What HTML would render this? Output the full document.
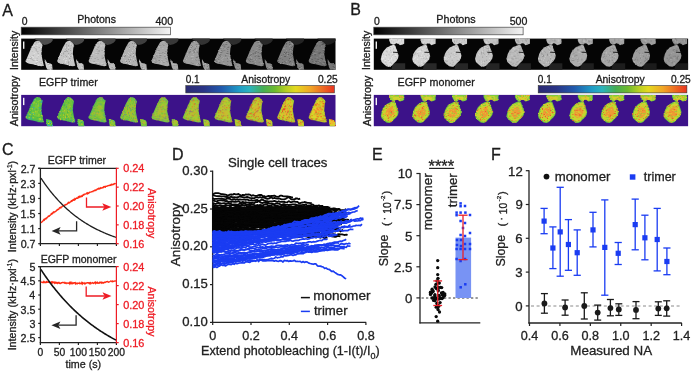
<!DOCTYPE html>
<html><head><meta charset="utf-8"><style>
html,body{margin:0;padding:0;background:#fff;}
body{width:695px;height:375px;overflow:hidden;}
svg{display:block;font-family:"Liberation Sans", sans-serif;will-change:transform;}
</style></head><body>
<svg width="695" height="375" viewBox="0 0 695 375">
<defs>
<linearGradient id="gray" x1="0" x2="1" y1="0" y2="0"><stop offset="0" stop-color="#000"/><stop offset="1" stop-color="#f4f4f4"/></linearGradient>
<linearGradient id="cbar" x1="0" x2="1" y1="0" y2="0">
<stop offset="0" stop-color="#2b2a72"/><stop offset="0.12" stop-color="#2a3486"/><stop offset="0.24" stop-color="#2159ac"/>
<stop offset="0.36" stop-color="#1f9bc6"/><stop offset="0.43" stop-color="#2cb3bc"/><stop offset="0.52" stop-color="#45ad55"/>
<stop offset="0.6" stop-color="#6cb92e"/><stop offset="0.68" stop-color="#b9cf22"/><stop offset="0.74" stop-color="#e3d91f"/>
<stop offset="0.84" stop-color="#f1a526"/><stop offset="1" stop-color="#e8321f"/></linearGradient>

</defs>
<text x="2.37" y="15.50" font-size="16.00" fill="#1b1b1b" stroke="#1b1b1b" stroke-width="0.3">A</text>
<text x="350.19" y="15.20" font-size="16.00" fill="#1b1b1b" stroke="#1b1b1b" stroke-width="0.3">B</text>
<text x="2.09" y="154.60" font-size="16.00" fill="#1b1b1b" stroke="#1b1b1b" stroke-width="0.3">C</text>
<text x="171.99" y="160.00" font-size="16.00" fill="#1b1b1b" stroke="#1b1b1b" stroke-width="0.3">D</text>
<text x="371.99" y="160.00" font-size="16.00" fill="#1b1b1b" stroke="#1b1b1b" stroke-width="0.3">E</text>
<text x="490.99" y="160.00" font-size="16.00" fill="#1b1b1b" stroke="#1b1b1b" stroke-width="0.3">F</text>
<rect x="21.20" y="27.20" width="149.30" height="7.60" fill="url(#gray)" stroke="#444" stroke-width="0.7"/>
<text x="21.79" y="25.20" font-size="10.40" fill="#1b1b1b" stroke="#1b1b1b" stroke-width="0.3">0</text>
<text x="77.34" y="23.10" font-size="10.53" fill="#1b1b1b" stroke="#1b1b1b" stroke-width="0.3">Photons</text>
<text x="155.46" y="25.20" font-size="10.60" fill="#1b1b1b" stroke="#1b1b1b" stroke-width="0.3">400</text>
<rect x="21.20" y="38.60" width="314.30" height="31.20" fill="#050505"/>
<polygon points="34.40,38.60 52.63,38.60 52.63,40.80 50.70,42.80 47.70,44.20 44.40,44.90 42.20,44.00 39.40,41.50 36.00,39.90" fill="#4e4e4e"/>
<polygon points="34.40,42.20 36.40,41.00 38.80,41.00 41.00,42.80 42.60,45.00 41.80,48.60 41.40,54.10 42.40,59.60 43.80,65.60 41.70,66.20 39.60,66.00 35.70,65.00 32.70,64.20 29.20,63.80 26.70,62.80 25.70,61.00 28.40,54.60 31.40,47.60" fill="#d0d0d0"/>
<path fill="#adadad" d="M35.7 41.0h1.0v1.0h-1.0zM38.7 41.0h1.0v1.0h-1.0zM35.7 42.0h1.0v1.0h-1.0zM37.7 42.0h1.0v1.0h-1.0zM33.7 47.0h1.0v1.0h-1.0zM38.7 47.0h1.0v1.0h-1.0zM34.7 48.0h1.0v1.0h-1.0zM35.7 49.0h1.0v1.0h-1.0zM35.7 50.0h1.0v1.0h-1.0zM36.7 51.0h1.0v1.0h-1.0zM37.7 53.0h1.0v1.0h-1.0zM32.7 55.0h1.0v1.0h-1.0zM30.7 57.0h1.0v1.0h-1.0zM27.7 58.0h1.0v1.0h-1.0zM29.7 58.0h1.0v1.0h-1.0zM30.7 58.0h1.0v1.0h-1.0zM31.7 59.0h1.0v1.0h-1.0zM25.7 60.0h1.0v1.0h-1.0zM32.7 60.0h1.0v1.0h-1.0zM36.7 60.0h1.0v1.0h-1.0zM40.7 61.0h1.0v1.0h-1.0zM35.7 63.0h1.0v1.0h-1.0zM40.7 63.0h1.0v1.0h-1.0z"/>
<path fill="#e4e4e4" d="M38.7 43.0h1.0v1.0h-1.0zM33.7 45.0h1.0v1.0h-1.0zM36.7 45.0h1.0v1.0h-1.0zM31.7 46.0h1.0v1.0h-1.0zM40.7 47.0h1.0v1.0h-1.0zM35.7 52.0h1.0v1.0h-1.0zM33.7 53.0h1.0v1.0h-1.0zM37.7 55.0h1.0v1.0h-1.0zM28.7 56.0h1.0v1.0h-1.0zM31.7 56.0h1.0v1.0h-1.0zM36.7 56.0h1.0v1.0h-1.0zM29.7 57.0h1.0v1.0h-1.0zM32.7 57.0h1.0v1.0h-1.0zM26.7 59.0h1.0v1.0h-1.0zM28.7 59.0h1.0v1.0h-1.0zM34.7 59.0h1.0v1.0h-1.0zM25.7 61.0h1.0v1.0h-1.0zM35.7 61.0h1.0v1.0h-1.0zM36.7 61.0h1.0v1.0h-1.0zM34.7 64.0h1.0v1.0h-1.0zM37.7 65.0h1.0v1.0h-1.0z"/>
<path fill="#bebebe" d="M37.7 41.0h1.0v1.0h-1.0zM35.7 43.0h1.0v1.0h-1.0zM34.7 44.0h1.0v1.0h-1.0zM35.7 46.0h1.0v1.0h-1.0zM32.7 47.0h1.0v1.0h-1.0zM30.7 48.0h1.0v1.0h-1.0zM35.7 48.0h1.0v1.0h-1.0zM39.7 50.0h1.0v1.0h-1.0zM31.7 51.0h1.0v1.0h-1.0zM37.7 51.0h1.0v1.0h-1.0zM40.7 51.0h1.0v1.0h-1.0zM36.7 52.0h1.0v1.0h-1.0zM40.7 55.0h1.0v1.0h-1.0zM29.7 56.0h1.0v1.0h-1.0zM37.7 56.0h1.0v1.0h-1.0zM36.7 58.0h1.0v1.0h-1.0zM33.7 60.0h1.0v1.0h-1.0zM38.7 61.0h1.0v1.0h-1.0zM41.7 61.0h1.0v1.0h-1.0zM36.7 62.0h1.0v1.0h-1.0zM38.7 62.0h1.0v1.0h-1.0zM41.7 64.0h1.0v1.0h-1.0zM42.7 65.0h1.0v1.0h-1.0z"/>
<polygon points="44.80,59.00 46.00,61.00 47.40,63.00 50.40,63.50 52.10,64.50 52.60,69.80 47.60,69.80 46.20,67.60 45.40,64.20 44.80,61.60" fill="#d0d0d0"/>
<path fill="#adadad" d="M44.8 61.0h1.0v1.0h-1.0zM47.8 64.0h1.0v1.0h-1.0zM50.8 66.0h1.0v1.0h-1.0zM50.8 68.0h1.0v1.0h-1.0z"/>
<path fill="#e4e4e4" d="M47.8 63.0h1.0v1.0h-1.0zM48.8 65.0h1.0v1.0h-1.0zM49.8 69.0h1.0v1.0h-1.0z"/>
<path fill="#bebebe" d="M48.8 64.0h1.0v1.0h-1.0z"/>
<polygon points="65.83,38.60 84.06,38.60 84.06,40.80 82.13,42.80 79.13,44.20 75.83,44.90 73.63,44.00 70.83,41.50 67.43,39.90" fill="#484848"/>
<polygon points="65.83,42.20 67.83,41.00 70.23,41.00 72.43,42.80 74.03,45.00 73.23,48.60 72.83,54.10 73.83,59.60 75.23,65.60 73.13,66.20 71.03,66.00 67.13,65.00 64.13,64.20 60.63,63.80 58.13,62.80 57.13,61.00 59.83,54.60 62.83,47.60" fill="#c6c6c6"/>
<path fill="#a3a3a3" d="M66.1 44.0h1.0v1.0h-1.0zM68.1 45.0h1.0v1.0h-1.0zM73.1 45.0h1.0v1.0h-1.0zM73.1 46.0h1.0v1.0h-1.0zM68.1 49.0h1.0v1.0h-1.0zM66.1 50.0h1.0v1.0h-1.0zM70.1 50.0h1.0v1.0h-1.0zM64.1 51.0h1.0v1.0h-1.0zM65.1 51.0h1.0v1.0h-1.0zM67.1 51.0h1.0v1.0h-1.0zM63.1 53.0h1.0v1.0h-1.0zM68.1 53.0h1.0v1.0h-1.0zM71.1 53.0h1.0v1.0h-1.0zM61.1 55.0h1.0v1.0h-1.0zM66.1 56.0h1.0v1.0h-1.0zM70.1 56.0h1.0v1.0h-1.0zM69.1 58.0h1.0v1.0h-1.0zM59.1 59.0h1.0v1.0h-1.0zM68.1 62.0h1.0v1.0h-1.0zM60.1 63.0h1.0v1.0h-1.0zM63.1 63.0h1.0v1.0h-1.0z"/>
<path fill="#dadada" d="M69.1 41.0h1.0v1.0h-1.0zM70.1 43.0h1.0v1.0h-1.0zM70.1 44.0h1.0v1.0h-1.0zM72.1 45.0h1.0v1.0h-1.0zM65.1 47.0h1.0v1.0h-1.0zM68.1 47.0h1.0v1.0h-1.0zM61.1 52.0h1.0v1.0h-1.0zM60.1 53.0h1.0v1.0h-1.0zM68.1 55.0h1.0v1.0h-1.0zM72.1 55.0h1.0v1.0h-1.0zM59.1 56.0h1.0v1.0h-1.0zM69.1 56.0h1.0v1.0h-1.0zM72.1 56.0h1.0v1.0h-1.0zM64.1 58.0h1.0v1.0h-1.0zM66.1 58.0h1.0v1.0h-1.0zM63.1 59.0h1.0v1.0h-1.0zM65.1 60.0h1.0v1.0h-1.0zM66.1 60.0h1.0v1.0h-1.0zM69.1 60.0h1.0v1.0h-1.0zM71.1 60.0h1.0v1.0h-1.0zM65.1 61.0h1.0v1.0h-1.0zM65.1 62.0h1.0v1.0h-1.0zM67.1 64.0h1.0v1.0h-1.0zM69.1 65.0h1.0v1.0h-1.0z"/>
<path fill="#b4b4b4" d="M66.1 45.0h1.0v1.0h-1.0zM71.1 45.0h1.0v1.0h-1.0zM66.1 46.0h1.0v1.0h-1.0zM68.1 46.0h1.0v1.0h-1.0zM66.1 47.0h1.0v1.0h-1.0zM66.1 48.0h1.0v1.0h-1.0zM70.1 48.0h1.0v1.0h-1.0zM65.1 49.0h1.0v1.0h-1.0zM66.1 51.0h1.0v1.0h-1.0zM63.1 52.0h1.0v1.0h-1.0zM61.1 53.0h1.0v1.0h-1.0zM63.1 54.0h1.0v1.0h-1.0zM70.1 54.0h1.0v1.0h-1.0zM65.1 55.0h1.0v1.0h-1.0zM63.1 56.0h1.0v1.0h-1.0zM71.1 56.0h1.0v1.0h-1.0zM58.1 57.0h1.0v1.0h-1.0zM70.1 58.0h1.0v1.0h-1.0zM70.1 60.0h1.0v1.0h-1.0zM68.1 61.0h1.0v1.0h-1.0zM68.1 63.0h1.0v1.0h-1.0zM68.1 64.0h1.0v1.0h-1.0zM74.1 64.0h1.0v1.0h-1.0zM74.1 65.0h1.0v1.0h-1.0z"/>
<polygon points="76.23,59.00 77.43,61.00 78.83,63.00 81.83,63.50 83.53,64.50 84.03,69.80 79.03,69.80 77.63,67.60 76.83,64.20 76.23,61.60" fill="#c6c6c6"/>
<path fill="#a3a3a3" d="M76.2 61.0h1.0v1.0h-1.0zM79.2 63.0h1.0v1.0h-1.0zM80.2 63.0h1.0v1.0h-1.0zM82.2 66.0h1.0v1.0h-1.0z"/>
<path fill="#dadada" d="M79.2 64.0h1.0v1.0h-1.0zM81.2 67.0h1.0v1.0h-1.0z"/>
<path fill="#b4b4b4" d="M77.2 61.0h1.0v1.0h-1.0zM77.2 63.0h1.0v1.0h-1.0zM81.2 63.0h1.0v1.0h-1.0zM78.2 64.0h1.0v1.0h-1.0zM77.2 66.0h1.0v1.0h-1.0zM79.2 69.0h1.0v1.0h-1.0z"/>
<polygon points="97.26,38.60 115.49,38.60 115.49,40.80 113.56,42.80 110.56,44.20 107.26,44.90 105.06,44.00 102.26,41.50 98.86,39.90" fill="#434343"/>
<polygon points="97.26,42.20 99.26,41.00 101.66,41.00 103.86,42.80 105.46,45.00 104.66,48.60 104.26,54.10 105.26,59.60 106.66,65.60 104.56,66.20 102.46,66.00 98.56,65.00 95.56,64.20 92.06,63.80 89.56,62.80 88.56,61.00 91.26,54.60 94.26,47.60" fill="#bcbcbc"/>
<path fill="#999999" d="M99.6 43.0h1.0v1.0h-1.0zM97.6 47.0h1.0v1.0h-1.0zM96.6 49.0h1.0v1.0h-1.0zM98.6 50.0h1.0v1.0h-1.0zM101.6 50.0h1.0v1.0h-1.0zM98.6 51.0h1.0v1.0h-1.0zM97.6 53.0h1.0v1.0h-1.0zM91.6 56.0h1.0v1.0h-1.0zM102.6 57.0h1.0v1.0h-1.0zM103.6 57.0h1.0v1.0h-1.0zM90.6 58.0h1.0v1.0h-1.0zM94.6 58.0h1.0v1.0h-1.0zM101.6 58.0h1.0v1.0h-1.0zM102.6 58.0h1.0v1.0h-1.0zM97.6 59.0h1.0v1.0h-1.0zM93.6 61.0h1.0v1.0h-1.0zM95.6 63.0h1.0v1.0h-1.0zM105.6 63.0h1.0v1.0h-1.0zM98.6 64.0h1.0v1.0h-1.0zM102.6 64.0h1.0v1.0h-1.0zM101.6 65.0h1.0v1.0h-1.0z"/>
<path fill="#d0d0d0" d="M98.6 42.0h1.0v1.0h-1.0zM98.6 43.0h1.0v1.0h-1.0zM95.6 44.0h1.0v1.0h-1.0zM96.6 45.0h1.0v1.0h-1.0zM100.6 45.0h1.0v1.0h-1.0zM102.6 45.0h1.0v1.0h-1.0zM100.6 46.0h1.0v1.0h-1.0zM95.6 47.0h1.0v1.0h-1.0zM103.6 50.0h1.0v1.0h-1.0zM95.6 52.0h1.0v1.0h-1.0zM92.6 53.0h1.0v1.0h-1.0zM103.6 53.0h1.0v1.0h-1.0zM95.6 54.0h1.0v1.0h-1.0zM90.6 55.0h1.0v1.0h-1.0zM91.6 62.0h1.0v1.0h-1.0zM93.6 62.0h1.0v1.0h-1.0zM95.6 62.0h1.0v1.0h-1.0zM97.6 62.0h1.0v1.0h-1.0zM101.6 63.0h1.0v1.0h-1.0zM104.6 65.0h1.0v1.0h-1.0z"/>
<path fill="#aaaaaa" d="M100.6 41.0h1.0v1.0h-1.0zM97.6 43.0h1.0v1.0h-1.0zM103.6 43.0h1.0v1.0h-1.0zM94.6 46.0h1.0v1.0h-1.0zM98.6 46.0h1.0v1.0h-1.0zM97.6 51.0h1.0v1.0h-1.0zM103.6 52.0h1.0v1.0h-1.0zM95.6 53.0h1.0v1.0h-1.0zM103.6 54.0h1.0v1.0h-1.0zM101.6 55.0h1.0v1.0h-1.0zM101.6 56.0h1.0v1.0h-1.0zM89.6 57.0h1.0v1.0h-1.0zM96.6 57.0h1.0v1.0h-1.0zM101.6 57.0h1.0v1.0h-1.0zM89.6 60.0h1.0v1.0h-1.0zM103.6 61.0h1.0v1.0h-1.0z"/>
<polygon points="107.66,59.00 108.86,61.00 110.26,63.00 113.26,63.50 114.96,64.50 115.46,69.80 110.46,69.80 109.06,67.60 108.26,64.20 107.66,61.60" fill="#bcbcbc"/>
<path fill="#999999" d="M108.7 62.0h1.0v1.0h-1.0zM113.7 64.0h1.0v1.0h-1.0zM111.7 67.0h1.0v1.0h-1.0z"/>
<path fill="#d0d0d0" d="M107.7 62.0h1.0v1.0h-1.0zM112.7 63.0h1.0v1.0h-1.0zM109.7 67.0h1.0v1.0h-1.0z"/>
<path fill="#aaaaaa" d="M109.7 63.0h1.0v1.0h-1.0zM108.7 64.0h1.0v1.0h-1.0zM109.7 64.0h1.0v1.0h-1.0zM113.7 65.0h1.0v1.0h-1.0zM110.7 67.0h1.0v1.0h-1.0zM114.7 67.0h1.0v1.0h-1.0zM112.7 68.0h1.0v1.0h-1.0z"/>
<polygon points="128.69,38.60 146.92,38.60 146.92,40.80 144.99,42.80 141.99,44.20 138.69,44.90 136.49,44.00 133.69,41.50 130.29,39.90" fill="#3e3e3e"/>
<polygon points="128.69,42.20 130.69,41.00 133.09,41.00 135.29,42.80 136.89,45.00 136.09,48.60 135.69,54.10 136.69,59.60 138.09,65.60 135.99,66.20 133.89,66.00 129.99,65.00 126.99,64.20 123.49,63.80 120.99,62.80 119.99,61.00 122.69,54.60 125.69,47.60" fill="#b2b2b2"/>
<path fill="#8f8f8f" d="M132.0 43.0h1.0v1.0h-1.0zM134.0 43.0h1.0v1.0h-1.0zM133.0 46.0h1.0v1.0h-1.0zM129.0 47.0h1.0v1.0h-1.0zM135.0 48.0h1.0v1.0h-1.0zM133.0 53.0h1.0v1.0h-1.0zM135.0 54.0h1.0v1.0h-1.0zM125.0 55.0h1.0v1.0h-1.0zM130.0 55.0h1.0v1.0h-1.0zM124.0 56.0h1.0v1.0h-1.0zM133.0 56.0h1.0v1.0h-1.0zM128.0 59.0h1.0v1.0h-1.0zM130.0 59.0h1.0v1.0h-1.0zM135.0 60.0h1.0v1.0h-1.0zM126.0 61.0h1.0v1.0h-1.0zM129.0 61.0h1.0v1.0h-1.0zM123.0 63.0h1.0v1.0h-1.0zM137.0 65.0h1.0v1.0h-1.0z"/>
<path fill="#c6c6c6" d="M135.0 45.0h1.0v1.0h-1.0zM129.0 48.0h1.0v1.0h-1.0zM134.0 48.0h1.0v1.0h-1.0zM132.0 50.0h1.0v1.0h-1.0zM128.0 52.0h1.0v1.0h-1.0zM131.0 52.0h1.0v1.0h-1.0zM129.0 53.0h1.0v1.0h-1.0zM123.0 54.0h1.0v1.0h-1.0zM125.0 54.0h1.0v1.0h-1.0zM127.0 54.0h1.0v1.0h-1.0zM133.0 54.0h1.0v1.0h-1.0zM128.0 55.0h1.0v1.0h-1.0zM132.0 55.0h1.0v1.0h-1.0zM135.0 56.0h1.0v1.0h-1.0zM123.0 57.0h1.0v1.0h-1.0zM129.0 58.0h1.0v1.0h-1.0zM131.0 58.0h1.0v1.0h-1.0zM133.0 59.0h1.0v1.0h-1.0zM125.0 60.0h1.0v1.0h-1.0zM130.0 61.0h1.0v1.0h-1.0zM126.0 62.0h1.0v1.0h-1.0zM128.0 63.0h1.0v1.0h-1.0zM129.0 64.0h1.0v1.0h-1.0zM130.0 64.0h1.0v1.0h-1.0z"/>
<path fill="#a0a0a0" d="M132.0 41.0h1.0v1.0h-1.0zM129.0 44.0h1.0v1.0h-1.0zM127.0 45.0h1.0v1.0h-1.0zM128.0 45.0h1.0v1.0h-1.0zM136.0 45.0h1.0v1.0h-1.0zM127.0 46.0h1.0v1.0h-1.0zM124.0 50.0h1.0v1.0h-1.0zM122.0 56.0h1.0v1.0h-1.0zM125.0 56.0h1.0v1.0h-1.0zM121.0 57.0h1.0v1.0h-1.0zM129.0 57.0h1.0v1.0h-1.0zM122.0 61.0h1.0v1.0h-1.0zM133.0 61.0h1.0v1.0h-1.0zM136.0 61.0h1.0v1.0h-1.0zM127.0 63.0h1.0v1.0h-1.0zM132.0 64.0h1.0v1.0h-1.0zM134.0 65.0h1.0v1.0h-1.0z"/>
<polygon points="139.09,59.00 140.29,61.00 141.69,63.00 144.69,63.50 146.39,64.50 146.89,69.80 141.89,69.80 140.49,67.60 139.69,64.20 139.09,61.60" fill="#b2b2b2"/>
<path fill="#8f8f8f" d="M142.1 67.0h1.0v1.0h-1.0zM146.1 68.0h1.0v1.0h-1.0zM142.1 69.0h1.0v1.0h-1.0z"/>
<path fill="#c6c6c6" d="M139.1 61.0h1.0v1.0h-1.0zM143.1 68.0h1.0v1.0h-1.0zM145.1 69.0h1.0v1.0h-1.0z"/>
<path fill="#a0a0a0" d="M145.1 64.0h1.0v1.0h-1.0zM142.1 65.0h1.0v1.0h-1.0zM146.1 69.0h1.0v1.0h-1.0z"/>
<polygon points="160.12,38.60 178.35,38.60 178.35,40.80 176.42,42.80 173.42,44.20 170.12,44.90 167.92,44.00 165.12,41.50 161.72,39.90" fill="#383838"/>
<polygon points="160.12,42.20 162.12,41.00 164.52,41.00 166.72,42.80 168.32,45.00 167.52,48.60 167.12,54.10 168.12,59.60 169.52,65.60 167.42,66.20 165.32,66.00 161.42,65.00 158.42,64.20 154.92,63.80 152.42,62.80 151.42,61.00 154.12,54.60 157.12,47.60" fill="#a8a8a8"/>
<path fill="#858585" d="M159.4 45.0h1.0v1.0h-1.0zM163.4 45.0h1.0v1.0h-1.0zM156.4 48.0h1.0v1.0h-1.0zM158.4 50.0h1.0v1.0h-1.0zM165.4 51.0h1.0v1.0h-1.0zM162.4 52.0h1.0v1.0h-1.0zM159.4 53.0h1.0v1.0h-1.0zM164.4 53.0h1.0v1.0h-1.0zM159.4 55.0h1.0v1.0h-1.0zM160.4 55.0h1.0v1.0h-1.0zM164.4 56.0h1.0v1.0h-1.0zM159.4 57.0h1.0v1.0h-1.0zM153.4 58.0h1.0v1.0h-1.0zM165.4 58.0h1.0v1.0h-1.0zM151.4 60.0h1.0v1.0h-1.0zM155.4 60.0h1.0v1.0h-1.0zM158.4 60.0h1.0v1.0h-1.0zM159.4 60.0h1.0v1.0h-1.0zM162.4 61.0h1.0v1.0h-1.0zM166.4 61.0h1.0v1.0h-1.0zM155.4 62.0h1.0v1.0h-1.0zM163.4 62.0h1.0v1.0h-1.0z"/>
<path fill="#bcbcbc" d="M163.4 41.0h1.0v1.0h-1.0zM166.4 43.0h1.0v1.0h-1.0zM158.4 46.0h1.0v1.0h-1.0zM159.4 47.0h1.0v1.0h-1.0zM162.4 48.0h1.0v1.0h-1.0zM166.4 48.0h1.0v1.0h-1.0zM157.4 51.0h1.0v1.0h-1.0zM156.4 54.0h1.0v1.0h-1.0zM158.4 54.0h1.0v1.0h-1.0zM160.4 54.0h1.0v1.0h-1.0zM164.4 54.0h1.0v1.0h-1.0zM153.4 55.0h1.0v1.0h-1.0zM166.4 56.0h1.0v1.0h-1.0zM161.4 59.0h1.0v1.0h-1.0zM154.4 60.0h1.0v1.0h-1.0zM160.4 60.0h1.0v1.0h-1.0zM161.4 61.0h1.0v1.0h-1.0zM163.4 61.0h1.0v1.0h-1.0zM152.4 62.0h1.0v1.0h-1.0zM160.4 62.0h1.0v1.0h-1.0zM160.4 63.0h1.0v1.0h-1.0z"/>
<path fill="#969696" d="M164.4 41.0h1.0v1.0h-1.0zM165.4 43.0h1.0v1.0h-1.0zM162.4 44.0h1.0v1.0h-1.0zM166.4 44.0h1.0v1.0h-1.0zM160.4 45.0h1.0v1.0h-1.0zM160.4 47.0h1.0v1.0h-1.0zM157.4 48.0h1.0v1.0h-1.0zM155.4 50.0h1.0v1.0h-1.0zM156.4 50.0h1.0v1.0h-1.0zM166.4 51.0h1.0v1.0h-1.0zM161.4 53.0h1.0v1.0h-1.0zM154.4 54.0h1.0v1.0h-1.0zM166.4 54.0h1.0v1.0h-1.0zM156.4 55.0h1.0v1.0h-1.0zM156.4 56.0h1.0v1.0h-1.0zM154.4 57.0h1.0v1.0h-1.0zM157.4 57.0h1.0v1.0h-1.0zM154.4 58.0h1.0v1.0h-1.0zM155.4 58.0h1.0v1.0h-1.0zM155.4 59.0h1.0v1.0h-1.0zM166.4 59.0h1.0v1.0h-1.0zM161.4 60.0h1.0v1.0h-1.0zM154.4 61.0h1.0v1.0h-1.0zM156.4 61.0h1.0v1.0h-1.0zM159.4 62.0h1.0v1.0h-1.0zM167.4 62.0h1.0v1.0h-1.0z"/>
<polygon points="170.52,59.00 171.72,61.00 173.12,63.00 176.12,63.50 177.82,64.50 178.32,69.80 173.32,69.80 171.92,67.60 171.12,64.20 170.52,61.60" fill="#a8a8a8"/>
<path fill="#858585" d="M175.5 63.0h1.0v1.0h-1.0zM176.5 65.0h1.0v1.0h-1.0zM173.5 69.0h1.0v1.0h-1.0zM176.5 69.0h1.0v1.0h-1.0z"/>
<path fill="#bcbcbc" d="M172.5 64.0h1.0v1.0h-1.0zM174.5 64.0h1.0v1.0h-1.0zM175.5 69.0h1.0v1.0h-1.0z"/>
<path fill="#969696" d="M170.5 61.0h1.0v1.0h-1.0zM171.5 61.0h1.0v1.0h-1.0zM173.5 65.0h1.0v1.0h-1.0zM174.5 65.0h1.0v1.0h-1.0zM176.5 68.0h1.0v1.0h-1.0z"/>
<polygon points="191.55,38.60 209.78,38.60 209.78,40.80 207.85,42.80 204.85,44.20 201.55,44.90 199.35,44.00 196.55,41.50 193.15,39.90" fill="#333333"/>
<polygon points="191.55,42.20 193.55,41.00 195.95,41.00 198.15,42.80 199.75,45.00 198.95,48.60 198.55,54.10 199.55,59.60 200.95,65.60 198.85,66.20 196.75,66.00 192.85,65.00 189.85,64.20 186.35,63.80 183.85,62.80 182.85,61.00 185.55,54.60 188.55,47.60" fill="#9e9e9e"/>
<path fill="#7b7b7b" d="M194.8 41.0h1.0v1.0h-1.0zM191.8 42.0h1.0v1.0h-1.0zM195.8 44.0h1.0v1.0h-1.0zM197.8 44.0h1.0v1.0h-1.0zM190.8 45.0h1.0v1.0h-1.0zM191.8 46.0h1.0v1.0h-1.0zM195.8 46.0h1.0v1.0h-1.0zM190.8 47.0h1.0v1.0h-1.0zM194.8 48.0h1.0v1.0h-1.0zM189.8 49.0h1.0v1.0h-1.0zM193.8 49.0h1.0v1.0h-1.0zM194.8 49.0h1.0v1.0h-1.0zM192.8 50.0h1.0v1.0h-1.0zM189.8 51.0h1.0v1.0h-1.0zM193.8 51.0h1.0v1.0h-1.0zM188.8 52.0h1.0v1.0h-1.0zM193.8 52.0h1.0v1.0h-1.0zM196.8 52.0h1.0v1.0h-1.0zM197.8 56.0h1.0v1.0h-1.0zM195.8 57.0h1.0v1.0h-1.0zM196.8 57.0h1.0v1.0h-1.0zM197.8 63.0h1.0v1.0h-1.0zM190.8 64.0h1.0v1.0h-1.0zM198.8 64.0h1.0v1.0h-1.0z"/>
<path fill="#b2b2b2" d="M193.8 41.0h1.0v1.0h-1.0zM197.8 45.0h1.0v1.0h-1.0zM190.8 46.0h1.0v1.0h-1.0zM194.8 46.0h1.0v1.0h-1.0zM189.8 48.0h1.0v1.0h-1.0zM195.8 49.0h1.0v1.0h-1.0zM194.8 51.0h1.0v1.0h-1.0zM191.8 52.0h1.0v1.0h-1.0zM186.8 53.0h1.0v1.0h-1.0zM192.8 54.0h1.0v1.0h-1.0zM187.8 56.0h1.0v1.0h-1.0zM190.8 56.0h1.0v1.0h-1.0zM191.8 56.0h1.0v1.0h-1.0zM192.8 56.0h1.0v1.0h-1.0zM185.8 59.0h1.0v1.0h-1.0zM191.8 59.0h1.0v1.0h-1.0zM193.8 59.0h1.0v1.0h-1.0zM196.8 63.0h1.0v1.0h-1.0zM195.8 64.0h1.0v1.0h-1.0z"/>
<path fill="#8c8c8c" d="M195.8 41.0h1.0v1.0h-1.0zM192.8 42.0h1.0v1.0h-1.0zM196.8 44.0h1.0v1.0h-1.0zM197.8 48.0h1.0v1.0h-1.0zM188.8 51.0h1.0v1.0h-1.0zM196.8 51.0h1.0v1.0h-1.0zM189.8 52.0h1.0v1.0h-1.0zM185.8 53.0h1.0v1.0h-1.0zM188.8 53.0h1.0v1.0h-1.0zM186.8 56.0h1.0v1.0h-1.0zM196.8 56.0h1.0v1.0h-1.0zM190.8 58.0h1.0v1.0h-1.0zM184.8 59.0h1.0v1.0h-1.0zM194.8 59.0h1.0v1.0h-1.0zM198.8 59.0h1.0v1.0h-1.0zM195.8 60.0h1.0v1.0h-1.0zM197.8 60.0h1.0v1.0h-1.0zM183.8 61.0h1.0v1.0h-1.0zM184.8 62.0h1.0v1.0h-1.0zM190.8 62.0h1.0v1.0h-1.0zM191.8 63.0h1.0v1.0h-1.0zM192.8 63.0h1.0v1.0h-1.0zM199.8 65.0h1.0v1.0h-1.0z"/>
<polygon points="201.95,59.00 203.15,61.00 204.55,63.00 207.55,63.50 209.25,64.50 209.75,69.80 204.75,69.80 203.35,67.60 202.55,64.20 201.95,61.60" fill="#9e9e9e"/>
<path fill="#7b7b7b" d="M203.9 65.0h1.0v1.0h-1.0zM206.9 66.0h1.0v1.0h-1.0zM207.9 68.0h1.0v1.0h-1.0zM208.9 69.0h1.0v1.0h-1.0z"/>
<path fill="#b2b2b2" d="M204.9 63.0h1.0v1.0h-1.0zM202.9 64.0h1.0v1.0h-1.0zM207.9 64.0h1.0v1.0h-1.0zM204.9 69.0h1.0v1.0h-1.0z"/>
<path fill="#8c8c8c" d="M206.9 64.0h1.0v1.0h-1.0zM202.9 65.0h1.0v1.0h-1.0zM207.9 65.0h1.0v1.0h-1.0zM203.9 66.0h1.0v1.0h-1.0zM205.9 68.0h1.0v1.0h-1.0z"/>
<polygon points="222.98,38.60 241.21,38.60 241.21,40.80 239.28,42.80 236.28,44.20 232.98,44.90 230.78,44.00 227.98,41.50 224.58,39.90" fill="#2e2e2e"/>
<polygon points="222.98,42.20 224.98,41.00 227.38,41.00 229.58,42.80 231.18,45.00 230.38,48.60 229.98,54.10 230.98,59.60 232.38,65.60 230.28,66.20 228.18,66.00 224.28,65.00 221.28,64.20 217.78,63.80 215.28,62.80 214.28,61.00 216.98,54.60 219.98,47.60" fill="#949494"/>
<path fill="#717171" d="M227.3 41.0h1.0v1.0h-1.0zM226.3 42.0h1.0v1.0h-1.0zM223.3 44.0h1.0v1.0h-1.0zM225.3 44.0h1.0v1.0h-1.0zM226.3 44.0h1.0v1.0h-1.0zM222.3 45.0h1.0v1.0h-1.0zM230.3 45.0h1.0v1.0h-1.0zM224.3 46.0h1.0v1.0h-1.0zM227.3 47.0h1.0v1.0h-1.0zM228.3 47.0h1.0v1.0h-1.0zM220.3 48.0h1.0v1.0h-1.0zM227.3 49.0h1.0v1.0h-1.0zM221.3 50.0h1.0v1.0h-1.0zM227.3 51.0h1.0v1.0h-1.0zM220.3 52.0h1.0v1.0h-1.0zM221.3 52.0h1.0v1.0h-1.0zM226.3 53.0h1.0v1.0h-1.0zM227.3 53.0h1.0v1.0h-1.0zM220.3 54.0h1.0v1.0h-1.0zM219.3 55.0h1.0v1.0h-1.0zM225.3 55.0h1.0v1.0h-1.0zM220.3 56.0h1.0v1.0h-1.0zM218.3 57.0h1.0v1.0h-1.0zM227.3 58.0h1.0v1.0h-1.0zM215.3 59.0h1.0v1.0h-1.0zM218.3 59.0h1.0v1.0h-1.0zM215.3 60.0h1.0v1.0h-1.0zM216.3 61.0h1.0v1.0h-1.0zM227.3 61.0h1.0v1.0h-1.0zM230.3 61.0h1.0v1.0h-1.0zM219.3 62.0h1.0v1.0h-1.0zM228.3 65.0h1.0v1.0h-1.0z"/>
<path fill="#a8a8a8" d="M226.3 41.0h1.0v1.0h-1.0zM221.3 47.0h1.0v1.0h-1.0zM224.3 48.0h1.0v1.0h-1.0zM218.3 50.0h1.0v1.0h-1.0zM220.3 51.0h1.0v1.0h-1.0zM219.3 53.0h1.0v1.0h-1.0zM226.3 54.0h1.0v1.0h-1.0zM229.3 55.0h1.0v1.0h-1.0zM221.3 56.0h1.0v1.0h-1.0zM217.3 57.0h1.0v1.0h-1.0zM223.3 57.0h1.0v1.0h-1.0zM225.3 57.0h1.0v1.0h-1.0zM228.3 57.0h1.0v1.0h-1.0zM215.3 58.0h1.0v1.0h-1.0zM222.3 58.0h1.0v1.0h-1.0zM228.3 58.0h1.0v1.0h-1.0zM221.3 59.0h1.0v1.0h-1.0zM229.3 59.0h1.0v1.0h-1.0zM230.3 59.0h1.0v1.0h-1.0zM218.3 60.0h1.0v1.0h-1.0zM222.3 60.0h1.0v1.0h-1.0zM214.3 61.0h1.0v1.0h-1.0zM218.3 61.0h1.0v1.0h-1.0zM223.3 63.0h1.0v1.0h-1.0zM228.3 64.0h1.0v1.0h-1.0zM231.3 65.0h1.0v1.0h-1.0z"/>
<path fill="#828282" d="M224.3 45.0h1.0v1.0h-1.0zM223.3 46.0h1.0v1.0h-1.0zM228.3 46.0h1.0v1.0h-1.0zM224.3 47.0h1.0v1.0h-1.0zM223.3 48.0h1.0v1.0h-1.0zM226.3 48.0h1.0v1.0h-1.0zM223.3 50.0h1.0v1.0h-1.0zM224.3 50.0h1.0v1.0h-1.0zM222.3 51.0h1.0v1.0h-1.0zM228.3 53.0h1.0v1.0h-1.0zM218.3 54.0h1.0v1.0h-1.0zM225.3 56.0h1.0v1.0h-1.0zM217.3 58.0h1.0v1.0h-1.0zM223.3 61.0h1.0v1.0h-1.0zM219.3 63.0h1.0v1.0h-1.0zM227.3 64.0h1.0v1.0h-1.0z"/>
<polygon points="233.38,59.00 234.58,61.00 235.98,63.00 238.98,63.50 240.68,64.50 241.18,69.80 236.18,69.80 234.78,67.60 233.98,64.20 233.38,61.60" fill="#949494"/>
<path fill="#717171" d="M233.4 63.0h1.0v1.0h-1.0zM237.4 66.0h1.0v1.0h-1.0zM239.4 68.0h1.0v1.0h-1.0z"/>
<path fill="#a8a8a8" d="M233.4 61.0h1.0v1.0h-1.0zM239.4 69.0h1.0v1.0h-1.0z"/>
<path fill="#828282" d="M234.4 61.0h1.0v1.0h-1.0zM234.4 63.0h1.0v1.0h-1.0zM234.4 64.0h1.0v1.0h-1.0zM235.4 64.0h1.0v1.0h-1.0zM235.4 65.0h1.0v1.0h-1.0zM236.4 68.0h1.0v1.0h-1.0zM238.4 69.0h1.0v1.0h-1.0z"/>
<polygon points="254.41,38.60 272.64,38.60 272.64,40.80 270.71,42.80 267.71,44.20 264.41,44.90 262.21,44.00 259.41,41.50 256.01,39.90" fill="#282828"/>
<polygon points="254.41,42.20 256.41,41.00 258.81,41.00 261.01,42.80 262.61,45.00 261.81,48.60 261.41,54.10 262.41,59.60 263.81,65.60 261.71,66.20 259.61,66.00 255.71,65.00 252.71,64.20 249.21,63.80 246.71,62.80 245.71,61.00 248.41,54.60 251.41,47.60" fill="#8a8a8a"/>
<path fill="#676767" d="M257.7 42.0h1.0v1.0h-1.0zM261.7 44.0h1.0v1.0h-1.0zM258.7 45.0h1.0v1.0h-1.0zM259.7 46.0h1.0v1.0h-1.0zM258.7 47.0h1.0v1.0h-1.0zM260.7 47.0h1.0v1.0h-1.0zM258.7 49.0h1.0v1.0h-1.0zM255.7 51.0h1.0v1.0h-1.0zM254.7 52.0h1.0v1.0h-1.0zM257.7 52.0h1.0v1.0h-1.0zM252.7 53.0h1.0v1.0h-1.0zM254.7 53.0h1.0v1.0h-1.0zM259.7 53.0h1.0v1.0h-1.0zM250.7 54.0h1.0v1.0h-1.0zM249.7 55.0h1.0v1.0h-1.0zM254.7 56.0h1.0v1.0h-1.0zM257.7 56.0h1.0v1.0h-1.0zM258.7 56.0h1.0v1.0h-1.0zM246.7 58.0h1.0v1.0h-1.0zM249.7 58.0h1.0v1.0h-1.0zM258.7 58.0h1.0v1.0h-1.0zM247.7 59.0h1.0v1.0h-1.0zM249.7 59.0h1.0v1.0h-1.0zM250.7 59.0h1.0v1.0h-1.0zM254.7 59.0h1.0v1.0h-1.0zM248.7 60.0h1.0v1.0h-1.0zM249.7 61.0h1.0v1.0h-1.0zM253.7 63.0h1.0v1.0h-1.0zM262.7 64.0h1.0v1.0h-1.0zM257.7 65.0h1.0v1.0h-1.0z"/>
<path fill="#9e9e9e" d="M257.7 41.0h1.0v1.0h-1.0zM258.7 41.0h1.0v1.0h-1.0zM258.7 43.0h1.0v1.0h-1.0zM256.7 47.0h1.0v1.0h-1.0zM255.7 50.0h1.0v1.0h-1.0zM260.7 51.0h1.0v1.0h-1.0zM250.7 53.0h1.0v1.0h-1.0zM255.7 54.0h1.0v1.0h-1.0zM249.7 56.0h1.0v1.0h-1.0zM250.7 57.0h1.0v1.0h-1.0zM250.7 58.0h1.0v1.0h-1.0zM253.7 59.0h1.0v1.0h-1.0zM255.7 59.0h1.0v1.0h-1.0zM259.7 60.0h1.0v1.0h-1.0zM254.7 61.0h1.0v1.0h-1.0zM254.7 63.0h1.0v1.0h-1.0zM260.7 63.0h1.0v1.0h-1.0zM262.7 63.0h1.0v1.0h-1.0z"/>
<path fill="#787878" d="M256.7 42.0h1.0v1.0h-1.0zM259.7 45.0h1.0v1.0h-1.0zM256.7 46.0h1.0v1.0h-1.0zM260.7 48.0h1.0v1.0h-1.0zM260.7 49.0h1.0v1.0h-1.0zM252.7 50.0h1.0v1.0h-1.0zM249.7 51.0h1.0v1.0h-1.0zM252.7 54.0h1.0v1.0h-1.0zM255.7 55.0h1.0v1.0h-1.0zM257.7 55.0h1.0v1.0h-1.0zM248.7 56.0h1.0v1.0h-1.0zM247.7 58.0h1.0v1.0h-1.0zM260.7 58.0h1.0v1.0h-1.0zM251.7 59.0h1.0v1.0h-1.0zM251.7 61.0h1.0v1.0h-1.0zM252.7 61.0h1.0v1.0h-1.0zM258.7 62.0h1.0v1.0h-1.0zM258.7 65.0h1.0v1.0h-1.0z"/>
<polygon points="264.81,59.00 266.01,61.00 267.41,63.00 270.41,63.50 272.11,64.50 272.61,69.80 267.61,69.80 266.21,67.60 265.41,64.20 264.81,61.60" fill="#8a8a8a"/>
<path fill="#676767" d="M265.8 61.0h1.0v1.0h-1.0zM267.8 63.0h1.0v1.0h-1.0zM270.8 65.0h1.0v1.0h-1.0zM266.8 67.0h1.0v1.0h-1.0zM268.8 68.0h1.0v1.0h-1.0zM271.8 68.0h1.0v1.0h-1.0z"/>
<path fill="#9e9e9e" d="M269.8 66.0h1.0v1.0h-1.0zM268.8 67.0h1.0v1.0h-1.0zM271.8 67.0h1.0v1.0h-1.0z"/>
<path fill="#787878" d="M270.8 64.0h1.0v1.0h-1.0zM267.8 68.0h1.0v1.0h-1.0zM271.8 69.0h1.0v1.0h-1.0z"/>
<polygon points="285.84,38.60 304.07,38.60 304.07,40.80 302.14,42.80 299.14,44.20 295.84,44.90 293.64,44.00 290.84,41.50 287.44,39.90" fill="#232323"/>
<polygon points="285.84,42.20 287.84,41.00 290.24,41.00 292.44,42.80 294.04,45.00 293.24,48.60 292.84,54.10 293.84,59.60 295.24,65.60 293.14,66.20 291.04,66.00 287.14,65.00 284.14,64.20 280.64,63.80 278.14,62.80 277.14,61.00 279.84,54.60 282.84,47.60" fill="#808080"/>
<path fill="#5d5d5d" d="M289.1 42.0h1.0v1.0h-1.0zM286.1 43.0h1.0v1.0h-1.0zM289.1 44.0h1.0v1.0h-1.0zM293.1 45.0h1.0v1.0h-1.0zM292.1 46.0h1.0v1.0h-1.0zM291.1 47.0h1.0v1.0h-1.0zM292.1 50.0h1.0v1.0h-1.0zM284.1 52.0h1.0v1.0h-1.0zM286.1 52.0h1.0v1.0h-1.0zM285.1 53.0h1.0v1.0h-1.0zM291.1 53.0h1.0v1.0h-1.0zM288.1 54.0h1.0v1.0h-1.0zM292.1 54.0h1.0v1.0h-1.0zM284.1 56.0h1.0v1.0h-1.0zM285.1 56.0h1.0v1.0h-1.0zM289.1 58.0h1.0v1.0h-1.0zM278.1 59.0h1.0v1.0h-1.0zM293.1 60.0h1.0v1.0h-1.0zM278.1 61.0h1.0v1.0h-1.0zM290.1 61.0h1.0v1.0h-1.0zM282.1 62.0h1.0v1.0h-1.0zM293.1 65.0h1.0v1.0h-1.0z"/>
<path fill="#949494" d="M291.1 43.0h1.0v1.0h-1.0zM292.1 43.0h1.0v1.0h-1.0zM292.1 44.0h1.0v1.0h-1.0zM290.1 45.0h1.0v1.0h-1.0zM289.1 46.0h1.0v1.0h-1.0zM283.1 48.0h1.0v1.0h-1.0zM284.1 48.0h1.0v1.0h-1.0zM286.1 50.0h1.0v1.0h-1.0zM290.1 50.0h1.0v1.0h-1.0zM284.1 53.0h1.0v1.0h-1.0zM287.1 53.0h1.0v1.0h-1.0zM287.1 55.0h1.0v1.0h-1.0zM281.1 56.0h1.0v1.0h-1.0zM290.1 59.0h1.0v1.0h-1.0zM286.1 61.0h1.0v1.0h-1.0zM280.1 63.0h1.0v1.0h-1.0zM283.1 63.0h1.0v1.0h-1.0zM292.1 63.0h1.0v1.0h-1.0zM287.1 64.0h1.0v1.0h-1.0zM289.1 64.0h1.0v1.0h-1.0zM292.1 64.0h1.0v1.0h-1.0z"/>
<path fill="#6e6e6e" d="M289.1 41.0h1.0v1.0h-1.0zM286.1 44.0h1.0v1.0h-1.0zM290.1 44.0h1.0v1.0h-1.0zM293.1 44.0h1.0v1.0h-1.0zM286.1 46.0h1.0v1.0h-1.0zM289.1 49.0h1.0v1.0h-1.0zM291.1 49.0h1.0v1.0h-1.0zM288.1 52.0h1.0v1.0h-1.0zM283.1 54.0h1.0v1.0h-1.0zM281.1 55.0h1.0v1.0h-1.0zM290.1 55.0h1.0v1.0h-1.0zM292.1 56.0h1.0v1.0h-1.0zM291.1 57.0h1.0v1.0h-1.0zM279.1 58.0h1.0v1.0h-1.0zM280.1 58.0h1.0v1.0h-1.0zM282.1 59.0h1.0v1.0h-1.0zM288.1 60.0h1.0v1.0h-1.0zM284.1 61.0h1.0v1.0h-1.0zM289.1 61.0h1.0v1.0h-1.0zM285.1 62.0h1.0v1.0h-1.0zM289.1 62.0h1.0v1.0h-1.0z"/>
<polygon points="296.24,59.00 297.44,61.00 298.84,63.00 301.84,63.50 303.54,64.50 304.04,69.80 299.04,69.80 297.64,67.60 296.84,64.20 296.24,61.60" fill="#808080"/>
<path fill="#5d5d5d" d="M300.2 63.0h1.0v1.0h-1.0zM301.2 63.0h1.0v1.0h-1.0zM299.2 67.0h1.0v1.0h-1.0z"/>
<path fill="#949494" d="M296.2 63.0h1.0v1.0h-1.0zM301.2 67.0h1.0v1.0h-1.0zM299.2 68.0h1.0v1.0h-1.0zM300.2 68.0h1.0v1.0h-1.0zM299.2 69.0h1.0v1.0h-1.0z"/>
<path fill="#6e6e6e" d="M297.2 66.0h1.0v1.0h-1.0zM301.2 66.0h1.0v1.0h-1.0zM297.2 67.0h1.0v1.0h-1.0zM303.2 69.0h1.0v1.0h-1.0z"/>
<polygon points="317.27,38.60 335.50,38.60 335.50,40.80 333.57,42.80 330.57,44.20 327.27,44.90 325.07,44.00 322.27,41.50 318.87,39.90" fill="#1e1e1e"/>
<polygon points="317.27,42.20 319.27,41.00 321.67,41.00 323.87,42.80 325.47,45.00 324.67,48.60 324.27,54.10 325.27,59.60 326.67,65.60 324.57,66.20 322.47,66.00 318.57,65.00 315.57,64.20 312.07,63.80 309.57,62.80 308.57,61.00 311.27,54.60 314.27,47.60" fill="#767676"/>
<path fill="#535353" d="M321.6 42.0h1.0v1.0h-1.0zM322.6 43.0h1.0v1.0h-1.0zM323.6 43.0h1.0v1.0h-1.0zM321.6 44.0h1.0v1.0h-1.0zM322.6 44.0h1.0v1.0h-1.0zM313.6 49.0h1.0v1.0h-1.0zM312.6 50.0h1.0v1.0h-1.0zM313.6 51.0h1.0v1.0h-1.0zM319.6 52.0h1.0v1.0h-1.0zM323.6 52.0h1.0v1.0h-1.0zM311.6 53.0h1.0v1.0h-1.0zM318.6 53.0h1.0v1.0h-1.0zM314.6 54.0h1.0v1.0h-1.0zM320.6 58.0h1.0v1.0h-1.0zM321.6 58.0h1.0v1.0h-1.0zM311.6 59.0h1.0v1.0h-1.0zM317.6 59.0h1.0v1.0h-1.0zM321.6 59.0h1.0v1.0h-1.0zM312.6 61.0h1.0v1.0h-1.0zM315.6 61.0h1.0v1.0h-1.0zM323.6 62.0h1.0v1.0h-1.0zM314.6 63.0h1.0v1.0h-1.0zM325.6 64.0h1.0v1.0h-1.0zM322.6 65.0h1.0v1.0h-1.0z"/>
<path fill="#8a8a8a" d="M318.6 41.0h1.0v1.0h-1.0zM316.6 43.0h1.0v1.0h-1.0zM320.6 46.0h1.0v1.0h-1.0zM322.6 49.0h1.0v1.0h-1.0zM323.6 49.0h1.0v1.0h-1.0zM316.6 50.0h1.0v1.0h-1.0zM313.6 53.0h1.0v1.0h-1.0zM314.6 53.0h1.0v1.0h-1.0zM315.6 53.0h1.0v1.0h-1.0zM312.6 54.0h1.0v1.0h-1.0zM320.6 54.0h1.0v1.0h-1.0zM322.6 54.0h1.0v1.0h-1.0zM319.6 55.0h1.0v1.0h-1.0zM319.6 56.0h1.0v1.0h-1.0zM310.6 57.0h1.0v1.0h-1.0zM316.6 57.0h1.0v1.0h-1.0zM309.6 59.0h1.0v1.0h-1.0zM320.6 59.0h1.0v1.0h-1.0zM318.6 60.0h1.0v1.0h-1.0zM323.6 60.0h1.0v1.0h-1.0zM313.6 61.0h1.0v1.0h-1.0zM319.6 61.0h1.0v1.0h-1.0zM324.6 61.0h1.0v1.0h-1.0zM314.6 62.0h1.0v1.0h-1.0zM317.6 62.0h1.0v1.0h-1.0zM313.6 63.0h1.0v1.0h-1.0zM322.6 63.0h1.0v1.0h-1.0z"/>
<path fill="#646464" d="M320.6 42.0h1.0v1.0h-1.0zM324.6 44.0h1.0v1.0h-1.0zM316.6 45.0h1.0v1.0h-1.0zM319.6 45.0h1.0v1.0h-1.0zM315.6 46.0h1.0v1.0h-1.0zM319.6 46.0h1.0v1.0h-1.0zM324.6 46.0h1.0v1.0h-1.0zM314.6 49.0h1.0v1.0h-1.0zM322.6 50.0h1.0v1.0h-1.0zM323.6 50.0h1.0v1.0h-1.0zM318.6 52.0h1.0v1.0h-1.0zM310.6 55.0h1.0v1.0h-1.0zM311.6 55.0h1.0v1.0h-1.0zM314.6 55.0h1.0v1.0h-1.0zM323.6 56.0h1.0v1.0h-1.0zM314.6 58.0h1.0v1.0h-1.0zM317.6 61.0h1.0v1.0h-1.0zM319.6 62.0h1.0v1.0h-1.0zM320.6 63.0h1.0v1.0h-1.0zM321.6 64.0h1.0v1.0h-1.0zM324.6 65.0h1.0v1.0h-1.0z"/>
<polygon points="327.67,59.00 328.87,61.00 330.27,63.00 333.27,63.50 334.97,64.50 335.47,69.80 330.47,69.80 329.07,67.60 328.27,64.20 327.67,61.60" fill="#767676"/>
<path fill="#535353" d="M332.7 66.0h1.0v1.0h-1.0zM333.7 67.0h1.0v1.0h-1.0zM331.7 69.0h1.0v1.0h-1.0z"/>
<path fill="#8a8a8a" d="M332.7 63.0h1.0v1.0h-1.0zM328.7 64.0h1.0v1.0h-1.0zM333.7 68.0h1.0v1.0h-1.0zM334.7 69.0h1.0v1.0h-1.0z"/>
<path fill="#646464" d="M332.7 64.0h1.0v1.0h-1.0z"/>
<rect x="23.00" y="41.50" width="1.40" height="7.30" fill="#f0f0f0"/>
<text x="38.93" y="85.70" font-size="10.61" fill="#1b1b1b" stroke="#1b1b1b" stroke-width="0.3">EGFP trimer</text>
<rect x="185.80" y="85.60" width="148.50" height="7.30" fill="url(#cbar)" stroke="#333" stroke-width="0.6"/>
<text x="185.71" y="83.20" font-size="10.00" fill="#1b1b1b" stroke="#1b1b1b" stroke-width="0.3">0.1</text>
<text x="241.28" y="83.00" font-size="10.38" fill="#1b1b1b" stroke="#1b1b1b" stroke-width="0.3">Anisotropy</text>
<text x="317.90" y="83.20" font-size="10.20" fill="#1b1b1b" stroke="#1b1b1b" stroke-width="0.3">0.25</text>
<rect x="21.20" y="94.90" width="314.30" height="31.30" fill="#3c1289"/>
<polygon points="34.40,98.50 36.40,97.30 38.80,97.30 41.00,99.10 42.60,101.30 41.80,104.90 41.40,110.40 42.40,115.90 43.80,121.90 41.70,122.50 39.60,122.30 35.70,121.30 32.70,120.50 29.20,120.10 26.70,119.10 25.70,117.30 28.40,110.90 31.40,103.90" fill="#46b95a"/>
<polygon points="34.74,100.81 36.38,99.83 38.35,99.83 40.16,101.31 41.47,103.11 40.81,106.06 40.48,110.57 41.30,115.08 42.45,120.00 40.73,120.50 39.01,120.33 35.81,119.51 33.35,118.86 30.48,118.53 28.43,117.71 27.61,116.23 29.82,110.98 32.28,105.24" fill="#64c33c"/>
<polygon points="35.36,104.93 36.36,104.33 37.56,104.33 38.66,105.23 39.46,106.33 39.06,108.13 38.86,110.88 39.36,113.63 40.06,116.63 39.01,116.93 37.96,116.83 36.01,116.33 34.51,115.93 32.76,115.73 31.51,115.23 31.01,114.33 32.36,111.13 33.86,107.63" fill="#78c837"/>
<path fill="#32aab4" d="M33.7 99.3h1.0v1.0h-1.0zM41.7 100.3h1.0v1.0h-1.0zM40.7 101.3h1.0v1.0h-1.0zM40.7 102.3h1.0v1.0h-1.0zM31.7 103.3h1.0v1.0h-1.0zM36.7 104.3h1.0v1.0h-1.0zM30.7 105.3h1.0v1.0h-1.0zM32.7 107.3h1.0v1.0h-1.0zM33.7 107.3h1.0v1.0h-1.0zM38.7 107.3h1.0v1.0h-1.0zM39.7 107.3h1.0v1.0h-1.0zM32.7 109.3h1.0v1.0h-1.0zM39.7 109.3h1.0v1.0h-1.0zM29.7 112.3h1.0v1.0h-1.0zM40.7 112.3h1.0v1.0h-1.0zM31.7 113.3h1.0v1.0h-1.0zM33.7 113.3h1.0v1.0h-1.0zM27.7 114.3h1.0v1.0h-1.0zM27.7 115.3h1.0v1.0h-1.0zM30.7 115.3h1.0v1.0h-1.0zM30.7 117.3h1.0v1.0h-1.0zM28.7 118.3h1.0v1.0h-1.0zM30.7 118.3h1.0v1.0h-1.0z"/>
<path fill="#c8d728" d="M34.7 99.3h1.0v1.0h-1.0zM39.7 100.3h1.0v1.0h-1.0zM37.7 101.3h1.0v1.0h-1.0zM33.7 102.3h1.0v1.0h-1.0zM35.7 103.3h1.0v1.0h-1.0zM37.7 105.3h1.0v1.0h-1.0zM31.7 108.3h1.0v1.0h-1.0zM29.7 110.3h1.0v1.0h-1.0zM39.7 110.3h1.0v1.0h-1.0zM34.7 111.3h1.0v1.0h-1.0zM36.7 111.3h1.0v1.0h-1.0zM32.7 112.3h1.0v1.0h-1.0zM29.7 114.3h1.0v1.0h-1.0zM32.7 114.3h1.0v1.0h-1.0zM38.7 114.3h1.0v1.0h-1.0zM40.7 115.3h1.0v1.0h-1.0zM41.7 115.3h1.0v1.0h-1.0zM25.7 116.3h1.0v1.0h-1.0zM28.7 117.3h1.0v1.0h-1.0zM32.7 117.3h1.0v1.0h-1.0zM38.7 118.3h1.0v1.0h-1.0zM39.7 118.3h1.0v1.0h-1.0zM39.7 119.3h1.0v1.0h-1.0z"/>
<path fill="#3caf50" d="M35.7 98.3h1.0v1.0h-1.0zM36.7 98.3h1.0v1.0h-1.0zM38.7 98.3h1.0v1.0h-1.0zM29.7 106.3h1.0v1.0h-1.0zM35.7 109.3h1.0v1.0h-1.0zM30.7 110.3h1.0v1.0h-1.0zM29.7 111.3h1.0v1.0h-1.0zM37.7 111.3h1.0v1.0h-1.0zM28.7 112.3h1.0v1.0h-1.0zM31.7 114.3h1.0v1.0h-1.0zM39.7 114.3h1.0v1.0h-1.0zM28.7 115.3h1.0v1.0h-1.0zM32.7 115.3h1.0v1.0h-1.0zM30.7 116.3h1.0v1.0h-1.0zM40.7 116.3h1.0v1.0h-1.0zM36.7 117.3h1.0v1.0h-1.0zM38.7 117.3h1.0v1.0h-1.0z"/>
<path fill="#96cd32" d="M36.7 97.3h1.0v1.0h-1.0zM39.7 98.3h1.0v1.0h-1.0zM38.7 100.3h1.0v1.0h-1.0zM33.7 101.3h1.0v1.0h-1.0zM32.7 102.3h1.0v1.0h-1.0zM32.7 103.3h1.0v1.0h-1.0zM37.7 103.3h1.0v1.0h-1.0zM40.7 103.3h1.0v1.0h-1.0zM30.7 104.3h1.0v1.0h-1.0zM37.7 104.3h1.0v1.0h-1.0zM29.7 108.3h1.0v1.0h-1.0zM31.7 109.3h1.0v1.0h-1.0zM37.7 110.3h1.0v1.0h-1.0zM27.7 112.3h1.0v1.0h-1.0zM28.7 113.3h1.0v1.0h-1.0zM28.7 114.3h1.0v1.0h-1.0zM37.7 115.3h1.0v1.0h-1.0zM41.7 116.3h1.0v1.0h-1.0zM25.7 117.3h1.0v1.0h-1.0zM41.7 119.3h1.0v1.0h-1.0zM38.7 120.3h1.0v1.0h-1.0zM42.7 121.3h1.0v1.0h-1.0z"/>
<path fill="#5abe46" d="M38.7 97.3h1.0v1.0h-1.0zM37.7 98.3h1.0v1.0h-1.0zM36.7 99.3h1.0v1.0h-1.0zM37.7 99.3h1.0v1.0h-1.0zM38.7 101.3h1.0v1.0h-1.0zM36.7 103.3h1.0v1.0h-1.0zM31.7 104.3h1.0v1.0h-1.0zM40.7 104.3h1.0v1.0h-1.0zM38.7 105.3h1.0v1.0h-1.0zM35.7 108.3h1.0v1.0h-1.0zM30.7 109.3h1.0v1.0h-1.0zM36.7 109.3h1.0v1.0h-1.0zM38.7 109.3h1.0v1.0h-1.0zM40.7 109.3h1.0v1.0h-1.0zM32.7 110.3h1.0v1.0h-1.0zM33.7 110.3h1.0v1.0h-1.0zM38.7 110.3h1.0v1.0h-1.0zM33.7 111.3h1.0v1.0h-1.0zM38.7 112.3h1.0v1.0h-1.0zM26.7 114.3h1.0v1.0h-1.0zM36.7 114.3h1.0v1.0h-1.0zM34.7 116.3h1.0v1.0h-1.0zM37.7 117.3h1.0v1.0h-1.0zM34.7 118.3h1.0v1.0h-1.0zM35.7 118.3h1.0v1.0h-1.0zM36.7 118.3h1.0v1.0h-1.0zM33.7 119.3h1.0v1.0h-1.0zM37.7 121.3h1.0v1.0h-1.0z"/>
<polygon points="46.00,119.10 48.70,119.40 51.20,120.20 52.40,121.90 52.60,126.20 47.00,126.20 46.40,123.40" fill="#46b95a"/>
<polygon points="46.57,119.68 48.79,119.93 50.84,120.59 51.82,121.98 51.99,125.51 47.39,125.51 46.90,123.21" fill="#64c33c"/>
<polygon points="47.59,120.72 48.94,120.87 50.19,121.27 50.79,122.12 50.89,124.27 48.09,124.27 47.79,122.87" fill="#78c837"/>
<path fill="#32aab4" d="M48.0 121.1h1.0v1.0h-1.0zM50.0 122.1h1.0v1.0h-1.0zM47.0 124.1h1.0v1.0h-1.0zM48.0 125.1h1.0v1.0h-1.0zM49.0 125.1h1.0v1.0h-1.0zM52.0 125.1h1.0v1.0h-1.0z"/>
<path fill="#c8d728" d="M48.0 123.1h1.0v1.0h-1.0z"/>
<path fill="#3caf50" d="M48.0 122.1h1.0v1.0h-1.0zM50.0 123.1h1.0v1.0h-1.0zM51.0 125.1h1.0v1.0h-1.0z"/>
<path fill="#96cd32" d="M51.0 123.1h1.0v1.0h-1.0z"/>
<path fill="#5abe46" d="M47.0 120.1h1.0v1.0h-1.0zM46.0 121.1h1.0v1.0h-1.0zM46.0 123.1h1.0v1.0h-1.0zM48.0 124.1h1.0v1.0h-1.0zM49.0 124.1h1.0v1.0h-1.0zM51.0 124.1h1.0v1.0h-1.0z"/>
<polygon points="65.83,98.50 67.83,97.30 70.23,97.30 72.43,99.10 74.03,101.30 73.23,104.90 72.83,110.40 73.83,115.90 75.23,121.90 73.13,122.50 71.03,122.30 67.13,121.30 64.13,120.50 60.63,120.10 58.13,119.10 57.13,117.30 59.83,110.90 62.83,103.90" fill="#52bb55"/>
<polygon points="66.17,100.81 67.81,99.83 69.78,99.83 71.59,101.31 72.90,103.11 72.24,106.06 71.91,110.57 72.73,115.08 73.88,120.00 72.16,120.50 70.44,120.33 67.24,119.51 64.78,118.86 61.91,118.53 59.86,117.71 59.04,116.23 61.25,110.98 63.71,105.24" fill="#71c439"/>
<polygon points="66.79,104.93 67.79,104.33 68.99,104.33 70.09,105.23 70.89,106.33 70.49,108.13 70.29,110.88 70.79,113.63 71.49,116.63 70.44,116.93 69.39,116.83 67.44,116.33 65.94,115.93 64.19,115.73 62.94,115.23 62.44,114.33 63.79,111.13 65.29,107.63" fill="#84c635"/>
<path fill="#46a1a4" d="M67.1 98.3h1.0v1.0h-1.0zM65.1 99.3h1.0v1.0h-1.0zM66.1 104.3h1.0v1.0h-1.0zM66.1 107.3h1.0v1.0h-1.0zM72.1 108.3h1.0v1.0h-1.0zM69.1 109.3h1.0v1.0h-1.0zM70.1 110.3h1.0v1.0h-1.0zM60.1 112.3h1.0v1.0h-1.0zM63.1 112.3h1.0v1.0h-1.0zM70.1 117.3h1.0v1.0h-1.0zM66.1 118.3h1.0v1.0h-1.0zM71.1 119.3h1.0v1.0h-1.0zM74.1 119.3h1.0v1.0h-1.0zM72.1 120.3h1.0v1.0h-1.0zM71.1 121.3h1.0v1.0h-1.0zM74.1 121.3h1.0v1.0h-1.0z"/>
<path fill="#cbc527" d="M67.1 99.3h1.0v1.0h-1.0zM64.1 100.3h1.0v1.0h-1.0zM62.1 108.3h1.0v1.0h-1.0zM64.1 110.3h1.0v1.0h-1.0zM60.1 111.3h1.0v1.0h-1.0zM68.1 111.3h1.0v1.0h-1.0zM67.1 114.3h1.0v1.0h-1.0zM63.1 115.3h1.0v1.0h-1.0zM57.1 116.3h1.0v1.0h-1.0zM65.1 116.3h1.0v1.0h-1.0zM68.1 116.3h1.0v1.0h-1.0zM63.1 117.3h1.0v1.0h-1.0zM65.1 117.3h1.0v1.0h-1.0zM60.1 118.3h1.0v1.0h-1.0zM60.1 119.3h1.0v1.0h-1.0zM73.1 120.3h1.0v1.0h-1.0zM72.1 121.3h1.0v1.0h-1.0z"/>
<path fill="#4db34b" d="M72.1 101.3h1.0v1.0h-1.0zM68.1 102.3h1.0v1.0h-1.0zM64.1 104.3h1.0v1.0h-1.0zM64.1 105.3h1.0v1.0h-1.0zM66.1 106.3h1.0v1.0h-1.0zM61.1 107.3h1.0v1.0h-1.0zM72.1 107.3h1.0v1.0h-1.0zM61.1 108.3h1.0v1.0h-1.0zM67.1 109.3h1.0v1.0h-1.0zM67.1 111.3h1.0v1.0h-1.0zM67.1 112.3h1.0v1.0h-1.0zM62.1 113.3h1.0v1.0h-1.0zM72.1 113.3h1.0v1.0h-1.0zM64.1 114.3h1.0v1.0h-1.0zM71.1 114.3h1.0v1.0h-1.0zM58.1 115.3h1.0v1.0h-1.0zM66.1 115.3h1.0v1.0h-1.0zM60.1 116.3h1.0v1.0h-1.0zM66.1 116.3h1.0v1.0h-1.0zM71.1 117.3h1.0v1.0h-1.0zM58.1 118.3h1.0v1.0h-1.0zM68.1 118.3h1.0v1.0h-1.0zM66.1 119.3h1.0v1.0h-1.0zM70.1 120.3h1.0v1.0h-1.0zM73.1 121.3h1.0v1.0h-1.0z"/>
<path fill="#a0c530" d="M68.1 97.3h1.0v1.0h-1.0zM70.1 98.3h1.0v1.0h-1.0zM68.1 99.3h1.0v1.0h-1.0zM70.1 99.3h1.0v1.0h-1.0zM71.1 99.3h1.0v1.0h-1.0zM72.1 100.3h1.0v1.0h-1.0zM64.1 101.3h1.0v1.0h-1.0zM66.1 103.3h1.0v1.0h-1.0zM69.1 104.3h1.0v1.0h-1.0zM62.1 106.3h1.0v1.0h-1.0zM69.1 106.3h1.0v1.0h-1.0zM70.1 106.3h1.0v1.0h-1.0zM59.1 111.3h1.0v1.0h-1.0zM62.1 111.3h1.0v1.0h-1.0zM63.1 111.3h1.0v1.0h-1.0zM70.1 113.3h1.0v1.0h-1.0zM63.1 114.3h1.0v1.0h-1.0zM65.1 114.3h1.0v1.0h-1.0zM60.1 115.3h1.0v1.0h-1.0zM58.1 117.3h1.0v1.0h-1.0zM67.1 117.3h1.0v1.0h-1.0zM69.1 117.3h1.0v1.0h-1.0zM73.1 118.3h1.0v1.0h-1.0zM63.1 119.3h1.0v1.0h-1.0zM64.1 119.3h1.0v1.0h-1.0z"/>
<path fill="#61bf43" d="M67.1 97.3h1.0v1.0h-1.0zM67.1 100.3h1.0v1.0h-1.0zM66.1 102.3h1.0v1.0h-1.0zM63.1 103.3h1.0v1.0h-1.0zM72.1 103.3h1.0v1.0h-1.0zM71.1 105.3h1.0v1.0h-1.0zM65.1 107.3h1.0v1.0h-1.0zM70.1 107.3h1.0v1.0h-1.0zM70.1 108.3h1.0v1.0h-1.0zM71.1 109.3h1.0v1.0h-1.0zM61.1 110.3h1.0v1.0h-1.0zM71.1 110.3h1.0v1.0h-1.0zM61.1 111.3h1.0v1.0h-1.0zM72.1 111.3h1.0v1.0h-1.0zM62.1 112.3h1.0v1.0h-1.0zM68.1 112.3h1.0v1.0h-1.0zM58.1 113.3h1.0v1.0h-1.0zM64.1 113.3h1.0v1.0h-1.0zM63.1 116.3h1.0v1.0h-1.0zM67.1 116.3h1.0v1.0h-1.0zM67.1 118.3h1.0v1.0h-1.0zM67.1 120.3h1.0v1.0h-1.0zM74.1 120.3h1.0v1.0h-1.0z"/>
<polygon points="77.43,119.10 80.13,119.40 82.63,120.20 83.83,121.90 84.03,126.20 78.43,126.20 77.83,123.40" fill="#52bb55"/>
<polygon points="78.00,119.68 80.22,119.93 82.27,120.59 83.25,121.98 83.42,125.51 78.82,125.51 78.33,123.21" fill="#71c439"/>
<polygon points="79.02,120.72 80.37,120.87 81.62,121.27 82.22,122.12 82.32,124.27 79.52,124.27 79.22,122.87" fill="#84c635"/>
<path fill="#46a1a4" d="M81.4 121.1h1.0v1.0h-1.0zM77.4 123.1h1.0v1.0h-1.0z"/>
<path fill="#cbc527" d="M81.4 120.1h1.0v1.0h-1.0zM81.4 124.1h1.0v1.0h-1.0z"/>
<path fill="#4db34b" d="M80.4 122.1h1.0v1.0h-1.0zM81.4 122.1h1.0v1.0h-1.0zM80.4 123.1h1.0v1.0h-1.0zM82.4 123.1h1.0v1.0h-1.0zM83.4 125.1h1.0v1.0h-1.0z"/>
<path fill="#a0c530" d="M78.4 119.1h1.0v1.0h-1.0zM81.4 123.1h1.0v1.0h-1.0z"/>
<path fill="#61bf43" d="M78.4 120.1h1.0v1.0h-1.0zM77.4 121.1h1.0v1.0h-1.0zM82.4 121.1h1.0v1.0h-1.0z"/>
<polygon points="97.26,98.50 99.26,97.30 101.66,97.30 103.86,99.10 105.46,101.30 104.66,104.90 104.26,110.40 105.26,115.90 106.66,121.90 104.56,122.50 102.46,122.30 98.56,121.30 95.56,120.50 92.06,120.10 89.56,119.10 88.56,117.30 91.26,110.90 94.26,103.90" fill="#5fbd50"/>
<polygon points="97.61,100.81 99.25,99.83 101.21,99.83 103.02,101.31 104.33,103.11 103.67,106.06 103.34,110.57 104.17,115.08 105.31,120.00 103.59,120.50 101.87,120.33 98.67,119.51 96.21,118.86 93.34,118.53 91.29,117.71 90.47,116.23 92.69,110.98 95.15,105.24" fill="#7fc537"/>
<polygon points="98.22,104.93 99.22,104.33 100.42,104.33 101.52,105.23 102.32,106.33 101.92,108.13 101.72,110.88 102.22,113.63 102.92,116.63 101.87,116.93 100.82,116.83 98.87,116.33 97.37,115.93 95.62,115.73 94.37,115.23 93.87,114.33 95.22,111.13 96.72,107.63" fill="#91c434"/>
<path fill="#5b9994" d="M99.6 98.3h1.0v1.0h-1.0zM100.6 100.3h1.0v1.0h-1.0zM99.6 103.3h1.0v1.0h-1.0zM100.6 104.3h1.0v1.0h-1.0zM93.6 106.3h1.0v1.0h-1.0zM101.6 109.3h1.0v1.0h-1.0zM93.6 110.3h1.0v1.0h-1.0zM103.6 111.3h1.0v1.0h-1.0zM95.6 112.3h1.0v1.0h-1.0zM97.6 112.3h1.0v1.0h-1.0zM94.6 114.3h1.0v1.0h-1.0zM103.6 114.3h1.0v1.0h-1.0zM90.6 115.3h1.0v1.0h-1.0zM93.6 115.3h1.0v1.0h-1.0zM103.6 115.3h1.0v1.0h-1.0zM93.6 118.3h1.0v1.0h-1.0zM95.6 118.3h1.0v1.0h-1.0zM103.6 119.3h1.0v1.0h-1.0zM97.6 120.3h1.0v1.0h-1.0zM101.6 120.3h1.0v1.0h-1.0z"/>
<path fill="#cfb426" d="M101.6 97.3h1.0v1.0h-1.0zM100.6 99.3h1.0v1.0h-1.0zM99.6 106.3h1.0v1.0h-1.0zM93.6 107.3h1.0v1.0h-1.0zM94.6 109.3h1.0v1.0h-1.0zM98.6 110.3h1.0v1.0h-1.0zM93.6 112.3h1.0v1.0h-1.0zM96.6 112.3h1.0v1.0h-1.0zM91.6 113.3h1.0v1.0h-1.0zM96.6 113.3h1.0v1.0h-1.0zM98.6 113.3h1.0v1.0h-1.0zM89.6 116.3h1.0v1.0h-1.0zM94.6 117.3h1.0v1.0h-1.0zM92.6 118.3h1.0v1.0h-1.0zM93.6 119.3h1.0v1.0h-1.0zM94.6 119.3h1.0v1.0h-1.0zM99.6 120.3h1.0v1.0h-1.0z"/>
<path fill="#5eb747" d="M95.6 100.3h1.0v1.0h-1.0zM97.6 100.3h1.0v1.0h-1.0zM99.6 100.3h1.0v1.0h-1.0zM93.6 105.3h1.0v1.0h-1.0zM96.6 105.3h1.0v1.0h-1.0zM93.6 108.3h1.0v1.0h-1.0zM94.6 108.3h1.0v1.0h-1.0zM101.6 110.3h1.0v1.0h-1.0zM97.6 111.3h1.0v1.0h-1.0zM94.6 116.3h1.0v1.0h-1.0zM96.6 117.3h1.0v1.0h-1.0zM90.6 118.3h1.0v1.0h-1.0zM94.6 118.3h1.0v1.0h-1.0zM97.6 118.3h1.0v1.0h-1.0zM99.6 118.3h1.0v1.0h-1.0zM102.6 120.3h1.0v1.0h-1.0zM100.6 121.3h1.0v1.0h-1.0zM103.6 121.3h1.0v1.0h-1.0z"/>
<path fill="#aabe2f" d="M99.6 97.3h1.0v1.0h-1.0zM98.6 102.3h1.0v1.0h-1.0zM103.6 102.3h1.0v1.0h-1.0zM102.6 103.3h1.0v1.0h-1.0zM97.6 106.3h1.0v1.0h-1.0zM100.6 107.3h1.0v1.0h-1.0zM98.6 108.3h1.0v1.0h-1.0zM101.6 108.3h1.0v1.0h-1.0zM102.6 112.3h1.0v1.0h-1.0zM93.6 114.3h1.0v1.0h-1.0zM98.6 114.3h1.0v1.0h-1.0zM99.6 114.3h1.0v1.0h-1.0zM101.6 116.3h1.0v1.0h-1.0zM99.6 117.3h1.0v1.0h-1.0zM100.6 117.3h1.0v1.0h-1.0zM103.6 117.3h1.0v1.0h-1.0zM100.6 118.3h1.0v1.0h-1.0zM95.6 119.3h1.0v1.0h-1.0zM96.6 119.3h1.0v1.0h-1.0zM103.6 120.3h1.0v1.0h-1.0zM104.6 120.3h1.0v1.0h-1.0z"/>
<path fill="#69c141" d="M97.6 98.3h1.0v1.0h-1.0zM96.6 99.3h1.0v1.0h-1.0zM104.6 100.3h1.0v1.0h-1.0zM98.6 101.3h1.0v1.0h-1.0zM102.6 101.3h1.0v1.0h-1.0zM95.6 103.3h1.0v1.0h-1.0zM98.6 103.3h1.0v1.0h-1.0zM101.6 103.3h1.0v1.0h-1.0zM92.6 106.3h1.0v1.0h-1.0zM96.6 108.3h1.0v1.0h-1.0zM100.6 110.3h1.0v1.0h-1.0zM95.6 111.3h1.0v1.0h-1.0zM101.6 111.3h1.0v1.0h-1.0zM103.6 113.3h1.0v1.0h-1.0zM96.6 114.3h1.0v1.0h-1.0zM104.6 115.3h1.0v1.0h-1.0zM88.6 116.3h1.0v1.0h-1.0zM88.6 117.3h1.0v1.0h-1.0zM91.6 118.3h1.0v1.0h-1.0zM103.6 118.3h1.0v1.0h-1.0zM104.6 118.3h1.0v1.0h-1.0zM100.6 119.3h1.0v1.0h-1.0zM101.6 119.3h1.0v1.0h-1.0z"/>
<polygon points="108.86,119.10 111.56,119.40 114.06,120.20 115.26,121.90 115.46,126.20 109.86,126.20 109.26,123.40" fill="#5fbd50"/>
<polygon points="109.43,119.68 111.65,119.93 113.70,120.59 114.68,121.98 114.85,125.51 110.25,125.51 109.76,123.21" fill="#7fc537"/>
<polygon points="110.45,120.72 111.80,120.87 113.05,121.27 113.65,122.12 113.75,124.27 110.95,124.27 110.65,122.87" fill="#91c434"/>
<path fill="#5b9994" d="M109.9 120.1h1.0v1.0h-1.0zM112.9 121.1h1.0v1.0h-1.0z"/>
<path fill="#cfb426" d="M108.9 119.1h1.0v1.0h-1.0zM109.9 124.1h1.0v1.0h-1.0zM113.9 125.1h1.0v1.0h-1.0z"/>
<path fill="#5eb747" d="M108.9 122.1h1.0v1.0h-1.0zM112.9 125.1h1.0v1.0h-1.0z"/>
<path fill="#aabe2f" d="M109.9 119.1h1.0v1.0h-1.0zM110.9 121.1h1.0v1.0h-1.0zM109.9 125.1h1.0v1.0h-1.0zM110.9 125.1h1.0v1.0h-1.0zM111.9 125.1h1.0v1.0h-1.0z"/>
<path fill="#69c141" d="M109.9 122.1h1.0v1.0h-1.0zM114.9 125.1h1.0v1.0h-1.0z"/>
<polygon points="128.69,98.50 130.69,97.30 133.09,97.30 135.29,99.10 136.89,101.30 136.09,104.90 135.69,110.40 136.69,115.90 138.09,121.90 135.99,122.50 133.89,122.30 129.99,121.30 126.99,120.50 123.49,120.10 120.99,119.10 119.99,117.30 122.69,110.90 125.69,103.90" fill="#6cbf4b"/>
<polygon points="129.03,100.81 130.68,99.83 132.64,99.83 134.45,101.31 135.76,103.11 135.10,106.06 134.78,110.57 135.59,115.08 136.74,120.00 135.02,120.50 133.30,120.33 130.10,119.51 127.64,118.86 124.77,118.53 122.72,117.71 121.90,116.23 124.11,110.98 126.58,105.24" fill="#8cc735"/>
<polygon points="129.65,104.93 130.65,104.33 131.85,104.33 132.95,105.23 133.75,106.33 133.35,108.13 133.15,110.88 133.65,113.63 134.35,116.63 133.30,116.93 132.25,116.83 130.30,116.33 128.80,115.93 127.05,115.73 125.80,115.23 125.30,114.33 126.65,111.13 128.15,107.63" fill="#9ec333"/>
<path fill="#6f9185" d="M135.0 100.3h1.0v1.0h-1.0zM127.0 101.3h1.0v1.0h-1.0zM135.0 101.3h1.0v1.0h-1.0zM135.0 103.3h1.0v1.0h-1.0zM127.0 105.3h1.0v1.0h-1.0zM125.0 106.3h1.0v1.0h-1.0zM129.0 107.3h1.0v1.0h-1.0zM132.0 107.3h1.0v1.0h-1.0zM130.0 108.3h1.0v1.0h-1.0zM132.0 109.3h1.0v1.0h-1.0zM130.0 110.3h1.0v1.0h-1.0zM124.0 111.3h1.0v1.0h-1.0zM128.0 112.3h1.0v1.0h-1.0zM132.0 113.3h1.0v1.0h-1.0zM124.0 114.3h1.0v1.0h-1.0zM125.0 114.3h1.0v1.0h-1.0zM135.0 114.3h1.0v1.0h-1.0zM129.0 115.3h1.0v1.0h-1.0zM123.0 116.3h1.0v1.0h-1.0zM133.0 118.3h1.0v1.0h-1.0zM133.0 121.3h1.0v1.0h-1.0z"/>
<path fill="#d2a325" d="M130.0 98.3h1.0v1.0h-1.0zM130.0 100.3h1.0v1.0h-1.0zM135.0 104.3h1.0v1.0h-1.0zM134.0 106.3h1.0v1.0h-1.0zM135.0 106.3h1.0v1.0h-1.0zM124.0 107.3h1.0v1.0h-1.0zM126.0 107.3h1.0v1.0h-1.0zM123.0 110.3h1.0v1.0h-1.0zM127.0 110.3h1.0v1.0h-1.0zM123.0 112.3h1.0v1.0h-1.0zM127.0 112.3h1.0v1.0h-1.0zM129.0 112.3h1.0v1.0h-1.0zM123.0 114.3h1.0v1.0h-1.0zM122.0 115.3h1.0v1.0h-1.0zM121.0 117.3h1.0v1.0h-1.0zM124.0 118.3h1.0v1.0h-1.0zM123.0 119.3h1.0v1.0h-1.0zM134.0 119.3h1.0v1.0h-1.0zM136.0 119.3h1.0v1.0h-1.0z"/>
<path fill="#6fbb42" d="M130.0 97.3h1.0v1.0h-1.0zM131.0 98.3h1.0v1.0h-1.0zM131.0 100.3h1.0v1.0h-1.0zM136.0 101.3h1.0v1.0h-1.0zM133.0 102.3h1.0v1.0h-1.0zM130.0 104.3h1.0v1.0h-1.0zM128.0 105.3h1.0v1.0h-1.0zM134.0 105.3h1.0v1.0h-1.0zM127.0 106.3h1.0v1.0h-1.0zM127.0 109.3h1.0v1.0h-1.0zM134.0 111.3h1.0v1.0h-1.0zM125.0 112.3h1.0v1.0h-1.0zM126.0 114.3h1.0v1.0h-1.0zM133.0 114.3h1.0v1.0h-1.0zM123.0 115.3h1.0v1.0h-1.0zM122.0 116.3h1.0v1.0h-1.0zM129.0 117.3h1.0v1.0h-1.0zM133.0 117.3h1.0v1.0h-1.0zM136.0 117.3h1.0v1.0h-1.0zM121.0 118.3h1.0v1.0h-1.0zM131.0 118.3h1.0v1.0h-1.0zM135.0 118.3h1.0v1.0h-1.0zM124.0 119.3h1.0v1.0h-1.0z"/>
<path fill="#b4b72e" d="M134.0 101.3h1.0v1.0h-1.0zM127.0 102.3h1.0v1.0h-1.0zM125.0 108.3h1.0v1.0h-1.0zM126.0 109.3h1.0v1.0h-1.0zM129.0 109.3h1.0v1.0h-1.0zM132.0 110.3h1.0v1.0h-1.0zM134.0 110.3h1.0v1.0h-1.0zM122.0 111.3h1.0v1.0h-1.0zM133.0 111.3h1.0v1.0h-1.0zM131.0 112.3h1.0v1.0h-1.0zM127.0 113.3h1.0v1.0h-1.0zM131.0 113.3h1.0v1.0h-1.0zM133.0 116.3h1.0v1.0h-1.0zM134.0 116.3h1.0v1.0h-1.0zM132.0 117.3h1.0v1.0h-1.0zM129.0 119.3h1.0v1.0h-1.0zM131.0 119.3h1.0v1.0h-1.0zM135.0 119.3h1.0v1.0h-1.0zM130.0 120.3h1.0v1.0h-1.0zM135.0 121.3h1.0v1.0h-1.0zM137.0 121.3h1.0v1.0h-1.0z"/>
<path fill="#71c33f" d="M134.0 98.3h1.0v1.0h-1.0zM131.0 99.3h1.0v1.0h-1.0zM132.0 100.3h1.0v1.0h-1.0zM133.0 101.3h1.0v1.0h-1.0zM129.0 103.3h1.0v1.0h-1.0zM132.0 103.3h1.0v1.0h-1.0zM127.0 107.3h1.0v1.0h-1.0zM133.0 107.3h1.0v1.0h-1.0zM127.0 108.3h1.0v1.0h-1.0zM134.0 108.3h1.0v1.0h-1.0zM124.0 109.3h1.0v1.0h-1.0zM130.0 109.3h1.0v1.0h-1.0zM131.0 109.3h1.0v1.0h-1.0zM135.0 109.3h1.0v1.0h-1.0zM131.0 110.3h1.0v1.0h-1.0zM122.0 113.3h1.0v1.0h-1.0zM128.0 113.3h1.0v1.0h-1.0zM121.0 114.3h1.0v1.0h-1.0zM122.0 114.3h1.0v1.0h-1.0zM126.0 116.3h1.0v1.0h-1.0zM127.0 116.3h1.0v1.0h-1.0zM128.0 117.3h1.0v1.0h-1.0zM131.0 117.3h1.0v1.0h-1.0zM127.0 118.3h1.0v1.0h-1.0zM125.0 119.3h1.0v1.0h-1.0zM132.0 119.3h1.0v1.0h-1.0zM131.0 120.3h1.0v1.0h-1.0zM136.0 121.3h1.0v1.0h-1.0z"/>
<polygon points="140.29,119.10 142.99,119.40 145.49,120.20 146.69,121.90 146.89,126.20 141.29,126.20 140.69,123.40" fill="#6cbf4b"/>
<polygon points="140.86,119.68 143.08,119.93 145.13,120.59 146.11,121.98 146.28,125.51 141.68,125.51 141.19,123.21" fill="#8cc735"/>
<polygon points="141.88,120.72 143.23,120.87 144.48,121.27 145.08,122.12 145.18,124.27 142.38,124.27 142.08,122.87" fill="#9ec333"/>
<path fill="#6f9185" d="M142.3 123.1h1.0v1.0h-1.0z"/>
<path fill="#d2a325" d="M140.3 119.1h1.0v1.0h-1.0zM141.3 121.1h1.0v1.0h-1.0zM143.3 122.1h1.0v1.0h-1.0z"/>
<path fill="#6fbb42" d="M142.3 119.1h1.0v1.0h-1.0zM145.3 124.1h1.0v1.0h-1.0zM141.3 125.1h1.0v1.0h-1.0z"/>
<path fill="#b4b72e" d="M143.3 123.1h1.0v1.0h-1.0z"/>
<path fill="#71c33f" d="M140.3 120.1h1.0v1.0h-1.0zM140.3 121.1h1.0v1.0h-1.0zM142.3 121.1h1.0v1.0h-1.0zM143.3 124.1h1.0v1.0h-1.0z"/>
<polygon points="160.12,98.50 162.12,97.30 164.52,97.30 166.72,99.10 168.32,101.30 167.52,104.90 167.12,110.40 168.12,115.90 169.52,121.90 167.42,122.50 165.32,122.30 161.42,121.30 158.42,120.50 154.92,120.10 152.42,119.10 151.42,117.30 154.12,110.90 157.12,103.90" fill="#79c146"/>
<polygon points="160.46,100.81 162.10,99.83 164.07,99.83 165.88,101.31 167.19,103.11 166.53,106.06 166.20,110.57 167.02,115.08 168.17,120.00 166.45,120.50 164.73,120.33 161.53,119.51 159.07,118.86 156.20,118.53 154.15,117.71 153.33,116.23 155.54,110.98 158.00,105.24" fill="#9ac833"/>
<polygon points="161.08,104.93 162.08,104.33 163.28,104.33 164.38,105.23 165.18,106.33 164.78,108.13 164.58,110.88 165.08,113.63 165.78,116.63 164.73,116.93 163.68,116.83 161.73,116.33 160.23,115.93 158.48,115.73 157.23,115.23 156.73,114.33 158.08,111.13 159.58,107.63" fill="#abc132"/>
<path fill="#848875" d="M160.4 100.3h1.0v1.0h-1.0zM163.4 100.3h1.0v1.0h-1.0zM166.4 100.3h1.0v1.0h-1.0zM165.4 101.3h1.0v1.0h-1.0zM159.4 102.3h1.0v1.0h-1.0zM160.4 102.3h1.0v1.0h-1.0zM166.4 105.3h1.0v1.0h-1.0zM162.4 106.3h1.0v1.0h-1.0zM157.4 107.3h1.0v1.0h-1.0zM160.4 107.3h1.0v1.0h-1.0zM157.4 109.3h1.0v1.0h-1.0zM161.4 109.3h1.0v1.0h-1.0zM164.4 109.3h1.0v1.0h-1.0zM156.4 111.3h1.0v1.0h-1.0zM164.4 113.3h1.0v1.0h-1.0zM153.4 114.3h1.0v1.0h-1.0zM152.4 115.3h1.0v1.0h-1.0zM159.4 115.3h1.0v1.0h-1.0zM154.4 116.3h1.0v1.0h-1.0zM159.4 116.3h1.0v1.0h-1.0zM165.4 116.3h1.0v1.0h-1.0zM163.4 117.3h1.0v1.0h-1.0zM165.4 117.3h1.0v1.0h-1.0zM156.4 118.3h1.0v1.0h-1.0zM158.4 118.3h1.0v1.0h-1.0zM164.4 118.3h1.0v1.0h-1.0zM165.4 118.3h1.0v1.0h-1.0zM162.4 119.3h1.0v1.0h-1.0zM167.4 120.3h1.0v1.0h-1.0z"/>
<path fill="#d69224" d="M161.4 97.3h1.0v1.0h-1.0zM164.4 97.3h1.0v1.0h-1.0zM161.4 98.3h1.0v1.0h-1.0zM159.4 99.3h1.0v1.0h-1.0zM162.4 100.3h1.0v1.0h-1.0zM157.4 103.3h1.0v1.0h-1.0zM160.4 106.3h1.0v1.0h-1.0zM166.4 106.3h1.0v1.0h-1.0zM166.4 109.3h1.0v1.0h-1.0zM161.4 111.3h1.0v1.0h-1.0zM152.4 114.3h1.0v1.0h-1.0zM164.4 114.3h1.0v1.0h-1.0zM156.4 116.3h1.0v1.0h-1.0zM162.4 116.3h1.0v1.0h-1.0zM167.4 116.3h1.0v1.0h-1.0zM156.4 119.3h1.0v1.0h-1.0zM159.4 119.3h1.0v1.0h-1.0z"/>
<path fill="#80bf3e" d="M161.4 102.3h1.0v1.0h-1.0zM162.4 102.3h1.0v1.0h-1.0zM164.4 102.3h1.0v1.0h-1.0zM159.4 106.3h1.0v1.0h-1.0zM162.4 107.3h1.0v1.0h-1.0zM165.4 109.3h1.0v1.0h-1.0zM152.4 113.3h1.0v1.0h-1.0zM159.4 114.3h1.0v1.0h-1.0zM166.4 114.3h1.0v1.0h-1.0zM167.4 115.3h1.0v1.0h-1.0zM157.4 116.3h1.0v1.0h-1.0zM161.4 116.3h1.0v1.0h-1.0zM161.4 119.3h1.0v1.0h-1.0zM160.4 120.3h1.0v1.0h-1.0zM165.4 120.3h1.0v1.0h-1.0z"/>
<path fill="#beb02d" d="M160.4 101.3h1.0v1.0h-1.0zM164.4 101.3h1.0v1.0h-1.0zM163.4 104.3h1.0v1.0h-1.0zM158.4 106.3h1.0v1.0h-1.0zM166.4 107.3h1.0v1.0h-1.0zM160.4 108.3h1.0v1.0h-1.0zM164.4 110.3h1.0v1.0h-1.0zM159.4 111.3h1.0v1.0h-1.0zM157.4 113.3h1.0v1.0h-1.0zM153.4 115.3h1.0v1.0h-1.0zM162.4 115.3h1.0v1.0h-1.0zM161.4 117.3h1.0v1.0h-1.0zM166.4 117.3h1.0v1.0h-1.0zM152.4 118.3h1.0v1.0h-1.0zM167.4 118.3h1.0v1.0h-1.0zM160.4 119.3h1.0v1.0h-1.0zM168.4 120.3h1.0v1.0h-1.0z"/>
<path fill="#79c43d" d="M160.4 98.3h1.0v1.0h-1.0zM165.4 100.3h1.0v1.0h-1.0zM158.4 102.3h1.0v1.0h-1.0zM166.4 102.3h1.0v1.0h-1.0zM160.4 104.3h1.0v1.0h-1.0zM159.4 105.3h1.0v1.0h-1.0zM162.4 108.3h1.0v1.0h-1.0zM163.4 108.3h1.0v1.0h-1.0zM161.4 112.3h1.0v1.0h-1.0zM156.4 113.3h1.0v1.0h-1.0zM161.4 113.3h1.0v1.0h-1.0zM162.4 113.3h1.0v1.0h-1.0zM166.4 113.3h1.0v1.0h-1.0zM157.4 115.3h1.0v1.0h-1.0zM155.4 116.3h1.0v1.0h-1.0zM155.4 118.3h1.0v1.0h-1.0zM166.4 118.3h1.0v1.0h-1.0z"/>
<polygon points="171.72,119.10 174.42,119.40 176.92,120.20 178.12,121.90 178.32,126.20 172.72,126.20 172.12,123.40" fill="#79c146"/>
<polygon points="172.29,119.68 174.51,119.93 176.56,120.59 177.54,121.98 177.71,125.51 173.11,125.51 172.62,123.21" fill="#9ac833"/>
<polygon points="173.31,120.72 174.66,120.87 175.91,121.27 176.51,122.12 176.61,124.27 173.81,124.27 173.51,122.87" fill="#abc132"/>
<path fill="#848875" d="M172.7 120.1h1.0v1.0h-1.0z"/>
<path fill="#d69224" d="M175.7 120.1h1.0v1.0h-1.0zM171.7 122.1h1.0v1.0h-1.0zM177.7 124.1h1.0v1.0h-1.0z"/>
<path fill="#80bf3e" d="M173.7 119.1h1.0v1.0h-1.0zM171.7 121.1h1.0v1.0h-1.0zM172.7 125.1h1.0v1.0h-1.0zM175.7 125.1h1.0v1.0h-1.0zM176.7 125.1h1.0v1.0h-1.0z"/>
<path fill="#beb02d" d="M172.7 121.1h1.0v1.0h-1.0zM176.7 121.1h1.0v1.0h-1.0z"/>
<path fill="#79c43d" d="M172.7 122.1h1.0v1.0h-1.0zM175.7 124.1h1.0v1.0h-1.0z"/>
<polygon points="191.55,98.50 193.55,97.30 195.95,97.30 198.15,99.10 199.75,101.30 198.95,104.90 198.55,110.40 199.55,115.90 200.95,121.90 198.85,122.50 196.75,122.30 192.85,121.30 189.85,120.50 186.35,120.10 183.85,119.10 182.85,117.30 185.55,110.90 188.55,103.90" fill="#85c441"/>
<polygon points="191.89,100.81 193.53,99.83 195.50,99.83 197.31,101.31 198.62,103.11 197.96,106.06 197.63,110.57 198.45,115.08 199.60,120.00 197.88,120.50 196.16,120.33 192.96,119.51 190.50,118.86 187.63,118.53 185.58,117.71 184.76,116.23 186.97,110.98 189.43,105.24" fill="#a7ca30"/>
<polygon points="192.51,104.93 193.51,104.33 194.71,104.33 195.81,105.23 196.61,106.33 196.21,108.13 196.01,110.88 196.51,113.63 197.21,116.63 196.16,116.93 195.11,116.83 193.16,116.33 191.66,115.93 189.91,115.73 188.66,115.23 188.16,114.33 189.51,111.13 191.01,107.63" fill="#b8bf31"/>
<path fill="#988066" d="M192.8 99.3h1.0v1.0h-1.0zM191.8 100.3h1.0v1.0h-1.0zM198.8 100.3h1.0v1.0h-1.0zM194.8 103.3h1.0v1.0h-1.0zM197.8 104.3h1.0v1.0h-1.0zM187.8 106.3h1.0v1.0h-1.0zM197.8 107.3h1.0v1.0h-1.0zM196.8 108.3h1.0v1.0h-1.0zM194.8 109.3h1.0v1.0h-1.0zM189.8 110.3h1.0v1.0h-1.0zM185.8 111.3h1.0v1.0h-1.0zM188.8 111.3h1.0v1.0h-1.0zM189.8 111.3h1.0v1.0h-1.0zM190.8 111.3h1.0v1.0h-1.0zM191.8 111.3h1.0v1.0h-1.0zM188.8 113.3h1.0v1.0h-1.0zM191.8 115.3h1.0v1.0h-1.0zM190.8 117.3h1.0v1.0h-1.0zM189.8 119.3h1.0v1.0h-1.0z"/>
<path fill="#d98023" d="M192.8 97.3h1.0v1.0h-1.0zM195.8 97.3h1.0v1.0h-1.0zM192.8 100.3h1.0v1.0h-1.0zM193.8 100.3h1.0v1.0h-1.0zM196.8 100.3h1.0v1.0h-1.0zM193.8 103.3h1.0v1.0h-1.0zM193.8 104.3h1.0v1.0h-1.0zM191.8 106.3h1.0v1.0h-1.0zM185.8 110.3h1.0v1.0h-1.0zM184.8 111.3h1.0v1.0h-1.0zM186.8 114.3h1.0v1.0h-1.0zM192.8 115.3h1.0v1.0h-1.0zM198.8 115.3h1.0v1.0h-1.0zM185.8 117.3h1.0v1.0h-1.0zM187.8 118.3h1.0v1.0h-1.0zM197.8 118.3h1.0v1.0h-1.0zM191.8 120.3h1.0v1.0h-1.0zM192.8 120.3h1.0v1.0h-1.0zM196.8 120.3h1.0v1.0h-1.0z"/>
<path fill="#92c339" d="M194.8 99.3h1.0v1.0h-1.0zM197.8 101.3h1.0v1.0h-1.0zM188.8 104.3h1.0v1.0h-1.0zM189.8 104.3h1.0v1.0h-1.0zM190.8 108.3h1.0v1.0h-1.0zM193.8 108.3h1.0v1.0h-1.0zM187.8 110.3h1.0v1.0h-1.0zM192.8 111.3h1.0v1.0h-1.0zM189.8 112.3h1.0v1.0h-1.0zM197.8 112.3h1.0v1.0h-1.0zM186.8 113.3h1.0v1.0h-1.0zM194.8 113.3h1.0v1.0h-1.0zM196.8 114.3h1.0v1.0h-1.0zM185.8 115.3h1.0v1.0h-1.0zM182.8 117.3h1.0v1.0h-1.0zM187.8 117.3h1.0v1.0h-1.0zM191.8 117.3h1.0v1.0h-1.0zM198.8 117.3h1.0v1.0h-1.0zM193.8 118.3h1.0v1.0h-1.0zM199.8 121.3h1.0v1.0h-1.0z"/>
<path fill="#c9a82c" d="M189.8 100.3h1.0v1.0h-1.0zM189.8 101.3h1.0v1.0h-1.0zM190.8 101.3h1.0v1.0h-1.0zM196.8 101.3h1.0v1.0h-1.0zM191.8 102.3h1.0v1.0h-1.0zM197.8 102.3h1.0v1.0h-1.0zM192.8 103.3h1.0v1.0h-1.0zM195.8 104.3h1.0v1.0h-1.0zM187.8 105.3h1.0v1.0h-1.0zM191.8 107.3h1.0v1.0h-1.0zM195.8 107.3h1.0v1.0h-1.0zM185.8 109.3h1.0v1.0h-1.0zM197.8 109.3h1.0v1.0h-1.0zM192.8 112.3h1.0v1.0h-1.0zM193.8 112.3h1.0v1.0h-1.0zM195.8 112.3h1.0v1.0h-1.0zM196.8 113.3h1.0v1.0h-1.0zM191.8 114.3h1.0v1.0h-1.0zM186.8 119.3h1.0v1.0h-1.0zM187.8 119.3h1.0v1.0h-1.0zM192.8 119.3h1.0v1.0h-1.0zM195.8 119.3h1.0v1.0h-1.0zM198.8 119.3h1.0v1.0h-1.0zM197.8 120.3h1.0v1.0h-1.0z"/>
<path fill="#80c63a" d="M196.8 99.3h1.0v1.0h-1.0zM194.8 100.3h1.0v1.0h-1.0zM193.8 106.3h1.0v1.0h-1.0zM189.8 108.3h1.0v1.0h-1.0zM186.8 110.3h1.0v1.0h-1.0zM192.8 110.3h1.0v1.0h-1.0zM193.8 114.3h1.0v1.0h-1.0zM197.8 116.3h1.0v1.0h-1.0zM183.8 117.3h1.0v1.0h-1.0zM189.8 117.3h1.0v1.0h-1.0zM197.8 117.3h1.0v1.0h-1.0z"/>
<polygon points="203.15,119.10 205.85,119.40 208.35,120.20 209.55,121.90 209.75,126.20 204.15,126.20 203.55,123.40" fill="#85c441"/>
<polygon points="203.72,119.68 205.94,119.93 207.99,120.59 208.97,121.98 209.14,125.51 204.54,125.51 204.05,123.21" fill="#a7ca30"/>
<polygon points="204.74,120.72 206.09,120.87 207.34,121.27 207.94,122.12 208.04,124.27 205.24,124.27 204.94,122.87" fill="#b8bf31"/>
<path fill="#988066" d="M205.2 121.1h1.0v1.0h-1.0z"/>
<path fill="#92c339" d="M205.2 122.1h1.0v1.0h-1.0zM207.2 125.1h1.0v1.0h-1.0z"/>
<path fill="#c9a82c" d="M207.2 123.1h1.0v1.0h-1.0zM208.2 123.1h1.0v1.0h-1.0zM206.2 124.1h1.0v1.0h-1.0z"/>
<path fill="#80c63a" d="M206.2 120.1h1.0v1.0h-1.0zM204.2 121.1h1.0v1.0h-1.0zM208.2 122.1h1.0v1.0h-1.0zM208.2 125.1h1.0v1.0h-1.0z"/>
<polygon points="222.98,98.50 224.98,97.30 227.38,97.30 229.58,99.10 231.18,101.30 230.38,104.90 229.98,110.40 230.98,115.90 232.38,121.90 230.28,122.50 228.18,122.30 224.28,121.30 221.28,120.50 217.78,120.10 215.28,119.10 214.28,117.30 216.98,110.90 219.98,103.90" fill="#92c63c"/>
<polygon points="223.32,100.81 224.96,99.83 226.93,99.83 228.74,101.31 230.05,103.11 229.39,106.06 229.06,110.57 229.88,115.08 231.03,120.00 229.31,120.50 227.59,120.33 224.39,119.51 221.93,118.86 219.06,118.53 217.01,117.71 216.19,116.23 218.40,110.98 220.86,105.24" fill="#b5cb2e"/>
<polygon points="223.94,104.93 224.94,104.33 226.14,104.33 227.24,105.23 228.04,106.33 227.64,108.13 227.44,110.88 227.94,113.63 228.64,116.63 227.59,116.93 226.54,116.83 224.59,116.33 223.09,115.93 221.34,115.73 220.09,115.23 219.59,114.33 220.94,111.13 222.44,107.63" fill="#c5be30"/>
<path fill="#ad7856" d="M228.3 98.3h1.0v1.0h-1.0zM228.3 100.3h1.0v1.0h-1.0zM229.3 100.3h1.0v1.0h-1.0zM223.3 101.3h1.0v1.0h-1.0zM220.3 102.3h1.0v1.0h-1.0zM220.3 103.3h1.0v1.0h-1.0zM222.3 103.3h1.0v1.0h-1.0zM220.3 104.3h1.0v1.0h-1.0zM224.3 105.3h1.0v1.0h-1.0zM222.3 106.3h1.0v1.0h-1.0zM222.3 109.3h1.0v1.0h-1.0zM225.3 109.3h1.0v1.0h-1.0zM219.3 110.3h1.0v1.0h-1.0zM220.3 110.3h1.0v1.0h-1.0zM222.3 112.3h1.0v1.0h-1.0zM218.3 115.3h1.0v1.0h-1.0zM221.3 115.3h1.0v1.0h-1.0zM223.3 115.3h1.0v1.0h-1.0zM227.3 115.3h1.0v1.0h-1.0zM217.3 117.3h1.0v1.0h-1.0zM215.3 118.3h1.0v1.0h-1.0zM224.3 119.3h1.0v1.0h-1.0zM230.3 119.3h1.0v1.0h-1.0zM223.3 120.3h1.0v1.0h-1.0zM224.3 120.3h1.0v1.0h-1.0zM227.3 120.3h1.0v1.0h-1.0z"/>
<path fill="#dd6f22" d="M230.3 100.3h1.0v1.0h-1.0zM228.3 105.3h1.0v1.0h-1.0zM226.3 107.3h1.0v1.0h-1.0zM229.3 107.3h1.0v1.0h-1.0zM218.3 110.3h1.0v1.0h-1.0zM220.3 111.3h1.0v1.0h-1.0zM229.3 111.3h1.0v1.0h-1.0zM218.3 112.3h1.0v1.0h-1.0zM222.3 116.3h1.0v1.0h-1.0zM216.3 117.3h1.0v1.0h-1.0zM227.3 117.3h1.0v1.0h-1.0zM219.3 118.3h1.0v1.0h-1.0zM221.3 118.3h1.0v1.0h-1.0zM231.3 121.3h1.0v1.0h-1.0z"/>
<path fill="#a3c735" d="M228.3 99.3h1.0v1.0h-1.0zM225.3 102.3h1.0v1.0h-1.0zM221.3 103.3h1.0v1.0h-1.0zM225.3 105.3h1.0v1.0h-1.0zM226.3 105.3h1.0v1.0h-1.0zM229.3 105.3h1.0v1.0h-1.0zM228.3 106.3h1.0v1.0h-1.0zM223.3 107.3h1.0v1.0h-1.0zM228.3 108.3h1.0v1.0h-1.0zM219.3 109.3h1.0v1.0h-1.0zM229.3 109.3h1.0v1.0h-1.0zM224.3 110.3h1.0v1.0h-1.0zM221.3 111.3h1.0v1.0h-1.0zM221.3 114.3h1.0v1.0h-1.0zM228.3 114.3h1.0v1.0h-1.0zM226.3 120.3h1.0v1.0h-1.0zM228.3 120.3h1.0v1.0h-1.0z"/>
<path fill="#d3a12b" d="M227.3 98.3h1.0v1.0h-1.0zM221.3 101.3h1.0v1.0h-1.0zM222.3 101.3h1.0v1.0h-1.0zM225.3 101.3h1.0v1.0h-1.0zM219.3 104.3h1.0v1.0h-1.0zM229.3 104.3h1.0v1.0h-1.0zM220.3 107.3h1.0v1.0h-1.0zM224.3 107.3h1.0v1.0h-1.0zM227.3 107.3h1.0v1.0h-1.0zM229.3 108.3h1.0v1.0h-1.0zM220.3 112.3h1.0v1.0h-1.0zM223.3 112.3h1.0v1.0h-1.0zM215.3 113.3h1.0v1.0h-1.0zM223.3 113.3h1.0v1.0h-1.0zM225.3 115.3h1.0v1.0h-1.0zM221.3 116.3h1.0v1.0h-1.0zM220.3 117.3h1.0v1.0h-1.0zM230.3 117.3h1.0v1.0h-1.0z"/>
<path fill="#88c838" d="M221.3 100.3h1.0v1.0h-1.0zM226.3 102.3h1.0v1.0h-1.0zM228.3 102.3h1.0v1.0h-1.0zM221.3 104.3h1.0v1.0h-1.0zM227.3 104.3h1.0v1.0h-1.0zM219.3 108.3h1.0v1.0h-1.0zM224.3 108.3h1.0v1.0h-1.0zM226.3 109.3h1.0v1.0h-1.0zM229.3 117.3h1.0v1.0h-1.0zM218.3 119.3h1.0v1.0h-1.0zM225.3 120.3h1.0v1.0h-1.0zM228.3 121.3h1.0v1.0h-1.0z"/>
<polygon points="234.58,119.10 237.28,119.40 239.78,120.20 240.98,121.90 241.18,126.20 235.58,126.20 234.98,123.40" fill="#92c63c"/>
<polygon points="235.15,119.68 237.37,119.93 239.42,120.59 240.40,121.98 240.57,125.51 235.97,125.51 235.48,123.21" fill="#b5cb2e"/>
<polygon points="236.17,120.72 237.52,120.87 238.77,121.27 239.37,122.12 239.47,124.27 236.67,124.27 236.37,122.87" fill="#c5be30"/>
<path fill="#ad7856" d="M238.6 120.1h1.0v1.0h-1.0zM239.6 121.1h1.0v1.0h-1.0zM238.6 125.1h1.0v1.0h-1.0z"/>
<path fill="#dd6f22" d="M238.6 121.1h1.0v1.0h-1.0zM237.6 122.1h1.0v1.0h-1.0zM239.6 123.1h1.0v1.0h-1.0z"/>
<path fill="#a3c735" d="M235.6 122.1h1.0v1.0h-1.0z"/>
<path fill="#d3a12b" d="M237.6 125.1h1.0v1.0h-1.0zM240.6 125.1h1.0v1.0h-1.0z"/>
<path fill="#88c838" d="M234.6 119.1h1.0v1.0h-1.0zM237.6 120.1h1.0v1.0h-1.0zM236.6 122.1h1.0v1.0h-1.0zM239.6 122.1h1.0v1.0h-1.0zM237.6 123.1h1.0v1.0h-1.0zM239.6 124.1h1.0v1.0h-1.0z"/>
<polygon points="254.41,98.50 256.41,97.30 258.81,97.30 261.01,99.10 262.61,101.30 261.81,104.90 261.41,110.40 262.41,115.90 263.81,121.90 261.71,122.50 259.61,122.30 255.71,121.30 252.71,120.50 249.21,120.10 246.71,119.10 245.71,117.30 248.41,110.90 251.41,103.90" fill="#9fc837"/>
<polygon points="254.75,100.81 256.39,99.83 258.36,99.83 260.17,101.31 261.48,103.11 260.82,106.06 260.49,110.57 261.31,115.08 262.46,120.00 260.74,120.50 259.02,120.33 255.82,119.51 253.36,118.86 250.49,118.53 248.44,117.71 247.62,116.23 249.83,110.98 252.29,105.24" fill="#c2cd2c"/>
<polygon points="255.37,104.93 256.37,104.33 257.57,104.33 258.67,105.23 259.47,106.33 259.07,108.13 258.87,110.88 259.37,113.63 260.07,116.63 259.02,116.93 257.97,116.83 256.02,116.33 254.52,115.93 252.77,115.73 251.52,115.23 251.02,114.33 252.37,111.13 253.87,107.63" fill="#d2bc2f"/>
<path fill="#c16f47" d="M253.7 100.3h1.0v1.0h-1.0zM254.7 100.3h1.0v1.0h-1.0zM259.7 100.3h1.0v1.0h-1.0zM254.7 102.3h1.0v1.0h-1.0zM260.7 102.3h1.0v1.0h-1.0zM257.7 103.3h1.0v1.0h-1.0zM250.7 106.3h1.0v1.0h-1.0zM258.7 106.3h1.0v1.0h-1.0zM250.7 107.3h1.0v1.0h-1.0zM256.7 110.3h1.0v1.0h-1.0zM257.7 110.3h1.0v1.0h-1.0zM255.7 111.3h1.0v1.0h-1.0zM256.7 111.3h1.0v1.0h-1.0zM250.7 112.3h1.0v1.0h-1.0zM248.7 113.3h1.0v1.0h-1.0zM252.7 114.3h1.0v1.0h-1.0zM253.7 114.3h1.0v1.0h-1.0zM261.7 115.3h1.0v1.0h-1.0zM252.7 116.3h1.0v1.0h-1.0zM255.7 116.3h1.0v1.0h-1.0zM249.7 119.3h1.0v1.0h-1.0zM250.7 119.3h1.0v1.0h-1.0zM260.7 119.3h1.0v1.0h-1.0z"/>
<path fill="#e05e21" d="M258.7 97.3h1.0v1.0h-1.0zM255.7 100.3h1.0v1.0h-1.0zM250.7 104.3h1.0v1.0h-1.0zM251.7 104.3h1.0v1.0h-1.0zM257.7 104.3h1.0v1.0h-1.0zM250.7 105.3h1.0v1.0h-1.0zM249.7 106.3h1.0v1.0h-1.0zM258.7 107.3h1.0v1.0h-1.0zM251.7 108.3h1.0v1.0h-1.0zM257.7 108.3h1.0v1.0h-1.0zM254.7 109.3h1.0v1.0h-1.0zM254.7 112.3h1.0v1.0h-1.0zM259.7 112.3h1.0v1.0h-1.0zM249.7 113.3h1.0v1.0h-1.0zM250.7 113.3h1.0v1.0h-1.0zM253.7 113.3h1.0v1.0h-1.0zM253.7 115.3h1.0v1.0h-1.0zM245.7 116.3h1.0v1.0h-1.0zM247.7 116.3h1.0v1.0h-1.0zM248.7 116.3h1.0v1.0h-1.0zM250.7 116.3h1.0v1.0h-1.0zM257.7 116.3h1.0v1.0h-1.0zM254.7 117.3h1.0v1.0h-1.0zM258.7 118.3h1.0v1.0h-1.0zM251.7 119.3h1.0v1.0h-1.0zM257.7 119.3h1.0v1.0h-1.0zM254.7 120.3h1.0v1.0h-1.0z"/>
<path fill="#b4cb30" d="M254.7 99.3h1.0v1.0h-1.0zM255.7 103.3h1.0v1.0h-1.0zM255.7 104.3h1.0v1.0h-1.0zM254.7 105.3h1.0v1.0h-1.0zM251.7 109.3h1.0v1.0h-1.0zM253.7 109.3h1.0v1.0h-1.0zM247.7 111.3h1.0v1.0h-1.0zM257.7 111.3h1.0v1.0h-1.0zM246.7 113.3h1.0v1.0h-1.0zM250.7 115.3h1.0v1.0h-1.0zM255.7 118.3h1.0v1.0h-1.0zM257.7 118.3h1.0v1.0h-1.0zM257.7 121.3h1.0v1.0h-1.0z"/>
<path fill="#dd9a2a" d="M257.7 99.3h1.0v1.0h-1.0zM259.7 99.3h1.0v1.0h-1.0zM260.7 99.3h1.0v1.0h-1.0zM252.7 100.3h1.0v1.0h-1.0zM252.7 101.3h1.0v1.0h-1.0zM257.7 101.3h1.0v1.0h-1.0zM258.7 101.3h1.0v1.0h-1.0zM261.7 101.3h1.0v1.0h-1.0zM259.7 102.3h1.0v1.0h-1.0zM253.7 103.3h1.0v1.0h-1.0zM259.7 104.3h1.0v1.0h-1.0zM249.7 107.3h1.0v1.0h-1.0zM252.7 107.3h1.0v1.0h-1.0zM257.7 107.3h1.0v1.0h-1.0zM255.7 108.3h1.0v1.0h-1.0zM258.7 108.3h1.0v1.0h-1.0zM254.7 110.3h1.0v1.0h-1.0zM251.7 113.3h1.0v1.0h-1.0zM260.7 113.3h1.0v1.0h-1.0zM247.7 114.3h1.0v1.0h-1.0zM246.7 115.3h1.0v1.0h-1.0zM252.7 115.3h1.0v1.0h-1.0zM246.7 117.3h1.0v1.0h-1.0zM259.7 117.3h1.0v1.0h-1.0zM254.7 118.3h1.0v1.0h-1.0zM256.7 120.3h1.0v1.0h-1.0zM258.7 121.3h1.0v1.0h-1.0zM261.7 121.3h1.0v1.0h-1.0z"/>
<path fill="#90c936" d="M255.7 98.3h1.0v1.0h-1.0zM259.7 106.3h1.0v1.0h-1.0zM250.7 108.3h1.0v1.0h-1.0zM250.7 109.3h1.0v1.0h-1.0zM259.7 109.3h1.0v1.0h-1.0zM250.7 110.3h1.0v1.0h-1.0zM252.7 111.3h1.0v1.0h-1.0zM251.7 112.3h1.0v1.0h-1.0zM252.7 112.3h1.0v1.0h-1.0zM250.7 114.3h1.0v1.0h-1.0zM251.7 115.3h1.0v1.0h-1.0zM249.7 117.3h1.0v1.0h-1.0zM256.7 118.3h1.0v1.0h-1.0zM253.7 120.3h1.0v1.0h-1.0zM262.7 120.3h1.0v1.0h-1.0z"/>
<polygon points="266.01,119.10 268.71,119.40 271.21,120.20 272.41,121.90 272.61,126.20 267.01,126.20 266.41,123.40" fill="#9fc837"/>
<polygon points="266.58,119.68 268.80,119.93 270.85,120.59 271.83,121.98 272.00,125.51 267.40,125.51 266.91,123.21" fill="#c2cd2c"/>
<polygon points="267.60,120.72 268.95,120.87 270.20,121.27 270.80,122.12 270.90,124.27 268.10,124.27 267.80,122.87" fill="#d2bc2f"/>
<path fill="#c16f47" d="M266.0 121.1h1.0v1.0h-1.0zM268.0 122.1h1.0v1.0h-1.0zM270.0 123.1h1.0v1.0h-1.0z"/>
<path fill="#e05e21" d="M269.0 123.1h1.0v1.0h-1.0zM267.0 125.1h1.0v1.0h-1.0z"/>
<path fill="#b4cb30" d="M266.0 119.1h1.0v1.0h-1.0zM270.0 122.1h1.0v1.0h-1.0zM271.0 124.1h1.0v1.0h-1.0z"/>
<path fill="#dd9a2a" d="M267.0 119.1h1.0v1.0h-1.0zM266.0 120.1h1.0v1.0h-1.0zM270.0 121.1h1.0v1.0h-1.0zM267.0 123.1h1.0v1.0h-1.0zM268.0 123.1h1.0v1.0h-1.0zM271.0 125.1h1.0v1.0h-1.0z"/>
<path fill="#90c936" d="M267.0 122.1h1.0v1.0h-1.0zM270.0 124.1h1.0v1.0h-1.0z"/>
<polygon points="285.84,98.50 287.84,97.30 290.24,97.30 292.44,99.10 294.04,101.30 293.24,104.90 292.84,110.40 293.84,115.90 295.24,121.90 293.14,122.50 291.04,122.30 287.14,121.30 284.14,120.50 280.64,120.10 278.14,119.10 277.14,117.30 279.84,110.90 282.84,103.90" fill="#acca32"/>
<polygon points="286.19,100.81 287.82,99.83 289.79,99.83 291.60,101.31 292.91,103.11 292.25,106.06 291.92,110.57 292.75,115.08 293.89,120.00 292.17,120.50 290.45,120.33 287.25,119.51 284.79,118.86 281.92,118.53 279.87,117.71 279.05,116.23 281.26,110.98 283.72,105.24" fill="#d0ce2a"/>
<polygon points="286.80,104.93 287.80,104.33 289.00,104.33 290.10,105.23 290.90,106.33 290.50,108.13 290.30,110.88 290.80,113.63 291.50,116.63 290.45,116.93 289.40,116.83 287.45,116.33 285.95,115.93 284.20,115.73 282.95,115.23 282.45,114.33 283.80,111.13 285.30,107.63" fill="#dfba2e"/>
<path fill="#d66737" d="M289.1 97.3h1.0v1.0h-1.0zM288.1 98.3h1.0v1.0h-1.0zM290.1 99.3h1.0v1.0h-1.0zM282.1 104.3h1.0v1.0h-1.0zM285.1 105.3h1.0v1.0h-1.0zM289.1 105.3h1.0v1.0h-1.0zM291.1 106.3h1.0v1.0h-1.0zM285.1 108.3h1.0v1.0h-1.0zM282.1 109.3h1.0v1.0h-1.0zM285.1 111.3h1.0v1.0h-1.0zM287.1 111.3h1.0v1.0h-1.0zM290.1 111.3h1.0v1.0h-1.0zM281.1 112.3h1.0v1.0h-1.0zM287.1 112.3h1.0v1.0h-1.0zM286.1 114.3h1.0v1.0h-1.0zM289.1 114.3h1.0v1.0h-1.0zM279.1 115.3h1.0v1.0h-1.0zM283.1 115.3h1.0v1.0h-1.0zM293.1 116.3h1.0v1.0h-1.0zM283.1 117.3h1.0v1.0h-1.0zM291.1 117.3h1.0v1.0h-1.0zM292.1 118.3h1.0v1.0h-1.0zM282.1 119.3h1.0v1.0h-1.0zM289.1 121.3h1.0v1.0h-1.0z"/>
<path fill="#e44d20" d="M287.1 99.3h1.0v1.0h-1.0zM288.1 99.3h1.0v1.0h-1.0zM285.1 100.3h1.0v1.0h-1.0zM284.1 106.3h1.0v1.0h-1.0zM285.1 106.3h1.0v1.0h-1.0zM290.1 106.3h1.0v1.0h-1.0zM281.1 107.3h1.0v1.0h-1.0zM283.1 108.3h1.0v1.0h-1.0zM284.1 108.3h1.0v1.0h-1.0zM292.1 108.3h1.0v1.0h-1.0zM283.1 109.3h1.0v1.0h-1.0zM284.1 109.3h1.0v1.0h-1.0zM282.1 110.3h1.0v1.0h-1.0zM282.1 111.3h1.0v1.0h-1.0zM288.1 111.3h1.0v1.0h-1.0zM291.1 114.3h1.0v1.0h-1.0zM288.1 116.3h1.0v1.0h-1.0zM277.1 117.3h1.0v1.0h-1.0zM279.1 117.3h1.0v1.0h-1.0zM282.1 117.3h1.0v1.0h-1.0zM287.1 117.3h1.0v1.0h-1.0zM289.1 117.3h1.0v1.0h-1.0zM286.1 119.3h1.0v1.0h-1.0zM291.1 121.3h1.0v1.0h-1.0z"/>
<path fill="#c5cf2c" d="M288.1 97.3h1.0v1.0h-1.0zM287.1 100.3h1.0v1.0h-1.0zM284.1 102.3h1.0v1.0h-1.0zM289.1 102.3h1.0v1.0h-1.0zM282.1 105.3h1.0v1.0h-1.0zM283.1 105.3h1.0v1.0h-1.0zM290.1 105.3h1.0v1.0h-1.0zM285.1 107.3h1.0v1.0h-1.0zM288.1 107.3h1.0v1.0h-1.0zM281.1 108.3h1.0v1.0h-1.0zM288.1 108.3h1.0v1.0h-1.0zM280.1 114.3h1.0v1.0h-1.0zM287.1 115.3h1.0v1.0h-1.0zM288.1 115.3h1.0v1.0h-1.0zM286.1 118.3h1.0v1.0h-1.0zM284.1 119.3h1.0v1.0h-1.0z"/>
<path fill="#e79329" d="M287.1 97.3h1.0v1.0h-1.0zM289.1 99.3h1.0v1.0h-1.0zM290.1 100.3h1.0v1.0h-1.0zM284.1 101.3h1.0v1.0h-1.0zM285.1 102.3h1.0v1.0h-1.0zM290.1 102.3h1.0v1.0h-1.0zM283.1 103.3h1.0v1.0h-1.0zM285.1 103.3h1.0v1.0h-1.0zM284.1 104.3h1.0v1.0h-1.0zM287.1 104.3h1.0v1.0h-1.0zM291.1 105.3h1.0v1.0h-1.0zM287.1 108.3h1.0v1.0h-1.0zM287.1 110.3h1.0v1.0h-1.0zM288.1 110.3h1.0v1.0h-1.0zM292.1 110.3h1.0v1.0h-1.0zM291.1 111.3h1.0v1.0h-1.0zM289.1 112.3h1.0v1.0h-1.0zM286.1 113.3h1.0v1.0h-1.0zM279.1 114.3h1.0v1.0h-1.0zM280.1 115.3h1.0v1.0h-1.0zM282.1 116.3h1.0v1.0h-1.0zM286.1 117.3h1.0v1.0h-1.0zM285.1 118.3h1.0v1.0h-1.0zM287.1 118.3h1.0v1.0h-1.0zM288.1 119.3h1.0v1.0h-1.0zM293.1 119.3h1.0v1.0h-1.0zM294.1 121.3h1.0v1.0h-1.0z"/>
<path fill="#98cb34" d="M293.1 100.3h1.0v1.0h-1.0zM283.1 102.3h1.0v1.0h-1.0zM288.1 103.3h1.0v1.0h-1.0zM288.1 106.3h1.0v1.0h-1.0zM289.1 108.3h1.0v1.0h-1.0zM289.1 110.3h1.0v1.0h-1.0zM289.1 111.3h1.0v1.0h-1.0zM283.1 112.3h1.0v1.0h-1.0zM288.1 112.3h1.0v1.0h-1.0zM289.1 113.3h1.0v1.0h-1.0zM284.1 115.3h1.0v1.0h-1.0zM281.1 116.3h1.0v1.0h-1.0zM289.1 116.3h1.0v1.0h-1.0zM288.1 117.3h1.0v1.0h-1.0zM291.1 119.3h1.0v1.0h-1.0zM285.1 120.3h1.0v1.0h-1.0zM291.1 120.3h1.0v1.0h-1.0zM293.1 120.3h1.0v1.0h-1.0z"/>
<polygon points="297.44,119.10 300.14,119.40 302.64,120.20 303.84,121.90 304.04,126.20 298.44,126.20 297.84,123.40" fill="#acca32"/>
<polygon points="298.01,119.68 300.23,119.93 302.28,120.59 303.26,121.98 303.43,125.51 298.83,125.51 298.34,123.21" fill="#d0ce2a"/>
<polygon points="299.03,120.72 300.38,120.87 301.63,121.27 302.23,122.12 302.33,124.27 299.53,124.27 299.23,122.87" fill="#dfba2e"/>
<path fill="#d66737" d="M297.4 120.1h1.0v1.0h-1.0zM302.4 122.1h1.0v1.0h-1.0zM298.4 123.1h1.0v1.0h-1.0z"/>
<path fill="#e44d20" d="M298.4 119.1h1.0v1.0h-1.0zM302.4 121.1h1.0v1.0h-1.0zM300.4 122.1h1.0v1.0h-1.0z"/>
<path fill="#c5cf2c" d="M299.4 119.1h1.0v1.0h-1.0z"/>
<path fill="#e79329" d="M300.4 123.1h1.0v1.0h-1.0zM300.4 124.1h1.0v1.0h-1.0z"/>
<path fill="#98cb34" d="M300.4 121.1h1.0v1.0h-1.0zM301.4 122.1h1.0v1.0h-1.0z"/>
<polygon points="317.27,98.50 319.27,97.30 321.67,97.30 323.87,99.10 325.47,101.30 324.67,104.90 324.27,110.40 325.27,115.90 326.67,121.90 324.57,122.50 322.47,122.30 318.57,121.30 315.57,120.50 312.07,120.10 309.57,119.10 308.57,117.30 311.27,110.90 314.27,103.90" fill="#b9cd2d"/>
<polygon points="317.62,100.81 319.25,99.83 321.22,99.83 323.03,101.31 324.34,103.11 323.68,106.06 323.35,110.57 324.18,115.08 325.32,120.00 323.60,120.50 321.88,120.33 318.68,119.51 316.22,118.86 313.35,118.53 311.30,117.71 310.48,116.23 312.69,110.98 315.15,105.24" fill="#ded028"/>
<polygon points="318.23,104.93 319.23,104.33 320.43,104.33 321.53,105.23 322.33,106.33 321.93,108.13 321.73,110.88 322.23,113.63 322.93,116.63 321.88,116.93 320.83,116.83 318.88,116.33 317.38,115.93 315.63,115.73 314.38,115.23 313.88,114.33 315.23,111.13 316.73,107.63" fill="#ecb92d"/>
<path fill="#eb5f28" d="M317.6 98.3h1.0v1.0h-1.0zM321.6 101.3h1.0v1.0h-1.0zM322.6 101.3h1.0v1.0h-1.0zM315.6 104.3h1.0v1.0h-1.0zM318.6 104.3h1.0v1.0h-1.0zM315.6 105.3h1.0v1.0h-1.0zM322.6 105.3h1.0v1.0h-1.0zM319.6 107.3h1.0v1.0h-1.0zM316.6 108.3h1.0v1.0h-1.0zM313.6 109.3h1.0v1.0h-1.0zM317.6 109.3h1.0v1.0h-1.0zM317.6 113.3h1.0v1.0h-1.0zM319.6 113.3h1.0v1.0h-1.0zM320.6 113.3h1.0v1.0h-1.0zM316.6 114.3h1.0v1.0h-1.0zM309.6 116.3h1.0v1.0h-1.0zM316.6 116.3h1.0v1.0h-1.0zM310.6 118.3h1.0v1.0h-1.0zM311.6 118.3h1.0v1.0h-1.0zM315.6 118.3h1.0v1.0h-1.0zM316.6 118.3h1.0v1.0h-1.0zM322.6 118.3h1.0v1.0h-1.0zM315.6 119.3h1.0v1.0h-1.0zM320.6 120.3h1.0v1.0h-1.0z"/>
<path fill="#e83c20" d="M321.6 98.3h1.0v1.0h-1.0zM319.6 101.3h1.0v1.0h-1.0zM316.6 103.3h1.0v1.0h-1.0zM322.6 103.3h1.0v1.0h-1.0zM323.6 103.3h1.0v1.0h-1.0zM314.6 104.3h1.0v1.0h-1.0zM322.6 106.3h1.0v1.0h-1.0zM321.6 109.3h1.0v1.0h-1.0zM310.6 111.3h1.0v1.0h-1.0zM315.6 111.3h1.0v1.0h-1.0zM315.6 112.3h1.0v1.0h-1.0zM311.6 115.3h1.0v1.0h-1.0zM323.6 115.3h1.0v1.0h-1.0zM317.6 116.3h1.0v1.0h-1.0zM320.6 116.3h1.0v1.0h-1.0zM324.6 118.3h1.0v1.0h-1.0zM311.6 119.3h1.0v1.0h-1.0zM324.6 119.3h1.0v1.0h-1.0zM322.6 120.3h1.0v1.0h-1.0z"/>
<path fill="#d7d428" d="M319.6 99.3h1.0v1.0h-1.0zM315.6 100.3h1.0v1.0h-1.0zM318.6 100.3h1.0v1.0h-1.0zM323.6 100.3h1.0v1.0h-1.0zM322.6 102.3h1.0v1.0h-1.0zM319.6 104.3h1.0v1.0h-1.0zM320.6 104.3h1.0v1.0h-1.0zM312.6 106.3h1.0v1.0h-1.0zM312.6 108.3h1.0v1.0h-1.0zM318.6 108.3h1.0v1.0h-1.0zM311.6 111.3h1.0v1.0h-1.0zM316.6 111.3h1.0v1.0h-1.0zM320.6 112.3h1.0v1.0h-1.0zM323.6 112.3h1.0v1.0h-1.0zM320.6 114.3h1.0v1.0h-1.0zM312.6 115.3h1.0v1.0h-1.0zM317.6 115.3h1.0v1.0h-1.0zM311.6 116.3h1.0v1.0h-1.0zM315.6 117.3h1.0v1.0h-1.0zM324.6 117.3h1.0v1.0h-1.0zM317.6 120.3h1.0v1.0h-1.0z"/>
<path fill="#f28c28" d="M321.6 102.3h1.0v1.0h-1.0zM317.6 104.3h1.0v1.0h-1.0zM316.6 107.3h1.0v1.0h-1.0zM318.6 107.3h1.0v1.0h-1.0zM319.6 108.3h1.0v1.0h-1.0zM320.6 108.3h1.0v1.0h-1.0zM320.6 109.3h1.0v1.0h-1.0zM314.6 110.3h1.0v1.0h-1.0zM315.6 110.3h1.0v1.0h-1.0zM318.6 110.3h1.0v1.0h-1.0zM317.6 112.3h1.0v1.0h-1.0zM309.6 113.3h1.0v1.0h-1.0zM314.6 113.3h1.0v1.0h-1.0zM318.6 115.3h1.0v1.0h-1.0zM321.6 118.3h1.0v1.0h-1.0zM318.6 119.3h1.0v1.0h-1.0zM325.6 121.3h1.0v1.0h-1.0z"/>
<path fill="#a0cd32" d="M318.6 97.3h1.0v1.0h-1.0zM319.6 100.3h1.0v1.0h-1.0zM322.6 100.3h1.0v1.0h-1.0zM323.6 101.3h1.0v1.0h-1.0zM319.6 103.3h1.0v1.0h-1.0zM319.6 105.3h1.0v1.0h-1.0zM317.6 106.3h1.0v1.0h-1.0zM319.6 106.3h1.0v1.0h-1.0zM321.6 108.3h1.0v1.0h-1.0zM318.6 111.3h1.0v1.0h-1.0zM320.6 111.3h1.0v1.0h-1.0zM322.6 112.3h1.0v1.0h-1.0zM315.6 113.3h1.0v1.0h-1.0zM316.6 113.3h1.0v1.0h-1.0zM321.6 113.3h1.0v1.0h-1.0zM313.6 114.3h1.0v1.0h-1.0zM318.6 114.3h1.0v1.0h-1.0zM319.6 114.3h1.0v1.0h-1.0zM322.6 114.3h1.0v1.0h-1.0zM323.6 116.3h1.0v1.0h-1.0zM317.6 117.3h1.0v1.0h-1.0zM322.6 117.3h1.0v1.0h-1.0zM312.6 118.3h1.0v1.0h-1.0zM322.6 119.3h1.0v1.0h-1.0zM325.6 119.3h1.0v1.0h-1.0zM316.6 120.3h1.0v1.0h-1.0zM323.6 120.3h1.0v1.0h-1.0z"/>
<polygon points="328.87,119.10 331.57,119.40 334.07,120.20 335.27,121.90 335.47,126.20 329.87,126.20 329.27,123.40" fill="#b9cd2d"/>
<polygon points="329.44,119.68 331.66,119.93 333.71,120.59 334.69,121.98 334.86,125.51 330.26,125.51 329.77,123.21" fill="#ded028"/>
<polygon points="330.46,120.72 331.81,120.87 333.06,121.27 333.66,122.12 333.76,124.27 330.96,124.27 330.66,122.87" fill="#ecb92d"/>
<path fill="#e83c20" d="M330.9 119.1h1.0v1.0h-1.0zM333.9 121.1h1.0v1.0h-1.0zM334.9 125.1h1.0v1.0h-1.0z"/>
<path fill="#f28c28" d="M330.9 120.1h1.0v1.0h-1.0zM331.9 120.1h1.0v1.0h-1.0zM329.9 123.1h1.0v1.0h-1.0z"/>
<rect x="23.00" y="97.80" width="1.40" height="7.30" fill="#f4f4f4"/>
<rect x="373.80" y="27.20" width="149.30" height="7.60" fill="url(#gray)" stroke="#444" stroke-width="0.7"/>
<text x="374.09" y="25.20" font-size="10.40" fill="#1b1b1b" stroke="#1b1b1b" stroke-width="0.3">0</text>
<text x="436.32" y="23.30" font-size="10.73" fill="#1b1b1b" stroke="#1b1b1b" stroke-width="0.3">Photons</text>
<text x="509.68" y="25.40" font-size="10.60" fill="#1b1b1b" stroke="#1b1b1b" stroke-width="0.3">500</text>
<rect x="373.80" y="38.60" width="314.30" height="31.20" fill="#050505"/>
<polygon points="392.40,63.20 405.20,63.20 405.20,69.80 391.40,69.80 392.20,66.00" fill="#2a2a2a"/>
<polygon points="380.80,59.10 382.00,54.10 383.60,50.90 386.80,47.60 390.30,46.00 393.40,44.80 395.20,45.60 396.20,48.40 397.40,51.60 398.60,55.60 398.00,58.60 396.20,61.20 394.00,63.20 391.80,65.80 389.40,66.80 386.40,66.20 384.00,64.20 381.60,62.00" fill="#dadada"/>
<path fill="#b7b7b7" d="M389.8 46.8h1.0v1.0h-1.0zM386.8 47.8h1.0v1.0h-1.0zM392.8 47.8h1.0v1.0h-1.0zM389.8 49.8h1.0v1.0h-1.0zM385.8 50.8h1.0v1.0h-1.0zM390.8 51.8h1.0v1.0h-1.0zM396.8 52.8h1.0v1.0h-1.0zM382.8 53.8h1.0v1.0h-1.0zM392.8 53.8h1.0v1.0h-1.0zM396.8 53.8h1.0v1.0h-1.0zM385.8 54.8h1.0v1.0h-1.0zM391.8 54.8h1.0v1.0h-1.0zM394.8 55.8h1.0v1.0h-1.0zM389.8 57.8h1.0v1.0h-1.0zM395.8 57.8h1.0v1.0h-1.0zM384.8 58.8h1.0v1.0h-1.0zM387.8 59.8h1.0v1.0h-1.0zM384.8 61.8h1.0v1.0h-1.0zM389.8 61.8h1.0v1.0h-1.0zM390.8 62.8h1.0v1.0h-1.0zM385.8 63.8h1.0v1.0h-1.0zM386.8 64.8h1.0v1.0h-1.0zM389.8 64.8h1.0v1.0h-1.0z"/>
<path fill="#eeeeee" d="M392.8 44.8h1.0v1.0h-1.0zM389.8 45.8h1.0v1.0h-1.0zM390.8 45.8h1.0v1.0h-1.0zM393.8 46.8h1.0v1.0h-1.0zM391.8 47.8h1.0v1.0h-1.0zM388.8 49.8h1.0v1.0h-1.0zM395.8 49.8h1.0v1.0h-1.0zM391.8 52.8h1.0v1.0h-1.0zM394.8 54.8h1.0v1.0h-1.0zM395.8 54.8h1.0v1.0h-1.0zM381.8 55.8h1.0v1.0h-1.0zM384.8 55.8h1.0v1.0h-1.0zM391.8 55.8h1.0v1.0h-1.0zM382.8 57.8h1.0v1.0h-1.0zM390.8 57.8h1.0v1.0h-1.0zM381.8 58.8h1.0v1.0h-1.0zM387.8 58.8h1.0v1.0h-1.0zM390.8 58.8h1.0v1.0h-1.0zM384.8 59.8h1.0v1.0h-1.0zM388.8 60.8h1.0v1.0h-1.0zM389.8 63.8h1.0v1.0h-1.0zM387.8 65.8h1.0v1.0h-1.0zM389.8 65.8h1.0v1.0h-1.0z"/>
<path fill="#c8c8c8" d="M394.8 46.8h1.0v1.0h-1.0zM392.8 48.8h1.0v1.0h-1.0zM386.8 50.8h1.0v1.0h-1.0zM386.8 51.8h1.0v1.0h-1.0zM389.8 51.8h1.0v1.0h-1.0zM387.8 53.8h1.0v1.0h-1.0zM388.8 53.8h1.0v1.0h-1.0zM393.8 53.8h1.0v1.0h-1.0zM388.8 54.8h1.0v1.0h-1.0zM390.8 55.8h1.0v1.0h-1.0zM380.8 58.8h1.0v1.0h-1.0zM382.8 59.8h1.0v1.0h-1.0zM392.8 59.8h1.0v1.0h-1.0zM382.8 60.8h1.0v1.0h-1.0zM385.8 61.8h1.0v1.0h-1.0z"/>
<polygon points="389.20,38.60 404.20,38.60 404.20,43.80 401.80,44.60 400.00,45.20 398.00,43.40 396.20,43.20 394.40,44.60 392.40,44.60 390.40,43.20 389.20,40.60" fill="#dadada"/>
<path fill="#b7b7b7" d="M397.2 39.6h1.0v1.0h-1.0zM391.2 40.6h1.0v1.0h-1.0zM393.2 41.6h1.0v1.0h-1.0zM390.2 42.6h1.0v1.0h-1.0z"/>
<path fill="#eeeeee" d="M391.2 38.6h1.0v1.0h-1.0zM400.2 39.6h1.0v1.0h-1.0zM402.2 39.6h1.0v1.0h-1.0zM398.2 40.6h1.0v1.0h-1.0zM397.2 42.6h1.0v1.0h-1.0zM401.2 43.6h1.0v1.0h-1.0z"/>
<path fill="#c8c8c8" d="M397.2 38.6h1.0v1.0h-1.0zM401.2 39.6h1.0v1.0h-1.0zM395.2 40.6h1.0v1.0h-1.0zM401.2 40.6h1.0v1.0h-1.0zM399.2 42.6h1.0v1.0h-1.0zM402.2 43.6h1.0v1.0h-1.0z"/>
<polygon points="423.83,63.20 436.63,63.20 436.63,69.80 422.83,69.80 423.63,66.00" fill="#282828"/>
<polygon points="412.23,59.10 413.43,54.10 415.03,50.90 418.23,47.60 421.73,46.00 424.83,44.80 426.63,45.60 427.63,48.40 428.83,51.60 430.03,55.60 429.43,58.60 427.63,61.20 425.43,63.20 423.23,65.80 420.83,66.80 417.83,66.20 415.43,64.20 413.03,62.00" fill="#d2d2d2"/>
<path fill="#afafaf" d="M424.2 44.8h1.0v1.0h-1.0zM422.2 45.8h1.0v1.0h-1.0zM426.2 47.8h1.0v1.0h-1.0zM421.2 49.8h1.0v1.0h-1.0zM426.2 50.8h1.0v1.0h-1.0zM415.2 52.8h1.0v1.0h-1.0zM417.2 52.8h1.0v1.0h-1.0zM414.2 53.8h1.0v1.0h-1.0zM413.2 54.8h1.0v1.0h-1.0zM418.2 54.8h1.0v1.0h-1.0zM418.2 55.8h1.0v1.0h-1.0zM429.2 55.8h1.0v1.0h-1.0zM423.2 57.8h1.0v1.0h-1.0zM426.2 57.8h1.0v1.0h-1.0zM425.2 58.8h1.0v1.0h-1.0zM427.2 59.8h1.0v1.0h-1.0zM414.2 62.8h1.0v1.0h-1.0zM423.2 62.8h1.0v1.0h-1.0zM424.2 62.8h1.0v1.0h-1.0zM419.2 64.8h1.0v1.0h-1.0zM418.2 65.8h1.0v1.0h-1.0zM420.2 65.8h1.0v1.0h-1.0z"/>
<path fill="#e6e6e6" d="M425.2 44.8h1.0v1.0h-1.0zM426.2 45.8h1.0v1.0h-1.0zM420.2 46.8h1.0v1.0h-1.0zM422.2 48.8h1.0v1.0h-1.0zM418.2 50.8h1.0v1.0h-1.0zM419.2 50.8h1.0v1.0h-1.0zM420.2 50.8h1.0v1.0h-1.0zM424.2 50.8h1.0v1.0h-1.0zM417.2 51.8h1.0v1.0h-1.0zM422.2 52.8h1.0v1.0h-1.0zM428.2 52.8h1.0v1.0h-1.0zM421.2 54.8h1.0v1.0h-1.0zM417.2 55.8h1.0v1.0h-1.0zM424.2 55.8h1.0v1.0h-1.0zM415.2 56.8h1.0v1.0h-1.0zM420.2 56.8h1.0v1.0h-1.0zM421.2 56.8h1.0v1.0h-1.0zM422.2 56.8h1.0v1.0h-1.0zM427.2 56.8h1.0v1.0h-1.0zM414.2 57.8h1.0v1.0h-1.0zM413.2 58.8h1.0v1.0h-1.0zM417.2 58.8h1.0v1.0h-1.0zM428.2 58.8h1.0v1.0h-1.0zM425.2 59.8h1.0v1.0h-1.0zM421.2 60.8h1.0v1.0h-1.0zM424.2 60.8h1.0v1.0h-1.0zM415.2 61.8h1.0v1.0h-1.0zM421.2 62.8h1.0v1.0h-1.0z"/>
<path fill="#c0c0c0" d="M418.2 49.8h1.0v1.0h-1.0zM427.2 49.8h1.0v1.0h-1.0zM415.2 51.8h1.0v1.0h-1.0zM424.2 51.8h1.0v1.0h-1.0zM427.2 52.8h1.0v1.0h-1.0zM413.2 53.8h1.0v1.0h-1.0zM415.2 53.8h1.0v1.0h-1.0zM424.2 53.8h1.0v1.0h-1.0zM427.2 54.8h1.0v1.0h-1.0zM420.2 55.8h1.0v1.0h-1.0zM422.2 55.8h1.0v1.0h-1.0zM425.2 55.8h1.0v1.0h-1.0zM421.2 57.8h1.0v1.0h-1.0zM418.2 61.8h1.0v1.0h-1.0z"/>
<polygon points="420.63,38.60 435.63,38.60 435.63,43.80 433.23,44.60 431.43,45.20 429.43,43.40 427.63,43.20 425.83,44.60 423.83,44.60 421.83,43.20 420.63,40.60" fill="#d2d2d2"/>
<path fill="#afafaf" d="M433.6 38.6h1.0v1.0h-1.0zM420.6 39.6h1.0v1.0h-1.0zM422.6 39.6h1.0v1.0h-1.0zM423.6 42.6h1.0v1.0h-1.0zM423.6 43.6h1.0v1.0h-1.0zM425.6 43.6h1.0v1.0h-1.0z"/>
<path fill="#e6e6e6" d="M428.6 39.6h1.0v1.0h-1.0zM431.6 40.6h1.0v1.0h-1.0zM421.6 41.6h1.0v1.0h-1.0zM423.6 41.6h1.0v1.0h-1.0zM422.6 42.6h1.0v1.0h-1.0zM427.6 42.6h1.0v1.0h-1.0zM431.6 42.6h1.0v1.0h-1.0z"/>
<path fill="#c0c0c0" d="M433.6 39.6h1.0v1.0h-1.0zM421.6 40.6h1.0v1.0h-1.0zM429.6 40.6h1.0v1.0h-1.0zM432.6 40.6h1.0v1.0h-1.0zM421.6 42.6h1.0v1.0h-1.0z"/>
<polygon points="455.26,63.20 468.06,63.20 468.06,69.80 454.26,69.80 455.06,66.00" fill="#262626"/>
<polygon points="443.66,59.10 444.86,54.10 446.46,50.90 449.66,47.60 453.16,46.00 456.26,44.80 458.06,45.60 459.06,48.40 460.26,51.60 461.46,55.60 460.86,58.60 459.06,61.20 456.86,63.20 454.66,65.80 452.26,66.80 449.26,66.20 446.86,64.20 444.46,62.00" fill="#cacaca"/>
<path fill="#a7a7a7" d="M455.7 45.8h1.0v1.0h-1.0zM459.7 51.8h1.0v1.0h-1.0zM450.7 52.8h1.0v1.0h-1.0zM455.7 53.8h1.0v1.0h-1.0zM444.7 55.8h1.0v1.0h-1.0zM449.7 55.8h1.0v1.0h-1.0zM446.7 57.8h1.0v1.0h-1.0zM459.7 57.8h1.0v1.0h-1.0zM444.7 59.8h1.0v1.0h-1.0zM451.7 59.8h1.0v1.0h-1.0zM456.7 59.8h1.0v1.0h-1.0zM457.7 59.8h1.0v1.0h-1.0zM445.7 60.8h1.0v1.0h-1.0zM446.7 60.8h1.0v1.0h-1.0zM452.7 61.8h1.0v1.0h-1.0zM449.7 62.8h1.0v1.0h-1.0zM446.7 63.8h1.0v1.0h-1.0zM451.7 63.8h1.0v1.0h-1.0zM451.7 65.8h1.0v1.0h-1.0z"/>
<path fill="#dedede" d="M452.7 45.8h1.0v1.0h-1.0zM454.7 47.8h1.0v1.0h-1.0zM455.7 47.8h1.0v1.0h-1.0zM457.7 48.8h1.0v1.0h-1.0zM455.7 49.8h1.0v1.0h-1.0zM453.7 51.8h1.0v1.0h-1.0zM453.7 53.8h1.0v1.0h-1.0zM455.7 54.8h1.0v1.0h-1.0zM448.7 55.8h1.0v1.0h-1.0zM453.7 55.8h1.0v1.0h-1.0zM459.7 55.8h1.0v1.0h-1.0zM443.7 56.8h1.0v1.0h-1.0zM444.7 56.8h1.0v1.0h-1.0zM446.7 56.8h1.0v1.0h-1.0zM451.7 56.8h1.0v1.0h-1.0zM459.7 56.8h1.0v1.0h-1.0zM445.7 57.8h1.0v1.0h-1.0zM447.7 57.8h1.0v1.0h-1.0zM444.7 58.8h1.0v1.0h-1.0zM446.7 58.8h1.0v1.0h-1.0zM457.7 58.8h1.0v1.0h-1.0z"/>
<path fill="#b8b8b8" d="M453.7 47.8h1.0v1.0h-1.0zM450.7 48.8h1.0v1.0h-1.0zM453.7 50.8h1.0v1.0h-1.0zM447.7 51.8h1.0v1.0h-1.0zM455.7 51.8h1.0v1.0h-1.0zM457.7 51.8h1.0v1.0h-1.0zM445.7 53.8h1.0v1.0h-1.0zM448.7 53.8h1.0v1.0h-1.0zM452.7 53.8h1.0v1.0h-1.0zM453.7 54.8h1.0v1.0h-1.0zM455.7 55.8h1.0v1.0h-1.0zM447.7 56.8h1.0v1.0h-1.0zM449.7 56.8h1.0v1.0h-1.0zM453.7 56.8h1.0v1.0h-1.0zM446.7 59.8h1.0v1.0h-1.0zM458.7 59.8h1.0v1.0h-1.0zM445.7 62.8h1.0v1.0h-1.0zM452.7 63.8h1.0v1.0h-1.0zM448.7 64.8h1.0v1.0h-1.0zM452.7 65.8h1.0v1.0h-1.0z"/>
<polygon points="452.06,38.60 467.06,38.60 467.06,43.80 464.66,44.60 462.86,45.20 460.86,43.40 459.06,43.20 457.26,44.60 455.26,44.60 453.26,43.20 452.06,40.60" fill="#cacaca"/>
<path fill="#a7a7a7" d="M462.1 38.6h1.0v1.0h-1.0zM464.1 39.6h1.0v1.0h-1.0zM454.1 40.6h1.0v1.0h-1.0zM454.1 41.6h1.0v1.0h-1.0zM461.1 42.6h1.0v1.0h-1.0z"/>
<path fill="#dedede" d="M452.1 38.6h1.0v1.0h-1.0zM465.1 39.6h1.0v1.0h-1.0zM452.1 40.6h1.0v1.0h-1.0zM460.1 41.6h1.0v1.0h-1.0zM456.1 43.6h1.0v1.0h-1.0zM462.1 43.6h1.0v1.0h-1.0zM463.1 43.6h1.0v1.0h-1.0z"/>
<path fill="#b8b8b8" d="M456.1 38.6h1.0v1.0h-1.0zM457.1 39.6h1.0v1.0h-1.0zM456.1 40.6h1.0v1.0h-1.0zM459.1 40.6h1.0v1.0h-1.0zM456.1 41.6h1.0v1.0h-1.0zM454.1 42.6h1.0v1.0h-1.0zM458.1 42.6h1.0v1.0h-1.0zM455.1 43.6h1.0v1.0h-1.0z"/>
<polygon points="486.69,63.20 499.49,63.20 499.49,69.80 485.69,69.80 486.49,66.00" fill="#242424"/>
<polygon points="475.09,59.10 476.29,54.10 477.89,50.90 481.09,47.60 484.59,46.00 487.69,44.80 489.49,45.60 490.49,48.40 491.69,51.60 492.89,55.60 492.29,58.60 490.49,61.20 488.29,63.20 486.09,65.80 483.69,66.80 480.69,66.20 478.29,64.20 475.89,62.00" fill="#c3c3c3"/>
<path fill="#a0a0a0" d="M487.1 45.8h1.0v1.0h-1.0zM483.1 46.8h1.0v1.0h-1.0zM487.1 47.8h1.0v1.0h-1.0zM488.1 47.8h1.0v1.0h-1.0zM479.1 48.8h1.0v1.0h-1.0zM488.1 49.8h1.0v1.0h-1.0zM490.1 49.8h1.0v1.0h-1.0zM481.1 51.8h1.0v1.0h-1.0zM481.1 52.8h1.0v1.0h-1.0zM483.1 52.8h1.0v1.0h-1.0zM488.1 52.8h1.0v1.0h-1.0zM488.1 53.8h1.0v1.0h-1.0zM486.1 55.8h1.0v1.0h-1.0zM482.1 56.8h1.0v1.0h-1.0zM486.1 59.8h1.0v1.0h-1.0zM484.1 60.8h1.0v1.0h-1.0z"/>
<path fill="#d7d7d7" d="M484.1 45.8h1.0v1.0h-1.0zM485.1 45.8h1.0v1.0h-1.0zM487.1 46.8h1.0v1.0h-1.0zM484.1 47.8h1.0v1.0h-1.0zM489.1 48.8h1.0v1.0h-1.0zM482.1 50.8h1.0v1.0h-1.0zM479.1 51.8h1.0v1.0h-1.0zM490.1 52.8h1.0v1.0h-1.0zM478.1 53.8h1.0v1.0h-1.0zM479.1 54.8h1.0v1.0h-1.0zM486.1 54.8h1.0v1.0h-1.0zM489.1 57.8h1.0v1.0h-1.0zM476.1 59.8h1.0v1.0h-1.0zM476.1 60.8h1.0v1.0h-1.0zM481.1 60.8h1.0v1.0h-1.0zM488.1 60.8h1.0v1.0h-1.0zM489.1 60.8h1.0v1.0h-1.0zM483.1 61.8h1.0v1.0h-1.0zM481.1 62.8h1.0v1.0h-1.0z"/>
<path fill="#b1b1b1" d="M485.1 46.8h1.0v1.0h-1.0zM483.1 47.8h1.0v1.0h-1.0zM486.1 47.8h1.0v1.0h-1.0zM483.1 49.8h1.0v1.0h-1.0zM486.1 50.8h1.0v1.0h-1.0zM483.1 51.8h1.0v1.0h-1.0zM489.1 51.8h1.0v1.0h-1.0zM489.1 52.8h1.0v1.0h-1.0zM481.1 53.8h1.0v1.0h-1.0zM484.1 53.8h1.0v1.0h-1.0zM482.1 55.8h1.0v1.0h-1.0zM475.1 57.8h1.0v1.0h-1.0zM479.1 59.8h1.0v1.0h-1.0zM489.1 59.8h1.0v1.0h-1.0zM482.1 60.8h1.0v1.0h-1.0zM488.1 61.8h1.0v1.0h-1.0zM482.1 63.8h1.0v1.0h-1.0zM484.1 63.8h1.0v1.0h-1.0zM486.1 63.8h1.0v1.0h-1.0zM481.1 65.8h1.0v1.0h-1.0z"/>
<polygon points="483.49,38.60 498.49,38.60 498.49,43.80 496.09,44.60 494.29,45.20 492.29,43.40 490.49,43.20 488.69,44.60 486.69,44.60 484.69,43.20 483.49,40.60" fill="#c3c3c3"/>
<path fill="#a0a0a0" d="M483.5 38.6h1.0v1.0h-1.0zM487.5 41.6h1.0v1.0h-1.0zM496.5 41.6h1.0v1.0h-1.0zM497.5 41.6h1.0v1.0h-1.0zM496.5 43.6h1.0v1.0h-1.0z"/>
<path fill="#d7d7d7" d="M488.5 39.6h1.0v1.0h-1.0zM492.5 40.6h1.0v1.0h-1.0zM485.5 41.6h1.0v1.0h-1.0zM486.5 41.6h1.0v1.0h-1.0zM486.5 42.6h1.0v1.0h-1.0zM493.5 43.6h1.0v1.0h-1.0z"/>
<path fill="#b1b1b1" d="M489.5 38.6h1.0v1.0h-1.0zM486.5 39.6h1.0v1.0h-1.0zM492.5 39.6h1.0v1.0h-1.0zM496.5 39.6h1.0v1.0h-1.0zM492.5 41.6h1.0v1.0h-1.0zM493.5 41.6h1.0v1.0h-1.0zM494.5 42.6h1.0v1.0h-1.0z"/>
<polygon points="518.12,63.20 530.92,63.20 530.92,69.80 517.12,69.80 517.92,66.00" fill="#222222"/>
<polygon points="506.52,59.10 507.72,54.10 509.32,50.90 512.52,47.60 516.02,46.00 519.12,44.80 520.92,45.60 521.92,48.40 523.12,51.60 524.32,55.60 523.72,58.60 521.92,61.20 519.72,63.20 517.52,65.80 515.12,66.80 512.12,66.20 509.72,64.20 507.32,62.00" fill="#bbbbbb"/>
<path fill="#989898" d="M519.5 47.8h1.0v1.0h-1.0zM519.5 49.8h1.0v1.0h-1.0zM521.5 49.8h1.0v1.0h-1.0zM514.5 50.8h1.0v1.0h-1.0zM522.5 51.8h1.0v1.0h-1.0zM516.5 52.8h1.0v1.0h-1.0zM519.5 52.8h1.0v1.0h-1.0zM513.5 55.8h1.0v1.0h-1.0zM514.5 55.8h1.0v1.0h-1.0zM523.5 55.8h1.0v1.0h-1.0zM506.5 57.8h1.0v1.0h-1.0zM511.5 57.8h1.0v1.0h-1.0zM515.5 57.8h1.0v1.0h-1.0zM512.5 58.8h1.0v1.0h-1.0zM520.5 58.8h1.0v1.0h-1.0zM518.5 59.8h1.0v1.0h-1.0zM521.5 59.8h1.0v1.0h-1.0zM508.5 60.8h1.0v1.0h-1.0zM517.5 60.8h1.0v1.0h-1.0zM510.5 61.8h1.0v1.0h-1.0zM516.5 61.8h1.0v1.0h-1.0zM515.5 63.8h1.0v1.0h-1.0z"/>
<path fill="#cfcfcf" d="M516.5 45.8h1.0v1.0h-1.0zM513.5 46.8h1.0v1.0h-1.0zM518.5 46.8h1.0v1.0h-1.0zM512.5 47.8h1.0v1.0h-1.0zM513.5 47.8h1.0v1.0h-1.0zM515.5 47.8h1.0v1.0h-1.0zM513.5 48.8h1.0v1.0h-1.0zM514.5 48.8h1.0v1.0h-1.0zM517.5 48.8h1.0v1.0h-1.0zM512.5 50.8h1.0v1.0h-1.0zM515.5 52.8h1.0v1.0h-1.0zM520.5 52.8h1.0v1.0h-1.0zM521.5 53.8h1.0v1.0h-1.0zM522.5 53.8h1.0v1.0h-1.0zM511.5 54.8h1.0v1.0h-1.0zM523.5 54.8h1.0v1.0h-1.0zM521.5 55.8h1.0v1.0h-1.0zM513.5 56.8h1.0v1.0h-1.0zM507.5 58.8h1.0v1.0h-1.0zM509.5 58.8h1.0v1.0h-1.0zM509.5 59.8h1.0v1.0h-1.0zM517.5 59.8h1.0v1.0h-1.0zM519.5 60.8h1.0v1.0h-1.0zM513.5 63.8h1.0v1.0h-1.0zM515.5 65.8h1.0v1.0h-1.0z"/>
<path fill="#a9a9a9" d="M514.5 46.8h1.0v1.0h-1.0zM518.5 47.8h1.0v1.0h-1.0zM520.5 47.8h1.0v1.0h-1.0zM509.5 49.8h1.0v1.0h-1.0zM515.5 49.8h1.0v1.0h-1.0zM516.5 49.8h1.0v1.0h-1.0zM520.5 49.8h1.0v1.0h-1.0zM509.5 51.8h1.0v1.0h-1.0zM510.5 51.8h1.0v1.0h-1.0zM512.5 51.8h1.0v1.0h-1.0zM509.5 53.8h1.0v1.0h-1.0zM517.5 54.8h1.0v1.0h-1.0zM507.5 56.8h1.0v1.0h-1.0zM512.5 57.8h1.0v1.0h-1.0zM517.5 57.8h1.0v1.0h-1.0zM512.5 62.8h1.0v1.0h-1.0zM513.5 62.8h1.0v1.0h-1.0zM511.5 63.8h1.0v1.0h-1.0zM512.5 63.8h1.0v1.0h-1.0zM513.5 64.8h1.0v1.0h-1.0z"/>
<polygon points="514.92,38.60 529.92,38.60 529.92,43.80 527.52,44.60 525.72,45.20 523.72,43.40 521.92,43.20 520.12,44.60 518.12,44.60 516.12,43.20 514.92,40.60" fill="#bbbbbb"/>
<path fill="#989898" d="M526.9 38.6h1.0v1.0h-1.0zM524.9 39.6h1.0v1.0h-1.0zM516.9 40.6h1.0v1.0h-1.0zM525.9 40.6h1.0v1.0h-1.0zM517.9 41.6h1.0v1.0h-1.0zM516.9 43.6h1.0v1.0h-1.0zM526.9 43.6h1.0v1.0h-1.0z"/>
<path fill="#cfcfcf" d="M518.9 38.6h1.0v1.0h-1.0zM520.9 41.6h1.0v1.0h-1.0zM524.9 43.6h1.0v1.0h-1.0z"/>
<path fill="#a9a9a9" d="M525.9 38.6h1.0v1.0h-1.0zM515.9 39.6h1.0v1.0h-1.0zM517.9 39.6h1.0v1.0h-1.0zM517.9 40.6h1.0v1.0h-1.0zM521.9 40.6h1.0v1.0h-1.0zM518.9 41.6h1.0v1.0h-1.0z"/>
<polygon points="549.55,63.20 562.35,63.20 562.35,69.80 548.55,69.80 549.35,66.00" fill="#212121"/>
<polygon points="537.95,59.10 539.15,54.10 540.75,50.90 543.95,47.60 547.45,46.00 550.55,44.80 552.35,45.60 553.35,48.40 554.55,51.60 555.75,55.60 555.15,58.60 553.35,61.20 551.15,63.20 548.95,65.80 546.55,66.80 543.55,66.20 541.15,64.20 538.75,62.00" fill="#b4b4b4"/>
<path fill="#919191" d="M549.0 44.8h1.0v1.0h-1.0zM549.0 45.8h1.0v1.0h-1.0zM546.0 46.8h1.0v1.0h-1.0zM543.0 47.8h1.0v1.0h-1.0zM553.0 49.8h1.0v1.0h-1.0zM554.0 51.8h1.0v1.0h-1.0zM541.0 52.8h1.0v1.0h-1.0zM542.0 53.8h1.0v1.0h-1.0zM547.0 53.8h1.0v1.0h-1.0zM543.0 54.8h1.0v1.0h-1.0zM547.0 54.8h1.0v1.0h-1.0zM542.0 55.8h1.0v1.0h-1.0zM543.0 55.8h1.0v1.0h-1.0zM550.0 57.8h1.0v1.0h-1.0zM539.0 59.8h1.0v1.0h-1.0zM540.0 59.8h1.0v1.0h-1.0zM552.0 59.8h1.0v1.0h-1.0zM549.0 62.8h1.0v1.0h-1.0zM545.0 65.8h1.0v1.0h-1.0z"/>
<path fill="#c8c8c8" d="M552.0 45.8h1.0v1.0h-1.0zM548.0 46.8h1.0v1.0h-1.0zM549.0 47.8h1.0v1.0h-1.0zM552.0 49.8h1.0v1.0h-1.0zM542.0 50.8h1.0v1.0h-1.0zM549.0 50.8h1.0v1.0h-1.0zM550.0 50.8h1.0v1.0h-1.0zM554.0 52.8h1.0v1.0h-1.0zM554.0 53.8h1.0v1.0h-1.0zM542.0 54.8h1.0v1.0h-1.0zM549.0 54.8h1.0v1.0h-1.0zM545.0 55.8h1.0v1.0h-1.0zM550.0 56.8h1.0v1.0h-1.0zM538.0 57.8h1.0v1.0h-1.0zM544.0 57.8h1.0v1.0h-1.0zM541.0 58.8h1.0v1.0h-1.0zM552.0 58.8h1.0v1.0h-1.0zM543.0 59.8h1.0v1.0h-1.0zM551.0 59.8h1.0v1.0h-1.0zM546.0 61.8h1.0v1.0h-1.0zM548.0 61.8h1.0v1.0h-1.0zM550.0 61.8h1.0v1.0h-1.0zM543.0 63.8h1.0v1.0h-1.0z"/>
<path fill="#a2a2a2" d="M550.0 46.8h1.0v1.0h-1.0zM548.0 48.8h1.0v1.0h-1.0zM549.0 49.8h1.0v1.0h-1.0zM541.0 50.8h1.0v1.0h-1.0zM544.0 50.8h1.0v1.0h-1.0zM551.0 50.8h1.0v1.0h-1.0zM545.0 51.8h1.0v1.0h-1.0zM550.0 51.8h1.0v1.0h-1.0zM552.0 51.8h1.0v1.0h-1.0zM541.0 53.8h1.0v1.0h-1.0zM551.0 54.8h1.0v1.0h-1.0zM554.0 55.8h1.0v1.0h-1.0zM539.0 56.8h1.0v1.0h-1.0zM550.0 58.8h1.0v1.0h-1.0zM548.0 59.8h1.0v1.0h-1.0zM547.0 60.8h1.0v1.0h-1.0zM549.0 60.8h1.0v1.0h-1.0zM543.0 62.8h1.0v1.0h-1.0zM544.0 62.8h1.0v1.0h-1.0zM544.0 65.8h1.0v1.0h-1.0z"/>
<polygon points="546.35,38.60 561.35,38.60 561.35,43.80 558.95,44.60 557.15,45.20 555.15,43.40 553.35,43.20 551.55,44.60 549.55,44.60 547.55,43.20 546.35,40.60" fill="#b4b4b4"/>
<path fill="#919191" d="M554.4 39.6h1.0v1.0h-1.0zM552.4 40.6h1.0v1.0h-1.0zM554.4 40.6h1.0v1.0h-1.0z"/>
<path fill="#c8c8c8" d="M548.4 38.6h1.0v1.0h-1.0zM558.4 39.6h1.0v1.0h-1.0zM557.4 40.6h1.0v1.0h-1.0zM558.4 40.6h1.0v1.0h-1.0zM552.4 41.6h1.0v1.0h-1.0zM551.4 42.6h1.0v1.0h-1.0zM555.4 42.6h1.0v1.0h-1.0zM550.4 43.6h1.0v1.0h-1.0zM551.4 43.6h1.0v1.0h-1.0zM558.4 43.6h1.0v1.0h-1.0z"/>
<path fill="#a2a2a2" d="M551.4 38.6h1.0v1.0h-1.0zM559.4 38.6h1.0v1.0h-1.0zM550.4 39.6h1.0v1.0h-1.0zM560.4 40.6h1.0v1.0h-1.0zM549.4 41.6h1.0v1.0h-1.0zM555.4 41.6h1.0v1.0h-1.0zM560.4 41.6h1.0v1.0h-1.0z"/>
<polygon points="580.98,63.20 593.78,63.20 593.78,69.80 579.98,69.80 580.78,66.00" fill="#1f1f1f"/>
<polygon points="569.38,59.10 570.58,54.10 572.18,50.90 575.38,47.60 578.88,46.00 581.98,44.80 583.78,45.60 584.78,48.40 585.98,51.60 587.18,55.60 586.58,58.60 584.78,61.20 582.58,63.20 580.38,65.80 577.98,66.80 574.98,66.20 572.58,64.20 570.18,62.00" fill="#acacac"/>
<path fill="#898989" d="M578.4 45.8h1.0v1.0h-1.0zM581.4 47.8h1.0v1.0h-1.0zM577.4 48.8h1.0v1.0h-1.0zM572.4 49.8h1.0v1.0h-1.0zM577.4 49.8h1.0v1.0h-1.0zM572.4 50.8h1.0v1.0h-1.0zM580.4 50.8h1.0v1.0h-1.0zM583.4 50.8h1.0v1.0h-1.0zM583.4 51.8h1.0v1.0h-1.0zM573.4 52.8h1.0v1.0h-1.0zM575.4 54.8h1.0v1.0h-1.0zM576.4 54.8h1.0v1.0h-1.0zM574.4 55.8h1.0v1.0h-1.0zM569.4 57.8h1.0v1.0h-1.0zM572.4 57.8h1.0v1.0h-1.0zM578.4 57.8h1.0v1.0h-1.0zM577.4 58.8h1.0v1.0h-1.0zM581.4 58.8h1.0v1.0h-1.0zM571.4 59.8h1.0v1.0h-1.0zM572.4 59.8h1.0v1.0h-1.0zM573.4 59.8h1.0v1.0h-1.0zM577.4 60.8h1.0v1.0h-1.0z"/>
<path fill="#c0c0c0" d="M582.4 46.8h1.0v1.0h-1.0zM578.4 47.8h1.0v1.0h-1.0zM580.4 48.8h1.0v1.0h-1.0zM580.4 49.8h1.0v1.0h-1.0zM578.4 51.8h1.0v1.0h-1.0zM579.4 51.8h1.0v1.0h-1.0zM581.4 52.8h1.0v1.0h-1.0zM584.4 52.8h1.0v1.0h-1.0zM583.4 53.8h1.0v1.0h-1.0zM572.4 55.8h1.0v1.0h-1.0zM572.4 56.8h1.0v1.0h-1.0zM577.4 57.8h1.0v1.0h-1.0zM579.4 57.8h1.0v1.0h-1.0zM572.4 58.8h1.0v1.0h-1.0zM584.4 59.8h1.0v1.0h-1.0zM578.4 61.8h1.0v1.0h-1.0zM579.4 61.8h1.0v1.0h-1.0zM573.4 63.8h1.0v1.0h-1.0z"/>
<path fill="#9a9a9a" d="M579.4 45.8h1.0v1.0h-1.0zM576.4 46.8h1.0v1.0h-1.0zM575.4 51.8h1.0v1.0h-1.0zM581.4 51.8h1.0v1.0h-1.0zM572.4 53.8h1.0v1.0h-1.0zM582.4 53.8h1.0v1.0h-1.0zM574.4 54.8h1.0v1.0h-1.0zM570.4 56.8h1.0v1.0h-1.0zM575.4 58.8h1.0v1.0h-1.0zM585.4 58.8h1.0v1.0h-1.0zM581.4 59.8h1.0v1.0h-1.0zM570.4 60.8h1.0v1.0h-1.0zM579.4 62.8h1.0v1.0h-1.0zM580.4 63.8h1.0v1.0h-1.0z"/>
<polygon points="577.78,38.60 592.78,38.60 592.78,43.80 590.38,44.60 588.58,45.20 586.58,43.40 584.78,43.20 582.98,44.60 580.98,44.60 578.98,43.20 577.78,40.60" fill="#acacac"/>
<path fill="#898989" d="M584.8 38.6h1.0v1.0h-1.0zM581.8 39.6h1.0v1.0h-1.0zM585.8 39.6h1.0v1.0h-1.0zM587.8 40.6h1.0v1.0h-1.0zM588.8 40.6h1.0v1.0h-1.0zM588.8 41.6h1.0v1.0h-1.0zM590.8 41.6h1.0v1.0h-1.0zM583.8 42.6h1.0v1.0h-1.0z"/>
<path fill="#c0c0c0" d="M578.8 39.6h1.0v1.0h-1.0zM589.8 39.6h1.0v1.0h-1.0zM578.8 40.6h1.0v1.0h-1.0zM582.8 40.6h1.0v1.0h-1.0zM583.8 40.6h1.0v1.0h-1.0zM586.8 40.6h1.0v1.0h-1.0zM583.8 41.6h1.0v1.0h-1.0z"/>
<path fill="#9a9a9a" d="M591.8 38.6h1.0v1.0h-1.0zM589.8 40.6h1.0v1.0h-1.0zM580.8 41.6h1.0v1.0h-1.0zM581.8 41.6h1.0v1.0h-1.0zM587.8 41.6h1.0v1.0h-1.0zM581.8 42.6h1.0v1.0h-1.0zM582.8 43.6h1.0v1.0h-1.0z"/>
<polygon points="612.41,63.20 625.21,63.20 625.21,69.80 611.41,69.80 612.21,66.00" fill="#1d1d1d"/>
<polygon points="600.81,59.10 602.01,54.10 603.61,50.90 606.81,47.60 610.31,46.00 613.41,44.80 615.21,45.60 616.21,48.40 617.41,51.60 618.61,55.60 618.01,58.60 616.21,61.20 614.01,63.20 611.81,65.80 609.41,66.80 606.41,66.20 604.01,64.20 601.61,62.00" fill="#a5a5a5"/>
<path fill="#828282" d="M611.8 47.8h1.0v1.0h-1.0zM612.8 48.8h1.0v1.0h-1.0zM609.8 50.8h1.0v1.0h-1.0zM612.8 52.8h1.0v1.0h-1.0zM601.8 53.8h1.0v1.0h-1.0zM603.8 53.8h1.0v1.0h-1.0zM608.8 54.8h1.0v1.0h-1.0zM603.8 55.8h1.0v1.0h-1.0zM602.8 56.8h1.0v1.0h-1.0zM611.8 56.8h1.0v1.0h-1.0zM606.8 59.8h1.0v1.0h-1.0zM608.8 59.8h1.0v1.0h-1.0zM611.8 59.8h1.0v1.0h-1.0zM608.8 60.8h1.0v1.0h-1.0zM607.8 61.8h1.0v1.0h-1.0zM612.8 61.8h1.0v1.0h-1.0zM612.8 62.8h1.0v1.0h-1.0z"/>
<path fill="#b9b9b9" d="M610.8 45.8h1.0v1.0h-1.0zM613.8 46.8h1.0v1.0h-1.0zM611.8 48.8h1.0v1.0h-1.0zM605.8 51.8h1.0v1.0h-1.0zM605.8 52.8h1.0v1.0h-1.0zM609.8 52.8h1.0v1.0h-1.0zM614.8 52.8h1.0v1.0h-1.0zM615.8 52.8h1.0v1.0h-1.0zM612.8 53.8h1.0v1.0h-1.0zM607.8 54.8h1.0v1.0h-1.0zM611.8 54.8h1.0v1.0h-1.0zM609.8 55.8h1.0v1.0h-1.0zM613.8 55.8h1.0v1.0h-1.0zM614.8 56.8h1.0v1.0h-1.0zM609.8 58.8h1.0v1.0h-1.0zM602.8 59.8h1.0v1.0h-1.0zM613.8 60.8h1.0v1.0h-1.0zM609.8 64.8h1.0v1.0h-1.0z"/>
<path fill="#939393" d="M612.8 47.8h1.0v1.0h-1.0zM613.8 47.8h1.0v1.0h-1.0zM606.8 48.8h1.0v1.0h-1.0zM609.8 48.8h1.0v1.0h-1.0zM615.8 49.8h1.0v1.0h-1.0zM603.8 50.8h1.0v1.0h-1.0zM604.8 50.8h1.0v1.0h-1.0zM611.8 50.8h1.0v1.0h-1.0zM614.8 50.8h1.0v1.0h-1.0zM615.8 50.8h1.0v1.0h-1.0zM613.8 52.8h1.0v1.0h-1.0zM607.8 53.8h1.0v1.0h-1.0zM611.8 53.8h1.0v1.0h-1.0zM613.8 54.8h1.0v1.0h-1.0zM605.8 55.8h1.0v1.0h-1.0zM604.8 57.8h1.0v1.0h-1.0zM613.8 57.8h1.0v1.0h-1.0zM604.8 60.8h1.0v1.0h-1.0zM608.8 61.8h1.0v1.0h-1.0zM610.8 64.8h1.0v1.0h-1.0z"/>
<polygon points="609.21,38.60 624.21,38.60 624.21,43.80 621.81,44.60 620.01,45.20 618.01,43.40 616.21,43.20 614.41,44.60 612.41,44.60 610.41,43.20 609.21,40.60" fill="#a5a5a5"/>
<path fill="#828282" d="M614.2 39.6h1.0v1.0h-1.0zM611.2 41.6h1.0v1.0h-1.0zM612.2 42.6h1.0v1.0h-1.0z"/>
<path fill="#b9b9b9" d="M622.2 38.6h1.0v1.0h-1.0zM620.2 39.6h1.0v1.0h-1.0zM621.2 39.6h1.0v1.0h-1.0z"/>
<path fill="#939393" d="M614.2 38.6h1.0v1.0h-1.0zM618.2 39.6h1.0v1.0h-1.0zM623.2 39.6h1.0v1.0h-1.0zM614.2 40.6h1.0v1.0h-1.0zM617.2 42.6h1.0v1.0h-1.0zM612.2 43.6h1.0v1.0h-1.0zM622.2 43.6h1.0v1.0h-1.0z"/>
<polygon points="643.84,63.20 656.64,63.20 656.64,69.80 642.84,69.80 643.64,66.00" fill="#1b1b1b"/>
<polygon points="632.24,59.10 633.44,54.10 635.04,50.90 638.24,47.60 641.74,46.00 644.84,44.80 646.64,45.60 647.64,48.40 648.84,51.60 650.04,55.60 649.44,58.60 647.64,61.20 645.44,63.20 643.24,65.80 640.84,66.80 637.84,66.20 635.44,64.20 633.04,62.00" fill="#9d9d9d"/>
<path fill="#7a7a7a" d="M642.2 45.8h1.0v1.0h-1.0zM636.2 50.8h1.0v1.0h-1.0zM639.2 52.8h1.0v1.0h-1.0zM643.2 55.8h1.0v1.0h-1.0zM640.2 57.8h1.0v1.0h-1.0zM645.2 57.8h1.0v1.0h-1.0zM635.2 58.8h1.0v1.0h-1.0zM646.2 58.8h1.0v1.0h-1.0zM634.2 59.8h1.0v1.0h-1.0zM645.2 59.8h1.0v1.0h-1.0zM647.2 59.8h1.0v1.0h-1.0zM644.2 60.8h1.0v1.0h-1.0zM640.2 61.8h1.0v1.0h-1.0zM639.2 65.8h1.0v1.0h-1.0z"/>
<path fill="#b1b1b1" d="M642.2 47.8h1.0v1.0h-1.0zM646.2 47.8h1.0v1.0h-1.0zM636.2 49.8h1.0v1.0h-1.0zM640.2 53.8h1.0v1.0h-1.0zM642.2 53.8h1.0v1.0h-1.0zM647.2 54.8h1.0v1.0h-1.0zM640.2 55.8h1.0v1.0h-1.0zM632.2 57.8h1.0v1.0h-1.0zM641.2 57.8h1.0v1.0h-1.0zM648.2 58.8h1.0v1.0h-1.0zM634.2 60.8h1.0v1.0h-1.0zM640.2 60.8h1.0v1.0h-1.0zM634.2 61.8h1.0v1.0h-1.0zM639.2 61.8h1.0v1.0h-1.0zM637.2 62.8h1.0v1.0h-1.0zM635.2 63.8h1.0v1.0h-1.0zM638.2 64.8h1.0v1.0h-1.0zM640.2 64.8h1.0v1.0h-1.0zM641.2 64.8h1.0v1.0h-1.0z"/>
<path fill="#8b8b8b" d="M643.2 44.8h1.0v1.0h-1.0zM643.2 45.8h1.0v1.0h-1.0zM642.2 46.8h1.0v1.0h-1.0zM643.2 47.8h1.0v1.0h-1.0zM645.2 48.8h1.0v1.0h-1.0zM646.2 48.8h1.0v1.0h-1.0zM635.2 49.8h1.0v1.0h-1.0zM637.2 49.8h1.0v1.0h-1.0zM639.2 49.8h1.0v1.0h-1.0zM647.2 49.8h1.0v1.0h-1.0zM638.2 51.8h1.0v1.0h-1.0zM648.2 51.8h1.0v1.0h-1.0zM642.2 52.8h1.0v1.0h-1.0zM648.2 53.8h1.0v1.0h-1.0zM646.2 54.8h1.0v1.0h-1.0zM648.2 55.8h1.0v1.0h-1.0zM636.2 56.8h1.0v1.0h-1.0zM645.2 56.8h1.0v1.0h-1.0zM647.2 57.8h1.0v1.0h-1.0zM637.2 58.8h1.0v1.0h-1.0zM647.2 58.8h1.0v1.0h-1.0zM637.2 59.8h1.0v1.0h-1.0zM640.2 62.8h1.0v1.0h-1.0zM636.2 63.8h1.0v1.0h-1.0zM641.2 65.8h1.0v1.0h-1.0z"/>
<polygon points="640.64,38.60 655.64,38.60 655.64,43.80 653.24,44.60 651.44,45.20 649.44,43.40 647.64,43.20 645.84,44.60 643.84,44.60 641.84,43.20 640.64,40.60" fill="#9d9d9d"/>
<path fill="#7a7a7a" d="M644.6 38.6h1.0v1.0h-1.0zM650.6 40.6h1.0v1.0h-1.0zM644.6 42.6h1.0v1.0h-1.0zM647.6 42.6h1.0v1.0h-1.0z"/>
<path fill="#b1b1b1" d="M644.6 39.6h1.0v1.0h-1.0zM644.6 40.6h1.0v1.0h-1.0zM645.6 40.6h1.0v1.0h-1.0zM654.6 41.6h1.0v1.0h-1.0zM643.6 43.6h1.0v1.0h-1.0zM644.6 43.6h1.0v1.0h-1.0z"/>
<path fill="#8b8b8b" d="M645.6 38.6h1.0v1.0h-1.0zM640.6 39.6h1.0v1.0h-1.0zM647.6 39.6h1.0v1.0h-1.0zM641.6 40.6h1.0v1.0h-1.0zM643.6 41.6h1.0v1.0h-1.0z"/>
<polygon points="675.27,63.20 688.07,63.20 688.07,69.80 674.27,69.80 675.07,66.00" fill="#1a1a1a"/>
<polygon points="663.67,59.10 664.87,54.10 666.47,50.90 669.67,47.60 673.17,46.00 676.27,44.80 678.07,45.60 679.07,48.40 680.27,51.60 681.47,55.60 680.87,58.60 679.07,61.20 676.87,63.20 674.67,65.80 672.27,66.80 669.27,66.20 666.87,64.20 664.47,62.00" fill="#969696"/>
<path fill="#737373" d="M674.7 44.8h1.0v1.0h-1.0zM673.7 48.8h1.0v1.0h-1.0zM672.7 49.8h1.0v1.0h-1.0zM675.7 49.8h1.0v1.0h-1.0zM676.7 49.8h1.0v1.0h-1.0zM668.7 54.8h1.0v1.0h-1.0zM674.7 55.8h1.0v1.0h-1.0zM677.7 55.8h1.0v1.0h-1.0zM663.7 56.8h1.0v1.0h-1.0zM676.7 56.8h1.0v1.0h-1.0zM666.7 57.8h1.0v1.0h-1.0zM669.7 57.8h1.0v1.0h-1.0zM676.7 57.8h1.0v1.0h-1.0zM676.7 58.8h1.0v1.0h-1.0zM671.7 61.8h1.0v1.0h-1.0zM665.7 62.8h1.0v1.0h-1.0z"/>
<path fill="#aaaaaa" d="M675.7 45.8h1.0v1.0h-1.0zM677.7 46.8h1.0v1.0h-1.0zM669.7 47.8h1.0v1.0h-1.0zM673.7 47.8h1.0v1.0h-1.0zM666.7 49.8h1.0v1.0h-1.0zM672.7 51.8h1.0v1.0h-1.0zM670.7 52.8h1.0v1.0h-1.0zM676.7 52.8h1.0v1.0h-1.0zM673.7 57.8h1.0v1.0h-1.0zM669.7 58.8h1.0v1.0h-1.0zM670.7 58.8h1.0v1.0h-1.0zM673.7 59.8h1.0v1.0h-1.0zM670.7 60.8h1.0v1.0h-1.0zM673.7 62.8h1.0v1.0h-1.0zM673.7 63.8h1.0v1.0h-1.0z"/>
<path fill="#848484" d="M676.7 47.8h1.0v1.0h-1.0zM678.7 48.8h1.0v1.0h-1.0zM673.7 50.8h1.0v1.0h-1.0zM678.7 51.8h1.0v1.0h-1.0zM669.7 53.8h1.0v1.0h-1.0zM672.7 55.8h1.0v1.0h-1.0zM673.7 55.8h1.0v1.0h-1.0zM669.7 56.8h1.0v1.0h-1.0zM670.7 56.8h1.0v1.0h-1.0zM670.7 57.8h1.0v1.0h-1.0zM671.7 57.8h1.0v1.0h-1.0zM675.7 57.8h1.0v1.0h-1.0zM668.7 58.8h1.0v1.0h-1.0zM678.7 58.8h1.0v1.0h-1.0zM667.7 59.8h1.0v1.0h-1.0zM668.7 60.8h1.0v1.0h-1.0zM673.7 60.8h1.0v1.0h-1.0zM665.7 61.8h1.0v1.0h-1.0zM671.7 62.8h1.0v1.0h-1.0z"/>
<polygon points="672.07,38.60 687.07,38.60 687.07,43.80 684.67,44.60 682.87,45.20 680.87,43.40 679.07,43.20 677.27,44.60 675.27,44.60 673.27,43.20 672.07,40.60" fill="#969696"/>
<path fill="#737373" d="M675.1 38.6h1.0v1.0h-1.0zM676.1 39.6h1.0v1.0h-1.0zM685.1 39.6h1.0v1.0h-1.0zM673.1 41.6h1.0v1.0h-1.0zM680.1 42.6h1.0v1.0h-1.0zM674.1 43.6h1.0v1.0h-1.0zM676.1 43.6h1.0v1.0h-1.0z"/>
<path fill="#aaaaaa" d="M673.1 38.6h1.0v1.0h-1.0zM675.1 40.6h1.0v1.0h-1.0zM684.1 40.6h1.0v1.0h-1.0zM677.1 41.6h1.0v1.0h-1.0z"/>
<path fill="#848484" d="M682.1 39.6h1.0v1.0h-1.0zM685.1 40.6h1.0v1.0h-1.0zM675.1 43.6h1.0v1.0h-1.0z"/>
<rect x="375.60" y="41.50" width="1.40" height="7.30" fill="#f0f0f0"/>
<line x1="393.00" y1="52.20" x2="398.00" y2="52.50" stroke="#151515" stroke-width="0.9"/>
<line x1="424.43" y1="52.20" x2="429.43" y2="52.50" stroke="#151515" stroke-width="0.9"/>
<line x1="455.86" y1="52.20" x2="460.86" y2="52.50" stroke="#151515" stroke-width="0.9"/>
<line x1="487.29" y1="52.20" x2="492.29" y2="52.50" stroke="#151515" stroke-width="0.9"/>
<line x1="518.72" y1="52.20" x2="523.72" y2="52.50" stroke="#151515" stroke-width="0.9"/>
<line x1="550.15" y1="52.20" x2="555.15" y2="52.50" stroke="#151515" stroke-width="0.9"/>
<line x1="581.58" y1="52.20" x2="586.58" y2="52.50" stroke="#151515" stroke-width="0.9"/>
<line x1="613.01" y1="52.20" x2="618.01" y2="52.50" stroke="#151515" stroke-width="0.9"/>
<line x1="644.44" y1="52.20" x2="649.44" y2="52.50" stroke="#151515" stroke-width="0.9"/>
<line x1="675.87" y1="52.20" x2="680.87" y2="52.50" stroke="#151515" stroke-width="0.9"/>
<text x="397.62" y="86.30" font-size="10.71" fill="#1b1b1b" stroke="#1b1b1b" stroke-width="0.3">EGFP monomer</text>
<rect x="538.20" y="85.60" width="148.70" height="7.30" fill="url(#cbar)" stroke="#333" stroke-width="0.6"/>
<text x="537.81" y="83.20" font-size="10.00" fill="#1b1b1b" stroke="#1b1b1b" stroke-width="0.3">0.1</text>
<text x="595.68" y="83.00" font-size="10.38" fill="#1b1b1b" stroke="#1b1b1b" stroke-width="0.3">Anisotropy</text>
<text x="670.90" y="83.20" font-size="10.20" fill="#1b1b1b" stroke="#1b1b1b" stroke-width="0.3">0.25</text>
<rect x="373.80" y="94.90" width="314.30" height="31.30" fill="#3c1289"/>
<polygon points="380.80,115.40 382.00,110.40 383.60,107.20 386.80,103.90 390.30,102.30 393.40,101.10 395.20,101.90 396.20,104.70 397.40,107.90 398.60,111.90 398.00,114.90 396.20,117.50 394.00,119.50 391.80,122.10 389.40,123.10 386.40,122.50 384.00,120.50 381.60,118.30" fill="#72c840"/>
<polygon points="381.94,115.05 383.00,110.65 384.41,107.84 387.22,104.93 390.30,103.52 393.03,102.47 394.61,103.17 395.49,105.64 396.55,108.45 397.61,111.97 397.08,114.61 395.49,116.90 393.56,118.66 391.62,120.95 389.51,121.83 386.87,121.30 384.76,119.54 382.65,117.60" fill="#c4d52e"/>
<polygon points="385.37,114.01 385.99,111.41 386.82,109.75 388.49,108.03 390.31,107.20 391.92,106.57 392.86,106.99 393.38,108.45 394.00,110.11 394.62,112.19 394.31,113.75 393.38,115.10 392.23,116.14 391.09,117.49 389.84,118.01 388.28,117.70 387.03,116.66 385.78,115.52" fill="#ec9c34"/>
<path fill="#ee8a2c" d="M386.8 106.1h1.0v1.0h-1.0zM388.8 106.1h1.0v1.0h-1.0zM391.8 106.1h1.0v1.0h-1.0zM396.8 108.1h1.0v1.0h-1.0zM382.8 110.1h1.0v1.0h-1.0zM389.8 110.1h1.0v1.0h-1.0zM388.8 111.1h1.0v1.0h-1.0zM382.8 114.1h1.0v1.0h-1.0zM390.8 115.1h1.0v1.0h-1.0zM387.8 117.1h1.0v1.0h-1.0zM389.8 121.1h1.0v1.0h-1.0zM390.8 121.1h1.0v1.0h-1.0z"/>
<path fill="#e8602a" d="M391.8 101.1h1.0v1.0h-1.0zM388.8 104.1h1.0v1.0h-1.0zM385.8 105.1h1.0v1.0h-1.0zM385.8 108.1h1.0v1.0h-1.0zM396.8 110.1h1.0v1.0h-1.0zM390.8 111.1h1.0v1.0h-1.0zM390.8 112.1h1.0v1.0h-1.0zM386.8 115.1h1.0v1.0h-1.0zM393.8 115.1h1.0v1.0h-1.0zM392.8 116.1h1.0v1.0h-1.0zM387.8 118.1h1.0v1.0h-1.0zM387.8 120.1h1.0v1.0h-1.0z"/>
<path fill="#d6d42e" d="M394.8 103.1h1.0v1.0h-1.0zM384.8 105.1h1.0v1.0h-1.0zM392.8 108.1h1.0v1.0h-1.0zM385.8 109.1h1.0v1.0h-1.0zM381.8 111.1h1.0v1.0h-1.0zM386.8 113.1h1.0v1.0h-1.0zM385.8 115.1h1.0v1.0h-1.0zM391.8 115.1h1.0v1.0h-1.0zM392.8 115.1h1.0v1.0h-1.0zM381.8 116.1h1.0v1.0h-1.0zM384.8 116.1h1.0v1.0h-1.0zM391.8 116.1h1.0v1.0h-1.0zM384.8 117.1h1.0v1.0h-1.0zM383.8 120.1h1.0v1.0h-1.0zM391.8 120.1h1.0v1.0h-1.0z"/>
<path fill="#a8cc36" d="M385.8 106.1h1.0v1.0h-1.0zM393.8 106.1h1.0v1.0h-1.0zM386.8 107.1h1.0v1.0h-1.0zM383.8 109.1h1.0v1.0h-1.0zM392.8 111.1h1.0v1.0h-1.0zM389.8 116.1h1.0v1.0h-1.0z"/>
<path fill="#f0b434" d="M393.8 101.1h1.0v1.0h-1.0zM386.8 104.1h1.0v1.0h-1.0zM388.8 107.1h1.0v1.0h-1.0zM391.8 109.1h1.0v1.0h-1.0zM393.8 110.1h1.0v1.0h-1.0zM386.8 112.1h1.0v1.0h-1.0zM394.8 112.1h1.0v1.0h-1.0zM383.8 113.1h1.0v1.0h-1.0zM385.8 113.1h1.0v1.0h-1.0zM395.8 115.1h1.0v1.0h-1.0zM383.8 119.1h1.0v1.0h-1.0zM388.8 119.1h1.0v1.0h-1.0z"/>
<path fill="#d0d030" d="M390.8 102.1h1.0v1.0h-1.0zM394.8 104.1h1.0v1.0h-1.0zM382.8 108.1h1.0v1.0h-1.0zM393.8 111.1h1.0v1.0h-1.0zM381.8 115.1h1.0v1.0h-1.0zM388.8 115.1h1.0v1.0h-1.0zM388.8 116.1h1.0v1.0h-1.0zM386.8 117.1h1.0v1.0h-1.0z"/>
<path fill="#8ccc3c" d="M395.8 111.1h1.0v1.0h-1.0zM389.8 112.1h1.0v1.0h-1.0zM390.8 113.1h1.0v1.0h-1.0zM384.8 115.1h1.0v1.0h-1.0zM382.8 116.1h1.0v1.0h-1.0zM388.8 117.1h1.0v1.0h-1.0z"/>
<polygon points="389.20,94.90 404.20,94.90 404.20,100.10 401.80,100.90 400.00,101.50 398.00,99.70 396.20,99.50 394.40,100.90 392.40,100.90 390.40,99.50 389.20,96.90" fill="#58c450"/>
<polygon points="390.06,95.40 403.26,95.40 403.26,99.98 401.15,100.68 399.56,101.21 397.80,99.62 396.22,99.45 394.64,100.68 392.88,100.68 391.12,99.45 390.06,97.16" fill="#a6d034"/>
<polygon points="392.64,96.90 400.44,96.90 400.44,99.60 399.19,100.02 398.25,100.33 397.21,99.39 396.28,99.29 395.34,100.02 394.30,100.02 393.26,99.29 392.64,97.94" fill="#d2d22e"/>
<path fill="#e0c030" d="M389.2 94.9h1.0v1.0h-1.0zM389.2 95.9h1.0v1.0h-1.0zM400.2 95.9h1.0v1.0h-1.0zM402.2 95.9h1.0v1.0h-1.0zM389.2 96.9h1.0v1.0h-1.0zM403.2 96.9h1.0v1.0h-1.0zM396.2 98.9h1.0v1.0h-1.0zM399.2 99.9h1.0v1.0h-1.0z"/>
<path fill="#7cc840" d="M396.2 94.9h1.0v1.0h-1.0zM397.2 94.9h1.0v1.0h-1.0zM398.2 94.9h1.0v1.0h-1.0zM399.2 96.9h1.0v1.0h-1.0zM390.2 97.9h1.0v1.0h-1.0zM400.2 98.9h1.0v1.0h-1.0zM401.2 99.9h1.0v1.0h-1.0z"/>
<path fill="#c8d42c" d="M393.2 94.9h1.0v1.0h-1.0zM391.2 95.9h1.0v1.0h-1.0zM392.2 95.9h1.0v1.0h-1.0zM393.2 96.9h1.0v1.0h-1.0zM397.2 97.9h1.0v1.0h-1.0zM400.2 97.9h1.0v1.0h-1.0zM390.2 98.9h1.0v1.0h-1.0zM395.2 98.9h1.0v1.0h-1.0zM399.2 98.9h1.0v1.0h-1.0z"/>
<path fill="#ee9a30" d="M394.2 94.9h1.0v1.0h-1.0zM399.2 94.9h1.0v1.0h-1.0zM399.2 95.9h1.0v1.0h-1.0zM401.2 95.9h1.0v1.0h-1.0zM400.2 96.9h1.0v1.0h-1.0zM402.2 96.9h1.0v1.0h-1.0z"/>
<polygon points="412.23,115.40 413.43,110.40 415.03,107.20 418.23,103.90 421.73,102.30 424.83,101.10 426.63,101.90 427.63,104.70 428.83,107.90 430.03,111.90 429.43,114.90 427.63,117.50 425.43,119.50 423.23,122.10 420.83,123.10 417.83,122.50 415.43,120.50 413.03,118.30" fill="#72c840"/>
<polygon points="413.37,115.05 414.43,110.65 415.84,107.84 418.65,104.93 421.73,103.52 424.46,102.47 426.04,103.17 426.92,105.64 427.98,108.45 429.04,111.97 428.51,114.61 426.92,116.90 424.99,118.66 423.05,120.95 420.94,121.83 418.30,121.30 416.19,119.54 414.08,117.60" fill="#c4d52e"/>
<polygon points="416.80,114.01 417.42,111.41 418.25,109.75 419.92,108.03 421.74,107.20 423.35,106.57 424.29,106.99 424.81,108.45 425.43,110.11 426.05,112.19 425.74,113.75 424.81,115.10 423.66,116.14 422.52,117.49 421.27,118.01 419.71,117.70 418.46,116.66 417.21,115.52" fill="#ec9c34"/>
<path fill="#ee8a2c" d="M417.2 105.1h1.0v1.0h-1.0zM415.2 108.1h1.0v1.0h-1.0zM416.2 111.1h1.0v1.0h-1.0zM420.2 111.1h1.0v1.0h-1.0zM419.2 113.1h1.0v1.0h-1.0zM415.2 116.1h1.0v1.0h-1.0zM421.2 118.1h1.0v1.0h-1.0zM424.2 119.1h1.0v1.0h-1.0zM417.2 120.1h1.0v1.0h-1.0zM417.2 121.1h1.0v1.0h-1.0z"/>
<path fill="#e8602a" d="M424.2 102.1h1.0v1.0h-1.0zM419.2 104.1h1.0v1.0h-1.0zM420.2 104.1h1.0v1.0h-1.0zM423.2 106.1h1.0v1.0h-1.0zM422.2 107.1h1.0v1.0h-1.0zM422.2 108.1h1.0v1.0h-1.0zM428.2 111.1h1.0v1.0h-1.0zM420.2 112.1h1.0v1.0h-1.0zM428.2 113.1h1.0v1.0h-1.0zM414.2 114.1h1.0v1.0h-1.0zM414.2 115.1h1.0v1.0h-1.0zM415.2 115.1h1.0v1.0h-1.0zM413.2 117.1h1.0v1.0h-1.0zM421.2 117.1h1.0v1.0h-1.0zM422.2 119.1h1.0v1.0h-1.0zM418.2 120.1h1.0v1.0h-1.0z"/>
<path fill="#d6d42e" d="M420.2 109.1h1.0v1.0h-1.0zM413.2 114.1h1.0v1.0h-1.0zM417.2 114.1h1.0v1.0h-1.0zM420.2 116.1h1.0v1.0h-1.0zM426.2 116.1h1.0v1.0h-1.0z"/>
<path fill="#a8cc36" d="M426.2 102.1h1.0v1.0h-1.0zM419.2 103.1h1.0v1.0h-1.0zM425.2 105.1h1.0v1.0h-1.0zM426.2 107.1h1.0v1.0h-1.0zM419.2 109.1h1.0v1.0h-1.0zM424.2 109.1h1.0v1.0h-1.0zM425.2 110.1h1.0v1.0h-1.0zM413.2 112.1h1.0v1.0h-1.0zM421.2 112.1h1.0v1.0h-1.0zM415.2 114.1h1.0v1.0h-1.0zM422.2 114.1h1.0v1.0h-1.0zM426.2 114.1h1.0v1.0h-1.0zM428.2 114.1h1.0v1.0h-1.0zM412.2 116.1h1.0v1.0h-1.0zM414.2 117.1h1.0v1.0h-1.0zM419.2 120.1h1.0v1.0h-1.0z"/>
<path fill="#f0b434" d="M425.2 103.1h1.0v1.0h-1.0zM422.2 104.1h1.0v1.0h-1.0zM426.2 104.1h1.0v1.0h-1.0zM426.2 106.1h1.0v1.0h-1.0zM425.2 107.1h1.0v1.0h-1.0zM427.2 107.1h1.0v1.0h-1.0zM424.2 108.1h1.0v1.0h-1.0zM415.2 109.1h1.0v1.0h-1.0zM416.2 112.1h1.0v1.0h-1.0zM419.2 112.1h1.0v1.0h-1.0zM415.2 117.1h1.0v1.0h-1.0zM415.2 119.1h1.0v1.0h-1.0z"/>
<path fill="#d0d030" d="M424.2 104.1h1.0v1.0h-1.0zM425.2 104.1h1.0v1.0h-1.0zM424.2 105.1h1.0v1.0h-1.0zM423.2 107.1h1.0v1.0h-1.0zM416.2 108.1h1.0v1.0h-1.0zM420.2 108.1h1.0v1.0h-1.0zM426.2 108.1h1.0v1.0h-1.0zM426.2 109.1h1.0v1.0h-1.0zM415.2 110.1h1.0v1.0h-1.0zM419.2 110.1h1.0v1.0h-1.0zM413.2 111.1h1.0v1.0h-1.0zM423.2 111.1h1.0v1.0h-1.0zM425.2 112.1h1.0v1.0h-1.0zM420.2 115.1h1.0v1.0h-1.0zM423.2 120.1h1.0v1.0h-1.0zM422.2 121.1h1.0v1.0h-1.0z"/>
<path fill="#8ccc3c" d="M421.2 102.1h1.0v1.0h-1.0zM418.2 104.1h1.0v1.0h-1.0zM415.2 107.1h1.0v1.0h-1.0zM414.2 111.1h1.0v1.0h-1.0zM425.2 115.1h1.0v1.0h-1.0zM421.2 116.1h1.0v1.0h-1.0z"/>
<polygon points="420.63,94.90 435.63,94.90 435.63,100.10 433.23,100.90 431.43,101.50 429.43,99.70 427.63,99.50 425.83,100.90 423.83,100.90 421.83,99.50 420.63,96.90" fill="#58c450"/>
<polygon points="421.49,95.40 434.69,95.40 434.69,99.98 432.58,100.68 430.99,101.21 429.23,99.62 427.65,99.45 426.07,100.68 424.31,100.68 422.55,99.45 421.49,97.16" fill="#a6d034"/>
<polygon points="424.07,96.90 431.87,96.90 431.87,99.60 430.62,100.02 429.68,100.33 428.64,99.39 427.71,99.29 426.77,100.02 425.73,100.02 424.69,99.29 424.07,97.94" fill="#d2d22e"/>
<path fill="#e0c030" d="M421.6 94.9h1.0v1.0h-1.0zM425.6 94.9h1.0v1.0h-1.0zM429.6 94.9h1.0v1.0h-1.0zM425.6 95.9h1.0v1.0h-1.0zM433.6 95.9h1.0v1.0h-1.0zM426.6 98.9h1.0v1.0h-1.0zM422.6 99.9h1.0v1.0h-1.0zM425.6 99.9h1.0v1.0h-1.0z"/>
<path fill="#7cc840" d="M430.6 94.9h1.0v1.0h-1.0zM433.6 94.9h1.0v1.0h-1.0zM424.6 95.9h1.0v1.0h-1.0zM431.6 95.9h1.0v1.0h-1.0zM434.6 95.9h1.0v1.0h-1.0z"/>
<path fill="#c8d42c" d="M434.6 94.9h1.0v1.0h-1.0zM421.6 95.9h1.0v1.0h-1.0zM426.6 97.9h1.0v1.0h-1.0zM432.6 98.9h1.0v1.0h-1.0z"/>
<path fill="#ee9a30" d="M420.6 94.9h1.0v1.0h-1.0zM423.6 96.9h1.0v1.0h-1.0zM430.6 96.9h1.0v1.0h-1.0zM430.6 99.9h1.0v1.0h-1.0z"/>
<polygon points="443.66,115.40 444.86,110.40 446.46,107.20 449.66,103.90 453.16,102.30 456.26,101.10 458.06,101.90 459.06,104.70 460.26,107.90 461.46,111.90 460.86,114.90 459.06,117.50 456.86,119.50 454.66,122.10 452.26,123.10 449.26,122.50 446.86,120.50 444.46,118.30" fill="#72c840"/>
<polygon points="444.80,115.05 445.86,110.65 447.27,107.84 450.08,104.93 453.16,103.52 455.89,102.47 457.47,103.17 458.35,105.64 459.41,108.45 460.47,111.97 459.94,114.61 458.35,116.90 456.42,118.66 454.48,120.95 452.37,121.83 449.73,121.30 447.62,119.54 445.51,117.60" fill="#c4d52e"/>
<polygon points="448.23,114.01 448.85,111.41 449.68,109.75 451.35,108.03 453.17,107.20 454.78,106.57 455.72,106.99 456.24,108.45 456.86,110.11 457.48,112.19 457.17,113.75 456.24,115.10 455.09,116.14 453.95,117.49 452.70,118.01 451.14,117.70 449.89,116.66 448.64,115.52" fill="#ec9c34"/>
<path fill="#ee8a2c" d="M457.7 110.1h1.0v1.0h-1.0zM445.7 111.1h1.0v1.0h-1.0zM449.7 111.1h1.0v1.0h-1.0zM451.7 111.1h1.0v1.0h-1.0zM454.7 111.1h1.0v1.0h-1.0zM443.7 113.1h1.0v1.0h-1.0zM446.7 113.1h1.0v1.0h-1.0zM458.7 114.1h1.0v1.0h-1.0zM449.7 116.1h1.0v1.0h-1.0zM452.7 120.1h1.0v1.0h-1.0z"/>
<path fill="#e8602a" d="M454.7 102.1h1.0v1.0h-1.0zM457.7 102.1h1.0v1.0h-1.0zM455.7 103.1h1.0v1.0h-1.0zM452.7 105.1h1.0v1.0h-1.0zM456.7 106.1h1.0v1.0h-1.0zM455.7 108.1h1.0v1.0h-1.0zM456.7 109.1h1.0v1.0h-1.0zM443.7 115.1h1.0v1.0h-1.0zM447.7 115.1h1.0v1.0h-1.0zM445.7 116.1h1.0v1.0h-1.0zM458.7 116.1h1.0v1.0h-1.0zM456.7 117.1h1.0v1.0h-1.0zM444.7 118.1h1.0v1.0h-1.0zM448.7 119.1h1.0v1.0h-1.0zM450.7 120.1h1.0v1.0h-1.0z"/>
<path fill="#d6d42e" d="M453.7 102.1h1.0v1.0h-1.0zM458.7 105.1h1.0v1.0h-1.0zM453.7 106.1h1.0v1.0h-1.0zM452.7 107.1h1.0v1.0h-1.0zM450.7 109.1h1.0v1.0h-1.0zM459.7 109.1h1.0v1.0h-1.0zM456.7 110.1h1.0v1.0h-1.0zM450.7 111.1h1.0v1.0h-1.0zM449.7 112.1h1.0v1.0h-1.0zM456.7 112.1h1.0v1.0h-1.0zM446.7 114.1h1.0v1.0h-1.0zM451.7 114.1h1.0v1.0h-1.0zM454.7 114.1h1.0v1.0h-1.0zM444.7 117.1h1.0v1.0h-1.0zM453.7 117.1h1.0v1.0h-1.0zM454.7 118.1h1.0v1.0h-1.0zM449.7 122.1h1.0v1.0h-1.0z"/>
<path fill="#a8cc36" d="M454.7 103.1h1.0v1.0h-1.0zM451.7 106.1h1.0v1.0h-1.0zM452.7 108.1h1.0v1.0h-1.0zM453.7 108.1h1.0v1.0h-1.0zM456.7 108.1h1.0v1.0h-1.0zM458.7 108.1h1.0v1.0h-1.0zM455.7 110.1h1.0v1.0h-1.0zM455.7 111.1h1.0v1.0h-1.0zM451.7 112.1h1.0v1.0h-1.0zM456.7 115.1h1.0v1.0h-1.0zM459.7 115.1h1.0v1.0h-1.0zM451.7 116.1h1.0v1.0h-1.0zM451.7 117.1h1.0v1.0h-1.0zM451.7 119.1h1.0v1.0h-1.0zM451.7 122.1h1.0v1.0h-1.0z"/>
<path fill="#f0b434" d="M450.7 105.1h1.0v1.0h-1.0zM445.7 110.1h1.0v1.0h-1.0zM452.7 110.1h1.0v1.0h-1.0zM447.7 111.1h1.0v1.0h-1.0zM449.7 113.1h1.0v1.0h-1.0zM450.7 113.1h1.0v1.0h-1.0zM452.7 113.1h1.0v1.0h-1.0zM457.7 114.1h1.0v1.0h-1.0zM450.7 117.1h1.0v1.0h-1.0zM446.7 120.1h1.0v1.0h-1.0zM449.7 120.1h1.0v1.0h-1.0zM451.7 120.1h1.0v1.0h-1.0zM453.7 120.1h1.0v1.0h-1.0z"/>
<path fill="#d0d030" d="M448.7 104.1h1.0v1.0h-1.0zM458.7 109.1h1.0v1.0h-1.0zM450.7 112.1h1.0v1.0h-1.0zM447.7 116.1h1.0v1.0h-1.0zM455.7 116.1h1.0v1.0h-1.0zM453.7 121.1h1.0v1.0h-1.0zM450.7 122.1h1.0v1.0h-1.0z"/>
<path fill="#8ccc3c" d="M447.7 105.1h1.0v1.0h-1.0zM449.7 105.1h1.0v1.0h-1.0zM458.7 107.1h1.0v1.0h-1.0zM448.7 108.1h1.0v1.0h-1.0zM450.7 108.1h1.0v1.0h-1.0zM446.7 110.1h1.0v1.0h-1.0zM460.7 111.1h1.0v1.0h-1.0zM460.7 112.1h1.0v1.0h-1.0zM447.7 113.1h1.0v1.0h-1.0zM451.7 113.1h1.0v1.0h-1.0zM453.7 113.1h1.0v1.0h-1.0zM457.7 113.1h1.0v1.0h-1.0zM443.7 114.1h1.0v1.0h-1.0zM444.7 114.1h1.0v1.0h-1.0zM454.7 117.1h1.0v1.0h-1.0z"/>
<polygon points="452.06,94.90 467.06,94.90 467.06,100.10 464.66,100.90 462.86,101.50 460.86,99.70 459.06,99.50 457.26,100.90 455.26,100.90 453.26,99.50 452.06,96.90" fill="#58c450"/>
<polygon points="452.92,95.40 466.12,95.40 466.12,99.98 464.01,100.68 462.42,101.21 460.66,99.62 459.08,99.45 457.50,100.68 455.74,100.68 453.98,99.45 452.92,97.16" fill="#a6d034"/>
<polygon points="455.50,96.90 463.30,96.90 463.30,99.60 462.05,100.02 461.11,100.33 460.07,99.39 459.14,99.29 458.20,100.02 457.16,100.02 456.12,99.29 455.50,97.94" fill="#d2d22e"/>
<path fill="#e0c030" d="M466.1 94.9h1.0v1.0h-1.0zM452.1 95.9h1.0v1.0h-1.0zM457.1 96.9h1.0v1.0h-1.0zM460.1 97.9h1.0v1.0h-1.0zM465.1 97.9h1.0v1.0h-1.0zM456.1 98.9h1.0v1.0h-1.0zM454.1 99.9h1.0v1.0h-1.0z"/>
<path fill="#7cc840" d="M453.1 94.9h1.0v1.0h-1.0zM463.1 95.9h1.0v1.0h-1.0zM465.1 95.9h1.0v1.0h-1.0zM453.1 97.9h1.0v1.0h-1.0zM457.1 98.9h1.0v1.0h-1.0zM458.1 98.9h1.0v1.0h-1.0zM462.1 99.9h1.0v1.0h-1.0zM463.1 99.9h1.0v1.0h-1.0z"/>
<path fill="#c8d42c" d="M455.1 94.9h1.0v1.0h-1.0zM456.1 94.9h1.0v1.0h-1.0z"/>
<path fill="#ee9a30" d="M464.1 95.9h1.0v1.0h-1.0zM466.1 95.9h1.0v1.0h-1.0zM466.1 96.9h1.0v1.0h-1.0zM459.1 97.9h1.0v1.0h-1.0zM459.1 98.9h1.0v1.0h-1.0z"/>
<polygon points="475.09,115.40 476.29,110.40 477.89,107.20 481.09,103.90 484.59,102.30 487.69,101.10 489.49,101.90 490.49,104.70 491.69,107.90 492.89,111.90 492.29,114.90 490.49,117.50 488.29,119.50 486.09,122.10 483.69,123.10 480.69,122.50 478.29,120.50 475.89,118.30" fill="#72c840"/>
<polygon points="476.23,115.05 477.29,110.65 478.70,107.84 481.51,104.93 484.59,103.52 487.32,102.47 488.90,103.17 489.78,105.64 490.84,108.45 491.90,111.97 491.37,114.61 489.78,116.90 487.85,118.66 485.91,120.95 483.80,121.83 481.16,121.30 479.05,119.54 476.94,117.60" fill="#c4d52e"/>
<polygon points="479.66,114.01 480.28,111.41 481.11,109.75 482.78,108.03 484.60,107.20 486.21,106.57 487.15,106.99 487.67,108.45 488.29,110.11 488.91,112.19 488.60,113.75 487.67,115.10 486.52,116.14 485.38,117.49 484.13,118.01 482.57,117.70 481.32,116.66 480.07,115.52" fill="#ec9c34"/>
<path fill="#ee8a2c" d="M486.1 102.1h1.0v1.0h-1.0zM487.1 106.1h1.0v1.0h-1.0zM478.1 109.1h1.0v1.0h-1.0zM490.1 109.1h1.0v1.0h-1.0zM489.1 111.1h1.0v1.0h-1.0zM492.1 111.1h1.0v1.0h-1.0zM486.1 113.1h1.0v1.0h-1.0zM482.1 114.1h1.0v1.0h-1.0zM481.1 117.1h1.0v1.0h-1.0zM482.1 117.1h1.0v1.0h-1.0zM480.1 118.1h1.0v1.0h-1.0zM482.1 119.1h1.0v1.0h-1.0zM484.1 119.1h1.0v1.0h-1.0zM480.1 120.1h1.0v1.0h-1.0zM485.1 121.1h1.0v1.0h-1.0z"/>
<path fill="#e8602a" d="M488.1 103.1h1.0v1.0h-1.0zM489.1 105.1h1.0v1.0h-1.0zM485.1 107.1h1.0v1.0h-1.0zM480.1 108.1h1.0v1.0h-1.0zM477.1 110.1h1.0v1.0h-1.0zM485.1 111.1h1.0v1.0h-1.0zM488.1 115.1h1.0v1.0h-1.0zM480.1 119.1h1.0v1.0h-1.0z"/>
<path fill="#d6d42e" d="M481.1 105.1h1.0v1.0h-1.0zM482.1 109.1h1.0v1.0h-1.0zM489.1 110.1h1.0v1.0h-1.0zM475.1 113.1h1.0v1.0h-1.0zM475.1 115.1h1.0v1.0h-1.0z"/>
<path fill="#a8cc36" d="M485.1 104.1h1.0v1.0h-1.0zM488.1 105.1h1.0v1.0h-1.0zM490.1 105.1h1.0v1.0h-1.0zM491.1 109.1h1.0v1.0h-1.0zM487.1 110.1h1.0v1.0h-1.0zM487.1 111.1h1.0v1.0h-1.0zM488.1 111.1h1.0v1.0h-1.0zM476.1 113.1h1.0v1.0h-1.0zM477.1 113.1h1.0v1.0h-1.0zM481.1 114.1h1.0v1.0h-1.0zM478.1 117.1h1.0v1.0h-1.0zM484.1 117.1h1.0v1.0h-1.0zM489.1 117.1h1.0v1.0h-1.0zM486.1 118.1h1.0v1.0h-1.0zM479.1 119.1h1.0v1.0h-1.0zM481.1 120.1h1.0v1.0h-1.0zM481.1 121.1h1.0v1.0h-1.0z"/>
<path fill="#f0b434" d="M481.1 104.1h1.0v1.0h-1.0zM483.1 104.1h1.0v1.0h-1.0zM482.1 108.1h1.0v1.0h-1.0zM483.1 108.1h1.0v1.0h-1.0zM487.1 108.1h1.0v1.0h-1.0zM476.1 111.1h1.0v1.0h-1.0zM477.1 111.1h1.0v1.0h-1.0zM483.1 112.1h1.0v1.0h-1.0zM479.1 114.1h1.0v1.0h-1.0zM476.1 115.1h1.0v1.0h-1.0zM486.1 117.1h1.0v1.0h-1.0z"/>
<path fill="#d0d030" d="M489.1 102.1h1.0v1.0h-1.0zM486.1 103.1h1.0v1.0h-1.0zM486.1 105.1h1.0v1.0h-1.0zM482.1 107.1h1.0v1.0h-1.0zM490.1 107.1h1.0v1.0h-1.0zM480.1 109.1h1.0v1.0h-1.0zM480.1 110.1h1.0v1.0h-1.0zM482.1 110.1h1.0v1.0h-1.0zM483.1 110.1h1.0v1.0h-1.0zM481.1 113.1h1.0v1.0h-1.0zM485.1 113.1h1.0v1.0h-1.0zM475.1 114.1h1.0v1.0h-1.0zM481.1 116.1h1.0v1.0h-1.0zM476.1 118.1h1.0v1.0h-1.0z"/>
<path fill="#8ccc3c" d="M483.1 105.1h1.0v1.0h-1.0zM484.1 105.1h1.0v1.0h-1.0zM485.1 105.1h1.0v1.0h-1.0zM480.1 106.1h1.0v1.0h-1.0zM488.1 112.1h1.0v1.0h-1.0zM492.1 112.1h1.0v1.0h-1.0zM488.1 113.1h1.0v1.0h-1.0zM490.1 113.1h1.0v1.0h-1.0zM482.1 115.1h1.0v1.0h-1.0zM483.1 118.1h1.0v1.0h-1.0zM477.1 119.1h1.0v1.0h-1.0zM484.1 121.1h1.0v1.0h-1.0z"/>
<polygon points="483.49,94.90 498.49,94.90 498.49,100.10 496.09,100.90 494.29,101.50 492.29,99.70 490.49,99.50 488.69,100.90 486.69,100.90 484.69,99.50 483.49,96.90" fill="#58c450"/>
<polygon points="484.35,95.40 497.55,95.40 497.55,99.98 495.44,100.68 493.85,101.21 492.09,99.62 490.51,99.45 488.93,100.68 487.17,100.68 485.41,99.45 484.35,97.16" fill="#a6d034"/>
<polygon points="486.93,96.90 494.73,96.90 494.73,99.60 493.48,100.02 492.54,100.33 491.50,99.39 490.57,99.29 489.63,100.02 488.59,100.02 487.55,99.29 486.93,97.94" fill="#d2d22e"/>
<path fill="#e0c030" d="M488.5 94.9h1.0v1.0h-1.0zM489.5 95.9h1.0v1.0h-1.0zM485.5 99.9h1.0v1.0h-1.0z"/>
<path fill="#7cc840" d="M497.5 94.9h1.0v1.0h-1.0zM495.5 95.9h1.0v1.0h-1.0zM491.5 96.9h1.0v1.0h-1.0zM492.5 96.9h1.0v1.0h-1.0zM492.5 97.9h1.0v1.0h-1.0zM492.5 98.9h1.0v1.0h-1.0zM496.5 99.9h1.0v1.0h-1.0z"/>
<path fill="#c8d42c" d="M485.5 94.9h1.0v1.0h-1.0zM490.5 95.9h1.0v1.0h-1.0zM492.5 95.9h1.0v1.0h-1.0zM493.5 95.9h1.0v1.0h-1.0zM486.5 96.9h1.0v1.0h-1.0zM491.5 97.9h1.0v1.0h-1.0zM497.5 98.9h1.0v1.0h-1.0z"/>
<path fill="#ee9a30" d="M487.5 94.9h1.0v1.0h-1.0zM490.5 98.9h1.0v1.0h-1.0zM495.5 98.9h1.0v1.0h-1.0zM487.5 99.9h1.0v1.0h-1.0zM493.5 99.9h1.0v1.0h-1.0z"/>
<polygon points="506.52,115.40 507.72,110.40 509.32,107.20 512.52,103.90 516.02,102.30 519.12,101.10 520.92,101.90 521.92,104.70 523.12,107.90 524.32,111.90 523.72,114.90 521.92,117.50 519.72,119.50 517.52,122.10 515.12,123.10 512.12,122.50 509.72,120.50 507.32,118.30" fill="#72c840"/>
<polygon points="507.66,115.05 508.72,110.65 510.13,107.84 512.94,104.93 516.02,103.52 518.75,102.47 520.33,103.17 521.21,105.64 522.27,108.45 523.33,111.97 522.80,114.61 521.21,116.90 519.28,118.66 517.34,120.95 515.23,121.83 512.59,121.30 510.48,119.54 508.37,117.60" fill="#c4d52e"/>
<polygon points="511.09,114.01 511.71,111.41 512.54,109.75 514.21,108.03 516.03,107.20 517.64,106.57 518.58,106.99 519.10,108.45 519.72,110.11 520.34,112.19 520.03,113.75 519.10,115.10 517.95,116.14 516.81,117.49 515.56,118.01 514.00,117.70 512.75,116.66 511.50,115.52" fill="#ec9c34"/>
<path fill="#ee8a2c" d="M511.5 109.1h1.0v1.0h-1.0zM508.5 110.1h1.0v1.0h-1.0zM519.5 112.1h1.0v1.0h-1.0zM513.5 113.1h1.0v1.0h-1.0zM513.5 115.1h1.0v1.0h-1.0zM520.5 117.1h1.0v1.0h-1.0zM515.5 120.1h1.0v1.0h-1.0zM514.5 122.1h1.0v1.0h-1.0z"/>
<path fill="#e8602a" d="M509.5 110.1h1.0v1.0h-1.0zM507.5 111.1h1.0v1.0h-1.0zM514.5 112.1h1.0v1.0h-1.0zM511.5 113.1h1.0v1.0h-1.0zM517.5 113.1h1.0v1.0h-1.0zM509.5 116.1h1.0v1.0h-1.0zM521.5 116.1h1.0v1.0h-1.0zM514.5 118.1h1.0v1.0h-1.0zM511.5 120.1h1.0v1.0h-1.0z"/>
<path fill="#d6d42e" d="M512.5 104.1h1.0v1.0h-1.0zM511.5 106.1h1.0v1.0h-1.0zM512.5 108.1h1.0v1.0h-1.0zM520.5 109.1h1.0v1.0h-1.0zM508.5 111.1h1.0v1.0h-1.0zM510.5 112.1h1.0v1.0h-1.0zM517.5 115.1h1.0v1.0h-1.0zM511.5 116.1h1.0v1.0h-1.0zM515.5 119.1h1.0v1.0h-1.0zM512.5 122.1h1.0v1.0h-1.0z"/>
<path fill="#a8cc36" d="M518.5 108.1h1.0v1.0h-1.0zM513.5 109.1h1.0v1.0h-1.0zM516.5 109.1h1.0v1.0h-1.0zM521.5 109.1h1.0v1.0h-1.0zM522.5 110.1h1.0v1.0h-1.0zM518.5 111.1h1.0v1.0h-1.0zM509.5 112.1h1.0v1.0h-1.0zM511.5 114.1h1.0v1.0h-1.0zM510.5 116.1h1.0v1.0h-1.0zM507.5 117.1h1.0v1.0h-1.0zM515.5 117.1h1.0v1.0h-1.0zM512.5 118.1h1.0v1.0h-1.0zM516.5 118.1h1.0v1.0h-1.0zM508.5 119.1h1.0v1.0h-1.0z"/>
<path fill="#f0b434" d="M514.5 106.1h1.0v1.0h-1.0zM514.5 107.1h1.0v1.0h-1.0zM514.5 109.1h1.0v1.0h-1.0zM510.5 110.1h1.0v1.0h-1.0zM520.5 110.1h1.0v1.0h-1.0zM511.5 111.1h1.0v1.0h-1.0zM520.5 111.1h1.0v1.0h-1.0zM523.5 111.1h1.0v1.0h-1.0zM509.5 113.1h1.0v1.0h-1.0zM517.5 118.1h1.0v1.0h-1.0zM519.5 118.1h1.0v1.0h-1.0z"/>
<path fill="#d0d030" d="M518.5 104.1h1.0v1.0h-1.0zM521.5 110.1h1.0v1.0h-1.0zM512.5 112.1h1.0v1.0h-1.0zM522.5 112.1h1.0v1.0h-1.0zM523.5 112.1h1.0v1.0h-1.0zM514.5 113.1h1.0v1.0h-1.0zM514.5 114.1h1.0v1.0h-1.0zM514.5 119.1h1.0v1.0h-1.0z"/>
<path fill="#8ccc3c" d="M514.5 103.1h1.0v1.0h-1.0zM516.5 103.1h1.0v1.0h-1.0zM516.5 104.1h1.0v1.0h-1.0zM514.5 105.1h1.0v1.0h-1.0zM518.5 105.1h1.0v1.0h-1.0zM521.5 105.1h1.0v1.0h-1.0zM512.5 107.1h1.0v1.0h-1.0zM516.5 107.1h1.0v1.0h-1.0zM522.5 108.1h1.0v1.0h-1.0zM508.5 109.1h1.0v1.0h-1.0zM522.5 109.1h1.0v1.0h-1.0zM512.5 110.1h1.0v1.0h-1.0zM517.5 114.1h1.0v1.0h-1.0zM509.5 115.1h1.0v1.0h-1.0zM514.5 115.1h1.0v1.0h-1.0zM518.5 115.1h1.0v1.0h-1.0zM521.5 115.1h1.0v1.0h-1.0zM506.5 116.1h1.0v1.0h-1.0zM517.5 117.1h1.0v1.0h-1.0zM513.5 121.1h1.0v1.0h-1.0zM515.5 122.1h1.0v1.0h-1.0z"/>
<polygon points="514.92,94.90 529.92,94.90 529.92,100.10 527.52,100.90 525.72,101.50 523.72,99.70 521.92,99.50 520.12,100.90 518.12,100.90 516.12,99.50 514.92,96.90" fill="#58c450"/>
<polygon points="515.78,95.40 528.98,95.40 528.98,99.98 526.87,100.68 525.28,101.21 523.52,99.62 521.94,99.45 520.36,100.68 518.60,100.68 516.84,99.45 515.78,97.16" fill="#a6d034"/>
<polygon points="518.36,96.90 526.16,96.90 526.16,99.60 524.91,100.02 523.97,100.33 522.93,99.39 522.00,99.29 521.06,100.02 520.02,100.02 518.98,99.29 518.36,97.94" fill="#d2d22e"/>
<path fill="#e0c030" d="M523.9 94.9h1.0v1.0h-1.0zM521.9 95.9h1.0v1.0h-1.0zM525.9 95.9h1.0v1.0h-1.0zM518.9 96.9h1.0v1.0h-1.0zM523.9 96.9h1.0v1.0h-1.0zM518.9 97.9h1.0v1.0h-1.0zM519.9 97.9h1.0v1.0h-1.0zM525.9 97.9h1.0v1.0h-1.0zM520.9 98.9h1.0v1.0h-1.0zM522.9 98.9h1.0v1.0h-1.0zM525.9 98.9h1.0v1.0h-1.0zM525.9 99.9h1.0v1.0h-1.0z"/>
<path fill="#7cc840" d="M519.9 95.9h1.0v1.0h-1.0zM522.9 95.9h1.0v1.0h-1.0zM516.9 96.9h1.0v1.0h-1.0zM517.9 98.9h1.0v1.0h-1.0zM526.9 98.9h1.0v1.0h-1.0z"/>
<path fill="#c8d42c" d="M515.9 94.9h1.0v1.0h-1.0zM521.9 94.9h1.0v1.0h-1.0zM525.9 94.9h1.0v1.0h-1.0zM517.9 95.9h1.0v1.0h-1.0zM523.9 95.9h1.0v1.0h-1.0zM527.9 95.9h1.0v1.0h-1.0zM515.9 96.9h1.0v1.0h-1.0zM526.9 96.9h1.0v1.0h-1.0zM523.9 97.9h1.0v1.0h-1.0zM521.9 98.9h1.0v1.0h-1.0zM523.9 98.9h1.0v1.0h-1.0z"/>
<path fill="#ee9a30" d="M520.9 94.9h1.0v1.0h-1.0zM526.9 94.9h1.0v1.0h-1.0zM527.9 94.9h1.0v1.0h-1.0zM528.9 94.9h1.0v1.0h-1.0zM521.9 96.9h1.0v1.0h-1.0zM524.9 97.9h1.0v1.0h-1.0zM519.9 98.9h1.0v1.0h-1.0zM528.9 98.9h1.0v1.0h-1.0z"/>
<polygon points="537.95,115.40 539.15,110.40 540.75,107.20 543.95,103.90 547.45,102.30 550.55,101.10 552.35,101.90 553.35,104.70 554.55,107.90 555.75,111.90 555.15,114.90 553.35,117.50 551.15,119.50 548.95,122.10 546.55,123.10 543.55,122.50 541.15,120.50 538.75,118.30" fill="#72c840"/>
<polygon points="539.09,115.05 540.15,110.65 541.56,107.84 544.37,104.93 547.45,103.52 550.18,102.47 551.76,103.17 552.64,105.64 553.70,108.45 554.76,111.97 554.23,114.61 552.64,116.90 550.71,118.66 548.77,120.95 546.66,121.83 544.02,121.30 541.91,119.54 539.80,117.60" fill="#c4d52e"/>
<polygon points="542.52,114.01 543.14,111.41 543.97,109.75 545.64,108.03 547.46,107.20 549.07,106.57 550.01,106.99 550.53,108.45 551.15,110.11 551.77,112.19 551.46,113.75 550.53,115.10 549.38,116.14 548.24,117.49 546.99,118.01 545.43,117.70 544.18,116.66 542.93,115.52" fill="#ec9c34"/>
<path fill="#ee8a2c" d="M549.0 104.1h1.0v1.0h-1.0zM548.0 109.1h1.0v1.0h-1.0zM545.0 112.1h1.0v1.0h-1.0zM553.0 112.1h1.0v1.0h-1.0zM543.0 114.1h1.0v1.0h-1.0zM540.0 115.1h1.0v1.0h-1.0z"/>
<path fill="#e8602a" d="M547.0 105.1h1.0v1.0h-1.0zM542.0 108.1h1.0v1.0h-1.0zM542.0 109.1h1.0v1.0h-1.0zM550.0 110.1h1.0v1.0h-1.0zM552.0 112.1h1.0v1.0h-1.0zM541.0 113.1h1.0v1.0h-1.0zM544.0 114.1h1.0v1.0h-1.0zM550.0 115.1h1.0v1.0h-1.0zM545.0 116.1h1.0v1.0h-1.0zM540.0 117.1h1.0v1.0h-1.0zM542.0 117.1h1.0v1.0h-1.0zM547.0 118.1h1.0v1.0h-1.0zM541.0 120.1h1.0v1.0h-1.0zM544.0 120.1h1.0v1.0h-1.0z"/>
<path fill="#d6d42e" d="M551.0 106.1h1.0v1.0h-1.0zM553.0 108.1h1.0v1.0h-1.0zM538.0 113.1h1.0v1.0h-1.0zM546.0 116.1h1.0v1.0h-1.0zM548.0 117.1h1.0v1.0h-1.0zM549.0 117.1h1.0v1.0h-1.0z"/>
<path fill="#a8cc36" d="M546.0 103.1h1.0v1.0h-1.0zM543.0 104.1h1.0v1.0h-1.0zM552.0 105.1h1.0v1.0h-1.0zM547.0 107.1h1.0v1.0h-1.0zM540.0 108.1h1.0v1.0h-1.0zM546.0 112.1h1.0v1.0h-1.0zM552.0 113.1h1.0v1.0h-1.0zM541.0 114.1h1.0v1.0h-1.0zM553.0 114.1h1.0v1.0h-1.0zM540.0 116.1h1.0v1.0h-1.0zM543.0 120.1h1.0v1.0h-1.0zM544.0 121.1h1.0v1.0h-1.0z"/>
<path fill="#f0b434" d="M547.0 103.1h1.0v1.0h-1.0zM545.0 104.1h1.0v1.0h-1.0zM542.0 107.1h1.0v1.0h-1.0zM544.0 108.1h1.0v1.0h-1.0zM552.0 110.1h1.0v1.0h-1.0zM550.0 112.1h1.0v1.0h-1.0zM548.0 113.1h1.0v1.0h-1.0zM545.0 114.1h1.0v1.0h-1.0zM542.0 116.1h1.0v1.0h-1.0z"/>
<path fill="#d0d030" d="M544.0 104.1h1.0v1.0h-1.0zM548.0 108.1h1.0v1.0h-1.0zM545.0 110.1h1.0v1.0h-1.0zM553.0 110.1h1.0v1.0h-1.0zM546.0 111.1h1.0v1.0h-1.0zM547.0 112.1h1.0v1.0h-1.0zM551.0 113.1h1.0v1.0h-1.0zM554.0 113.1h1.0v1.0h-1.0zM544.0 115.1h1.0v1.0h-1.0zM544.0 117.1h1.0v1.0h-1.0zM541.0 118.1h1.0v1.0h-1.0zM548.0 119.1h1.0v1.0h-1.0zM549.0 120.1h1.0v1.0h-1.0z"/>
<path fill="#8ccc3c" d="M552.0 109.1h1.0v1.0h-1.0zM551.0 110.1h1.0v1.0h-1.0zM540.0 111.1h1.0v1.0h-1.0zM552.0 111.1h1.0v1.0h-1.0zM548.0 116.1h1.0v1.0h-1.0zM552.0 116.1h1.0v1.0h-1.0zM551.0 117.1h1.0v1.0h-1.0zM547.0 120.1h1.0v1.0h-1.0zM543.0 121.1h1.0v1.0h-1.0z"/>
<polygon points="546.35,94.90 561.35,94.90 561.35,100.10 558.95,100.90 557.15,101.50 555.15,99.70 553.35,99.50 551.55,100.90 549.55,100.90 547.55,99.50 546.35,96.90" fill="#58c450"/>
<polygon points="547.21,95.40 560.41,95.40 560.41,99.98 558.30,100.68 556.71,101.21 554.95,99.62 553.37,99.45 551.79,100.68 550.03,100.68 548.27,99.45 547.21,97.16" fill="#a6d034"/>
<polygon points="549.79,96.90 557.59,96.90 557.59,99.60 556.34,100.02 555.40,100.33 554.36,99.39 553.43,99.29 552.49,100.02 551.45,100.02 550.41,99.29 549.79,97.94" fill="#d2d22e"/>
<path fill="#e0c030" d="M558.4 94.9h1.0v1.0h-1.0zM550.4 95.9h1.0v1.0h-1.0zM555.4 95.9h1.0v1.0h-1.0zM552.4 96.9h1.0v1.0h-1.0zM547.4 97.9h1.0v1.0h-1.0zM549.4 98.9h1.0v1.0h-1.0z"/>
<path fill="#7cc840" d="M560.4 98.9h1.0v1.0h-1.0zM558.4 99.9h1.0v1.0h-1.0z"/>
<path fill="#c8d42c" d="M546.4 95.9h1.0v1.0h-1.0zM556.4 96.9h1.0v1.0h-1.0zM560.4 97.9h1.0v1.0h-1.0zM553.4 98.9h1.0v1.0h-1.0zM548.4 99.9h1.0v1.0h-1.0z"/>
<path fill="#ee9a30" d="M549.4 95.9h1.0v1.0h-1.0zM548.4 96.9h1.0v1.0h-1.0zM548.4 97.9h1.0v1.0h-1.0zM551.4 97.9h1.0v1.0h-1.0zM554.4 98.9h1.0v1.0h-1.0z"/>
<polygon points="569.38,115.40 570.58,110.40 572.18,107.20 575.38,103.90 578.88,102.30 581.98,101.10 583.78,101.90 584.78,104.70 585.98,107.90 587.18,111.90 586.58,114.90 584.78,117.50 582.58,119.50 580.38,122.10 577.98,123.10 574.98,122.50 572.58,120.50 570.18,118.30" fill="#72c840"/>
<polygon points="570.52,115.05 571.58,110.65 572.99,107.84 575.80,104.93 578.88,103.52 581.61,102.47 583.19,103.17 584.07,105.64 585.13,108.45 586.19,111.97 585.66,114.61 584.07,116.90 582.14,118.66 580.20,120.95 578.09,121.83 575.45,121.30 573.34,119.54 571.23,117.60" fill="#c4d52e"/>
<polygon points="573.95,114.01 574.57,111.41 575.40,109.75 577.07,108.03 578.89,107.20 580.50,106.57 581.44,106.99 581.96,108.45 582.58,110.11 583.20,112.19 582.89,113.75 581.96,115.10 580.81,116.14 579.67,117.49 578.42,118.01 576.86,117.70 575.61,116.66 574.36,115.52" fill="#ec9c34"/>
<path fill="#ee8a2c" d="M576.4 103.1h1.0v1.0h-1.0zM584.4 105.1h1.0v1.0h-1.0zM584.4 106.1h1.0v1.0h-1.0zM577.4 110.1h1.0v1.0h-1.0zM579.4 110.1h1.0v1.0h-1.0zM577.4 113.1h1.0v1.0h-1.0zM580.4 115.1h1.0v1.0h-1.0zM581.4 116.1h1.0v1.0h-1.0zM584.4 116.1h1.0v1.0h-1.0z"/>
<path fill="#e8602a" d="M578.4 104.1h1.0v1.0h-1.0zM579.4 108.1h1.0v1.0h-1.0zM584.4 108.1h1.0v1.0h-1.0zM579.4 109.1h1.0v1.0h-1.0zM574.4 110.1h1.0v1.0h-1.0zM576.4 110.1h1.0v1.0h-1.0zM582.4 110.1h1.0v1.0h-1.0zM572.4 114.1h1.0v1.0h-1.0zM575.4 114.1h1.0v1.0h-1.0zM579.4 114.1h1.0v1.0h-1.0zM579.4 115.1h1.0v1.0h-1.0zM572.4 117.1h1.0v1.0h-1.0zM572.4 120.1h1.0v1.0h-1.0zM573.4 120.1h1.0v1.0h-1.0zM578.4 120.1h1.0v1.0h-1.0zM575.4 121.1h1.0v1.0h-1.0z"/>
<path fill="#d6d42e" d="M579.4 104.1h1.0v1.0h-1.0zM579.4 105.1h1.0v1.0h-1.0zM577.4 106.1h1.0v1.0h-1.0zM578.4 108.1h1.0v1.0h-1.0zM572.4 110.1h1.0v1.0h-1.0zM578.4 111.1h1.0v1.0h-1.0zM578.4 112.1h1.0v1.0h-1.0zM576.4 113.1h1.0v1.0h-1.0zM580.4 113.1h1.0v1.0h-1.0zM577.4 116.1h1.0v1.0h-1.0zM576.4 120.1h1.0v1.0h-1.0z"/>
<path fill="#a8cc36" d="M578.4 102.1h1.0v1.0h-1.0zM582.4 102.1h1.0v1.0h-1.0zM575.4 107.1h1.0v1.0h-1.0zM574.4 109.1h1.0v1.0h-1.0zM578.4 109.1h1.0v1.0h-1.0zM569.4 115.1h1.0v1.0h-1.0zM581.4 117.1h1.0v1.0h-1.0zM571.4 118.1h1.0v1.0h-1.0zM574.4 120.1h1.0v1.0h-1.0zM576.4 121.1h1.0v1.0h-1.0zM575.4 122.1h1.0v1.0h-1.0z"/>
<path fill="#f0b434" d="M582.4 101.1h1.0v1.0h-1.0zM582.4 103.1h1.0v1.0h-1.0zM575.4 104.1h1.0v1.0h-1.0zM581.4 104.1h1.0v1.0h-1.0zM583.4 105.1h1.0v1.0h-1.0zM582.4 107.1h1.0v1.0h-1.0zM574.4 108.1h1.0v1.0h-1.0zM583.4 111.1h1.0v1.0h-1.0zM583.4 112.1h1.0v1.0h-1.0zM576.4 118.1h1.0v1.0h-1.0z"/>
<path fill="#d0d030" d="M577.4 105.1h1.0v1.0h-1.0zM582.4 106.1h1.0v1.0h-1.0zM579.4 107.1h1.0v1.0h-1.0zM581.4 108.1h1.0v1.0h-1.0zM576.4 111.1h1.0v1.0h-1.0zM573.4 112.1h1.0v1.0h-1.0zM579.4 112.1h1.0v1.0h-1.0zM585.4 112.1h1.0v1.0h-1.0zM582.4 114.1h1.0v1.0h-1.0zM576.4 116.1h1.0v1.0h-1.0zM571.4 117.1h1.0v1.0h-1.0zM578.4 117.1h1.0v1.0h-1.0zM570.4 118.1h1.0v1.0h-1.0zM572.4 118.1h1.0v1.0h-1.0z"/>
<path fill="#8ccc3c" d="M579.4 106.1h1.0v1.0h-1.0zM581.4 106.1h1.0v1.0h-1.0zM576.4 107.1h1.0v1.0h-1.0zM583.4 108.1h1.0v1.0h-1.0zM571.4 112.1h1.0v1.0h-1.0zM581.4 118.1h1.0v1.0h-1.0zM582.4 118.1h1.0v1.0h-1.0z"/>
<polygon points="577.78,94.90 592.78,94.90 592.78,100.10 590.38,100.90 588.58,101.50 586.58,99.70 584.78,99.50 582.98,100.90 580.98,100.90 578.98,99.50 577.78,96.90" fill="#58c450"/>
<polygon points="578.64,95.40 591.84,95.40 591.84,99.98 589.73,100.68 588.14,101.21 586.38,99.62 584.80,99.45 583.22,100.68 581.46,100.68 579.70,99.45 578.64,97.16" fill="#a6d034"/>
<polygon points="581.22,96.90 589.02,96.90 589.02,99.60 587.77,100.02 586.83,100.33 585.79,99.39 584.86,99.29 583.92,100.02 582.88,100.02 581.84,99.29 581.22,97.94" fill="#d2d22e"/>
<path fill="#e0c030" d="M581.8 96.9h1.0v1.0h-1.0zM582.8 97.9h1.0v1.0h-1.0zM585.8 97.9h1.0v1.0h-1.0z"/>
<path fill="#7cc840" d="M585.8 94.9h1.0v1.0h-1.0zM587.8 94.9h1.0v1.0h-1.0zM589.8 94.9h1.0v1.0h-1.0zM587.8 95.9h1.0v1.0h-1.0zM588.8 95.9h1.0v1.0h-1.0zM589.8 97.9h1.0v1.0h-1.0z"/>
<path fill="#c8d42c" d="M578.8 95.9h1.0v1.0h-1.0zM582.8 99.9h1.0v1.0h-1.0zM590.8 99.9h1.0v1.0h-1.0z"/>
<path fill="#ee9a30" d="M584.8 94.9h1.0v1.0h-1.0zM585.8 95.9h1.0v1.0h-1.0zM584.8 96.9h1.0v1.0h-1.0zM579.8 97.9h1.0v1.0h-1.0zM585.8 98.9h1.0v1.0h-1.0z"/>
<polygon points="600.81,115.40 602.01,110.40 603.61,107.20 606.81,103.90 610.31,102.30 613.41,101.10 615.21,101.90 616.21,104.70 617.41,107.90 618.61,111.90 618.01,114.90 616.21,117.50 614.01,119.50 611.81,122.10 609.41,123.10 606.41,122.50 604.01,120.50 601.61,118.30" fill="#72c840"/>
<polygon points="601.95,115.05 603.01,110.65 604.42,107.84 607.23,104.93 610.31,103.52 613.04,102.47 614.62,103.17 615.50,105.64 616.56,108.45 617.62,111.97 617.09,114.61 615.50,116.90 613.57,118.66 611.63,120.95 609.52,121.83 606.88,121.30 604.77,119.54 602.66,117.60" fill="#c4d52e"/>
<polygon points="605.38,114.01 606.00,111.41 606.83,109.75 608.50,108.03 610.32,107.20 611.93,106.57 612.87,106.99 613.39,108.45 614.01,110.11 614.63,112.19 614.32,113.75 613.39,115.10 612.24,116.14 611.10,117.49 609.85,118.01 608.29,117.70 607.04,116.66 605.79,115.52" fill="#ec9c34"/>
<path fill="#ee8a2c" d="M607.8 103.1h1.0v1.0h-1.0zM612.8 103.1h1.0v1.0h-1.0zM609.8 104.1h1.0v1.0h-1.0zM604.8 105.1h1.0v1.0h-1.0zM604.8 107.1h1.0v1.0h-1.0zM603.8 108.1h1.0v1.0h-1.0zM616.8 108.1h1.0v1.0h-1.0zM606.8 109.1h1.0v1.0h-1.0zM609.8 114.1h1.0v1.0h-1.0zM604.8 115.1h1.0v1.0h-1.0zM610.8 115.1h1.0v1.0h-1.0zM615.8 115.1h1.0v1.0h-1.0zM612.8 116.1h1.0v1.0h-1.0zM614.8 116.1h1.0v1.0h-1.0zM609.8 118.1h1.0v1.0h-1.0zM608.8 119.1h1.0v1.0h-1.0zM607.8 121.1h1.0v1.0h-1.0z"/>
<path fill="#e8602a" d="M611.8 102.1h1.0v1.0h-1.0zM614.8 104.1h1.0v1.0h-1.0zM604.8 106.1h1.0v1.0h-1.0zM602.8 109.1h1.0v1.0h-1.0zM615.8 109.1h1.0v1.0h-1.0zM605.8 110.1h1.0v1.0h-1.0zM616.8 110.1h1.0v1.0h-1.0zM614.8 111.1h1.0v1.0h-1.0zM602.8 112.1h1.0v1.0h-1.0zM613.8 113.1h1.0v1.0h-1.0zM614.8 113.1h1.0v1.0h-1.0zM603.8 114.1h1.0v1.0h-1.0zM609.8 115.1h1.0v1.0h-1.0zM609.8 116.1h1.0v1.0h-1.0zM611.8 118.1h1.0v1.0h-1.0z"/>
<path fill="#d6d42e" d="M614.8 102.1h1.0v1.0h-1.0zM606.8 104.1h1.0v1.0h-1.0zM614.8 106.1h1.0v1.0h-1.0zM610.8 109.1h1.0v1.0h-1.0zM614.8 109.1h1.0v1.0h-1.0zM601.8 112.1h1.0v1.0h-1.0zM606.8 116.1h1.0v1.0h-1.0zM610.8 116.1h1.0v1.0h-1.0zM602.8 117.1h1.0v1.0h-1.0zM608.8 118.1h1.0v1.0h-1.0z"/>
<path fill="#a8cc36" d="M611.8 105.1h1.0v1.0h-1.0zM614.8 105.1h1.0v1.0h-1.0zM604.8 108.1h1.0v1.0h-1.0zM605.8 109.1h1.0v1.0h-1.0zM601.8 110.1h1.0v1.0h-1.0zM608.8 110.1h1.0v1.0h-1.0zM605.8 111.1h1.0v1.0h-1.0zM614.8 114.1h1.0v1.0h-1.0zM613.8 115.1h1.0v1.0h-1.0zM614.8 115.1h1.0v1.0h-1.0zM605.8 117.1h1.0v1.0h-1.0zM606.8 117.1h1.0v1.0h-1.0zM613.8 118.1h1.0v1.0h-1.0z"/>
<path fill="#f0b434" d="M610.8 103.1h1.0v1.0h-1.0zM605.8 108.1h1.0v1.0h-1.0zM604.8 111.1h1.0v1.0h-1.0zM606.8 111.1h1.0v1.0h-1.0zM607.8 113.1h1.0v1.0h-1.0zM603.8 115.1h1.0v1.0h-1.0zM604.8 116.1h1.0v1.0h-1.0zM603.8 120.1h1.0v1.0h-1.0zM609.8 120.1h1.0v1.0h-1.0z"/>
<path fill="#d0d030" d="M613.8 106.1h1.0v1.0h-1.0zM617.8 111.1h1.0v1.0h-1.0zM606.8 115.1h1.0v1.0h-1.0zM616.8 115.1h1.0v1.0h-1.0zM602.8 118.1h1.0v1.0h-1.0zM603.8 119.1h1.0v1.0h-1.0z"/>
<path fill="#8ccc3c" d="M605.8 105.1h1.0v1.0h-1.0zM606.8 106.1h1.0v1.0h-1.0zM603.8 107.1h1.0v1.0h-1.0zM608.8 107.1h1.0v1.0h-1.0zM602.8 110.1h1.0v1.0h-1.0zM601.8 113.1h1.0v1.0h-1.0zM601.8 114.1h1.0v1.0h-1.0zM607.8 117.1h1.0v1.0h-1.0zM606.8 119.1h1.0v1.0h-1.0zM610.8 119.1h1.0v1.0h-1.0z"/>
<polygon points="609.21,94.90 624.21,94.90 624.21,100.10 621.81,100.90 620.01,101.50 618.01,99.70 616.21,99.50 614.41,100.90 612.41,100.90 610.41,99.50 609.21,96.90" fill="#58c450"/>
<polygon points="610.07,95.40 623.27,95.40 623.27,99.98 621.16,100.68 619.57,101.21 617.81,99.62 616.23,99.45 614.65,100.68 612.89,100.68 611.13,99.45 610.07,97.16" fill="#a6d034"/>
<polygon points="612.65,96.90 620.45,96.90 620.45,99.60 619.20,100.02 618.26,100.33 617.22,99.39 616.29,99.29 615.35,100.02 614.31,100.02 613.27,99.29 612.65,97.94" fill="#d2d22e"/>
<path fill="#e0c030" d="M612.2 94.9h1.0v1.0h-1.0zM619.2 94.9h1.0v1.0h-1.0zM623.2 94.9h1.0v1.0h-1.0zM609.2 95.9h1.0v1.0h-1.0zM617.2 95.9h1.0v1.0h-1.0zM609.2 96.9h1.0v1.0h-1.0zM612.2 96.9h1.0v1.0h-1.0zM618.2 97.9h1.0v1.0h-1.0zM610.2 98.9h1.0v1.0h-1.0zM623.2 98.9h1.0v1.0h-1.0z"/>
<path fill="#7cc840" d="M611.2 94.9h1.0v1.0h-1.0zM616.2 94.9h1.0v1.0h-1.0zM617.2 94.9h1.0v1.0h-1.0zM619.2 96.9h1.0v1.0h-1.0zM617.2 97.9h1.0v1.0h-1.0zM616.2 98.9h1.0v1.0h-1.0zM622.2 99.9h1.0v1.0h-1.0z"/>
<path fill="#c8d42c" d="M612.2 95.9h1.0v1.0h-1.0zM622.2 96.9h1.0v1.0h-1.0zM615.2 97.9h1.0v1.0h-1.0z"/>
<path fill="#ee9a30" d="M618.2 96.9h1.0v1.0h-1.0zM616.2 97.9h1.0v1.0h-1.0zM619.2 97.9h1.0v1.0h-1.0zM615.2 98.9h1.0v1.0h-1.0zM620.2 98.9h1.0v1.0h-1.0z"/>
<polygon points="632.24,115.40 633.44,110.40 635.04,107.20 638.24,103.90 641.74,102.30 644.84,101.10 646.64,101.90 647.64,104.70 648.84,107.90 650.04,111.90 649.44,114.90 647.64,117.50 645.44,119.50 643.24,122.10 640.84,123.10 637.84,122.50 635.44,120.50 633.04,118.30" fill="#72c840"/>
<polygon points="633.38,115.05 634.44,110.65 635.85,107.84 638.66,104.93 641.74,103.52 644.47,102.47 646.05,103.17 646.93,105.64 647.99,108.45 649.05,111.97 648.52,114.61 646.93,116.90 645.00,118.66 643.06,120.95 640.95,121.83 638.31,121.30 636.20,119.54 634.09,117.60" fill="#c4d52e"/>
<polygon points="636.81,114.01 637.43,111.41 638.26,109.75 639.93,108.03 641.75,107.20 643.36,106.57 644.30,106.99 644.82,108.45 645.44,110.11 646.06,112.19 645.75,113.75 644.82,115.10 643.67,116.14 642.53,117.49 641.28,118.01 639.72,117.70 638.47,116.66 637.22,115.52" fill="#ec9c34"/>
<path fill="#ee8a2c" d="M647.2 105.1h1.0v1.0h-1.0zM638.2 108.1h1.0v1.0h-1.0zM644.2 110.1h1.0v1.0h-1.0zM648.2 110.1h1.0v1.0h-1.0zM632.2 113.1h1.0v1.0h-1.0zM640.2 114.1h1.0v1.0h-1.0zM636.2 116.1h1.0v1.0h-1.0zM635.2 119.1h1.0v1.0h-1.0zM638.2 119.1h1.0v1.0h-1.0zM639.2 119.1h1.0v1.0h-1.0z"/>
<path fill="#e8602a" d="M635.2 106.1h1.0v1.0h-1.0zM639.2 106.1h1.0v1.0h-1.0zM645.2 106.1h1.0v1.0h-1.0zM638.2 110.1h1.0v1.0h-1.0zM642.2 110.1h1.0v1.0h-1.0zM647.2 113.1h1.0v1.0h-1.0zM632.2 114.1h1.0v1.0h-1.0zM635.2 114.1h1.0v1.0h-1.0zM648.2 114.1h1.0v1.0h-1.0zM637.2 116.1h1.0v1.0h-1.0zM646.2 116.1h1.0v1.0h-1.0zM645.2 117.1h1.0v1.0h-1.0zM643.2 118.1h1.0v1.0h-1.0zM638.2 122.1h1.0v1.0h-1.0z"/>
<path fill="#d6d42e" d="M643.2 101.1h1.0v1.0h-1.0zM644.2 103.1h1.0v1.0h-1.0zM635.2 108.1h1.0v1.0h-1.0zM637.2 112.1h1.0v1.0h-1.0zM647.2 112.1h1.0v1.0h-1.0zM645.2 115.1h1.0v1.0h-1.0zM648.2 115.1h1.0v1.0h-1.0zM633.2 117.1h1.0v1.0h-1.0zM636.2 120.1h1.0v1.0h-1.0z"/>
<path fill="#a8cc36" d="M641.2 103.1h1.0v1.0h-1.0zM646.2 107.1h1.0v1.0h-1.0zM640.2 109.1h1.0v1.0h-1.0zM647.2 109.1h1.0v1.0h-1.0zM635.2 110.1h1.0v1.0h-1.0zM639.2 111.1h1.0v1.0h-1.0zM639.2 113.1h1.0v1.0h-1.0zM643.2 113.1h1.0v1.0h-1.0zM644.2 113.1h1.0v1.0h-1.0zM639.2 114.1h1.0v1.0h-1.0zM634.2 116.1h1.0v1.0h-1.0zM639.2 117.1h1.0v1.0h-1.0zM637.2 121.1h1.0v1.0h-1.0zM639.2 121.1h1.0v1.0h-1.0z"/>
<path fill="#f0b434" d="M640.2 103.1h1.0v1.0h-1.0zM642.2 104.1h1.0v1.0h-1.0zM638.2 106.1h1.0v1.0h-1.0zM640.2 106.1h1.0v1.0h-1.0zM642.2 107.1h1.0v1.0h-1.0zM648.2 108.1h1.0v1.0h-1.0zM644.2 109.1h1.0v1.0h-1.0zM639.2 110.1h1.0v1.0h-1.0zM636.2 114.1h1.0v1.0h-1.0zM645.2 114.1h1.0v1.0h-1.0zM639.2 118.1h1.0v1.0h-1.0zM641.2 120.1h1.0v1.0h-1.0z"/>
<path fill="#d0d030" d="M642.2 103.1h1.0v1.0h-1.0zM641.2 105.1h1.0v1.0h-1.0zM643.2 107.1h1.0v1.0h-1.0zM641.2 110.1h1.0v1.0h-1.0zM634.2 111.1h1.0v1.0h-1.0zM640.2 112.1h1.0v1.0h-1.0zM638.2 114.1h1.0v1.0h-1.0zM642.2 114.1h1.0v1.0h-1.0zM646.2 114.1h1.0v1.0h-1.0z"/>
<path fill="#8ccc3c" d="M641.2 102.1h1.0v1.0h-1.0zM637.2 107.1h1.0v1.0h-1.0zM644.2 107.1h1.0v1.0h-1.0zM647.2 107.1h1.0v1.0h-1.0zM637.2 110.1h1.0v1.0h-1.0zM641.2 113.1h1.0v1.0h-1.0zM647.2 114.1h1.0v1.0h-1.0zM638.2 115.1h1.0v1.0h-1.0zM640.2 115.1h1.0v1.0h-1.0zM638.2 116.1h1.0v1.0h-1.0zM636.2 118.1h1.0v1.0h-1.0z"/>
<polygon points="640.64,94.90 655.64,94.90 655.64,100.10 653.24,100.90 651.44,101.50 649.44,99.70 647.64,99.50 645.84,100.90 643.84,100.90 641.84,99.50 640.64,96.90" fill="#58c450"/>
<polygon points="641.50,95.40 654.70,95.40 654.70,99.98 652.59,100.68 651.00,101.21 649.24,99.62 647.66,99.45 646.08,100.68 644.32,100.68 642.56,99.45 641.50,97.16" fill="#a6d034"/>
<polygon points="644.08,96.90 651.88,96.90 651.88,99.60 650.63,100.02 649.69,100.33 648.65,99.39 647.72,99.29 646.78,100.02 645.74,100.02 644.70,99.29 644.08,97.94" fill="#d2d22e"/>
<path fill="#e0c030" d="M649.6 94.9h1.0v1.0h-1.0zM646.6 95.9h1.0v1.0h-1.0zM650.6 95.9h1.0v1.0h-1.0zM642.6 96.9h1.0v1.0h-1.0zM642.6 97.9h1.0v1.0h-1.0zM653.6 97.9h1.0v1.0h-1.0zM653.6 98.9h1.0v1.0h-1.0zM643.6 99.9h1.0v1.0h-1.0z"/>
<path fill="#7cc840" d="M642.6 95.9h1.0v1.0h-1.0zM647.6 95.9h1.0v1.0h-1.0zM641.6 98.9h1.0v1.0h-1.0zM645.6 98.9h1.0v1.0h-1.0zM652.6 99.9h1.0v1.0h-1.0z"/>
<path fill="#c8d42c" d="M640.6 94.9h1.0v1.0h-1.0zM652.6 94.9h1.0v1.0h-1.0zM653.6 94.9h1.0v1.0h-1.0zM654.6 95.9h1.0v1.0h-1.0zM644.6 98.9h1.0v1.0h-1.0zM647.6 98.9h1.0v1.0h-1.0zM648.6 98.9h1.0v1.0h-1.0z"/>
<path fill="#ee9a30" d="M642.6 94.9h1.0v1.0h-1.0zM654.6 94.9h1.0v1.0h-1.0zM640.6 95.9h1.0v1.0h-1.0zM645.6 95.9h1.0v1.0h-1.0zM640.6 96.9h1.0v1.0h-1.0zM652.6 96.9h1.0v1.0h-1.0zM645.6 97.9h1.0v1.0h-1.0zM646.6 97.9h1.0v1.0h-1.0zM654.6 97.9h1.0v1.0h-1.0zM646.6 98.9h1.0v1.0h-1.0z"/>
<polygon points="663.67,115.40 664.87,110.40 666.47,107.20 669.67,103.90 673.17,102.30 676.27,101.10 678.07,101.90 679.07,104.70 680.27,107.90 681.47,111.90 680.87,114.90 679.07,117.50 676.87,119.50 674.67,122.10 672.27,123.10 669.27,122.50 666.87,120.50 664.47,118.30" fill="#72c840"/>
<polygon points="664.81,115.05 665.87,110.65 667.28,107.84 670.09,104.93 673.17,103.52 675.90,102.47 677.48,103.17 678.36,105.64 679.42,108.45 680.48,111.97 679.95,114.61 678.36,116.90 676.43,118.66 674.49,120.95 672.38,121.83 669.74,121.30 667.63,119.54 665.52,117.60" fill="#c4d52e"/>
<polygon points="668.24,114.01 668.86,111.41 669.69,109.75 671.36,108.03 673.18,107.20 674.79,106.57 675.73,106.99 676.25,108.45 676.87,110.11 677.49,112.19 677.18,113.75 676.25,115.10 675.10,116.14 673.96,117.49 672.71,118.01 671.15,117.70 669.90,116.66 668.65,115.52" fill="#ec9c34"/>
<path fill="#ee8a2c" d="M677.7 102.1h1.0v1.0h-1.0zM669.7 104.1h1.0v1.0h-1.0zM672.7 106.1h1.0v1.0h-1.0zM669.7 107.1h1.0v1.0h-1.0zM676.7 107.1h1.0v1.0h-1.0zM670.7 110.1h1.0v1.0h-1.0zM675.7 110.1h1.0v1.0h-1.0zM664.7 111.1h1.0v1.0h-1.0zM671.7 111.1h1.0v1.0h-1.0zM666.7 112.1h1.0v1.0h-1.0zM668.7 112.1h1.0v1.0h-1.0zM669.7 112.1h1.0v1.0h-1.0zM673.7 112.1h1.0v1.0h-1.0zM665.7 113.1h1.0v1.0h-1.0zM678.7 114.1h1.0v1.0h-1.0zM663.7 115.1h1.0v1.0h-1.0zM670.7 115.1h1.0v1.0h-1.0zM675.7 115.1h1.0v1.0h-1.0zM664.7 117.1h1.0v1.0h-1.0zM671.7 117.1h1.0v1.0h-1.0zM667.7 119.1h1.0v1.0h-1.0zM672.7 120.1h1.0v1.0h-1.0zM670.7 122.1h1.0v1.0h-1.0z"/>
<path fill="#e8602a" d="M669.7 105.1h1.0v1.0h-1.0zM677.7 105.1h1.0v1.0h-1.0zM668.7 106.1h1.0v1.0h-1.0zM675.7 106.1h1.0v1.0h-1.0zM673.7 109.1h1.0v1.0h-1.0zM675.7 114.1h1.0v1.0h-1.0zM668.7 115.1h1.0v1.0h-1.0zM667.7 116.1h1.0v1.0h-1.0zM671.7 118.1h1.0v1.0h-1.0zM672.7 118.1h1.0v1.0h-1.0z"/>
<path fill="#d6d42e" d="M673.7 102.1h1.0v1.0h-1.0zM673.7 104.1h1.0v1.0h-1.0zM675.7 104.1h1.0v1.0h-1.0zM667.7 105.1h1.0v1.0h-1.0zM670.7 105.1h1.0v1.0h-1.0zM668.7 107.1h1.0v1.0h-1.0zM670.7 107.1h1.0v1.0h-1.0zM674.7 108.1h1.0v1.0h-1.0zM676.7 112.1h1.0v1.0h-1.0zM670.7 113.1h1.0v1.0h-1.0zM676.7 115.1h1.0v1.0h-1.0zM674.7 120.1h1.0v1.0h-1.0z"/>
<path fill="#a8cc36" d="M666.7 108.1h1.0v1.0h-1.0zM665.7 109.1h1.0v1.0h-1.0zM674.7 111.1h1.0v1.0h-1.0zM674.7 116.1h1.0v1.0h-1.0zM669.7 121.1h1.0v1.0h-1.0z"/>
<path fill="#f0b434" d="M676.7 101.1h1.0v1.0h-1.0zM674.7 105.1h1.0v1.0h-1.0zM666.7 106.1h1.0v1.0h-1.0zM676.7 108.1h1.0v1.0h-1.0zM672.7 110.1h1.0v1.0h-1.0zM674.7 110.1h1.0v1.0h-1.0zM666.7 111.1h1.0v1.0h-1.0zM679.7 112.1h1.0v1.0h-1.0zM663.7 113.1h1.0v1.0h-1.0zM668.7 113.1h1.0v1.0h-1.0zM669.7 113.1h1.0v1.0h-1.0zM677.7 113.1h1.0v1.0h-1.0zM679.7 114.1h1.0v1.0h-1.0zM663.7 116.1h1.0v1.0h-1.0zM673.7 118.1h1.0v1.0h-1.0zM670.7 120.1h1.0v1.0h-1.0z"/>
<path fill="#d0d030" d="M674.7 104.1h1.0v1.0h-1.0zM665.7 110.1h1.0v1.0h-1.0zM671.7 110.1h1.0v1.0h-1.0zM676.7 110.1h1.0v1.0h-1.0zM674.7 112.1h1.0v1.0h-1.0zM672.7 116.1h1.0v1.0h-1.0zM678.7 116.1h1.0v1.0h-1.0zM669.7 118.1h1.0v1.0h-1.0zM675.7 118.1h1.0v1.0h-1.0zM672.7 119.1h1.0v1.0h-1.0zM669.7 120.1h1.0v1.0h-1.0z"/>
<path fill="#8ccc3c" d="M672.7 102.1h1.0v1.0h-1.0zM675.7 103.1h1.0v1.0h-1.0zM670.7 104.1h1.0v1.0h-1.0zM677.7 106.1h1.0v1.0h-1.0zM666.7 107.1h1.0v1.0h-1.0zM675.7 111.1h1.0v1.0h-1.0zM663.7 114.1h1.0v1.0h-1.0zM669.7 115.1h1.0v1.0h-1.0zM671.7 116.1h1.0v1.0h-1.0zM676.7 116.1h1.0v1.0h-1.0zM665.7 117.1h1.0v1.0h-1.0zM666.7 118.1h1.0v1.0h-1.0zM671.7 119.1h1.0v1.0h-1.0z"/>
<polygon points="672.07,94.90 687.07,94.90 687.07,100.10 684.67,100.90 682.87,101.50 680.87,99.70 679.07,99.50 677.27,100.90 675.27,100.90 673.27,99.50 672.07,96.90" fill="#58c450"/>
<polygon points="672.93,95.40 686.13,95.40 686.13,99.98 684.02,100.68 682.43,101.21 680.67,99.62 679.09,99.45 677.51,100.68 675.75,100.68 673.99,99.45 672.93,97.16" fill="#a6d034"/>
<polygon points="675.51,96.90 683.31,96.90 683.31,99.60 682.06,100.02 681.12,100.33 680.08,99.39 679.15,99.29 678.21,100.02 677.17,100.02 676.13,99.29 675.51,97.94" fill="#d2d22e"/>
<path fill="#e0c030" d="M679.1 94.9h1.0v1.0h-1.0zM681.1 95.9h1.0v1.0h-1.0zM683.1 95.9h1.0v1.0h-1.0zM686.1 96.9h1.0v1.0h-1.0zM674.1 98.9h1.0v1.0h-1.0zM677.1 99.9h1.0v1.0h-1.0z"/>
<path fill="#7cc840" d="M676.1 94.9h1.0v1.0h-1.0zM673.1 96.9h1.0v1.0h-1.0zM677.1 96.9h1.0v1.0h-1.0zM680.1 97.9h1.0v1.0h-1.0zM685.1 98.9h1.0v1.0h-1.0z"/>
<path fill="#c8d42c" d="M674.1 94.9h1.0v1.0h-1.0zM680.1 94.9h1.0v1.0h-1.0zM679.1 96.9h1.0v1.0h-1.0zM681.1 96.9h1.0v1.0h-1.0zM685.1 96.9h1.0v1.0h-1.0zM677.1 97.9h1.0v1.0h-1.0z"/>
<path fill="#ee9a30" d="M677.1 95.9h1.0v1.0h-1.0zM682.1 96.9h1.0v1.0h-1.0zM673.1 98.9h1.0v1.0h-1.0zM675.1 98.9h1.0v1.0h-1.0zM678.1 98.9h1.0v1.0h-1.0zM685.1 99.9h1.0v1.0h-1.0z"/>
<rect x="375.60" y="97.80" width="1.40" height="7.30" fill="#f4f4f4"/>
<text transform="translate(17.50,69.90) rotate(-90)" font-size="10.50" fill="#1b1b1b" stroke="#1b1b1b" stroke-width="0.3">Intensity</text>
<text transform="translate(18.20,126.20) rotate(-90)" font-size="10.70" fill="#1b1b1b" stroke="#1b1b1b" stroke-width="0.3">Anisotropy</text>
<text transform="translate(370.10,69.90) rotate(-90)" font-size="10.50" fill="#1b1b1b" stroke="#1b1b1b" stroke-width="0.3">Intensity</text>
<text transform="translate(370.80,126.20) rotate(-90)" font-size="10.70" fill="#1b1b1b" stroke="#1b1b1b" stroke-width="0.3">Anisotropy</text>
<line x1="38.30" y1="168.30" x2="116.40" y2="168.30" stroke="#222" stroke-width="1.3"/>
<line x1="40.40" y1="168.30" x2="40.40" y2="244.30" stroke="#222" stroke-width="1.3"/>
<line x1="39.80" y1="243.70" x2="116.40" y2="243.70" stroke="#222" stroke-width="1.3"/>
<line x1="40.40" y1="243.70" x2="40.40" y2="246.10" stroke="#222" stroke-width="1.2"/>
<line x1="59.40" y1="243.70" x2="59.40" y2="246.10" stroke="#222" stroke-width="1.2"/>
<line x1="78.40" y1="243.70" x2="78.40" y2="246.10" stroke="#222" stroke-width="1.2"/>
<line x1="97.40" y1="243.70" x2="97.40" y2="246.10" stroke="#222" stroke-width="1.2"/>
<line x1="116.40" y1="243.70" x2="116.40" y2="246.10" stroke="#222" stroke-width="1.2"/>
<line x1="38.20" y1="168.30" x2="40.40" y2="168.30" stroke="#222" stroke-width="1.2"/>
<text x="20.66" y="172.70" font-size="10.70" fill="#222" stroke="#222" stroke-width="0.3">2.7</text>
<line x1="38.20" y1="183.38" x2="40.40" y2="183.38" stroke="#222" stroke-width="1.2"/>
<text x="20.60" y="187.78" font-size="10.70" fill="#222" stroke="#222" stroke-width="0.3">2.3</text>
<line x1="38.20" y1="198.46" x2="40.40" y2="198.46" stroke="#222" stroke-width="1.2"/>
<text x="20.63" y="202.86" font-size="10.70" fill="#222" stroke="#222" stroke-width="0.3">1.9</text>
<line x1="38.20" y1="213.54" x2="40.40" y2="213.54" stroke="#222" stroke-width="1.2"/>
<text x="20.57" y="217.94" font-size="10.70" fill="#222" stroke="#222" stroke-width="0.3">1.5</text>
<line x1="38.20" y1="228.62" x2="40.40" y2="228.62" stroke="#222" stroke-width="1.2"/>
<text x="20.65" y="233.02" font-size="10.70" fill="#222" stroke="#222" stroke-width="0.3">1.1</text>
<line x1="38.20" y1="243.70" x2="40.40" y2="243.70" stroke="#222" stroke-width="1.2"/>
<text x="20.66" y="248.10" font-size="10.70" fill="#222" stroke="#222" stroke-width="0.3">0.7</text>
<line x1="116.40" y1="167.70" x2="116.40" y2="244.30" stroke="#ee1c25" stroke-width="1.2"/>
<line x1="116.40" y1="168.30" x2="118.70" y2="168.30" stroke="#ee1c25" stroke-width="1.2"/>
<text x="123.17" y="172.20" font-size="10.90" fill="#ee1c25" stroke="#ee1c25" stroke-width="0.3">0.24</text>
<line x1="116.40" y1="187.15" x2="118.70" y2="187.15" stroke="#ee1c25" stroke-width="1.2"/>
<text x="123.17" y="191.05" font-size="10.90" fill="#ee1c25" stroke="#ee1c25" stroke-width="0.3">0.22</text>
<line x1="116.40" y1="206.00" x2="118.70" y2="206.00" stroke="#ee1c25" stroke-width="1.2"/>
<text x="123.17" y="209.90" font-size="10.90" fill="#ee1c25" stroke="#ee1c25" stroke-width="0.3">0.20</text>
<line x1="116.40" y1="224.85" x2="118.70" y2="224.85" stroke="#ee1c25" stroke-width="1.2"/>
<text x="123.17" y="228.75" font-size="10.90" fill="#ee1c25" stroke="#ee1c25" stroke-width="0.3">0.18</text>
<line x1="116.40" y1="243.70" x2="118.70" y2="243.70" stroke="#ee1c25" stroke-width="1.2"/>
<text x="123.17" y="247.60" font-size="10.90" fill="#ee1c25" stroke="#ee1c25" stroke-width="0.3">0.16</text>
<text x="47.73" y="164.40" font-size="10.56" fill="#222" stroke="#222" stroke-width="0.3">EGFP trimer</text>
<path d="M40.90,222.46 L41.40,222.35 L41.90,221.72 L42.40,221.54 L42.90,221.13 L43.40,220.08 L43.90,219.59 L44.40,220.07 L44.89,219.01 L45.39,218.57 L45.89,218.99 L46.39,218.00 L46.89,218.00 L47.39,217.19 L47.89,216.97 L48.39,216.04 L48.89,216.17 L49.39,216.04 L49.89,215.27 L50.39,215.12 L50.89,214.66 L51.39,213.61 L51.89,214.00 L52.38,213.44 L52.88,212.75 L53.38,212.09 L53.88,212.64 L54.38,211.84 L54.88,211.76 L55.38,211.57 L55.88,211.04 L56.38,210.92 L56.88,209.99 L57.38,210.09 L57.88,209.36 L58.38,209.56 L58.88,209.16 L59.38,207.96 L59.87,207.67 L60.37,207.43 L60.87,207.93 L61.37,207.02 L61.87,206.91 L62.37,206.23 L62.87,206.15 L63.37,205.70 L63.87,205.35 L64.37,205.30 L64.87,204.99 L65.37,205.04 L65.87,204.49 L66.37,204.46 L66.87,204.09 L67.36,203.94 L67.86,203.30 L68.36,202.45 L68.86,202.93 L69.36,202.76 L69.86,202.41 L70.36,201.76 L70.86,201.64 L71.36,200.81 L71.86,201.22 L72.36,200.66 L72.86,200.08 L73.36,199.57 L73.86,200.17 L74.36,200.06 L74.85,198.80 L75.35,199.33 L75.85,198.64 L76.35,198.10 L76.85,198.01 L77.35,198.28 L77.85,198.14 L78.35,196.98 L78.85,197.37 L79.35,196.50 L79.85,197.00 L80.35,196.33 L80.85,196.70 L81.35,196.57 L81.85,195.82 L82.34,196.13 L82.84,195.14 L83.34,194.66 L83.84,195.01 L84.34,194.16 L84.84,194.12 L85.34,194.13 L85.84,194.13 L86.34,193.41 L86.84,193.07 L87.34,193.77 L87.84,192.94 L88.34,193.44 L88.84,193.17 L89.34,192.39 L89.83,192.27 L90.33,192.14 L90.83,192.07 L91.33,191.82 L91.83,191.58 L92.33,191.45 L92.83,191.60 L93.33,190.93 L93.83,190.66 L94.33,190.78 L94.83,190.06 L95.33,189.94 L95.83,190.50 L96.33,189.81 L96.83,189.66 L97.32,188.89 L97.82,189.15 L98.32,189.15 L98.82,188.36 L99.32,188.84 L99.82,188.68 L100.32,187.88 L100.82,188.33 L101.32,187.98 L101.82,188.05 L102.32,187.52 L102.82,187.74 L103.32,187.61 L103.82,186.66 L104.32,186.54 L104.81,187.05 L105.31,187.21 L105.81,186.26 L106.31,186.33 L106.81,186.33 L107.31,185.87 L107.81,185.76 L108.31,185.56 L108.81,185.47 L109.31,185.56 L109.81,185.09 L110.31,185.03 L110.81,185.31 L111.31,184.35 L111.81,184.80 L112.30,184.84 L112.80,184.23 L113.30,183.99 L113.80,184.49 L114.30,183.73 L114.80,183.54 L115.30,183.67 L115.80,183.83" stroke="#ff2b12" stroke-width="1.4" fill="none"/>
<path d="M40.90,178.02 L41.84,179.44 L42.77,180.83 L43.71,182.19 L44.65,183.53 L45.59,184.84 L46.52,186.13 L47.46,187.39 L48.40,188.63 L49.34,189.85 L50.27,191.04 L51.21,192.22 L52.15,193.37 L53.09,194.50 L54.02,195.61 L54.96,196.70 L55.90,197.77 L56.84,198.81 L57.77,199.84 L58.71,200.86 L59.65,201.85 L60.59,202.82 L61.52,203.78 L62.46,204.71 L63.40,205.63 L64.34,206.54 L65.28,207.43 L66.21,208.30 L67.15,209.15 L68.09,209.99 L69.03,210.81 L69.96,211.62 L70.90,212.41 L71.84,213.19 L72.78,213.95 L73.71,214.70 L74.65,215.44 L75.59,216.16 L76.53,216.87 L77.46,217.57 L78.40,218.25 L79.34,218.92 L80.28,219.58 L81.21,220.22 L82.15,220.86 L83.09,221.48 L84.03,222.09 L84.96,222.69 L85.90,223.28 L86.84,223.86 L87.78,224.42 L88.71,224.98 L89.65,225.53 L90.59,226.06 L91.53,226.59 L92.46,227.10 L93.40,227.61 L94.34,228.11 L95.28,228.60 L96.21,229.08 L97.15,229.55 L98.09,230.01 L99.03,230.46 L99.96,230.90 L100.90,231.34 L101.84,231.77 L102.78,232.19 L103.71,232.60 L104.65,233.01 L105.59,233.41 L106.53,233.80 L107.46,234.18 L108.40,234.56 L109.34,234.92 L110.28,235.29 L111.21,235.64 L112.15,235.99 L113.09,236.33 L114.03,236.67 L114.96,237.00 L115.90,237.32" stroke="#1e1e1e" stroke-width="1.3" fill="none"/>
<path d="M76.60,221.20 L76.60,230.90 L58.60,230.90" stroke="#262626" stroke-width="1.3" fill="none"/>
<polygon points="51.60,230.90 60.60,227.10 58.60,230.90 60.60,234.70" fill="#262626"/>
<path d="M86.50,197.40 L86.50,207.00 L104.30,207.00" stroke="#ee1c25" stroke-width="1.3" fill="none"/>
<polygon points="111.30,207.00 102.30,203.20 104.30,207.00 102.30,210.80" fill="#ee1c25"/>
<line x1="38.30" y1="266.60" x2="116.40" y2="266.60" stroke="#222" stroke-width="1.3"/>
<line x1="40.40" y1="266.60" x2="40.40" y2="343.20" stroke="#222" stroke-width="1.3"/>
<line x1="39.80" y1="342.60" x2="116.40" y2="342.60" stroke="#222" stroke-width="1.3"/>
<line x1="40.40" y1="342.60" x2="40.40" y2="345.00" stroke="#222" stroke-width="1.2"/>
<line x1="59.40" y1="342.60" x2="59.40" y2="345.00" stroke="#222" stroke-width="1.2"/>
<line x1="78.40" y1="342.60" x2="78.40" y2="345.00" stroke="#222" stroke-width="1.2"/>
<line x1="97.40" y1="342.60" x2="97.40" y2="345.00" stroke="#222" stroke-width="1.2"/>
<line x1="116.40" y1="342.60" x2="116.40" y2="345.00" stroke="#222" stroke-width="1.2"/>
<line x1="38.20" y1="266.60" x2="40.40" y2="266.60" stroke="#222" stroke-width="1.2"/>
<text x="29.50" y="271.00" font-size="10.70" fill="#222" stroke="#222" stroke-width="0.3">5</text>
<line x1="38.20" y1="280.80" x2="40.40" y2="280.80" stroke="#222" stroke-width="1.2"/>
<text x="20.57" y="285.20" font-size="10.70" fill="#222" stroke="#222" stroke-width="0.3">4.5</text>
<line x1="38.20" y1="295.00" x2="40.40" y2="295.00" stroke="#222" stroke-width="1.2"/>
<text x="29.36" y="299.40" font-size="10.70" fill="#222" stroke="#222" stroke-width="0.3">4</text>
<line x1="38.20" y1="309.20" x2="40.40" y2="309.20" stroke="#222" stroke-width="1.2"/>
<text x="20.57" y="313.60" font-size="10.70" fill="#222" stroke="#222" stroke-width="0.3">3.5</text>
<line x1="38.20" y1="323.40" x2="40.40" y2="323.40" stroke="#222" stroke-width="1.2"/>
<text x="29.52" y="327.80" font-size="10.70" fill="#222" stroke="#222" stroke-width="0.3">3</text>
<line x1="38.20" y1="337.60" x2="40.40" y2="337.60" stroke="#222" stroke-width="1.2"/>
<text x="20.57" y="342.00" font-size="10.70" fill="#222" stroke="#222" stroke-width="0.3">2.5</text>
<line x1="116.40" y1="266.00" x2="116.40" y2="343.20" stroke="#ee1c25" stroke-width="1.2"/>
<line x1="116.40" y1="266.60" x2="118.70" y2="266.60" stroke="#ee1c25" stroke-width="1.2"/>
<text x="123.17" y="270.50" font-size="10.90" fill="#ee1c25" stroke="#ee1c25" stroke-width="0.3">0.24</text>
<line x1="116.40" y1="285.60" x2="118.70" y2="285.60" stroke="#ee1c25" stroke-width="1.2"/>
<text x="123.17" y="289.50" font-size="10.90" fill="#ee1c25" stroke="#ee1c25" stroke-width="0.3">0.22</text>
<line x1="116.40" y1="304.60" x2="118.70" y2="304.60" stroke="#ee1c25" stroke-width="1.2"/>
<text x="123.17" y="308.50" font-size="10.90" fill="#ee1c25" stroke="#ee1c25" stroke-width="0.3">0.20</text>
<line x1="116.40" y1="323.60" x2="118.70" y2="323.60" stroke="#ee1c25" stroke-width="1.2"/>
<text x="123.17" y="327.50" font-size="10.90" fill="#ee1c25" stroke="#ee1c25" stroke-width="0.3">0.18</text>
<line x1="116.40" y1="342.60" x2="118.70" y2="342.60" stroke="#ee1c25" stroke-width="1.2"/>
<text x="123.17" y="346.50" font-size="10.90" fill="#ee1c25" stroke="#ee1c25" stroke-width="0.3">0.16</text>
<text x="40.64" y="262.60" font-size="10.53" fill="#222" stroke="#222" stroke-width="0.3">EGFP monomer</text>
<path d="M40.90,281.98 L41.40,282.15 L41.90,282.24 L42.40,282.45 L42.90,282.24 L43.40,282.49 L43.90,281.44 L44.40,282.00 L44.89,282.60 L45.39,282.28 L45.89,282.61 L46.39,281.69 L46.89,282.15 L47.39,281.91 L47.89,282.29 L48.39,282.36 L48.89,281.71 L49.39,281.99 L49.89,282.09 L50.39,282.88 L50.89,282.73 L51.39,282.03 L51.89,282.82 L52.38,282.05 L52.88,282.65 L53.38,282.09 L53.88,281.97 L54.38,283.04 L54.88,282.27 L55.38,282.30 L55.88,283.24 L56.38,283.13 L56.88,282.46 L57.38,283.29 L57.88,282.80 L58.38,282.99 L58.88,282.45 L59.38,283.35 L59.87,283.07 L60.37,283.42 L60.87,283.36 L61.37,282.66 L61.87,282.75 L62.37,282.54 L62.87,282.53 L63.37,282.45 L63.87,282.75 L64.37,283.13 L64.87,282.43 L65.37,283.25 L65.87,282.86 L66.37,282.84 L66.87,283.47 L67.36,283.07 L67.86,282.89 L68.36,283.10 L68.86,283.38 L69.36,282.61 L69.86,283.72 L70.36,282.59 L70.86,283.47 L71.36,283.60 L71.86,282.61 L72.36,283.54 L72.86,283.04 L73.36,283.31 L73.86,282.63 L74.36,282.68 L74.85,282.84 L75.35,283.78 L75.85,282.87 L76.35,283.54 L76.85,283.75 L77.35,283.77 L77.85,283.05 L78.35,283.07 L78.85,283.27 L79.35,283.57 L79.85,282.77 L80.35,283.53 L80.85,283.59 L81.35,283.66 L81.85,282.67 L82.34,283.75 L82.84,282.72 L83.34,283.02 L83.84,283.33 L84.34,283.70 L84.84,282.99 L85.34,283.69 L85.84,283.22 L86.34,282.93 L86.84,282.93 L87.34,282.75 L87.84,282.62 L88.34,282.69 L88.84,283.33 L89.34,283.68 L89.83,282.67 L90.33,282.52 L90.83,283.63 L91.33,283.07 L91.83,282.90 L92.33,282.68 L92.83,283.09 L93.33,283.36 L93.83,282.89 L94.33,282.83 L94.83,282.38 L95.33,283.39 L95.83,282.31 L96.33,282.84 L96.83,283.24 L97.32,282.37 L97.82,283.07 L98.32,283.30 L98.82,282.90 L99.32,283.07 L99.82,282.22 L100.32,282.59 L100.82,282.23 L101.32,283.01 L101.82,282.29 L102.32,282.42 L102.82,283.01 L103.32,282.77 L103.82,282.86 L104.32,282.17 L104.81,282.15 L105.31,282.38 L105.81,282.01 L106.31,281.73 L106.81,281.80 L107.31,281.43 L107.81,281.64 L108.31,282.31 L108.81,282.21 L109.31,281.75 L109.81,281.53 L110.31,281.27 L110.81,280.91 L111.31,281.06 L111.81,281.61 L112.30,281.65 L112.80,280.97 L113.30,281.42 L113.80,281.34 L114.30,281.18 L114.80,281.07 L115.30,281.12 L115.80,280.58" stroke="#ff2b12" stroke-width="1.4" fill="none"/>
<path d="M40.90,269.51 L41.84,270.93 L42.78,272.34 L43.72,273.73 L44.66,275.10 L45.59,276.45 L46.53,277.79 L47.47,279.10 L48.41,280.40 L49.35,281.69 L50.29,282.95 L51.23,284.20 L52.16,285.43 L53.10,286.65 L54.04,287.85 L54.98,289.03 L55.92,290.20 L56.86,291.35 L57.80,292.49 L58.74,293.61 L59.67,294.72 L60.61,295.81 L61.55,296.89 L62.49,297.95 L63.43,299.00 L64.37,300.04 L65.31,301.06 L66.25,302.07 L67.19,303.06 L68.12,304.05 L69.06,305.01 L70.00,305.97 L70.94,306.91 L71.88,307.85 L72.82,308.76 L73.76,309.67 L74.69,310.57 L75.63,311.45 L76.57,312.32 L77.51,313.18 L78.45,314.03 L79.39,314.86 L80.33,315.69 L81.27,316.51 L82.20,317.31 L83.14,318.10 L84.08,318.89 L85.02,319.66 L85.96,320.42 L86.90,321.17 L87.84,321.92 L88.78,322.65 L89.72,323.37 L90.65,324.09 L91.59,324.79 L92.53,325.48 L93.47,326.17 L94.41,326.85 L95.35,327.51 L96.29,328.17 L97.22,328.82 L98.16,329.46 L99.10,330.09 L100.04,330.72 L100.98,331.34 L101.92,331.94 L102.86,332.54 L103.80,333.14 L104.73,333.72 L105.67,334.30 L106.61,334.86 L107.55,335.43 L108.49,335.98 L109.43,336.53 L110.37,337.06 L111.31,337.60 L112.25,338.12 L113.18,338.64 L114.12,339.15 L115.06,339.66 L116.00,340.15" stroke="#111" stroke-width="1.6" fill="none"/>
<path d="M76.10,315.30 L76.10,325.20 L58.40,325.20" stroke="#262626" stroke-width="1.3" fill="none"/>
<polygon points="51.40,325.20 60.40,321.40 58.40,325.20 60.40,329.00" fill="#262626"/>
<path d="M86.20,286.60 L86.20,296.00 L104.50,296.00" stroke="#ee1c25" stroke-width="1.3" fill="none"/>
<polygon points="111.50,296.00 102.50,292.20 104.50,296.00 102.50,299.80" fill="#ee1c25"/>
<text x="40.40" y="356.40" font-size="10.30" fill="#222" text-anchor="middle" stroke="#222" stroke-width="0.3">0</text>
<text x="59.40" y="356.40" font-size="10.30" fill="#222" text-anchor="middle" stroke="#222" stroke-width="0.3">50</text>
<text x="78.40" y="356.40" font-size="10.30" fill="#222" text-anchor="middle" stroke="#222" stroke-width="0.3">100</text>
<text x="97.40" y="356.40" font-size="10.30" fill="#222" text-anchor="middle" stroke="#222" stroke-width="0.3">150</text>
<text x="116.40" y="356.40" font-size="10.30" fill="#222" text-anchor="middle" stroke="#222" stroke-width="0.3">200</text>
<text x="65.44" y="368.00" font-size="10.72" fill="#222" stroke="#222" stroke-width="0.3">time (s)</text>
<text transform="translate(15.50,206.50) rotate(-90)" font-size="10.7" fill="#222" text-anchor="middle" stroke="#222" stroke-width="0.3">Intensity (kHz·pxl<tspan font-size="6.5" dy="-4">-1</tspan><tspan dy="4">)</tspan></text>
<text transform="translate(15.50,304.70) rotate(-90)" font-size="10.7" fill="#222" text-anchor="middle" stroke="#222" stroke-width="0.3">Intensity (kHz·pxl<tspan font-size="6.5" dy="-4">-1</tspan><tspan dy="4">)</tspan></text>
<text transform="translate(148.30,213.20) rotate(90)" font-size="10.6" fill="#ee1c25" text-anchor="middle" stroke="#ee1c25" stroke-width="0.3">Anisotropy</text>
<text transform="translate(147.60,311.50) rotate(90)" font-size="10.6" fill="#ee1c25" text-anchor="middle" stroke="#ee1c25" stroke-width="0.3">Anisotropy</text>
<line x1="212.60" y1="170.60" x2="212.60" y2="323.00" stroke="#222" stroke-width="1.3"/>
<line x1="212.00" y1="322.40" x2="366.20" y2="322.40" stroke="#222" stroke-width="1.3"/>
<line x1="210.00" y1="171.20" x2="212.60" y2="171.20" stroke="#222" stroke-width="1.2"/>
<text x="182.32" y="174.80" font-size="13.10" fill="#222" stroke="#222" stroke-width="0.3">0.30</text>
<line x1="210.00" y1="209.00" x2="212.60" y2="209.00" stroke="#222" stroke-width="1.2"/>
<text x="182.35" y="212.60" font-size="13.10" fill="#222" stroke="#222" stroke-width="0.3">0.25</text>
<line x1="210.00" y1="246.80" x2="212.60" y2="246.80" stroke="#222" stroke-width="1.2"/>
<text x="182.32" y="250.40" font-size="13.10" fill="#222" stroke="#222" stroke-width="0.3">0.20</text>
<line x1="210.00" y1="284.60" x2="212.60" y2="284.60" stroke="#222" stroke-width="1.2"/>
<text x="182.35" y="288.20" font-size="13.10" fill="#222" stroke="#222" stroke-width="0.3">0.15</text>
<line x1="210.00" y1="322.40" x2="212.60" y2="322.40" stroke="#222" stroke-width="1.2"/>
<text x="182.32" y="326.00" font-size="13.10" fill="#222" stroke="#222" stroke-width="0.3">0.10</text>
<line x1="212.70" y1="322.40" x2="212.70" y2="325.00" stroke="#222" stroke-width="1.2"/>
<text x="212.70" y="339.80" font-size="12.60" fill="#222" text-anchor="middle" stroke="#222" stroke-width="0.3">0</text>
<line x1="251.00" y1="322.40" x2="251.00" y2="325.00" stroke="#222" stroke-width="1.2"/>
<text x="251.00" y="339.80" font-size="12.60" fill="#222" text-anchor="middle" stroke="#222" stroke-width="0.3">0.2</text>
<line x1="289.30" y1="322.40" x2="289.30" y2="325.00" stroke="#222" stroke-width="1.2"/>
<text x="289.30" y="339.80" font-size="12.60" fill="#222" text-anchor="middle" stroke="#222" stroke-width="0.3">0.4</text>
<line x1="327.60" y1="322.40" x2="327.60" y2="325.00" stroke="#222" stroke-width="1.2"/>
<text x="327.60" y="339.80" font-size="12.60" fill="#222" text-anchor="middle" stroke="#222" stroke-width="0.3">0.6</text>
<line x1="365.90" y1="322.40" x2="365.90" y2="325.00" stroke="#222" stroke-width="1.2"/>
<text x="365.90" y="339.80" font-size="12.60" fill="#222" text-anchor="middle" stroke="#222" stroke-width="0.3">0.8</text>
<text x="228.00" y="166.80" font-size="13.17" fill="#222" stroke="#222" stroke-width="0.3">Single cell traces</text>
<text x="201.0" y="355.3" font-size="12.6" fill="#222" stroke="#222" stroke-width="0.3">Extend photobleaching (1-I(t)/I<tspan font-size="9" dy="3.6">0</tspan><tspan dy="-3.6">)</tspan></text>
<text transform="translate(180.0,234.6) rotate(-90)" font-size="13.4" fill="#222" text-anchor="middle" stroke="#222" stroke-width="0.3">Anisotropy</text>
<line x1="300.90" y1="297.60" x2="309.90" y2="297.60" stroke="#111" stroke-width="1.5"/>
<line x1="300.90" y1="311.40" x2="309.90" y2="311.40" stroke="#1a3cf2" stroke-width="1.5"/>
<text x="313.20" y="299.90" font-size="13.57" fill="#222" stroke="#222" stroke-width="0.3">monomer</text>
<text x="313.90" y="315.30" font-size="13.16" fill="#222" stroke="#222" stroke-width="0.3">trimer</text>
<path d="M212.6,194.5l1.4-0.8 1.5-0.6 1.4 0.1 1.4-0.1 1.5 0.4 1.4 0.7 1.5-0.1 1.4 0.2 1.4 0.4 1.5 0.5 1.4 0.1 1.4-0.6 1.5-0.3 1.4 0.3 1.4-0.8 1.5 0.4 1.4 0 1.5-0.3 1.4 0.9 1.4 0.8 1.5-0.9 1.4 0.4 1.4-0.7 1.5 0.2 1.4-0.2 1.4 0.1 1.5 1.3 1.4-0.7 1.5 0.4 1.4 0.2 1.4 0 1.5-0.6 1.4-0.2 1.4 0 1.5 1.2 1.4-0.1 1.4 0.9 1.5-0.7 1.4-0.5 1.5 0.4 1.4-0.2 1.4-0.1 1.5-0.3 1.4 0.7 1.4 0.4 1.5 0.1 1.4-1.1 1.4 0 1.5 0.5 1.4 0.1 1.4 0.1 1.5 0.1 1.4 0.2 1.5 0.2 1.4 0.5 1.4-0.1" stroke="#050505" stroke-width="1.8" fill="none" stroke-linejoin="round"/>
<path d="M212.6,195.2l1.4 0.3 1.5 0.4 1.4 0.3 1.4 0 1.5-0.1 1.4 0.4 1.5-0.2 1.4 0 1.4 0.5 1.5 0.2 1.4 0.2 1.4 0.1 1.5-0.8 1.4 1.2 1.4-0.5 1.5 0.1 1.4 0 1.5-0.3 1.4-0.5 1.4 0.3 1.5 0.3 1.4 0.3 1.4-0.1 1.5-0.4 1.4 0.4 1.4 0.6 1.5 0.2 1.4 0.1 1.5 0.2 1.4-1.1 1.4 0.1 1.5 0.3 1.4-0.7 1.4 0.8 1.5-0.3 1.4-0.1 1.4 1 1.5 0.4 1.4-0.1 1.5-0.8 1.4-0.5 1.4 1.1 1.5-0.7 1.4 0.5 1.4 0.2 1.5 0.2 1.4 0 1.4 0.7 1.5-0.1 1.4 0.1 1.4-0.7 1.5-1 1.4-0.6 1.5 1.3 1.4 1 1.4-0.1 1.5 0.2 1.4-1.2 1.4 0.2 1.5 0.7 1.4-0.5" stroke="#050505" stroke-width="1.8" fill="none" stroke-linejoin="round"/>
<path d="M212.6,198.1l1.4 1 1.5-0.2 1.4-0.1 1.4-0.1 1.5 0 1.4 0.2 1.5-0.1 1.4 0.3 1.4 0.3 1.5-0.9 1.4 0.2 1.4 0.1 1.5 1 1.4-0.2 1.4-0.5 1.5 0.8 1.4-0.7 1.5 0.4 1.4-0.1 1.4 0.2 1.5 0 1.4-0.4 1.4 0.6 1.5-0.6 1.4 0.8 1.4 0.5 1.5-0.6 1.4 0.7 1.5-0.1 1.4-0.5 1.4-0.3 1.5 1.3 1.4-0.5 1.4-0.8 1.5 0.1 1.4 0.7 1.4 0.5 1.5 0 1.4 0.5 1.5-0.2 1.4-0.1 1.4 0 1.5-0.5 1.4 0.5 1.4 0.7 1.5-0.8 1.4 0.7 1.4 0 1.5 0 1.4 0.1 1.4 0.3 1.5-0.1 1.4-1.1 1.5 0.9 1.4 0.1 1.4-0.4 1.5 0 1.4 0.1 1.4 0 1.5 1.3 1.4 0 1.4-0.4 1.5-0.2 1.4-0.5 1.5 0.3 1.4 0.5 1.4 0.1 1.5 0.2 1.4-0.1" stroke="#050505" stroke-width="1.8" fill="none" stroke-linejoin="round"/>
<path d="M212.6,200.4l1.4 0.4 1.5 0.4 1.4 0.2 1.4-0.8 1.5-0.3 1.4 0.1 1.5 0.1 1.4 0.1 1.4 0.5 1.5-0.1 1.4 0.8 1.4-0.1 1.5 0.3 1.4-0.6 1.4 0.5 1.5 0 1.4-0.2 1.5-0.5 1.4 0.9 1.4 0.4 1.5-0.6 1.4 0.7 1.4-0.4 1.5 0.4 1.4-0.1 1.4 0.8 1.5-0.8 1.4 0.3 1.5 0.3 1.4-1.1 1.4 0.2 1.5-1.1 1.4 1 1.4 0.8 1.5 0.1 1.4-0.6 1.4 0.5 1.5 0.1 1.4 0 1.5 0.7 1.4-0.2 1.4 0.3 1.5 0.5 1.4-0.8 1.4-0.1 1.5 0.3 1.4 0.5 1.4 0.8 1.5-0.8 1.4 0 1.4 0.8 1.5-0.5 1.4 0.6 1.5-0.5 1.4-0.1 1.4-0.2 1.5 0.1 1.4 0.1 1.4 0.7 1.5-0.1 1.4 0.1 1.4-0.1 1.5-0.2 1.4-0.2 1.5-0.4 1.4 1.7 1.4-0.6 1.5 0 1.4-1 1.4 0.3 1.5 1.3 1.4-0.4 1.4 0.3 1.5-0.6 1.4 0.8 1.5-0.1 1.4 0" stroke="#050505" stroke-width="1.8" fill="none" stroke-linejoin="round"/>
<path d="M212.6,203.0l1.4 0.3 1.5 0.7 1.4-0.8 1.4-0.4 1.5 0.3 1.4 0.6 1.5-0.3 1.4-0.2 1.4 0.3 1.5 0 1.4-0.6 1.4 1 1.5 0.1 1.4 0.7 1.4-0.2 1.5-0.1 1.4 0.2 1.5-0.1 1.4-1.1 1.4 0.6 1.5 0.1 1.4-0.9 1.4 0.7 1.5 1.1 1.4-0.6 1.4 0.5 1.5-1 1.4 1 1.5 0.1 1.4 0.5 1.4-0.5 1.5 0.3 1.4-0.3 1.4 0.1 1.5 0.2 1.4-0.6 1.4-0.2 1.5 0.4 1.4 0.6 1.5 0.3 1.4-0.4 1.4-1.1 1.5 0.9 1.4 0.5 1.4 0.2 1.5 0.3 1.4 0.1 1.4-0.3 1.5-0.8 1.4 0.4 1.4 0.4 1.5 0.7 1.4-0.6 1.5 0 1.4 0.6 1.4 0.1 1.5-0.4 1.4-0.5 1.4 0 1.5 0.2 1.4 0.4 1.4-0.2 1.5 0.2 1.4-0.9 1.5 1.2 1.4 0.1 1.4-0.6 1.5 0.5 1.4-0.6 1.4 0.5 1.5 0.1 1.4 0.4 1.4 0.6 1.5 0 1.4-1.4 1.5 0.3 1.4 0.1 1.4 0 1.5 0.2 1.4-0.1 1.4 0.5 1.5 0.3" stroke="#050505" stroke-width="1.8" fill="none" stroke-linejoin="round"/>
<path d="M212.6,204.6l1.4 0.5 1.5 0.7 1.4-0.3 1.4 0.1 1.5-0.5 1.4 0.5 1.5 0.4 1.4-0.2 1.4-0.9 1.5 0.4 1.4 0.1 1.4 0.2 1.5-0.1 1.4-0.3 1.4-0.2 1.5 1.3 1.4-0.9 1.5 0.3 1.4 0.3 1.4-1.1 1.5 0.8 1.4-0.6 1.4 0.2 1.5 1.1 1.4-0.4 1.4-0.1 1.5 0.3 1.4 1.2 1.5-0.5 1.4-0.2 1.4 0.4 1.5-1.2 1.4 0.6 1.4 0.3 1.5 0 1.4 0.3 1.4 0.1 1.5-0.3 1.4-0.2 1.5 0.4 1.4-0.1 1.4 0.6 1.5-0.6 1.4 0.4 1.4-0.3 1.5 0.5 1.4 0 1.4-0.3 1.5 0.6 1.4-1.5 1.4 0.7 1.5 0.3 1.4 0.4 1.5-0.9 1.4-0.2 1.4 0.5 1.5 0.9 1.4 0 1.4-0.5 1.5 0.4 1.4 0.4 1.4 0.2 1.5-0.1 1.4-0.3 1.5 0.2 1.4-0.2 1.4-1.3 1.5 0 1.4 1.3 1.4-0.1 1.5 0.1 1.4 0.2 1.4-0.5 1.5 0.5 1.4 0.2 1.5 0.1 1.4 0 1.4-0.6 1.5 0 1.4 1 1.4 0 1.5 0.2 1.4-0.7 1.4 0.1 1.5-0.2 1.4 0.3 1.5 1 1.4-0.7" stroke="#050505" stroke-width="1.8" fill="none" stroke-linejoin="round"/>
<path d="M212.6,206.6l1.4-0.1 1.5 0.8 1.4-0.3 1.4 0.2 1.5 0.1 1.4-0.4 1.5-0.1 1.4 0.6 1.4 0.5 1.5 0.6 1.4-0.6 1.4-1 1.5 0.2 1.4 1.1 1.4-0.2 1.5-0.7 1.4-0.7 1.5 0 1.4 0.3 1.4 0.3 1.5 0.6 1.4 0 1.4 0 1.5 0.2 1.4-0.3 1.4 0.1 1.5-0.2 1.4-0.6 1.5 0.1 1.4 0.3 1.4 0.4 1.5 0.7 1.4-0.4 1.4-0.4 1.5 0.6 1.4-0.8 1.4 0.5 1.5-0.1 1.4 0.2 1.5 0.6 1.4-1.3 1.4 1 1.5-0.5 1.4 0.5 1.4-0.2 1.5 0.4 1.4 0 1.4-0.5 1.5-0.7 1.4 1.1 1.4 0 1.5-0.4 1.4 0.6 1.5-0.4 1.4 0.6 1.4-0.4 1.5-0.1 1.4-0.3 1.4 0.2 1.5 0.9 1.4-0.6 1.4 0.7 1.5-0.6 1.4-0.5 1.5 0.2 1.4 0.6 1.4-0.5 1.5 0.3 1.4 0.8 1.4-0.2 1.5-0.8 1.4 0.5 1.4 0 1.5 0.3 1.4 0.7 1.5-0.3 1.4-0.4 1.4-0.1 1.5 0.2 1.4 0.9 1.4-1.1 1.5-0.2 1.4-0.1 1.4-0.2 1.5 0.7 1.4 0.4 1.5-0.3 1.4-0.7 1.4 1.4 1.5-0.2 1.4 0.1 1.4-0.4 1.5-0.6" stroke="#050505" stroke-width="1.8" fill="none" stroke-linejoin="round"/>
<path d="M212.6,232.6l1.4 0.5 1.5-0.3 1.4 0.1 1.4 0.6 1.5-0.8 1.4 0.4 1.5-0.4 1.4 0.8 1.4-0.8 1.5 1 1.4-0.8 1.4 1.1 1.5-1.1 1.4 0.5 1.4 0.8 1.5-0.3 1.4-0.4 1.5 0.6 1.4 0 1.4-0.3 1.5 0.1 1.4 1.4 1.4-0.6 1.5-0.6 1.4-0.1 1.4-0.3 1.5 0.7 1.4-1.2 1.5 0.4 1.4 0.4 1.4-0.1 1.5 0 1.4 0.4 1.4 0.6 1.5-0.6 1.4 0.2 1.4 1.1 1.5 0.1 1.4-0.6 1.5-0.1 1.4 0 1.4-0.1 1.5 0.2 1.4-0.6 1.4 0.9 1.5 0.2 1.4-0.2 1.4-0.2 1.5 0 1.4-0.3 1.4 0.8 1.5-0.4 1.4 0.2 1.5 0.8 1.4-0.1 1.4-1 1.5 0.3 1.4 0.7 1.4 1.2 1.5-0.3 1.4-0.1 1.4-0.3 1.5-1.1 1.4 0.3 1.5 0.4 1.4 0.7 1.4 0.5 1.5-0.3 1.4 0.1 1.4-1.5 1.5 1 1.4 0.5 1.4-0.5 1.5 0.3 1.4 0.7 1.5-0.8 1.4 0.5 1.4 0.6 1.5-0.4 1.4-0.2" stroke="#050505" stroke-width="1.8" fill="none" stroke-linejoin="round"/>
<path d="M212.6,232.2l1.4-0.4 1.5-0.2 1.4 0.8 1.4 0.8 1.5 0.5 1.4-0.9 1.5-0.9 1.4-0.2 1.4-0.2 1.5-0.2 1.4 0.7 1.4-0.1 1.5 1.1 1.4-0.6 1.4-0.1 1.5 0.3 1.4 0.2 1.5 0.5 1.4-0.4 1.4-0.7 1.5 0.6 1.4-0.2 1.4 0.5 1.5-0.2 1.4 0.5 1.4-0.4 1.5 0.1 1.4-0.2 1.5 0.4 1.4 0.4 1.4-0.2 1.5-0.7 1.4-0.4 1.4 0.7 1.5-0.2 1.4-0.1 1.4 0.2 1.5 1 1.4-0.5 1.5 0.4 1.4-0.8 1.4 0 1.5 0 1.4 1.5 1.4-0.9 1.5-0.3 1.4 0.8 1.4-0.7 1.5 0.2 1.4 0.2 1.4 0.3 1.5 0.3 1.4-0.2 1.5-1.6 1.4 0.8 1.4 0.3 1.5 0.5 1.4 0.2 1.4 0 1.5 0.2 1.4-0.7 1.4 0.3 1.5-0.4 1.4 0.8 1.5-0.6 1.4 0.2 1.4-0.2 1.5 0.3 1.4 0.5 1.4-0.8 1.5 0.5 1.4 0.1 1.4 0.4 1.5-0.3 1.4 0.1 1.5-0.2 1.4-0.1 1.4 0.5 1.5 0.5 1.4-0.6 1.4-0.4 1.5-0.1 1.4 0.9" stroke="#050505" stroke-width="1.8" fill="none" stroke-linejoin="round"/>
<path d="M212.6,231.6l1.4 0.1 1.5 0.1 1.4 0 1.4 0.3 1.5 0 1.4-0.4 1.5 0.6 1.4 0.7 1.4-0.4 1.5-0.2 1.4 0.9 1.4-0.2 1.5-0.6 1.4 0.1 1.4 0 1.5 0.6 1.4-0.7 1.5-0.6 1.4 0.7 1.4 0.5 1.5 0.4 1.4-0.7 1.4 0.1 1.5 0.5 1.4-0.7 1.4 0 1.5 0.1 1.4 1.1 1.5-0.3 1.4-0.4 1.4 0.7 1.5-0.7 1.4-0.4 1.4 0 1.5 0.9 1.4 0.3 1.4-0.6 1.5-0.2 1.4-0.2 1.5 0 1.4 0.7 1.4 0.4 1.5 0.8 1.4-0.9 1.4-1 1.5 1 1.4 0.4 1.4-0.4 1.5 0 1.4 0.9 1.4 0 1.5 0.2 1.4-1.3 1.5 0.8 1.4-0.4 1.4-0.6 1.5-0.1 1.4 0.2 1.4 0 1.5 1.3 1.4 0.1 1.4 0.2 1.5-0.1 1.4-1.3 1.5 1.6 1.4-0.5 1.4 0.7 1.5-0.9 1.4-0.3 1.4 0.8 1.5-0.9 1.4 0.6 1.4-0.3 1.5 0.4 1.4 0.6 1.5 0.1 1.4 0 1.4-0.3 1.5 0.1 1.4-0.9 1.4 0.9 1.5 0.4 1.4 0.3 1.4 0.2 1.5 0.4 1.4-0.1 1.5-0.8 1.4 0.1 1.4 0.2" stroke="#050505" stroke-width="1.8" fill="none" stroke-linejoin="round"/>
<path d="M212.6,231.4l1.4-0.3 1.5 0 1.4 0 1.4 0.6 1.5 0.1 1.4 0.3 1.5-0.2 1.4 0.3 1.4-0.1 1.5-0.1 1.4 0 1.4 0 1.5 0.1 1.4-0.7 1.4 0.4 1.5 0.5 1.4-0.3 1.5 0.4 1.4 0.2 1.4-0.4 1.5 0.6 1.4 0.9 1.4-1.2 1.5-0.8 1.4 1 1.4 0 1.5-0.6 1.4 0.9 1.5-0.2 1.4 0.1 1.4-0.4 1.5 0.7 1.4-1 1.4 0.1 1.5-0.2 1.4 0.3 1.4 0.9 1.5-0.6 1.4 0.4 1.5-0.5 1.4 0.2 1.4-0.1 1.5-0.1 1.4-0.5 1.4-0.1 1.5 0.8 1.4-0.2 1.4-0.7 1.5 0.2 1.4 0.6 1.4 0 1.5 0.1 1.4-0.6 1.5 0.3 1.4-0.1 1.4-0.8 1.5 1.3 1.4 0.3 1.4 0.5 1.5 0.1 1.4-1.1 1.4-0.1 1.5-0.6 1.4 1.4 1.5 0.1 1.4-1.1 1.4-0.1 1.5 0 1.4 0 1.4 0.4 1.5 0.2 1.4 0 1.4-0.3 1.5 0.3 1.4 0" stroke="#050505" stroke-width="1.8" fill="none" stroke-linejoin="round"/>
<path d="M212.6,230.5l1.4 1 1.5 0.1 1.4-0.5 1.4 0.2 1.5 0 1.4-1 1.5 0.4 1.4 0.5 1.4-0.5 1.5-0.8 1.4 1.4 1.4 0.3 1.5-0.3 1.4 0.3 1.4-1.2 1.5 0.3 1.4 0.5 1.5-0.2 1.4 0.5 1.4 0.1 1.5-0.2 1.4-1.2 1.4 1.7 1.5-0.6 1.4-0.6 1.4 0.1 1.5-0.6 1.4 0.5 1.5 0.3 1.4 0.3 1.4 0.4 1.5-1 1.4 0.9 1.4-0.1 1.5 0.1 1.4 0.2 1.4 0.7 1.5-0.6 1.4-0.4 1.5-0.2 1.4-0.3 1.4 0.3 1.5 0.3 1.4-0.3 1.4-0.2 1.5 0.6 1.4 0.5 1.4-0.1 1.5-0.9 1.4-0.3 1.4 0.7 1.5-0.2 1.4-0.4 1.5-0.3 1.4 0.8 1.4 0 1.5-0.7 1.4-0.7 1.4 0.2 1.5 1.3 1.4-0.3 1.4 0.2 1.5 0 1.4 0.3 1.5 0 1.4-0.2 1.4-0.9" stroke="#050505" stroke-width="1.8" fill="none" stroke-linejoin="round"/>
<path d="M212.6,229.8l1.4 0.1 1.5 0.2 1.4 0.5 1.4-0.1 1.5-0.6 1.4 0 1.5-0.5 1.4 0.6 1.4 0.4 1.5 0.9 1.4-0.6 1.4 0.8 1.5-1.1 1.4 0.6 1.4-0.1 1.5 0.6 1.4-0.1 1.5 0.2 1.4-0.8 1.4 0.1 1.5 0.7 1.4 0.6 1.4-0.5 1.5 0 1.4 0.3 1.4-0.6 1.5 0.1 1.4 0 1.5 0.3 1.4 0.2 1.4 0 1.5 0.5 1.4-0.7 1.4-0.2 1.5 1 1.4-0.5 1.4-0.6 1.5 0.2 1.4-0.3 1.5 0.6 1.4 0.1 1.4 0.7 1.5 0.1 1.4 0.4 1.4-0.2 1.5-0.5 1.4-0.3 1.4-0.4 1.5 0.4 1.4 0.7 1.4-0.4 1.5 0.1 1.4-0.8 1.5-0.3 1.4 0.4 1.4 1.1 1.5 0.2 1.4-0.3 1.4 0.4 1.5-0.4 1.4-0.2 1.4-0.1 1.5 0.3 1.4 0.6 1.5 0.2 1.4-0.2 1.4-0.7 1.5-0.3 1.4 0.2 1.4 0.4 1.5 0 1.4 0 1.4-0.2 1.5 0.1 1.4 1.2 1.5-0.7 1.4 0.1 1.4 0.4 1.5-0.3 1.4 0.1 1.4 0.2 1.5 0.8 1.4-0.5 1.4-0.3 1.5 0.2 1.4 0.8 1.5-0.6 1.4-0.3 1.4 0.1 1.5 0 1.4 0.4 1.4 0.3 1.5-0.4 1.4 0.3" stroke="#050505" stroke-width="1.8" fill="none" stroke-linejoin="round"/>
<path d="M212.6,229.9l1.4-1.4 1.5 0.7 1.4 0.5 1.4 1 1.5-0.4 1.4-0.4 1.5 0.5 1.4 0 1.4 0.9 1.5-0.9 1.4 0.2 1.4-0.5 1.5-0.5 1.4 0.6 1.4-0.3 1.5 0.2 1.4 0.3 1.5 0.2 1.4 0.3 1.4-0.8 1.5-0.1 1.4 0.8 1.4-0.5 1.5 0.6 1.4 0.5 1.4-1 1.5 0.8 1.4-0.8 1.5 0.1 1.4-0.2 1.4 0.1 1.5-0.2 1.4 0.3 1.4 0 1.5 0.2 1.4-0.3 1.4 0.5 1.5-0.4 1.4-0.3 1.5 0.6 1.4 0 1.4 0.4 1.5 0.1 1.4-0.2 1.4 0.2 1.5 0.4 1.4-0.3 1.4-0.2 1.5-0.1 1.4-0.2 1.4 1.1 1.5-1 1.4 0.3 1.5 0.5 1.4-0.1 1.4-0.3 1.5-0.3 1.4 0.5 1.4-0.1 1.5 0.8 1.4-0.5 1.4 0 1.5 0.1 1.4-0.5 1.5-0.6 1.4 0.2 1.4 0.9" stroke="#050505" stroke-width="1.8" fill="none" stroke-linejoin="round"/>
<path d="M212.6,229.0l1.4 0.6 1.5 0.1 1.4 0.3 1.4-0.3 1.5-0.2 1.4 0.2 1.5 0.2 1.4 0.1 1.4 0.1 1.5-0.5 1.4 0.5 1.4 0 1.5 0.1 1.4 0.2 1.4-0.1 1.5 0.5 1.4-0.6 1.5-0.3 1.4 0.3 1.4-0.7 1.5 0.9 1.4-0.4 1.4 0 1.5 0.4 1.4 0.1 1.4-0.5 1.5 0.2 1.4 0 1.5-0.5 1.4 0.4 1.4 1 1.5 0 1.4-0.7 1.4 0.2 1.5 0.5 1.4 0.6 1.4-0.8 1.5-0.8 1.4 0.9 1.5 0.8 1.4-0.9 1.4 0.2 1.5-0.1 1.4 0 1.4 0.3 1.5-0.5 1.4-0.3 1.4 0.1 1.5 0.5 1.4-0.5 1.4 0.3 1.5-0.2 1.4 0.7 1.5-0.5 1.4-0.2 1.4-0.3 1.5 0.5 1.4 0 1.4 0.5 1.5-0.5 1.4-0.1 1.4-0.2 1.5 0.7 1.4 0.6 1.5-0.3 1.4 0 1.4 0.2 1.5-0.5" stroke="#050505" stroke-width="1.8" fill="none" stroke-linejoin="round"/>
<path d="M212.6,229.1l1.4 0.1 1.5-0.2 1.4 0.2 1.4 0.7 1.5 0.1 1.4-0.1 1.5-0.4 1.4-0.3 1.4 0.3 1.5-0.3 1.4 0.7 1.4 0 1.5-0.8 1.4 0.3 1.4-0.2 1.5 1.2 1.4 0.4 1.5-0.2 1.4-0.9 1.4-0.6 1.5 0.8 1.4 0.5 1.4 0.1 1.5 0.1 1.4-0.7 1.4 0.2 1.5-0.9 1.4 0.2 1.5 0.7 1.4-0.1 1.4 0.1 1.5-0.4 1.4-0.1 1.4 0.5 1.5-0.4 1.4 0.1 1.4 0.3 1.5-0.1 1.4-0.2 1.5 0.4 1.4 0.3 1.4-0.7 1.5 0.3 1.4 0.4 1.4-0.3 1.5 0.7 1.4-0.4 1.4 0.5 1.5-0.2 1.4 0.5 1.4-0.2 1.5-0.9 1.4 0.3 1.5 0.5 1.4-1.1 1.4 0.7 1.5-0.7 1.4 0.6 1.4 0.7 1.5-1.2 1.4 0.6 1.4-0.4 1.5-0.3 1.4 1.1 1.5-0.3 1.4 0.2 1.4-0.4 1.5 0.1 1.4 0.6 1.4-0.3 1.5-0.4 1.4 0.3 1.4-0.3 1.5 0.4 1.4 0 1.5-0.2 1.4 0 1.4-0.5 1.5 0 1.4 0.1" stroke="#050505" stroke-width="1.8" fill="none" stroke-linejoin="round"/>
<path d="M212.6,228.6l1.4 0.2 1.5 0.6 1.4-0.7 1.4-0.6 1.5 0.5 1.4 0.4 1.5 0.1 1.4-0.6 1.4 0.3 1.5 0.6 1.4-0.1 1.4 0.2 1.5-0.2 1.4 0.3 1.4 0.1 1.5-1 1.4-0.2 1.5 1.2 1.4 0.1 1.4-0.2 1.5-0.1 1.4 0.4 1.4-0.8 1.5 0.8 1.4-0.7 1.4-0.3 1.5 0.4 1.4 0.3 1.5-0.2 1.4-0.1 1.4 0.9 1.5 0 1.4-0.8 1.4 0 1.5 0.2 1.4 0.3 1.4 0 1.5 0 1.4-1.5 1.5 1.2 1.4-0.8 1.4 0.2 1.5 0.2 1.4 0.1 1.4 0.3 1.5-0.8 1.4 0.2 1.4 0.4 1.5 0.1 1.4-0.1 1.4 0.6 1.5-0.1 1.4 0.1 1.5-0.6 1.4-0.1 1.4 1 1.5-0.3 1.4-0.7 1.4 0.8 1.5 0.2 1.4-0.8 1.4 0.2 1.5 0.2 1.4 0.4 1.5-0.5 1.4 0.2 1.4-0.3 1.5-0.1 1.4-0.2 1.4 0.4 1.5 0.2 1.4-0.1 1.4 0 1.5-0.1 1.4 0.2 1.5 0 1.4 0.2 1.4 0 1.5-0.3 1.4-0.5 1.4 0.6 1.5-0.3 1.4 0 1.4 0.1 1.5-0.2 1.4 0.5 1.5-0.3 1.4 0 1.4 1.7 1.5-1.1 1.4-0.5" stroke="#050505" stroke-width="1.8" fill="none" stroke-linejoin="round"/>
<path d="M212.6,227.7l1.4 1 1.5-0.1 1.4-0.1 1.4 0.5 1.5-0.7 1.4 0.1 1.5 0.6 1.4 0.4 1.4-0.2 1.5-1.3 1.4-0.3 1.4 2 1.5 0.4 1.4-0.9 1.4 0 1.5 0.3 1.4-0.5 1.5 0.1 1.4 0 1.4 0 1.5 0.7 1.4-0.9 1.4 0.5 1.5-0.5 1.4 0.1 1.4 0.3 1.5 0.1 1.4 0.1 1.5 0.9 1.4-0.3 1.4-0.5 1.5 0.8 1.4 0.2 1.4-1 1.5-0.2 1.4 1 1.4-0.5 1.5 0 1.4-0.4 1.5 0.5 1.4 0.1 1.4 0.3 1.5-0.3 1.4 0.1 1.4 0.3 1.5-0.1 1.4 0.2 1.4-0.5 1.5 0.6 1.4 0.5 1.4-0.1 1.5-0.9 1.4 0.4 1.5-0.4 1.4-0.1 1.4 0.5 1.5-0.4 1.4 0.1 1.4 0.2 1.5 0.4 1.4-0.1 1.4 0.5 1.5-0.2 1.4 0.1 1.5-0.4 1.4-0.1 1.4 0.4 1.5-0.5 1.4-0.3 1.4 0.4 1.5 0.6 1.4-0.4 1.4 1.2 1.5-0.3 1.4-0.7 1.5-0.8 1.4 0.9 1.4-0.6 1.5-0.6 1.4 0 1.4 2 1.5-0.9 1.4 0.2 1.4-0.3 1.5 0.4 1.4 0.4" stroke="#050505" stroke-width="1.8" fill="none" stroke-linejoin="round"/>
<path d="M212.6,228.3l1.4-0.7 1.5 0.1 1.4 0.5 1.4-0.1 1.5-0.2 1.4 0.1 1.5 0.3 1.4 0.4 1.4 0.2 1.5 0 1.4 0.1 1.4 0.5 1.5 0.1 1.4-1 1.4 0.6 1.5 0.3 1.4-0.4 1.5-0.8 1.4-0.2 1.4 0.7 1.5 0.6 1.4 0 1.4 0.2 1.5-0.1 1.4-0.4 1.4 0.5 1.5 0.1 1.4-0.2 1.5-0.1 1.4 0.3 1.4 0.1 1.5 0.3 1.4-0.1 1.4-0.6 1.5 0.2 1.4 1.4 1.4-1.2 1.5-0.1 1.4 0.4 1.5-0.2 1.4 1.3 1.4-0.2 1.5-1.3 1.4-0.9 1.4-0.3 1.5 1.3 1.4 0.1 1.4-0.3 1.5 0.8 1.4-1 1.4 0.8 1.5-0.2 1.4 0.6 1.5-0.4 1.4 0.1 1.4-0.5 1.5 0.9 1.4-0.2 1.4-0.9 1.5 1.1 1.4-0.3 1.4-0.1 1.5 0.4 1.4 0.1 1.5-0.8 1.4-0.1 1.4 0.3 1.5 0.2 1.4 0.8 1.4-0.3 1.5-0.8 1.4 0 1.4 1.2 1.5 0.7" stroke="#050505" stroke-width="1.8" fill="none" stroke-linejoin="round"/>
<path d="M212.6,227.7l1.4-0.3 1.5 0.2 1.4-0.1 1.4-0.3 1.5-0.4 1.4 0.2 1.5-0.5 1.4 1.1 1.4-0.5 1.5-0.2 1.4 0.8 1.4-1 1.5 0.9 1.4 0.3 1.4-1.8 1.5 0 1.4 0.3 1.5-0.3 1.4 0 1.4 1 1.5-0.4 1.4-0.6 1.4 0.5 1.5 0.1 1.4 0.2 1.4-0.5 1.5 0.4 1.4 0.2 1.5 0.3 1.4-0.1 1.4-0.5 1.5-0.3 1.4 0.2 1.4 0.4 1.5-0.5 1.4-0.2 1.4-0.5 1.5 0.6 1.4 0.1 1.5-0.3 1.4-0.7 1.4 0.5 1.5 0.2 1.4 0.4 1.4-0.1 1.5-0.7 1.4-0.2 1.4-0.2 1.5 1.2 1.4-0.7 1.4 0.5 1.5-0.5 1.4 1.1 1.5-0.6 1.4 0.1 1.4-1 1.5 0.2 1.4-0.5 1.4 0.6 1.5-0.9 1.4 0.8 1.4-0.9 1.5 0.8 1.4 0.5 1.5-0.7 1.4 0.3 1.4 0 1.5 0.5 1.4-0.3 1.4-0.3 1.5 0.3 1.4-0.5 1.4 1.1 1.5-1.1 1.4 0.2 1.5-0.8 1.4 0.5 1.4 0.3 1.5 0 1.4-0.4 1.4-0.2 1.5 0.3 1.4 0.3 1.4-0.5 1.5-0.4 1.4 1.1 1.5 0" stroke="#050505" stroke-width="1.8" fill="none" stroke-linejoin="round"/>
<path d="M212.6,227.8l1.4-1 1.5-0.1 1.4 0.2 1.4 0.2 1.5 0.9 1.4-0.8 1.5 0.5 1.4 0.3 1.4-1.1 1.5 1.2 1.4-0.9 1.4 0.3 1.5 0.6 1.4-0.3 1.4 0.4 1.5-0.4 1.4 0.3 1.5 0.4 1.4-1.6 1.4 0.9 1.5-0.4 1.4 0.4 1.4-0.2 1.5 0.8 1.4 0.2 1.4 1.1 1.5-1.6 1.4-0.2 1.5 0.6 1.4-0.7 1.4-0.1 1.5-1.1 1.4 0.9 1.4 0 1.5 0.1 1.4 0 1.4 0.4 1.5 0.3 1.4-0.4 1.5-0.3 1.4 1 1.4 0.3 1.5-0.4 1.4-0.9 1.4 0.6 1.5 0.9 1.4-0.9 1.4-0.2 1.5-0.6 1.4 0.6 1.4-0.6 1.5 1 1.4-0.4 1.5 0.3 1.4 0.7 1.4-0.2 1.5-0.8 1.4-0.1 1.4 0.6 1.5-0.4 1.4-0.1 1.4 0 1.5 0.3 1.4 0.1 1.5 0.6 1.4-0.2 1.4-0.1 1.5 0.4 1.4-0.1 1.4-0.2 1.5-0.1 1.4-0.4 1.4 0.8" stroke="#050505" stroke-width="1.8" fill="none" stroke-linejoin="round"/>
<path d="M212.6,227.3l1.4-0.2 1.5 0.1 1.4-0.2 1.4 0.2 1.5-0.6 1.4 0.4 1.5 0.5 1.4-0.7 1.4-0.7 1.5 1.4 1.4-0.3 1.4-0.2 1.5-0.6 1.4-0.4 1.4 0.6 1.5 0.9 1.4-0.8 1.5-0.4 1.4 0.1 1.4 0.2 1.5 0.5 1.4-1.4 1.4 1.2 1.5 0.6 1.4-1 1.4 0 1.5-0.2 1.4 0 1.5-0.6 1.4-0.1 1.4 0.9 1.5-0.4 1.4 0.8 1.4 0.5 1.5-1.1 1.4 0.3 1.4 0.9 1.5-0.7 1.4 0.1 1.5-0.6 1.4 0.1 1.4 0.3 1.5 0.1 1.4-0.7 1.4 0.6 1.5-0.3 1.4 0.4 1.4-0.6 1.5-0.8 1.4 0.3 1.4-0.2 1.5 0.2 1.4 0.8 1.5-0.1 1.4-0.2 1.4-0.3 1.5 0.4 1.4-0.4 1.4 0.4 1.5-0.2 1.4 0 1.4 0.5 1.5-0.9 1.4 0.2 1.5 0 1.4 0 1.4 1 1.5 0 1.4-0.3 1.4-0.9 1.5 0.4 1.4-0.5 1.4 0.6 1.5 0.1 1.4-0.1 1.5-0.8 1.4 1 1.4-0.4" stroke="#050505" stroke-width="1.8" fill="none" stroke-linejoin="round"/>
<path d="M212.6,226.1l1.4 0.1 1.5 0.1 1.4-0.3 1.4 0.1 1.5 0.6 1.4-0.5 1.5 0.4 1.4 0 1.4-0.8 1.5-0.8 1.4 0.2 1.4 0.5 1.5 0.8 1.4 0.2 1.4-1 1.5 0.3 1.4 0.8 1.5-1 1.4 0.1 1.4-0.3 1.5 0.3 1.4 1.3 1.4-0.2 1.5-0.4 1.4-0.1 1.4-0.8 1.5 0.7 1.4 0 1.5 0 1.4 0 1.4 0.4 1.5 0.3 1.4 0.7 1.4-1.1 1.5-0.1 1.4-0.3 1.4 0.5 1.5-0.3 1.4 0.3 1.5 0.2 1.4-0.6 1.4-0.3 1.5-0.1 1.4 0.2 1.4 0.3 1.5-0.7 1.4-0.2 1.4 0.8 1.5 0.4 1.4-0.4 1.4-0.2 1.5 0.5 1.4-1.3 1.5 1.6 1.4 0 1.4-0.6 1.5-0.5 1.4 1.1 1.4-0.2 1.5-1 1.4-0.3 1.4 0.7 1.5 0.1 1.4 0.4 1.5-0.4 1.4 0.5 1.4 0.6 1.5 0 1.4-0.7 1.4 0.4 1.5-1 1.4-0.4 1.4 0 1.5 0.1 1.4-0.2 1.5 0.4 1.4-0.2 1.4 0.2" stroke="#050505" stroke-width="1.8" fill="none" stroke-linejoin="round"/>
<path d="M212.6,225.5l1.4 0.7 1.5 0.1 1.4 0.2 1.4-0.8 1.5-0.1 1.4 0.6 1.5 0.3 1.4-0.1 1.4-0.6 1.5 0.2 1.4 0.1 1.4 0.3 1.5-0.2 1.4-0.8 1.4 0.8 1.5 0.1 1.4-0.9 1.5 0.2 1.4 0.9 1.4-0.7 1.5 0.8 1.4-0.5 1.4 1.2 1.5-0.2 1.4-1 1.4 0.4 1.5 0.2 1.4-0.3 1.5 0 1.4 0.2 1.4 0.1 1.5-1 1.4-0.2 1.4 0.4 1.5 0.9 1.4 0 1.4-0.1 1.5-0.4 1.4-0.6 1.5 0.8 1.4-0.1 1.4 0.3 1.5-0.1 1.4 0.3 1.4-0.4 1.5-0.4 1.4 0.5 1.4 0.2 1.5-0.1 1.4 0.6 1.4-1.2 1.5 1 1.4-0.1 1.5 0.2 1.4-1 1.4 0.6 1.5 0.2 1.4-1 1.4 0.6 1.5 0.5 1.4-0.1 1.4-0.2 1.5 0.4 1.4-0.1 1.5 0 1.4-0.4 1.4-0.2 1.5-0.1 1.4 0.5 1.4-0.3 1.5 0.4 1.4-0.5" stroke="#050505" stroke-width="1.8" fill="none" stroke-linejoin="round"/>
<path d="M212.6,225.3l1.4 0.3 1.5-0.6 1.4 1.1 1.4 0.1 1.5 0 1.4-0.3 1.5 0.4 1.4 0.1 1.4 0.4 1.5-0.8 1.4 0.2 1.4-1.3 1.5 0.2 1.4 0.9 1.4-0.7 1.5 0.2 1.4-0.3 1.5 0.9 1.4-0.7 1.4-0.2 1.5 0.6 1.4 0.5 1.4-0.1 1.5-0.3 1.4-1.1 1.4-0.1 1.5 0.2 1.4 0.8 1.5 0.4 1.4-0.2 1.4 0.2 1.5 0.2 1.4 0 1.4-0.5 1.5 0.2 1.4 0 1.4 0.2 1.5 0.1 1.4 0.1 1.5-0.7 1.4 0.2 1.4-0.5 1.5 0.7 1.4-0.4 1.4 1 1.5-0.1 1.4-0.1 1.4 0.2 1.5-0.2 1.4 0.4 1.4-0.3 1.5 0.2 1.4-0.2 1.5 0 1.4 0.4 1.4-0.2 1.5-0.2 1.4 0.5 1.4-0.4 1.5-0.7 1.4 0.5 1.4-0.2 1.5-0.1 1.4 0.7 1.5-0.8 1.4-0.8 1.4 1.4 1.5-1 1.4 1 1.4-0.6 1.5 1.2 1.4-0.9 1.4 0.2 1.5 0.7 1.4 0.1 1.5 0.1 1.4 0 1.4-0.6 1.5 0.1 1.4 1.1" stroke="#050505" stroke-width="1.8" fill="none" stroke-linejoin="round"/>
<path d="M212.6,225.2l1.4-0.3 1.5 0.1 1.4-0.7 1.4 1.4 1.5-0.4 1.4-0.1 1.5-0.3 1.4 0.8 1.4 0.3 1.5-0.4 1.4-0.2 1.4 0.8 1.5-0.7 1.4-0.1 1.4-0.3 1.5 1.4 1.4-0.9 1.5 0.3 1.4 0 1.4-0.6 1.5-0.6 1.4 0.5 1.4 0.3 1.5-0.5 1.4 0.8 1.4 0 1.5 0.2 1.4 0.3 1.5-0.5 1.4-0.9 1.4 0.5 1.5 0 1.4 0.3 1.4-0.4 1.5 0.3 1.4 0.6 1.4-0.2 1.5-0.7 1.4 0.5 1.5-0.4 1.4 0.5 1.4-0.8 1.5 0.5 1.4 0 1.4 0.5 1.5-0.3 1.4 0.3 1.4 0.8 1.5-0.6 1.4 0.5 1.4-1 1.5 0 1.4 0.3 1.5-0.1 1.4 1.4 1.4-1.3 1.5 0.5 1.4-0.4 1.4-1 1.5 1.6 1.4 0 1.4-0.3 1.5-0.1 1.4 0.9 1.5 0 1.4-1.1 1.4 0.6 1.5-0.3 1.4 0.8 1.4 0 1.5 0.5 1.4-0.8 1.4-0.6 1.5 0.2 1.4 0.3 1.5-0.1 1.4-0.1 1.4 0.3 1.5-0.3 1.4-0.7 1.4-0.4 1.5 1.2 1.4 0.7 1.4-1.1 1.5 0" stroke="#050505" stroke-width="1.8" fill="none" stroke-linejoin="round"/>
<path d="M212.6,224.3l1.4 0.1 1.5 0.4 1.4-0.4 1.4-0.2 1.5-0.1 1.4 1 1.5-0.6 1.4 0.4 1.4 0.2 1.5-0.3 1.4 0.3 1.4-1.2 1.5 0.4 1.4 0.3 1.4 0.4 1.5-0.1 1.4 0.2 1.5-0.3 1.4-0.2 1.4-0.1 1.5 0.9 1.4 0 1.4-0.3 1.5 0.6 1.4-0.6 1.4 0.1 1.5-0.1 1.4-0.1 1.5 0.4 1.4-0.9 1.4 0 1.5 0.7 1.4-0.2 1.4-0.2 1.5 0.6 1.4 0.1 1.4-0.5 1.5 1.3 1.4-0.1 1.5-0.7 1.4-0.4 1.4 0.5 1.5-0.6 1.4-0.8 1.4 0.7 1.5 0.3 1.4 0.1 1.4 0.5 1.5-0.5 1.4 0 1.4-0.3 1.5-0.4 1.4 0.5 1.5 0.2 1.4-0.1 1.4-0.6 1.5 1.2 1.4-0.2 1.4 0.2 1.5-0.2 1.4-0.4 1.4 0.2 1.5-0.2 1.4 0.1 1.5 0.5 1.4 0.2 1.4 0.4 1.5-0.6 1.4 0.1 1.4-0.6 1.5-0.2 1.4 0.8 1.4 0.3 1.5-0.6" stroke="#050505" stroke-width="1.8" fill="none" stroke-linejoin="round"/>
<path d="M212.6,225.3l1.4-0.3 1.5-0.2 1.4 0.4 1.4-0.9 1.5 0.9 1.4-0.1 1.5 0.3 1.4 1.3 1.4-0.8 1.5-0.2 1.4-0.4 1.4 0.2 1.5 0.4 1.4 0 1.4 0 1.5-0.5 1.4 0.4 1.5-0.6 1.4 0 1.4 0.8 1.5-0.5 1.4 1.3 1.4-0.5 1.5 0.3 1.4-0.3 1.4-0.6 1.5 0.3 1.4 0.3 1.5-0.6 1.4 0.8 1.4 0.3 1.5-0.7 1.4 0 1.4 0.9 1.5-0.3 1.4-0.4 1.4 0.3 1.5 0.3 1.4-0.2 1.5 0 1.4 0.4 1.4-0.5 1.5 0.9 1.4-0.3 1.4-1.1 1.5 1.1 1.4 0 1.4 1 1.5-0.3 1.4 0.1 1.4-0.5 1.5 0.1 1.4-0.9 1.5 0.9 1.4-0.1 1.4-0.1 1.5-0.2 1.4-0.1 1.4 1.1 1.5-1.3 1.4 0.7 1.4 0.5 1.5 0.6 1.4-0.3 1.5 0.5 1.4-0.7 1.4 0.2 1.5-0.4 1.4 0.5 1.4-0.2 1.5-1.1 1.4 0.2 1.4 0.5 1.5 0.8 1.4-0.9 1.5 1.2 1.4 0.3 1.4-1.1 1.5 0.5 1.4-0.6 1.4 0.1 1.5-0.6 1.4-0.1 1.4 0.6 1.5 0.8 1.4-0.3 1.5-0.4 1.4 0.5" stroke="#050505" stroke-width="1.8" fill="none" stroke-linejoin="round"/>
<path d="M212.6,225.8l1.4-0.7 1.5-0.2 1.4-0.3 1.4 0 1.5-0.7 1.4 0.8 1.5-0.5 1.4 0.9 1.4 0.4 1.5-0.4 1.4-0.3 1.4 0 1.5-0.2 1.4-0.6 1.4-0.3 1.5 0.2 1.4-0.1 1.5 0.4 1.4 0.2 1.4 0.3 1.5-0.4 1.4 0.2 1.4-0.4 1.5-0.6 1.4-0.1 1.4-0.5 1.5 0.9 1.4 0.8 1.5-0.2 1.4-1.5 1.4 0.1 1.5 0.5 1.4-0.7 1.4 0.6 1.5-0.8 1.4 0.6 1.4 0.2 1.5-0.4 1.4 0.6 1.5-0.2 1.4-1.1 1.4 0.3 1.5 0.8 1.4-0.1 1.4-0.2 1.5 0.3 1.4-0.5 1.4-0.6 1.5 0.4 1.4-0.3 1.4 0.1 1.5 0.1 1.4 0.4 1.5-0.6 1.4-0.5 1.4 0.7 1.5 0.4 1.4-0.5 1.4 0 1.5-0.5 1.4 0.1 1.4 0.3 1.5 0.6 1.4-0.7 1.5 0 1.4 0.6 1.4 0.2 1.5 0.3 1.4-1.1 1.4 0.1 1.5 1.3 1.4-0.6 1.4-0.4" stroke="#050505" stroke-width="1.8" fill="none" stroke-linejoin="round"/>
<path d="M212.6,224.2l1.4-0.1 1.5 0.2 1.4-0.5 1.4-0.3 1.5 0.5 1.4-0.7 1.5 0.5 1.4 0.5 1.4-0.3 1.5 0.6 1.4-0.3 1.4 0.2 1.5-0.2 1.4-0.4 1.4 1.1 1.5-1 1.4-0.2 1.5 0.1 1.4-0.4 1.4 0 1.5 0.3 1.4 0.4 1.4-0.7 1.5-0.2 1.4 0.9 1.4-0.1 1.5 0.2 1.4-0.8 1.5 0.3 1.4 0.4 1.4-1.1 1.5 0 1.4 0.1 1.4 0.1 1.5 0.1 1.4 0 1.4-0.4 1.5 0 1.4 0.4 1.5-0.1 1.4-0.8 1.4 0.7 1.5 0.7 1.4-0.5 1.4 0.4 1.5-1.6 1.4 0.4 1.4 0.1 1.5 0.1 1.4-0.7 1.4 1.1 1.5-0.1 1.4 0.7 1.5-1 1.4 0.2 1.4-0.8 1.5 0.6 1.4 0.6 1.4 0 1.5-0.7 1.4 0.5 1.4-0.3 1.5 0.3 1.4 0.1 1.5-0.1 1.4-1 1.4 0.9 1.5-0.4 1.4-0.3 1.4 0.5 1.5 0.6" stroke="#050505" stroke-width="1.8" fill="none" stroke-linejoin="round"/>
<path d="M212.6,222.7l1.4-0.3 1.5 0.8 1.4 0.7 1.4-0.7 1.5 0.2 1.4 0.4 1.5-0.1 1.4 0.9 1.4-0.4 1.5 0.1 1.4 0 1.4-0.8 1.5-0.1 1.4-0.8 1.4 1.8 1.5-0.3 1.4 0 1.5-1 1.4-0.2 1.4 0.3 1.5 0.1 1.4 0.5 1.4 0 1.5 0 1.4 0.9 1.4-1.6 1.5-0.1 1.4-0.6 1.5 0.1 1.4 0.4 1.4 0 1.5 1.2 1.4 0.1 1.4-0.9 1.5 0.3 1.4 0.7 1.4-0.5 1.5 0.4 1.4-0.4 1.5-0.9 1.4 0.9 1.4 0 1.5-0.4 1.4 0.1 1.4-0.1 1.5 0.5 1.4-0.1 1.4 0.9 1.5-0.7 1.4-0.9 1.4 0.8 1.5-0.1 1.4-0.5 1.5-0.4 1.4-0.1 1.4 0.9 1.5 0.1 1.4-1 1.4 0.7 1.5-0.1 1.4 0.5 1.4 0.1 1.5 1.1 1.4-0.8 1.5 0.6 1.4-0.4 1.4-0.2 1.5-1.1 1.4-0.1 1.4 0.1 1.5 0.5 1.4 0.6 1.4-0.7 1.5 0.4 1.4-0.2 1.5-0.6 1.4 0.4 1.4 0 1.5 0.5" stroke="#050505" stroke-width="1.8" fill="none" stroke-linejoin="round"/>
<path d="M212.6,222.8l1.4 0.1 1.5 0 1.4-0.4 1.4 1.3 1.5-0.2 1.4-0.4 1.5 0 1.4 0 1.4 0 1.5 0.9 1.4-0.3 1.4-0.7 1.5 0.3 1.4 0.2 1.4-0.4 1.5 1.1 1.4-0.6 1.5-0.7 1.4 0.6 1.4 0.4 1.5-0.4 1.4 0.3 1.4 0.3 1.5-0.4 1.4 0.8 1.4-0.8 1.5 0.6 1.4-0.1 1.5-0.6 1.4 0.1 1.4 0 1.5-0.6 1.4-0.2 1.4-0.3 1.5 1.1 1.4-0.3 1.4 1.1 1.5-0.7 1.4-0.5 1.5 0.8 1.4-0.3 1.4-0.2 1.5 0.3 1.4 0.4 1.4-0.8 1.5 1 1.4-0.3 1.4-0.5 1.5 0.2 1.4-0.6 1.4-0.1 1.5 0.4 1.4-0.4 1.5 0.3 1.4 1.1 1.4-0.1 1.5-0.3 1.4 0 1.4 0.9 1.5-1.6 1.4 1.3 1.4 0.2 1.5-0.6 1.4-0.1 1.5-0.6 1.4 0.4 1.4 0.1 1.5-0.2 1.4 0.7 1.4 0.5 1.5-0.2 1.4-0.8 1.4 0.4 1.5-0.6 1.4 0.7 1.5-0.4 1.4 0.2 1.4-0.3 1.5 0.3 1.4 0 1.4 0.4 1.5-0.7 1.4 0.4 1.4-0.1 1.5-0.1" stroke="#050505" stroke-width="1.8" fill="none" stroke-linejoin="round"/>
<path d="M212.6,223.4l1.4 0.1 1.5-0.2 1.4-0.7 1.4 0.8 1.5 0.3 1.4 0.1 1.5-0.2 1.4 0.3 1.4-0.1 1.5-0.6 1.4 0.6 1.4-0.3 1.5 0.5 1.4-0.3 1.4-0.4 1.5 1 1.4-0.5 1.5-0.3 1.4 0.1 1.4-0.1 1.5-0.1 1.4 0.7 1.4-0.2 1.5-0.4 1.4-0.5 1.4 1.1 1.5 0.1 1.4 0.4 1.5-0.5 1.4 0.3 1.4 0.1 1.5-0.7 1.4-0.9 1.4 1.6 1.5-1.1 1.4 0.9 1.4-0.5 1.5 0 1.4-0.3 1.5 0.5 1.4 0.5 1.4-0.2 1.5-0.4 1.4 0.7 1.4-0.4 1.5 0.1 1.4 0 1.4 0 1.5-0.2 1.4-0.1 1.4 0.4 1.5 0.2 1.4 1 1.5-0.3 1.4 0.2 1.4-0.9 1.5 0.5 1.4 0.1 1.4-0.6 1.5-0.4 1.4-0.2 1.4 0.9 1.5-0.2 1.4-0.4 1.5 0.8 1.4 0 1.4 0.4 1.5 0 1.4-0.7 1.4 0.1 1.5 0.3 1.4 0.2 1.4-0.9 1.5 0.1 1.4 0.9 1.5-1.2 1.4 0.8 1.4 0.2 1.5 0.2" stroke="#050505" stroke-width="1.8" fill="none" stroke-linejoin="round"/>
<path d="M212.6,222.8l1.4-0.5 1.5 0.9 1.4-0.4 1.4 0 1.5-0.9 1.4 0.3 1.5 0.1 1.4 0.1 1.4-0.1 1.5 0.3 1.4 1.2 1.4-0.8 1.5 0 1.4-0.4 1.4 0.1 1.5 0.4 1.4 0.3 1.5 0.2 1.4-0.5 1.4 0 1.5 0.4 1.4-0.1 1.4-0.4 1.5 0.4 1.4-0.1 1.4 0.2 1.5 1 1.4-0.9 1.5-0.3 1.4-0.4 1.4-0.3 1.5 0.8 1.4-0.3 1.4 0 1.5 0.2 1.4-0.3 1.4-0.1 1.5 0.9 1.4-0.9 1.5 0.5 1.4 0.4 1.4 0.2 1.5-0.2 1.4 0.4 1.4-0.9 1.5 0.1 1.4 0.6 1.4-0.6 1.5 0.1 1.4 0.1 1.4-0.3 1.5 0.4 1.4 0.2 1.5-0.3 1.4 1 1.4 0.1 1.5-0.7 1.4-0.5 1.4 1.1 1.5-0.4 1.4 0.2 1.4-0.1 1.5-0.4 1.4-0.6 1.5-0.3 1.4 0.3 1.4 0.3 1.5 0.3 1.4 1.1 1.4-0.7 1.5 0.5 1.4 0.2 1.4-0.5 1.5 0.6 1.4-1.3 1.5 0.1 1.4 0.2 1.4 0 1.5 0.1 1.4 0.2 1.4-0.3 1.5 0.6 1.4-0.2 1.4 0 1.5-0.3 1.4 0.8 1.5-0.3 1.4 0 1.4-0.3 1.5 0" stroke="#050505" stroke-width="1.8" fill="none" stroke-linejoin="round"/>
<path d="M212.6,222.0l1.4-0.2 1.5-0.1 1.4-0.5 1.4 0.3 1.5 0 1.4 0.6 1.5-0.1 1.4-0.6 1.4-0.3 1.5 0.8 1.4-0.2 1.4 0 1.5-0.2 1.4 0.2 1.4 0 1.5-0.2 1.4-0.2 1.5-0.5 1.4 0.7 1.4 0.2 1.5-0.7 1.4-0.2 1.4 0.3 1.5 0.5 1.4-0.9 1.4 0.6 1.5-0.8 1.4 0.1 1.5 0.2 1.4 0 1.4-0.4 1.5 0.2 1.4 0.8 1.4-0.2 1.5 0.5 1.4-1 1.4-0.6 1.5-0.3 1.4 1 1.5-1.3 1.4-0.3 1.4 0.7 1.5 1.1 1.4-0.2 1.4-0.9 1.5-0.8 1.4 0.8 1.4 0.9 1.5-0.1 1.4-1.4 1.4 0.4 1.5 0.7 1.4 0.5 1.5-1 1.4-0.5 1.4 0.4 1.5-0.1 1.4-0.1 1.4 0.1 1.5 0.1 1.4 0 1.4 0 1.5-0.9 1.4 0.1 1.5-0.3 1.4-0.5 1.4 1.7 1.5-0.5 1.4-0.6 1.4 0.2 1.5 0.3 1.4-0.4 1.4 0.2 1.5 0.2 1.4-0.2 1.5-0.2 1.4-0.1 1.4-0.5 1.5 0.2 1.4 0.3 1.4-1.5 1.5 0.9 1.4 0.3 1.4 0 1.5 0.3 1.4 0.4 1.5-0.7 1.4-0.8 1.4 1.2 1.5-0.1 1.4-0.6 1.4 0.2" stroke="#050505" stroke-width="1.8" fill="none" stroke-linejoin="round"/>
<path d="M212.6,221.5l1.4 0.2 1.5 0.6 1.4-0.1 1.4 0.1 1.5-0.4 1.4 1.3 1.5-0.9 1.4-0.7 1.4 0.4 1.5 0.1 1.4 0.4 1.4-0.2 1.5 0.2 1.4 0.6 1.4 0.2 1.5 0.6 1.4-1 1.5-0.2 1.4-0.5 1.4 0.3 1.5-0.1 1.4 1 1.4 0.6 1.5-0.4 1.4-0.2 1.4-0.3 1.5 0.1 1.4 0.1 1.5 0 1.4-0.1 1.4 0 1.5 0 1.4 0.4 1.4 0 1.5 0.7 1.4 0.1 1.4-0.3 1.5-0.4 1.4 0.4 1.5 0.5 1.4-0.9 1.4 0.5 1.5 0.7 1.4-0.1 1.4 0.1 1.5 0.6 1.4-0.7 1.4-1.1 1.5 0.7 1.4 0.4 1.4-0.8 1.5 0.3 1.4 0.2 1.5-0.6 1.4 1 1.4-0.1 1.5-0.3 1.4 0.1 1.4 0.7 1.5 0.2 1.4-1.2 1.4 0.5 1.5 0.3 1.4-0.5 1.5 1.2 1.4-0.4 1.4 0.7 1.5-1.1 1.4 0.7 1.4-0.2 1.5 0.4 1.4-0.3 1.4-0.2 1.5 0.2 1.4 0.2 1.5-0.2 1.4 0.2 1.4 0.3 1.5-0.4 1.4-0.2 1.4 0.9 1.5 0.2 1.4 0 1.4-0.4 1.5 0.6" stroke="#050505" stroke-width="1.8" fill="none" stroke-linejoin="round"/>
<path d="M212.6,220.7l1.4 0.5 1.5 0 1.4-0.3 1.4 0.7 1.5-0.3 1.4-0.2 1.5-0.4 1.4 0.9 1.4-0.8 1.5 0.1 1.4 0.1 1.4-0.3 1.5 0.5 1.4 0.1 1.4-0.4 1.5 0.4 1.4-0.5 1.5-0.3 1.4 0.4 1.4 0.1 1.5 0.4 1.4 0.3 1.4-1 1.5 0.8 1.4-0.3 1.4-0.2 1.5 0.5 1.4 0.1 1.5 0 1.4-1.3 1.4 0.4 1.5-0.4 1.4-0.4 1.4 0.3 1.5 0 1.4 0.7 1.4 0.4 1.5-0.8 1.4-0.3 1.5 1 1.4-0.7 1.4 0.2 1.5-0.2 1.4-0.1 1.4-0.5 1.5 1 1.4 0 1.4-0.6 1.5 0.5 1.4-0.2 1.4 0.2 1.5 0.8 1.4-0.2 1.5-0.8 1.4 0.4 1.4 0.6 1.5-0.3 1.4-0.4 1.4-0.3 1.5 0 1.4-0.1 1.4 0.6 1.5 0.1 1.4 0 1.5-0.1 1.4-0.4 1.4-0.6 1.5 0.5 1.4-0.4 1.4-0.2 1.5 1 1.4 0.1 1.4-0.4 1.5 0.6 1.4-1.3 1.5 1.3 1.4 0.1 1.4-0.9 1.5 0.4 1.4-0.5 1.4 0.5 1.5-0.7 1.4 0.5 1.4-0.4 1.5-0.3 1.4 1 1.5 0.1 1.4 0.4 1.4-0.2 1.5-0.9 1.4 0 1.4-0.3 1.5-0.4 1.4 0 1.4 0.1" stroke="#050505" stroke-width="1.8" fill="none" stroke-linejoin="round"/>
<path d="M212.6,221.1l1.4 0.1 1.5-0.3 1.4-0.3 1.4-0.2 1.5 0.3 1.4 0.4 1.5 0 1.4-0.8 1.4 0.4 1.5-0.6 1.4 1 1.4-0.4 1.5 0.2 1.4-0.1 1.4 0.6 1.5-0.3 1.4 0.2 1.5 0.1 1.4 0.5 1.4 0.3 1.5-0.4 1.4-0.5 1.4-0.1 1.5 0 1.4 0 1.4 0.8 1.5-0.8 1.4 0.1 1.5 0.5 1.4 0 1.4-0.6 1.5 0.1 1.4 0.9 1.4-1.3 1.5 1.1 1.4-1 1.4 0 1.5 0.9 1.4-0.7 1.5-0.2 1.4 0 1.4 0.2 1.5 0.2 1.4 0.1 1.4 0.4 1.5-0.2 1.4-0.5 1.4 0.5 1.5-0.8 1.4 1.3 1.4-0.2 1.5 0.6 1.4 0.4 1.5-0.8 1.4 0 1.4 0.1 1.5 0.3 1.4-0.3 1.4 0.6 1.5-0.5 1.4 0.1 1.4 0.3 1.5-0.6 1.4 0.8 1.5-0.7 1.4-0.2 1.4-0.2 1.5 0.2 1.4-0.3 1.4 0.4 1.5 0.6 1.4-0.5 1.4 0.4 1.5-0.1 1.4-0.2 1.5 0.4" stroke="#050505" stroke-width="1.8" fill="none" stroke-linejoin="round"/>
<path d="M212.6,220.0l1.4 1 1.5-0.9 1.4 0.2 1.4-0.7 1.5 0 1.4 0.2 1.5 0.2 1.4 0.1 1.4 0.7 1.5-0.1 1.4 0.1 1.4-0.1 1.5-0.3 1.4 0.2 1.4-0.4 1.5 0.1 1.4 0.1 1.5-0.4 1.4-0.2 1.4 0.8 1.5-0.3 1.4-1.5 1.4 0.7 1.5 0.1 1.4 0.6 1.4-0.6 1.5-0.5 1.4 0.2 1.5 0.4 1.4 0.1 1.4 0.8 1.5-0.8 1.4 0.1 1.4-0.3 1.5-0.1 1.4 0 1.4-0.8 1.5 0.2 1.4 0.7 1.5-0.3 1.4-0.1 1.4 0.2 1.5-0.6 1.4 0.6 1.4 0.8 1.5 0 1.4-0.7 1.4 0.4 1.5-0.4 1.4 0.6 1.4-0.7 1.5 0.1 1.4 0.3 1.5-0.1 1.4-0.2 1.4-0.6 1.5 0.1 1.4 0.2 1.4-0.1 1.5-0.4 1.4 0.1 1.4-0.6 1.5 0.9 1.4-0.4 1.5 0.2 1.4 0.3 1.4-0.4 1.5-0.3" stroke="#050505" stroke-width="1.8" fill="none" stroke-linejoin="round"/>
<path d="M212.6,219.8l1.4 0.1 1.5 0.7 1.4-0.3 1.4-0.1 1.5-0.6 1.4 0.5 1.5 0.2 1.4-0.6 1.4 0.5 1.5 0.5 1.4-0.2 1.4-0.3 1.5 0.2 1.4 1 1.4-0.3 1.5-0.7 1.4 0.6 1.5-0.5 1.4 0.2 1.4 0.5 1.5-0.6 1.4 1.2 1.4 0.4 1.5-0.1 1.4-0.9 1.4 0 1.5-0.3 1.4 0.2 1.5 0 1.4 0.3 1.4 0.1 1.5-0.6 1.4-0.1 1.4 0.9 1.5-0.5 1.4-0.8 1.4 0.3 1.5 0.9 1.4-0.4 1.5 0.1 1.4 0.3 1.4-0.4 1.5-0.3 1.4 0.7 1.4 0 1.5 0.3 1.4-0.1 1.4-0.7 1.5 0.6 1.4-0.2 1.4 0.1 1.5 0.2 1.4 0.6 1.5-0.6 1.4 0.6 1.4-0.6 1.5 0.2 1.4 0 1.4 0.3 1.5 0.3 1.4 0.2 1.4-0.4 1.5-0.1 1.4-0.1 1.5 0.2 1.4-0.4 1.4 0.2 1.5 0.1 1.4 0.2 1.4 0 1.5-0.3 1.4 0.5 1.4 0.5 1.5-0.6 1.4-0.2 1.5 0.2 1.4-0.1 1.4 0.7 1.5 0.2 1.4-0.4 1.4-0.1 1.5 0.5 1.4-0.5 1.4 0.8" stroke="#050505" stroke-width="1.8" fill="none" stroke-linejoin="round"/>
<path d="M212.6,219.1l1.4 0.8 1.5 0.1 1.4 0.3 1.4 0.2 1.5-0.3 1.4 0.6 1.5-0.5 1.4-0.4 1.4 0.1 1.5 0 1.4 0.6 1.4 0.4 1.5-0.1 1.4-1 1.4-0.1 1.5 1 1.4-1.2 1.5 0 1.4-0.1 1.4 0 1.5-0.1 1.4 1.3 1.4-0.3 1.5 0.2 1.4-1.1 1.4 0.2 1.5 0.4 1.4 0.3 1.5 0.9 1.4-0.6 1.4 0.2 1.5-0.9 1.4 0 1.4 0.4 1.5 0.3 1.4-0.6 1.4 0.6 1.5-0.6 1.4 0.3 1.5 0.3 1.4-0.2 1.4-0.6 1.5 1.3 1.4-0.6 1.4-0.2 1.5 0.4 1.4-0.6 1.4 0.1 1.5 0.2 1.4 0.7 1.4-0.4 1.5 0.7 1.4-0.6 1.5-0.9 1.4 1.1 1.4-0.7 1.5 0.9 1.4-0.1 1.4-0.4 1.5 0.9 1.4-0.5 1.4 0.4 1.5 0 1.4-0.6 1.5 0.2 1.4-0.1 1.4 0.2 1.5-0.1 1.4-0.6 1.4 0.5 1.5 0.4 1.4 0 1.4-0.3 1.5 0 1.4 1.2 1.5-0.5 1.4-0.4 1.4-1.1 1.5 1.1" stroke="#050505" stroke-width="1.8" fill="none" stroke-linejoin="round"/>
<path d="M212.6,218.9l1.4 0.5 1.5-0.3 1.4 0.7 1.4-0.1 1.5-0.4 1.4 0.6 1.5-0.4 1.4 0.1 1.4-0.8 1.5-0.4 1.4-0.3 1.4 0.8 1.5 0 1.4-0.7 1.4 1.2 1.5-0.7 1.4 1 1.5-0.5 1.4 1 1.4-0.1 1.5-0.1 1.4 0 1.4 0.8 1.5-0.6 1.4 0 1.4-0.8 1.5 0.2 1.4 1.3 1.5-0.5 1.4-0.6 1.4 0.4 1.5 0.4 1.4 0.5 1.4-0.3 1.5 0.2 1.4-0.2 1.4 0 1.5-0.7 1.4 0.8 1.5-0.3 1.4 0.6 1.4-0.4 1.5-0.4 1.4 0.6 1.4 0.5 1.5-0.4 1.4-0.1 1.4 0.3 1.5-0.3 1.4 0.1 1.4-0.2 1.5 0.8 1.4-0.6 1.5-0.4 1.4 0.8 1.4-0.9 1.5 0.5 1.4 0.8 1.4 0.3 1.5 0 1.4-0.1 1.4-0.1 1.5-0.3 1.4 0.2 1.5 0.1 1.4 0.4 1.4 0.6 1.5-0.3 1.4 0.1 1.4-0.9 1.5 1.3 1.4-1.2 1.4 1.4 1.5-0.6 1.4-0.3 1.5 0.4 1.4 0.1 1.4-0.7 1.5 0.6 1.4-0.2 1.4-0.1 1.5-0.3 1.4 0.8 1.4-0.8 1.5 0.4 1.4-0.4 1.5 1 1.4-0.7 1.4 0.3 1.5-0.3 1.4 0.6 1.4-0.4" stroke="#050505" stroke-width="1.8" fill="none" stroke-linejoin="round"/>
<path d="M212.6,219.0l1.4 0.9 1.5-1.7 1.4 0.9 1.4-0.2 1.5 0.2 1.4 0.2 1.5 0 1.4-0.5 1.4-0.2 1.5-0.1 1.4 1.2 1.4-0.7 1.5 0.8 1.4-1.4 1.4 0.4 1.5-0.2 1.4 0.4 1.5 0.1 1.4 0.4 1.4-1 1.5 0.7 1.4-0.4 1.4 0.7 1.5 0 1.4 0.1 1.4-0.1 1.5 0.2 1.4-0.5 1.5-0.2 1.4 1 1.4-0.2 1.5 0.4 1.4-1 1.4 0.8 1.5-0.5 1.4-0.1 1.4 0.1 1.5 0.9 1.4-1.3 1.5 0.4 1.4-0.3 1.4-0.2 1.5 0.8 1.4 0.4 1.4-1.2 1.5-0.4 1.4 1.1 1.4 0 1.5-0.4 1.4 0.3 1.4-0.5 1.5 0.1 1.4 0.4 1.5-0.2 1.4 0.5 1.4-0.7 1.5 0.7 1.4-0.6 1.4-0.8 1.5 1.7 1.4-1 1.4 1.1 1.5-0.2 1.4-1 1.5 0.1 1.4 0.2 1.4 0.2 1.5 0.1 1.4 0 1.4 0.3 1.5 0.1" stroke="#050505" stroke-width="1.8" fill="none" stroke-linejoin="round"/>
<path d="M212.6,218.6l1.4-1.1 1.5 0.4 1.4-0.7 1.4 0.2 1.5 0.3 1.4 0.8 1.5-0.1 1.4-0.2 1.4 0 1.5 0.1 1.4 1 1.4-0.6 1.5-0.2 1.4 0 1.4 0 1.5 0.5 1.4-0.1 1.5-1.1 1.4 0.7 1.4 0.1 1.5 0.2 1.4-0.3 1.4 0.1 1.5-1.1 1.4 1 1.4-0.7 1.5 0.6 1.4-0.3 1.5-1 1.4 0.8 1.4 0.3 1.5 1.4 1.4-0.6 1.4-0.3 1.5-0.2 1.4-0.2 1.4 0.6 1.5 0.1 1.4-0.7 1.5 0.2 1.4 0 1.4-0.3 1.5 0.1 1.4 0.1 1.4 0.6 1.5-0.3 1.4 0.7 1.4-1.4 1.5 0.7 1.4-0.9 1.4 0.7 1.5 0.1 1.4-0.6 1.5 0.3 1.4 0.1 1.4 0.3 1.5 0.1 1.4 0.2 1.4 0.1 1.5 0.5 1.4-0.5 1.4 0.1 1.5-1 1.4-0.6 1.5-0.2 1.4 1.4 1.4 0.1 1.5 0 1.4 0.6 1.4-1.2 1.5 0 1.4 0.2" stroke="#050505" stroke-width="1.8" fill="none" stroke-linejoin="round"/>
<path d="M212.6,216.9l1.4 0.4 1.5 0.5 1.4-0.1 1.4 0.4 1.5-0.3 1.4 0.7 1.5-0.5 1.4 0.2 1.4 0.1 1.5 0.1 1.4-0.1 1.4 0.7 1.5-0.8 1.4 0.1 1.4-0.8 1.5 0.5 1.4-0.2 1.5 0.4 1.4 0.2 1.4 0.6 1.5-0.1 1.4 0 1.4 0.9 1.5-0.7 1.4 0 1.4-0.4 1.5-0.5 1.4 0.5 1.5-0.5 1.4-0.2 1.4 0.2 1.5 0.6 1.4 0 1.4-0.7 1.5-0.1 1.4 0.1 1.4 1.4 1.5 0.7 1.4-1.5 1.5-0.1 1.4-0.3 1.4 0.3 1.5 0.5 1.4-0.1 1.4 0.2 1.5-0.6 1.4 0.1 1.4 0.9 1.5 0.2 1.4-0.7 1.4-0.2 1.5 0.3 1.4 0 1.5 0.8 1.4 0.1 1.4-0.5 1.5 0.9 1.4-0.8 1.4-0.2 1.5-0.1 1.4-0.1 1.4-0.5 1.5 0.5 1.4 0.8 1.5 0.7 1.4 0.5 1.4-0.9 1.5-0.7 1.4 1 1.4-0.5 1.5 0.3 1.4-0.1 1.4-0.2 1.5 0 1.4 0.6 1.5-0.7 1.4 0.2 1.4 0.9 1.5-0.9 1.4-0.6 1.4 0.6 1.5-0.6 1.4 1.2 1.4-0.1 1.5-0.7 1.4-0.3 1.5 0.3 1.4-0.1 1.4 0.6 1.5-0.2 1.4-0.2 1.4 0 1.5 0.2 1.4-0.1" stroke="#050505" stroke-width="1.8" fill="none" stroke-linejoin="round"/>
<path d="M212.6,217.6l1.4-0.2 1.5 0.9 1.4-0.7 1.4 0.5 1.5-0.1 1.4-0.3 1.5-0.2 1.4 0.7 1.4-0.2 1.5-0.4 1.4 0.1 1.4-0.2 1.5-0.1 1.4-0.1 1.4 0.3 1.5-0.3 1.4-0.2 1.5 0.7 1.4-0.7 1.4 0.5 1.5-0.4 1.4-0.3 1.4-0.1 1.5 0.7 1.4 0.2 1.4 0.1 1.5-0.7 1.4-0.1 1.5 0.8 1.4-0.9 1.4-0.5 1.5 0.6 1.4-0.1 1.4-0.1 1.5 0.5 1.4-0.1 1.4-0.6 1.5 0.3 1.4-0.1 1.5-0.1 1.4-0.8 1.4 0.3 1.5 0.1 1.4 0.4 1.4-0.7 1.5 0.3 1.4 0.1 1.4-0.5 1.5-0.3 1.4 1 1.4 0 1.5-0.7 1.4 0.5 1.5-0.8 1.4 0.5 1.4-0.8 1.5 1 1.4 0.8 1.4 0.1 1.5-1.6 1.4 0.7 1.4 0 1.5 0.1 1.4 0.1 1.5-0.4 1.4-0.1 1.4 0.2 1.5 0.1 1.4-0.9 1.4-0.1 1.5-0.1 1.4-0.2 1.4 0.6 1.5-0.3 1.4-0.5 1.5 1 1.4-0.7 1.4 1.5 1.5 0.2 1.4-0.1 1.4-0.3 1.5-0.1 1.4-0.3 1.4-0.7" stroke="#050505" stroke-width="1.8" fill="none" stroke-linejoin="round"/>
<path d="M212.6,217.6l1.4 0 1.5 0.4 1.4 0.3 1.4-0.5 1.5 0.1 1.4-0.7 1.5 0.1 1.4 1 1.4-0.8 1.5 0.6 1.4-0.1 1.4 0.2 1.5 0 1.4 0 1.4 0.2 1.5-0.1 1.4-0.2 1.5-0.5 1.4-0.1 1.4-0.6 1.5 1.4 1.4 0 1.4-0.8 1.5 0.9 1.4-0.2 1.4-0.4 1.5-0.5 1.4 0.3 1.5 0.2 1.4 0.4 1.4-0.3 1.5 0.2 1.4 0 1.4 0.4 1.5 0 1.4 0.3 1.4 0.3 1.5 0 1.4 0 1.5-0.1 1.4 0 1.4 0.4 1.5-0.6 1.4-0.2 1.4-0.7 1.5 1.6 1.4 0.2 1.4-0.2 1.5 0 1.4-0.5 1.4 0.3 1.5 0.1 1.4-0.6 1.5 0.2 1.4 0.7 1.4-0.8 1.5-0.9 1.4 0.2 1.4 0.7 1.5-0.4 1.4 0.5 1.4 0.3 1.5-0.1 1.4-0.5 1.5 0.3 1.4 0.4 1.4 0.6 1.5-0.5 1.4 0.5" stroke="#050505" stroke-width="1.8" fill="none" stroke-linejoin="round"/>
<path d="M212.6,217.2l1.4 0.6 1.5 0 1.4 0 1.4-0.1 1.5 0.2 1.4-1 1.5-0.2 1.4 0.5 1.4 0.4 1.5-0.8 1.4 0.4 1.4-0.3 1.5-0.3 1.4 0.6 1.4-0.2 1.5-0.1 1.4 0.4 1.5 0 1.4 0.2 1.4 1.3 1.5-0.9 1.4-1.2 1.4-0.2 1.5-0.8 1.4 0.9 1.4 0 1.5 0.7 1.4 0.3 1.5 0.1 1.4-0.5 1.4-0.4 1.5 1.1 1.4-0.8 1.4-0.3 1.5-0.1 1.4 0.9 1.4-0.4 1.5-0.1 1.4 0.7 1.5 0.1 1.4-1.5 1.4 0.8 1.5 0.2 1.4 0.8 1.4-0.4 1.5-1 1.4 0.1 1.4 0.6 1.5-0.2 1.4-0.2 1.4-0.2 1.5 0.6 1.4-0.3 1.5 0.3 1.4 0 1.4 0.2 1.5 0 1.4-0.5 1.4 0.8 1.5-0.6 1.4-1.4 1.4 1.2 1.5 0.1 1.4 0 1.5-0.8 1.4 1.1 1.4-0.5 1.5 0.1 1.4-0.9 1.4 0.7 1.5-0.8 1.4 1.1 1.4-0.2 1.5 0.6 1.4 0 1.5 0.2 1.4-0.2 1.4-1 1.5 0.6 1.4-1.2 1.4 0 1.5 0.6 1.4 0.3 1.4 0 1.5 0.5 1.4-0.4 1.5 0" stroke="#050505" stroke-width="1.8" fill="none" stroke-linejoin="round"/>
<path d="M212.6,217.5l1.4-0.6 1.5-0.4 1.4 0.1 1.4-0.1 1.5 0.2 1.4 0.2 1.5-0.5 1.4-0.4 1.4 0.7 1.5-0.3 1.4 0.8 1.4-0.8 1.5 0.7 1.4-0.1 1.4-0.5 1.5 0.5 1.4 0 1.5-0.5 1.4 0.6 1.4-0.2 1.5-0.4 1.4 0.3 1.4 0.5 1.5 0.1 1.4-0.1 1.4-0.1 1.5-0.3 1.4 0.9 1.5-0.3 1.4-0.3 1.4-0.6 1.5 1.1 1.4 0.2 1.4-0.8 1.5 0.2 1.4-0.4 1.4 0.3 1.5 0.4 1.4-0.1 1.5-0.6 1.4 0.1 1.4 0.2 1.5 0.2 1.4-0.4 1.4 0.1 1.5 0.2 1.4-0.1 1.4 0.2 1.5 0.7 1.4-0.7 1.4-0.3 1.5-0.2 1.4 0.6 1.5 0.7 1.4-0.5 1.4 0.3 1.5 0.7 1.4-0.6 1.4 0.2 1.5-0.3 1.4 0.2 1.4-0.6 1.5-0.1 1.4 0.1 1.5-0.3 1.4 0.7 1.4-1 1.5 1.4 1.4-0.5 1.4-0.3 1.5 0.5 1.4 0 1.4 0.6 1.5-0.2 1.4-0.3 1.5 0.6 1.4 0.5 1.4-0.5 1.5 0 1.4 0.1 1.4-0.3 1.5 0.4 1.4-0.9 1.4-0.3 1.5 0.4 1.4 0.4 1.5-0.1 1.4 0 1.4 0.4 1.5 0" stroke="#050505" stroke-width="1.8" fill="none" stroke-linejoin="round"/>
<path d="M212.6,215.8l1.4 0.5 1.5 0.1 1.4 0 1.4 0.2 1.5-0.4 1.4 0.5 1.5-0.8 1.4-0.1 1.4 0.2 1.5-0.2 1.4-0.2 1.4 0.6 1.5 0.1 1.4 0.2 1.4 0 1.5 0.1 1.4-0.2 1.5-0.3 1.4-0.8 1.4 0.6 1.5-0.1 1.4 0.5 1.4-0.6 1.5 0.5 1.4 0.3 1.4 0.1 1.5 0 1.4 0.1 1.5-0.1 1.4-0.8 1.4 0.5 1.5 0.6 1.4 0.7 1.4-0.6 1.5 0.3 1.4 0 1.4-0.4 1.5-0.2 1.4-0.2 1.5-0.3 1.4 0.8 1.4 0.2 1.5 0.2 1.4 0.1 1.4-0.1 1.5 0.1 1.4-0.7 1.4 0.6 1.5-1.2 1.4 1.4 1.4-0.7 1.5 0.8 1.4-0.2 1.5 0.3 1.4-0.4 1.4-0.4 1.5 0.3 1.4 0.2 1.4 0.3 1.5 0 1.4 0 1.4 0 1.5-0.4 1.4-0.4 1.5 0.5 1.4 0.8 1.4-0.4 1.5-0.7 1.4 0.6 1.4-0.4 1.5 0.6 1.4 0.2 1.4-0.5 1.5 0.7 1.4-0.4 1.5 0.9 1.4-0.4 1.4-0.7 1.5 0.1 1.4 0.2 1.4-0.5 1.5 0.5 1.4 0.3 1.4-0.2 1.5-0.3 1.4-0.1 1.5 0.1" stroke="#050505" stroke-width="1.8" fill="none" stroke-linejoin="round"/>
<path d="M212.6,215.5l1.4 0.1 1.5 0.3 1.4-0.9 1.4 1.3 1.5-0.3 1.4 0.4 1.5-1.2 1.4 0.4 1.4-0.1 1.5 0.2 1.4-0.4 1.4 0.7 1.5-0.3 1.4 1 1.4-0.7 1.5-0.4 1.4-0.1 1.5 0.1 1.4 1.1 1.4-0.4 1.5 0 1.4-0.8 1.4 0.2 1.5 0 1.4-0.3 1.4 0.2 1.5 0.9 1.4 0.1 1.5 0.6 1.4-1.2 1.4 0.2 1.5 0.5 1.4-0.6 1.4 0.2 1.5 0 1.4-0.7 1.4 1.3 1.5 0.1 1.4-0.5 1.5-0.1 1.4-0.7 1.4 0.5 1.5-0.3 1.4-0.6 1.4 1.2 1.5 0.4 1.4-0.1 1.4-0.3 1.5 0.3 1.4-0.5 1.4 0.3 1.5-0.8 1.4 0.1 1.5-0.1 1.4 0.2 1.4 0 1.5 0.9 1.4-0.4 1.4 0.6 1.5-1.1 1.4 0.6 1.4 0.2 1.5-0.2 1.4-1.2 1.5 1 1.4-0.8 1.4 0.4 1.5-1 1.4 0.9 1.4 0.5 1.5-0.1 1.4 0.2 1.4 0.2" stroke="#050505" stroke-width="1.8" fill="none" stroke-linejoin="round"/>
<path d="M212.6,214.9l1.4 0.4 1.5-0.4 1.4 0 1.4-0.2 1.5-0.3 1.4 0.1 1.5 0.9 1.4-0.7 1.4 1.4 1.5-1.1 1.4-0.4 1.4 0.9 1.5-0.7 1.4 1.1 1.4-0.9 1.5 0.3 1.4 0.1 1.5 0 1.4 0.1 1.4-0.5 1.5 0.2 1.4 0 1.4 0 1.5 0.2 1.4 0.3 1.4-0.6 1.5-0.3 1.4 0.8 1.5-0.7 1.4-0.4 1.4 0.4 1.5-0.4 1.4 1.4 1.4-1.1 1.5 0.6 1.4-0.3 1.4 0.5 1.5-1.4 1.4 0.8 1.5-0.2 1.4 0.9 1.4-0.2 1.5-0.4 1.4 0.1 1.4 0.3 1.5-0.9 1.4 1.1 1.4-0.4 1.5 0 1.4 0.1 1.4-0.4 1.5 0 1.4 0.2 1.5-0.3 1.4 0.2 1.4-0.2 1.5-0.4 1.4 0.3 1.4 0.2 1.5 0.3 1.4-0.7 1.4-0.1 1.5 0.2 1.4 0.1 1.5 0.6 1.4-0.2 1.4-0.2 1.5 0.6 1.4 0.1 1.4-0.3 1.5-1 1.4 0.3 1.4 0.9 1.5-0.9" stroke="#050505" stroke-width="1.8" fill="none" stroke-linejoin="round"/>
<path d="M212.6,214.2l1.4 0 1.5 0.6 1.4 0 1.4-1 1.5 0.2 1.4-1.5 1.5 2.4 1.4 0.7 1.4-0.2 1.5 0.2 1.4-0.1 1.4-0.6 1.5-0.4 1.4 1.1 1.4-0.5 1.5-0.3 1.4 0.2 1.5-0.3 1.4-0.1 1.4 0.9 1.5-0.1 1.4 0 1.4 0.6 1.5-0.1 1.4-0.6 1.4 0.1 1.5 0.2 1.4-1 1.5 0.5 1.4 0.1 1.4 0.8 1.5-0.6 1.4 0.6 1.4 0.1 1.5 0.2 1.4 0.4 1.4-0.6 1.5 0.6 1.4-0.7 1.5 0.6 1.4-0.7 1.4 0.1 1.5-0.2 1.4 0.9 1.4-0.4 1.5-0.2 1.4 0.2 1.4 0.3 1.5 0.3 1.4 1.3 1.4-1.2 1.5 0.4 1.4 0.1 1.5-0.6 1.4 1.2 1.4-0.4 1.5-0.8 1.4 0.1 1.4 0.2 1.5 0.3 1.4-0.3 1.4 0.7 1.5-0.2 1.4-0.6 1.5 0.6 1.4-0.2 1.4 0.1 1.5 0.5 1.4 0.5 1.4-0.3 1.5-0.1 1.4 0.1" stroke="#050505" stroke-width="1.8" fill="none" stroke-linejoin="round"/>
<path d="M212.6,214.9l1.4-0.1 1.5-0.2 1.4 0.1 1.4 0.7 1.5-0.9 1.4 0.2 1.5-0.1 1.4 0.8 1.4-0.7 1.5-0.8 1.4 0.6 1.4-0.1 1.5 0.7 1.4 0 1.4 0.1 1.5-0.3 1.4 0.1 1.5 0 1.4 0.6 1.4 0.3 1.5-0.4 1.4-1.2 1.4 1.1 1.5-0.3 1.4-0.4 1.4 0.7 1.5 0.8 1.4-0.7 1.5 0 1.4 0.4 1.4-0.9 1.5 0 1.4 0.4 1.4 0.7 1.5-0.9 1.4-0.2 1.4 0 1.5-0.3 1.4 1.1 1.5 0.4 1.4-0.7 1.4-0.1 1.5 0.2 1.4 0.3 1.4-0.5 1.5 0.1 1.4-0.2 1.4 0.9 1.5-0.3 1.4-0.2 1.4-0.3 1.5 1.1 1.4-0.3 1.5 0.1 1.4-0.2 1.4 0 1.5-0.2 1.4-0.3 1.4 0.2 1.5 0.2 1.4-0.3 1.4-0.4 1.5 0.5 1.4 0.6 1.5-0.9 1.4 0 1.4-0.5 1.5 1" stroke="#050505" stroke-width="1.8" fill="none" stroke-linejoin="round"/>
<path d="M212.6,214.5l1.4 0 1.5-0.1 1.4 0.6 1.4-0.8 1.5 0.7 1.4 0.9 1.5-1 1.4 0.2 1.4-0.6 1.5 0.4 1.4 0.3 1.4 0.4 1.5-0.3 1.4-0.5 1.4-1.3 1.5 0.3 1.4 0.6 1.5-0.7 1.4 0.3 1.4 1 1.5 0.3 1.4 0 1.4-0.4 1.5-0.4 1.4 0.1 1.4 0 1.5 0.2 1.4-0.4 1.5-0.5 1.4 0.7 1.4-0.8 1.5 0.6 1.4 0 1.4-0.9 1.5 0.2 1.4 0.3 1.4 1 1.5-0.6 1.4 0 1.5-0.1 1.4-0.6 1.4 0.5 1.5-0.8 1.4 0.4 1.4 0.1 1.5 0.3 1.4-0.1 1.4-0.6 1.5 0.3 1.4 0.6 1.4 0.1 1.5-0.8 1.4 0 1.5 0.6 1.4-0.1 1.4-0.2 1.5-0.2 1.4 0.6 1.4-0.3 1.5 0.5 1.4 0 1.4-0.3 1.5-0.8 1.4 0.3 1.5-0.6 1.4 0.3 1.4-0.3 1.5 0.6 1.4 0.9 1.4 0.5 1.5-0.7 1.4-1.2 1.4 0.5 1.5 0.3 1.4-0.4 1.5 0.3 1.4 0.1" stroke="#050505" stroke-width="1.8" fill="none" stroke-linejoin="round"/>
<path d="M212.6,213.6l1.4-0.1 1.5 0.4 1.4 0.2 1.4-1 1.5 0.8 1.4 0.2 1.5-0.2 1.4-0.1 1.4-0.2 1.5-0.6 1.4-0.2 1.4 0.6 1.5 0.1 1.4-0.3 1.4 0.4 1.5 0 1.4 0.6 1.5-0.5 1.4 0 1.4 0.7 1.5-0.6 1.4-1 1.4 0.4 1.5 0.7 1.4-0.7 1.4 0.2 1.5 0.1 1.4-0.5 1.5 0.1 1.4-0.5 1.4 1.1 1.5 0.2 1.4-0.1 1.4-0.1 1.5 0.6 1.4-0.5 1.4 0.6 1.5-0.2 1.4-0.2 1.5-0.3 1.4-0.1 1.4 0.5 1.5-0.4 1.4-0.1 1.4 0.2 1.5 0 1.4 0.2 1.4-1 1.5-0.1 1.4 0.5 1.4-0.4 1.5 0.9 1.4 0.2 1.5-0.1 1.4-0.3 1.4 0.2 1.5 0.3 1.4 0.4 1.4 0 1.5-0.9 1.4-0.2 1.4 0.9 1.5-1.2 1.4 0.6 1.5 0.2 1.4 0 1.4-0.1 1.5 0.1 1.4-0.1 1.4-0.4 1.5-0.2 1.4 0.7 1.4 0 1.5 0.2 1.4 0 1.5-0.2 1.4 0 1.4-0.3 1.5 0.5 1.4-0.4 1.4-0.3 1.5 0.4 1.4 0.1 1.4-0.4 1.5 0.4 1.4 0.1 1.5-0.3 1.4 1.2 1.4-1 1.5-0.2 1.4-0.2 1.4 0.8" stroke="#050505" stroke-width="1.8" fill="none" stroke-linejoin="round"/>
<path d="M212.6,213.2l1.4-0.4 1.5-0.1 1.4 0.4 1.4 0.1 1.5-0.8 1.4 0.2 1.5-0.3 1.4 1 1.4-0.4 1.5 0.3 1.4 0.1 1.4-0.8 1.5 0.8 1.4 0.2 1.4 0 1.5-0.2 1.4-0.2 1.5-0.3 1.4-0.4 1.4 0.2 1.5-0.6 1.4 0.2 1.4 0.3 1.5 0.4 1.4-0.6 1.4 0.6 1.5-0.4 1.4 0.3 1.5 0.4 1.4-0.4 1.4-0.2 1.5 0.1 1.4-0.3 1.4 0.3 1.5 0.5 1.4-0.1 1.4-0.9 1.5 1 1.4 0.7 1.5-0.6 1.4 0.3 1.4-1 1.5 0.2 1.4 0.6 1.4-0.2 1.5 0.3 1.4-0.5 1.4-0.4 1.5-0.3 1.4 0 1.4 0.5 1.5-0.4 1.4 0.2 1.5 0.8 1.4-0.8 1.4 0.7 1.5 0.1 1.4 0.4 1.4-0.1 1.5 0.5 1.4-0.2 1.4-0.3 1.5 0.1 1.4-0.3 1.5-0.7 1.4 0.3 1.4-0.2 1.5-0.4 1.4 0.6 1.4-0.7 1.5 0.4 1.4 0.2 1.4-0.1 1.5-0.5 1.4 1 1.5-0.7 1.4 0.5 1.4-0.1 1.5 0.4 1.4 0.9 1.4-1.4 1.5-0.3 1.4 0.7 1.4 0.2 1.5 0.2" stroke="#050505" stroke-width="1.8" fill="none" stroke-linejoin="round"/>
<path d="M212.6,212.8l1.4-0.9 1.5 0.7 1.4 0.9 1.4-0.7 1.5 0.5 1.4 0.5 1.5-0.7 1.4 0 1.4-0.1 1.5-0.3 1.4-0.2 1.4 1.4 1.5-0.6 1.4-0.6 1.4-0.2 1.5 0.9 1.4 0.8 1.5-0.1 1.4-0.7 1.4 0.1 1.5-0.4 1.4 0.3 1.4 0.6 1.5 0.2 1.4-0.4 1.4-0.5 1.5-0.5 1.4 1 1.5-0.3 1.4 0.1 1.4 0.6 1.5 0.2 1.4-1.1 1.4 0.5 1.5 0 1.4-0.2 1.4 0 1.5-0.1 1.4 0.6 1.5 0.1 1.4-0.3 1.4-0.1 1.5 0.5 1.4 0.6 1.4-0.9 1.5-0.3 1.4-0.2 1.4 0.5 1.5 0.9 1.4-0.3 1.4-1.1 1.5 0.3 1.4 0.2 1.5 0.9 1.4-0.1 1.4-0.7 1.5 0 1.4 0.3 1.4-0.5 1.5 0 1.4 0.2 1.4 0.3 1.5-0.1 1.4-0.3 1.5 0.3 1.4 0.8 1.4-0.2" stroke="#050505" stroke-width="1.8" fill="none" stroke-linejoin="round"/>
<path d="M212.6,213.0l1.4-0.2 1.5-0.5 1.4 0.5 1.4 0.3 1.5-0.4 1.4 0 1.5 0.6 1.4-0.3 1.4 0 1.5-0.1 1.4 0.9 1.4 0.5 1.5 0 1.4 0.1 1.4-1.2 1.5-0.4 1.4 0.9 1.5-0.9 1.4 0.9 1.4 0.2 1.5-1.3 1.4 1.1 1.4-0.5 1.5-0.2 1.4-0.2 1.4 0.2 1.5 0.2 1.4-0.4 1.5 0.5 1.4 0.2 1.4-0.1 1.5 0.3 1.4 0.1 1.4-0.6 1.5-0.4 1.4 0.4 1.4 0.4 1.5 0.4 1.4 0.1 1.5 0 1.4 0 1.4-0.1 1.5 0.1 1.4-0.6 1.4 0.9 1.5-0.1 1.4-0.5 1.4 0.3 1.5 0.2 1.4-0.4 1.4 0.2 1.5 0.4 1.4-0.3 1.5-0.3 1.4 1 1.4-0.9 1.5 0.9 1.4-0.7 1.4 0.7 1.5-0.5 1.4 0 1.4-0.5 1.5 0.4 1.4 0.2 1.5 0.3 1.4-0.3 1.4 0.1 1.5-0.5 1.4 0.1 1.4-0.3 1.5 0.1 1.4 0.3 1.4 0.2 1.5-0.2 1.4-0.1 1.5 0.9 1.4-0.4 1.4 0.2 1.5-0.2 1.4-0.3 1.4 1.1 1.5-0.4 1.4-0.6 1.4 1 1.5-0.5 1.4-0.1 1.5 0.3 1.4-0.6 1.4-0.1 1.5 0.3 1.4-0.5 1.4-0.2 1.5 0.6" stroke="#050505" stroke-width="1.8" fill="none" stroke-linejoin="round"/>
<path d="M212.6,211.6l1.4-0.1 1.5-0.4 1.4 0.2 1.4 0.2 1.5 0.3 1.4-0.1 1.5-0.5 1.4 0.6 1.4 0.3 1.5 0.4 1.4-1.4 1.4 0.9 1.5 0.3 1.4 0.2 1.4-0.7 1.5 0.1 1.4 1.1 1.5-0.6 1.4-0.9 1.4 0.5 1.5 0.1 1.4-1.2 1.4 1 1.5 0.4 1.4-0.3 1.4-0.9 1.5 0.6 1.4 1.1 1.5-0.2 1.4-0.1 1.4-0.4 1.5 0.3 1.4 0 1.4 0.6 1.5 0.2 1.4-0.5 1.4-0.9 1.5 0.9 1.4 0.6 1.5-1.1 1.4 0 1.4-0.1 1.5 0.3 1.4 0 1.4 0.1 1.5 0 1.4-0.7 1.4 0.7 1.5 0.2 1.4-0.1 1.4 0.1 1.5-0.8 1.4 0.6 1.5-0.1 1.4 0.7 1.4-0.5 1.5-0.2 1.4-0.1 1.4 1 1.5-0.1 1.4 0.9 1.4-1.6 1.5 0.2 1.4-0.7 1.5-0.3 1.4 0.2 1.4 0.9 1.5 0.1 1.4-0.4 1.4 1.1 1.5-1.1 1.4-0.4 1.4 0.1 1.5 0.6 1.4-0.1 1.5 0.9 1.4 0 1.4-0.2 1.5 0 1.4-1 1.4 0.2 1.5 1.3 1.4-1.1 1.4-0.1 1.5 0.3" stroke="#050505" stroke-width="1.8" fill="none" stroke-linejoin="round"/>
<path d="M212.6,212.1l1.4-1.1 1.5 0.4 1.4 0.1 1.4 1 1.5-0.2 1.4-0.7 1.5 0.1 1.4 0.4 1.4 0 1.5 0.6 1.4 0.6 1.4-1.1 1.5 0.5 1.4 0.3 1.4-0.8 1.5-0.5 1.4 0.4 1.5-0.5 1.4 0.3 1.4 1.6 1.5-1.6 1.4 0.7 1.4-1 1.5 0.5 1.4 0.1 1.4 0.2 1.5 0.4 1.4-0.6 1.5-0.7 1.4-0.1 1.4 0.9 1.5-0.2 1.4-0.3 1.4 0.1 1.5 0.9 1.4-1.2 1.4 0.9 1.5 0.3 1.4-0.3 1.5-0.1 1.4 0.3 1.4 0.5 1.5 0.1 1.4-0.5 1.4 0.7 1.5-1.1 1.4-0.2 1.4 0.2 1.5 0.1 1.4 0.5 1.4 0 1.5-0.6 1.4 0.5 1.5-0.8 1.4 0 1.4 0.1 1.5 0.5 1.4 0.5 1.4-0.2 1.5 0.4 1.4-0.2 1.4 0 1.5 0 1.4-0.7 1.5 0.7 1.4 0.2 1.4-0.8 1.5 0.1 1.4 0 1.4 0.5 1.5-0.2 1.4-0.6 1.4 0.4 1.5 0 1.4-0.3 1.5 0.1 1.4-0.2 1.4 1.1 1.5 0.6 1.4-0.1 1.4-0.7 1.5 0.3 1.4 0.7 1.4-1.5 1.5-0.3 1.4 0.8 1.5 0.3 1.4 0.2" stroke="#050505" stroke-width="1.8" fill="none" stroke-linejoin="round"/>
<path d="M212.6,211.2l1.4 0 1.5 0.1 1.4-0.5 1.4 0.9 1.5 0.4 1.4-0.4 1.5-0.1 1.4-0.1 1.4-0.1 1.5 0.8 1.4-1.1 1.4 1.1 1.5-0.5 1.4-0.2 1.4-0.3 1.5 0.2 1.4 0.5 1.5-0.1 1.4 0.5 1.4-0.3 1.5-0.1 1.4 0.7 1.4-1.6 1.5 0.7 1.4-0.2 1.4-0.5 1.5 0.5 1.4 0.3 1.5 0.5 1.4 0 1.4 0 1.5-0.3 1.4-0.5 1.4 0.1 1.5-0.6 1.4 0.3 1.4 0.2 1.5 1.6 1.4-0.8 1.5-0.4 1.4 0.6 1.4-0.4 1.5 0.2 1.4-0.2 1.4-0.1 1.5 0 1.4 0 1.4-0.3 1.5 0 1.4 0.4 1.4-0.5 1.5 0.2 1.4-0.1 1.5-0.6 1.4-0.2 1.4-0.3 1.5 1 1.4 0 1.4 0 1.5 0.2 1.4 0.2 1.4-0.4 1.5-0.2 1.4-0.6 1.5 1 1.4 0 1.4 0.5 1.5-0.1 1.4 1 1.4-1.7 1.5 1.1 1.4-0.4 1.4 0.7 1.5-0.4 1.4 0.2 1.5 0.6 1.4-0.3 1.4-0.5 1.5-0.2 1.4 0.8 1.4-0.9 1.5 0.1" stroke="#050505" stroke-width="1.8" fill="none" stroke-linejoin="round"/>
<path d="M212.6,211.3l1.4-1 1.5 0.7 1.4-0.2 1.4-0.6 1.5 0.4 1.4 0.2 1.5-0.3 1.4 0.5 1.4-0.1 1.5 0.1 1.4 0.2 1.4-0.5 1.5 0.1 1.4-0.5 1.4 0.3 1.5 1 1.4-0.5 1.5 0.1 1.4 0.1 1.4-0.5 1.5 0 1.4 1 1.4-1.3 1.5 0.5 1.4 0.9 1.4-0.3 1.5-0.4 1.4 0.5 1.5 0.1 1.4 0.5 1.4-0.7 1.5 0.1 1.4-0.9 1.4 0.2 1.5 0.2 1.4 0.4 1.4-0.5 1.5 0.8 1.4-0.4 1.5-0.2 1.4 0.5 1.4 0.3 1.5-0.9 1.4-0.6 1.4 0.5 1.5-0.5 1.4 0.4 1.4 0.5 1.5 0.3 1.4 0.5 1.4-0.8 1.5 0.4 1.4 0.2 1.5-0.4 1.4-0.2 1.4 0.5 1.5-0.2 1.4 0.1 1.4-0.1 1.5 0.1 1.4 0.1 1.4 1 1.5-0.4 1.4-1 1.5 0.3 1.4 0 1.4-0.3 1.5 0.7 1.4-0.2 1.4 0 1.5-0.2 1.4-0.2 1.4 0.2 1.5 0.2 1.4-0.4 1.5 0.2 1.4 0.8 1.4-0.9 1.5 0 1.4 0.5 1.4 0 1.5 0.4 1.4-0.4 1.4 0.6 1.5-0.9 1.4 0 1.5 0.6 1.4-0.4 1.4 0.7 1.5-0.1 1.4 0.2 1.4-0.7 1.5-0.3" stroke="#050505" stroke-width="1.8" fill="none" stroke-linejoin="round"/>
<path d="M212.6,211.0l1.4-0.4 1.5-0.3 1.4 0.3 1.4-1.1 1.5 1.4 1.4-0.8 1.5-0.3 1.4 0.7 1.4 0.6 1.5-0.8 1.4 1.4 1.4-0.6 1.5 0.5 1.4-0.5 1.4 0.1 1.5 0.4 1.4-0.7 1.5-0.5 1.4 1 1.4-0.6 1.5 0.1 1.4 0.4 1.4 0.1 1.5-0.4 1.4-0.4 1.4 0.5 1.5 1.2 1.4-1.1 1.5-0.1 1.4 1 1.4-0.3 1.5-0.3 1.4 0.1 1.4-0.3 1.5 0.5 1.4-0.5 1.4 1.4 1.5-0.9 1.4 0.1 1.5-0.2 1.4-0.3 1.4-0.5 1.5 1 1.4-0.1 1.4 0.4 1.5-0.3 1.4 0.2 1.4 0.3 1.5-0.9 1.4 0.1 1.4 0.2 1.5-0.5 1.4 1.2 1.5-0.5 1.4-0.7 1.4 0.6 1.5 0.5 1.4 0.2 1.4-0.9 1.5-0.2 1.4 0.3 1.4-0.2 1.5 0.7 1.4 0.2 1.5-0.5 1.4 0.6 1.4-0.2 1.5 0 1.4 0.4 1.4-0.3 1.5 0.5 1.4 0 1.4 0.6 1.5-0.1 1.4-0.2 1.5-0.6 1.4 0 1.4 0.5 1.5-0.2 1.4-1.2 1.4 0.6 1.5 0.1 1.4 1.2 1.4-0.3 1.5-0.9 1.4 0.9 1.5 0.1 1.4 0 1.4-0.3 1.5-0.4 1.4 1 1.4-0.8 1.5 1.3" stroke="#050505" stroke-width="1.8" fill="none" stroke-linejoin="round"/>
<path d="M212.6,210.7l1.4-0.4 1.5 0.7 1.4 0.1 1.4-0.1 1.5-1 1.4 0.9 1.5-0.5 1.4-0.6 1.4 0.9 1.5 0.5 1.4-0.1 1.4 0.4 1.5-0.1 1.4 0.3 1.4 0.4 1.5 0.2 1.4-1.1 1.5 0.4 1.4 0.4 1.4-0.8 1.5 0.3 1.4 0.2 1.4 0.3 1.5-0.2 1.4 0.1 1.4 0.2 1.5-0.1 1.4-0.4 1.5 0.4 1.4-0.6 1.4 0 1.5 1 1.4 0.3 1.4 0.3 1.5-0.1 1.4-0.7 1.4 0.3 1.5 0.2 1.4-0.1 1.5 1 1.4-0.8 1.4 0.1 1.5-0.4 1.4 0.4 1.4-0.5 1.5-0.1 1.4 0.6 1.4-0.2 1.5 0.7 1.4 0.2 1.4 0.2 1.5-0.2 1.4 0.4 1.5 0.1 1.4-0.3 1.4 0.5 1.5-0.8 1.4 0.5 1.4-0.1 1.5 0 1.4-0.5 1.4 0 1.5 0.4 1.4 0.4 1.5-0.5 1.4 0.3 1.4 0.6 1.5-0.4 1.4-0.3 1.4 0.3 1.5 0.1 1.4-0.6 1.4 0.7 1.5-0.3 1.4-0.4 1.5-0.2 1.4 1.3 1.4-0.3 1.5 0.1 1.4-0.9 1.4 0.2 1.5 0.2 1.4 0.1 1.4 0.3 1.5 0.9 1.4-1.2" stroke="#050505" stroke-width="1.8" fill="none" stroke-linejoin="round"/>
<path d="M212.6,210.3l1.4-0.8 1.5-0.3 1.4 0.1 1.4-0.3 1.5 0.4 1.4-0.3 1.5 0.2 1.4 0.5 1.4-0.6 1.5 0.5 1.4-0.4 1.4 0.7 1.5-0.4 1.4-0.3 1.4-0.3 1.5 0.9 1.4 0 1.5-0.2 1.4 0.4 1.4-0.6 1.5-1 1.4 0.4 1.4 0.1 1.5 0.8 1.4-0.4 1.4-0.1 1.5-0.7 1.4 0.8 1.5-0.5 1.4 0.6 1.4 0.2 1.5 0.1 1.4-0.3 1.4 0.7 1.5-0.2 1.4-1 1.4 1.2 1.5-0.8 1.4-0.2 1.5 0.4 1.4 0.4 1.4-0.8 1.5 0.4 1.4-0.1 1.4 0.1 1.5 0.5 1.4-0.8 1.4-0.1 1.5 0.7 1.4-0.7 1.4 0.8 1.5 0.3 1.4-0.8 1.5 0.2 1.4-0.1 1.4-0.7 1.5 0.9 1.4-0.4 1.4 0.3 1.5-0.1 1.4 0.1 1.4 0.3 1.5-0.3 1.4 0.4 1.5-0.3 1.4 0.3 1.4-0.2 1.5-0.3 1.4 0.7 1.4-0.4 1.5-0.5 1.4 0.1 1.4-0.4 1.5 0.8 1.4-0.5 1.5 0 1.4 1.4 1.4-0.8 1.5-0.6 1.4 0.2 1.4 0 1.5 0.1 1.4 0 1.4 0.4 1.5 0 1.4 0.7 1.5-1.7 1.4 0.3 1.4 0.1" stroke="#050505" stroke-width="1.8" fill="none" stroke-linejoin="round"/>
<path d="M212.6,208.9l1.4 0 1.5 0.3 1.4 0.8 1.4 0.1 1.5-1.2 1.4 0.1 1.5 0 1.4 0.8 1.4 0 1.5-0.3 1.4 0.4 1.4-0.7 1.5 0.6 1.4 0.1 1.4 0.4 1.5-0.5 1.4-0.6 1.5 0.3 1.4 0.2 1.4 0.3 1.5-0.4 1.4 0.2 1.4-0.7 1.5 0.7 1.4 0.4 1.4 0.2 1.5 0.7 1.4-0.7 1.5-0.2 1.4 0.7 1.4 0.1 1.5 0 1.4-0.3 1.4 0.3 1.5-0.8 1.4-0.4 1.4 0.7 1.5 0 1.4 0.5 1.5-0.9 1.4 0.8 1.4 0.2 1.5-0.3 1.4 0.3 1.4-1.5 1.5 0.9 1.4 0.3 1.4 0.5 1.5-0.2 1.4 0.1 1.4 0 1.5-0.6 1.4 0.5 1.5-0.2 1.4 0.4 1.4-0.6 1.5 0.6 1.4 0.4 1.4-0.2 1.5-0.7 1.4 0.5 1.4 0.4 1.5-0.2 1.4 0.3 1.5-0.4 1.4 0.4 1.4-0.4 1.5-0.3 1.4 0.1 1.4-0.4 1.5 0.4 1.4-0.5 1.4 0.1 1.5 0.7 1.4-0.2 1.5 0.7 1.4 0 1.4-0.1 1.5 0.4 1.4-0.4 1.4 0.1 1.5-0.9 1.4 0.3" stroke="#050505" stroke-width="1.8" fill="none" stroke-linejoin="round"/>
<path d="M212.6,209.1l1.4 0.3 1.5 0 1.4 0.1 1.4 0.1 1.5-0.3 1.4 0.6 1.5-0.3 1.4-0.4 1.4 0.4 1.5 0.4 1.4-0.2 1.4-0.6 1.5 0.5 1.4-0.8 1.4 1.2 1.5 0.1 1.4-0.6 1.5-0.6 1.4 0.6 1.4 0.9 1.5-0.3 1.4 0.2 1.4 0 1.5-0.1 1.4 0 1.4-0.1 1.5-0.2 1.4 0.2 1.5 0.8 1.4-0.5 1.4 1 1.5-0.8 1.4-0.1 1.4 0.2 1.5-1.2 1.4-0.2 1.4 0.1 1.5 0.5 1.4 0.6 1.5-0.2 1.4-0.6 1.4 0.6 1.5 0.2 1.4 0.4 1.4-0.1 1.5-0.5 1.4 0.7 1.4-0.6 1.5 0.2 1.4-0.8 1.4 0.6 1.5-0.2 1.4 0.9 1.5-1.1 1.4 0.6 1.4 0.4 1.5-0.6 1.4 0.4 1.4 0.8 1.5-0.5 1.4-0.1 1.4 0.2 1.5 0.3 1.4 0.7 1.5-1.3 1.4 0.6 1.4-0.2 1.5 0.4 1.4 0.3 1.4-0.4 1.5 0.5 1.4-0.7 1.4 1 1.5-0.7 1.4-0.4 1.5 0.6 1.4-0.1 1.4-0.3 1.5 0.5 1.4 0.1 1.4 0.1 1.5-1.3 1.4 1.2 1.4 0.1" stroke="#050505" stroke-width="1.8" fill="none" stroke-linejoin="round"/>
<path d="M212.6,209.2l1.4 0.1 1.5 0.2 1.4 0 1.4-0.4 1.5-0.6 1.4-0.4 1.5 1.1 1.4 0.3 1.4-0.3 1.5 0.3 1.4 0 1.4-0.3 1.5 0.1 1.4 0.2 1.4-0.5 1.5 0.3 1.4-0.1 1.5-0.3 1.4-0.3 1.4 0.1 1.5-0.3 1.4 0.3 1.4 0.8 1.5-1 1.4-1 1.4 0.5 1.5-0.1 1.4 0.1 1.5 0.8 1.4-0.2 1.4 0.5 1.5 0.1 1.4-0.5 1.4 0.1 1.5 0.3 1.4 0.5 1.4-0.8 1.5 0 1.4 0 1.5 0.4 1.4 0.1 1.4-0.3 1.5 0.8 1.4-1.2 1.4 0.2 1.5-0.5 1.4-0.1 1.4 0.7 1.5-0.3 1.4 0.7 1.4 0.1 1.5-1 1.4 0.5 1.5 0.3 1.4-0.5 1.4 0.1 1.5-0.4 1.4 0.8 1.4-0.1 1.5 0.3 1.4-0.4 1.4 0 1.5 0.3 1.4 0.4 1.5 0 1.4-1 1.4 0.2 1.5 0.4 1.4-0.4 1.4 0.4 1.5-0.8 1.4-0.2 1.4 0.3 1.5 0.3 1.4 0.7 1.5-0.8 1.4-0.9 1.4 0.4 1.5 0.5 1.4-0.4 1.4 0.4 1.5 0.5 1.4-0.3 1.4-0.5 1.5 1" stroke="#050505" stroke-width="1.8" fill="none" stroke-linejoin="round"/>
<path d="M212.6,207.4l1.4-0.4 1.5 0.6 1.4 0.4 1.4 0.5 1.5-0.7 1.4 0.2 1.5-0.7 1.4-0.4 1.4 0 1.5 0.5 1.4 1.1 1.4-1.1 1.5 0.5 1.4 0.1 1.4-0.6 1.5 0 1.4 0.7 1.5-0.1 1.4-0.1 1.4 0 1.5 0.4 1.4-1.1 1.4 0.4 1.5-0.3 1.4-0.2 1.4-0.6 1.5 0.4 1.4 0.8 1.5 0.1 1.4-0.5 1.4-0.6 1.5 1.2 1.4-1.1 1.4 0.8 1.5 0 1.4 0.2 1.4-0.4 1.5 0.2 1.4-0.1 1.5 0.4 1.4-0.9 1.4 0.2 1.5 0.2 1.4-0.9 1.4 0.3 1.5-0.2 1.4 0.7 1.4 0 1.5 0.1 1.4-0.4 1.4 0.1 1.5 1 1.4-0.7 1.5 0.1 1.4-0.2 1.4-0.4 1.5 0.4 1.4-0.3 1.4 0.2 1.5 0.1 1.4 0.2 1.4-0.1 1.5 0.1 1.4-0.5 1.5 1.2 1.4-0.9 1.4 0 1.5 0.4 1.4-0.7 1.4 0.2 1.5-0.3 1.4-0.4 1.4 0.3 1.5 1 1.4 0.3 1.5-0.6 1.4 0.3 1.4-1.4" stroke="#050505" stroke-width="1.8" fill="none" stroke-linejoin="round"/>
<path d="M212.6,207.7l1.4 0.9 1.5 0.4 1.4-0.5 1.4 0.7 1.5-1 1.4 0.9 1.5-1.1 1.4 0.3 1.4-0.7 1.5 0.9 1.4 0 1.4-0.7 1.5 1 1.4-0.6 1.4-0.6 1.5 1 1.4 0 1.5-0.8 1.4-0.2 1.4-0.1 1.5 0.8 1.4 0.4 1.4 0.1 1.5 0.1 1.4-0.5 1.4-0.1 1.5 0.1 1.4 0.6 1.5-0.4 1.4 0 1.4 0.2 1.5-0.4 1.4 0.6 1.4 0.1 1.5-0.5 1.4 0.8 1.4-0.5 1.5-0.1 1.4-0.3 1.5 0 1.4 0.9 1.4-0.8 1.5 0.8 1.4 0.6 1.4-0.1 1.5 0 1.4 0.3 1.4-0.8 1.5 0 1.4 0 1.4 0.9 1.5-1.1 1.4 0.3 1.5-0.2 1.4 0.3 1.4 0.1 1.5-0.1 1.4 0.3 1.4-0.4 1.5 0.7 1.4 1 1.4-0.4 1.5-0.3 1.4-0.2 1.5 0 1.4-0.1 1.4 0 1.5 0.3 1.4-0.2 1.4 0 1.5 0.6 1.4 0.7 1.4-0.6 1.5-0.4 1.4-0.3 1.5-0.1 1.4 0.4 1.4-0.3 1.5 0.7 1.4 0.3 1.4-0.7 1.5 0.9 1.4-0.2" stroke="#050505" stroke-width="1.8" fill="none" stroke-linejoin="round"/>
<path d="M212.6,243.0l1.4-0.5 1.5-0.5 1.4-0.5 1.4-0.1 1.5 0.2 1.4-0.8 1.5-0.8 1.4-0.8 1.4 0.1 1.5-0.1 1.4-0.1 1.4-1.2 1.5 0.3 1.4-0.2 1.4-0.5 1.5-0.3 1.4-0.5 1.5-0.5 1.4-1 1.4-0.1 1.5-0.2 1.4 0.6 1.4-1.7 1.5-0.1 1.4-0.4 1.4 0.2 1.5-0.3 1.4-0.2 1.5-0.3 1.4-0.3 1.4-0.9 1.5-0.6 1.4 0 1.4-0.1 1.5-0.7 1.4-0.1 1.4-0.5 1.5 0.1 1.4-1.1 1.5 0.2 1.4-0.6 1.4-1 1.5 0.1 1.4 0 1.4-0.6 1.5-0.8 1.4 1.1 1.4-0.6 1.5-0.5 1.4-0.9 1.4 0.5 1.5-1.1 1.4-0.2 1.5-0.6 1.4 0.3 1.4-1.2 1.5-1.2 1.4 0.5 1.4-0.3 1.5 0.4 1.4 0.7 1.4-1.2 1.5-0.6 1.4-0.8 1.5-0.2 1.4 0.3 1.4 0.3 1.5-1.7 1.4-0.7 1.4 0 1.5-0.2 1.4-0.7 1.4 0.1 1.5 0.1 1.4-1.3 1.5 0.5 1.4-0.5 1.4-1.1 1.5-0.3 1.4-0.6 1.4-0.6 1.5 0.1 1.4 0.6 1.4 0.1 1.5 0 1.4-1.5 1.5 0.2 1.4-0.8 1.4-0.5 1.5-0.6 1.4-0.2 1.4-0.9 1.5-0.2 1.4-0.6 1.4 0.1 1.5-0.2 1.4-0.4 1.5-0.5 1.4-0.5 1.4 0.1 1.5-0.7 1.4-1.4" stroke="#1a3cf2" stroke-width="1.7" fill="none" stroke-linejoin="round"/>
<path d="M212.6,245.7l1.4-1.4 1.5-0.4 1.4-0.3 1.4-0.1 1.5 0 1.4-0.9 1.5-0.1 1.4-1.3 1.4-0.1 1.5-0.9 1.4 0.2 1.4 0.5 1.5-0.8 1.4-0.4 1.4-0.7 1.5 1 1.4-1 1.5-1.2 1.4 0 1.4 0.8 1.5-1.1 1.4-0.7 1.4-0.8 1.5-0.2 1.4 0.5 1.4-1.1 1.5-0.3 1.4-0.6 1.5 0.2 1.4-0.7 1.4 0.9 1.5-0.2 1.4-1.2 1.4-1.1 1.5-0.1 1.4-0.1 1.4-0.1 1.5-0.1 1.4-1 1.5 0.8 1.4-0.9 1.4-1.1 1.5 0.8 1.4 0.3 1.4-0.6 1.5-0.9 1.4-0.8 1.4 0 1.5-0.8 1.4 0 1.4 0.3 1.5-1.3 1.4-0.2 1.5 0 1.4 0.2 1.4 0.3 1.5-0.8 1.4-1.3 1.4 0.1 1.5 0 1.4-0.5 1.4-1 1.5-0.6 1.4-0.7 1.5 0.5 1.4-1.2 1.4-0.6 1.5 0.1 1.4-0.5 1.4-0.7 1.5 0.1 1.4 0.4 1.4-0.7 1.5-0.4 1.4-0.5 1.5-1.3 1.4 0.5 1.4 0.1 1.5-0.9 1.4 0.1 1.4 0.3 1.5-0.8 1.4-0.8 1.4 0.7 1.5-1.5 1.4-0.8 1.5 0.8 1.4-0.5 1.4-0.5 1.5-0.4 1.4-0.3 1.4-0.5 1.5 0.3" stroke="#1a3cf2" stroke-width="1.7" fill="none" stroke-linejoin="round"/>
<path d="M212.6,246.9l1.4-0.3 1.5-0.5 1.4-1.1 1.4 0 1.5 0.6 1.4-0.6 1.5-1 1.4-0.7 1.4-0.2 1.5 0.5 1.4-0.3 1.4-0.1 1.5 0.5 1.4-0.6 1.4-0.2 1.5 0.2 1.4-0.7 1.5-0.2 1.4-0.4 1.4-0.7 1.5 0.4 1.4-0.6 1.4-0.5 1.5-0.3 1.4-0.3 1.4-0.2 1.5 0.5 1.4 0.2 1.5-0.7 1.4-0.6 1.4-0.1 1.5-0.3 1.4-0.4 1.4-1.3 1.5 0.2 1.4-0.6 1.4-0.3 1.5 0 1.4-0.6 1.5 0.4 1.4-0.3 1.4 0.2 1.5-0.6 1.4-0.8 1.4 0.3 1.5-0.4 1.4-0.2 1.4-0.4 1.5-0.1 1.4-0.6 1.4 0.3 1.5-0.6 1.4-1.2 1.5 0.7 1.4-0.8 1.4 0.3 1.5-0.2 1.4-1.3 1.4-0.1 1.5-0.2 1.4-0.7 1.4 0 1.5 0.2 1.4 0.8 1.5-1.2 1.4-1.1 1.4 0.5 1.5 0.3 1.4 0.2 1.4-1.2 1.5 0.8 1.4-1.2 1.4-0.8 1.5 0.1 1.4 0.2 1.5-0.5 1.4-1.2 1.4 0.7 1.5-0.1 1.4-0.9 1.4 0.1 1.5-1 1.4 0.3 1.4 0.2 1.5 0 1.4-0.7 1.5-1.1 1.4 0 1.4 0.1 1.5 0.3 1.4-0.9 1.4-0.1 1.5-1.6 1.4 0.9 1.4 0.2 1.5-0.1 1.4-0.9 1.5-0.7 1.4-0.2 1.4-0.7 1.5-0.2 1.4 0.3 1.4-1.1 1.5 0.6 1.4-0.5" stroke="#1a3cf2" stroke-width="1.7" fill="none" stroke-linejoin="round"/>
<path d="M212.6,251.3l1.4-0.8 1.5 0 1.4-0.3 1.4 0.7 1.5-0.8 1.4-0.6 1.5-1 1.4 0.9 1.4-0.1 1.5-1.2 1.4-1.3 1.4 0.4 1.5 0.9 1.4 0 1.4-0.8 1.5-0.3 1.4-0.9 1.5-0.8 1.4-0.3 1.4 0.4 1.5-0.1 1.4-0.5 1.4-0.6 1.5-0.5 1.4 0 1.4-0.8 1.5-0.3 1.4 0.1 1.5-0.4 1.4-0.9 1.4-0.1 1.5 0.2 1.4-0.2 1.4-0.8 1.5-0.2 1.4-0.2 1.4 0.2 1.5-0.4 1.4-0.5 1.5-1.1 1.4 0.8 1.4-0.6 1.5 0.1 1.4 0 1.4-1.8 1.5 0.7 1.4-1 1.4-0.5 1.5-0.1 1.4-0.1 1.4-0.1 1.5-0.5 1.4-0.4 1.5-0.4 1.4-0.3 1.4 0.7 1.5-0.1 1.4-0.8 1.4-0.5 1.5 0.2 1.4-1.2 1.4-0.4 1.5-0.2 1.4-0.6 1.5-0.3 1.4 0.1 1.4 0 1.5-0.9 1.4 0.2 1.4-0.1 1.5-0.1 1.4-0.9 1.4-0.4 1.5-0.1 1.4-0.8 1.5 0.4 1.4-0.9 1.4 0.2 1.5-0.4 1.4-0.2 1.4-0.5 1.5-0.9 1.4 0.4 1.4-0.9 1.5-0.5 1.4 0.2 1.5 0.1 1.4 0.1 1.4-0.7 1.5-1.8 1.4 0.6 1.4-0.1 1.5 0.2 1.4-0.7 1.4-0.4 1.5-0.7 1.4-0.9 1.5 0 1.4 0.6 1.4-0.3 1.5 0.2 1.4-0.5 1.4 0.1 1.5-1.4 1.4 0.9" stroke="#1a3cf2" stroke-width="1.7" fill="none" stroke-linejoin="round"/>
<path d="M212.6,261.6l1.4 0 1.5 0.6 1.4-1 1.4-0.7 1.5-0.6 1.4 0.6 1.5-0.4 1.4 0 1.4-0.7 1.5 0.3 1.4-0.5 1.4 0.6 1.5 0 1.4 0 1.4-0.5 1.5 0.2 1.4-0.7 1.5 0 1.4 0.2 1.4-0.8 1.5-0.8 1.4-0.1 1.4-0.1 1.5 0.1 1.4-0.1 1.4 0.5 1.5-1.6 1.4 0.9 1.5-0.1 1.4-0.1 1.4-0.1 1.5-0.8 1.4 0 1.4-0.2 1.5-0.6 1.4 0.4 1.4 0 1.5-0.9 1.4 0 1.5 0.5 1.4-1 1.4 0.4 1.5-0.6 1.4-0.4 1.4-0.4 1.5-0.2 1.4 0.1 1.4-0.3 1.5 0.5 1.4-0.8 1.4 0.6 1.5-1.1 1.4 0.1 1.5-0.8 1.4 0 1.4-0.3 1.5 0.1 1.4-0.1 1.4-0.5 1.5-0.4 1.4 0.2 1.4 1 1.5-1.1 1.4-0.7 1.5-0.7 1.4 0.4 1.4-0.6 1.5 1.8 1.4-1 1.4-0.3 1.5-1.5 1.4 0.4 1.4-1.3 1.5 0.6 1.4 0.3 1.5 0 1.4 0.1 1.4-0.6 1.5-0.3 1.4 0.2 1.4-1.3 1.5-0.2 1.4 0.4 1.4-0.4 1.5 0.1 1.4 0.1 1.5 0 1.4-0.2 1.4-1.3 1.5-0.5 1.4 0.5 1.4 0.1 1.5-0.7 1.4 0.5 1.4-0.7 1.5 0.7" stroke="#1a3cf2" stroke-width="1.7" fill="none" stroke-linejoin="round"/>
<path d="M212.6,232.2l1.4-0.2 1.5-0.1 1.4-0.4 1.4 0 1.5 0.8 1.4 0.7 1.5 0.6 1.4-0.3 1.4-0.6 1.5 0 1.4-1.6 1.4 0.6 1.5 0.2 1.4 0.2 1.4 0.2 1.5-0.2 1.4-0.4 1.5 0.3 1.4-0.3 1.4-0.3 1.5 0.4 1.4-0.1 1.4 0.1 1.5-0.3 1.4 0 1.4 0.3 1.5-0.4 1.4-0.1 1.5 0.4 1.4 0.8 1.4-1.1 1.5 0.3 1.4-0.1 1.4 0.2 1.5 0.3 1.4 0.5 1.4-0.4 1.5-0.1 1.4-0.3 1.5 0.2" stroke="#1a3cf2" stroke-width="1.7" fill="none" stroke-linejoin="round"/>
<path d="M212.6,233.2l1.4-0.4 1.5 0.2 1.4 0.3 1.4-0.4 1.5 0.2 1.4 0.4 1.5 0.2 1.4-0.1 1.4-0.1 1.5 0.6 1.4-0.1 1.4-0.4 1.5-0.3 1.4-0.2 1.4-0.5 1.5 0.6 1.4-1 1.5 0.2 1.4 1.3 1.4-0.6 1.5 0.2 1.4-0.7 1.4-0.8 1.5 1.2 1.4-0.3 1.4 0.4 1.5 0.3 1.4-0.9 1.5-0.4 1.4 0.6 1.4 0 1.5 0.4 1.4-0.1 1.4-0.3 1.5-0.1 1.4-0.5 1.4 0.1 1.5 0.1 1.4-0.1 1.5-0.2 1.4-0.1 1.4 0.8 1.5-0.2 1.4-0.4 1.4 0.4 1.5 0.4 1.4-0.1 1.4 0.1" stroke="#1a3cf2" stroke-width="1.7" fill="none" stroke-linejoin="round"/>
<path d="M212.6,267.5l1.4-0.2 1.5-0.6 1.4 0.8 1.4-0.9 1.5-0.7 1.4-1.2 1.5 0.8 1.4-0.4 1.4 0.9 1.5-1.1 1.4-0.8 1.4 0.2 1.5 0.3 1.4-1 1.4 0.7 1.5-1.2 1.4 0.7 1.5-0.6 1.4-0.2 1.4-0.2 1.5 0.1 1.4 0.1 1.4-1.2 1.5-0.1 1.4 0.4 1.4 0.2 1.5-1 1.4-0.8 1.5 0.2 1.4 0.2 1.4-0.6 1.5-0.3 1.4-0.6 1.4 0.3 1.5 0.2 1.4-0.4 1.4 0.3 1.5-0.1 1.4-0.5 1.5-0.4 1.4-0.4 1.4 0.4 1.5-0.5 1.4-1.4 1.4 1 1.5-0.4 1.4-0.2 1.4-0.7 1.5 0.2 1.4-1.4 1.4 0.6 1.5-0.3 1.4-0.2 1.5-0.8 1.4 0.1 1.4 0.7 1.5-0.6 1.4 0 1.4-1 1.5-0.2 1.4-0.1 1.4 0 1.5 0.1 1.4-0.9 1.5-0.4 1.4-0.9 1.4 0.7 1.5-0.5 1.4 0.7 1.4-0.7 1.5-0.1 1.4 0.3 1.4-0.2 1.5-0.6 1.4-0.2 1.5-0.2 1.4-0.2 1.4-0.3 1.5-0.1 1.4 0.4 1.4-0.8 1.5-1.2 1.4 0.3 1.4-0.1 1.5 0.2 1.4-0.1 1.5-0.1 1.4 0 1.4-0.7 1.5 0 1.4-0.7 1.4-0.3 1.5 0.4 1.4-1.6 1.4 0.4 1.5-0.2" stroke="#1a3cf2" stroke-width="1.7" fill="none" stroke-linejoin="round"/>
<path d="M212.6,266.0l1.4 0.2 1.5-0.7 1.4-0.7 1.4 0.8 1.5-0.9 1.4-0.5 1.5-1.1 1.4 1.1 1.4-0.3 1.5-1.2 1.4 0.3 1.4-0.7 1.5 0.3 1.4 0 1.4-1 1.5 0 1.4 0.1 1.5-0.6 1.4-1 1.4 0.1 1.5-1.2 1.4 1 1.4-1.2 1.5 0 1.4-0.4 1.4-0.3 1.5 0.2 1.4-0.1 1.5 0.3 1.4-0.4 1.4-0.3 1.5-1.1 1.4 0.2 1.4-0.6 1.5-0.1 1.4-1.4 1.4 0.8 1.5 0.2 1.4-0.9 1.5 0.7 1.4-0.8 1.4 0 1.5-0.2 1.4-0.6 1.4-1.4 1.5-0.1 1.4-0.2 1.4-0.1 1.5-0.2 1.4 0.2 1.4-0.4 1.5-0.2 1.4-0.6 1.5-0.5 1.4 0.5 1.4 0.1 1.5-1.4 1.4 0.5 1.4-1 1.5-1.3 1.4 0.1 1.4 0.3 1.5 0.1 1.4-0.3 1.5-0.6 1.4-1.4 1.4 0.3 1.5 0.5 1.4-0.9 1.4 0.3 1.5-0.7 1.4 0 1.4-0.1 1.5-0.5 1.4 0.1 1.5 0.1 1.4-0.4 1.4-0.4 1.5-0.1 1.4-0.8 1.4-0.2 1.5-0.3 1.4 0.1 1.4-0.5 1.5-0.5 1.4 0.1 1.5-0.2 1.4-0.5 1.4-0.3 1.5 0.1 1.4-0.8 1.4-0.3 1.5-0.9" stroke="#1a3cf2" stroke-width="1.7" fill="none" stroke-linejoin="round"/>
<path d="M212.6,265.5l1.4 0 1.5-0.8 1.4-1.2 1.4-0.2 1.5 0.2 1.4 0.3 1.5-0.5 1.4 0 1.4 0 1.5-0.6 1.4 0 1.4-0.3 1.5-0.1 1.4-0.4 1.4-0.6 1.5-0.2 1.4-0.3 1.5 0.3 1.4 0.2 1.4-0.8 1.5-0.4 1.4-0.6 1.4 0.5 1.5-1 1.4 0 1.4 0.2 1.5-0.2 1.4-0.4 1.5-1.1 1.4 0.3 1.4-0.4 1.5 0.3 1.4 0.1 1.4-0.4 1.5 0.2 1.4-0.8 1.4-0.4 1.5-1.2 1.4 0.4 1.5-0.7 1.4-0.2 1.4-0.3 1.5 0 1.4 0 1.4-0.4 1.5-0.7 1.4 0.6 1.4 0.2 1.5-0.4 1.4 0.1 1.4-0.6 1.5-0.4 1.4-0.1 1.5-0.4 1.4-1 1.4 0.1 1.5-0.7 1.4 0.2 1.4-0.2 1.5 0.5 1.4-1.2 1.4-0.2 1.5-0.7 1.4 0.3 1.5 0.2 1.4-1.3 1.4 0.8 1.5 0.6" stroke="#1a3cf2" stroke-width="1.7" fill="none" stroke-linejoin="round"/>
<path d="M212.6,264.1l1.4 0.4 1.5 0.1 1.4-0.8 1.4 0 1.5-1.3 1.4-0.8 1.5-0.4 1.4 0.9 1.4-0.5 1.5 0.3 1.4 0 1.4-0.4 1.5-0.3 1.4-0.5 1.4 0 1.5-1 1.4 0.8 1.5-0.7 1.4 0.5 1.4-1 1.5-0.8 1.4-0.6 1.4 0.1 1.5 0 1.4 0.3 1.4-0.2 1.5-0.5 1.4 0.1 1.5 0.1 1.4-1.3 1.4-0.3 1.5-0.2 1.4 0.1 1.4-0.6 1.5 0.2 1.4-0.5 1.4-0.2 1.5-0.2 1.4 0.1 1.5-0.8 1.4 0.3 1.4-1.2 1.5-0.3 1.4 0.3 1.4-0.4 1.5-0.5 1.4 0.1 1.4 0.4 1.5-0.7 1.4-0.1 1.4-0.3 1.5-1.3 1.4 0.3 1.5 0.7 1.4-1 1.4-0.6 1.5 0.5 1.4-0.4 1.4 0 1.5-0.6 1.4-0.8 1.4-1.1 1.5 0.8 1.4-0.1 1.5-0.7 1.4 0.3 1.4-0.6 1.5 0.4 1.4-1.8 1.4 1 1.5-0.5 1.4-0.8 1.4-0.1 1.5-0.5 1.4 0 1.5 0.2 1.4-0.4 1.4-0.3" stroke="#1a3cf2" stroke-width="1.7" fill="none" stroke-linejoin="round"/>
<path d="M212.6,263.3l1.4-0.5 1.5 0.2 1.4 0.1 1.4-1.1 1.5 0 1.4-0.8 1.5-0.5 1.4 0.7 1.4-0.9 1.5 0.2 1.4-0.1 1.4 0.8 1.5-0.5 1.4-0.4 1.4-0.1 1.5 0.1 1.4 0.1 1.5-1 1.4-0.6 1.4-0.6 1.5 0.8 1.4 0.1 1.4-1.7 1.5 0.2 1.4-0.1 1.4-0.7 1.5 0.6 1.4-0.4 1.5-0.7 1.4-0.2 1.4-0.4 1.5 0.2 1.4-0.9 1.4 0.9 1.5 0.5 1.4-0.9 1.4-0.6 1.5-0.3 1.4 0.7 1.5-0.2 1.4-0.7 1.4-1 1.5-0.6 1.4-0.6 1.4 1 1.5-0.2 1.4 0.4 1.4-0.3 1.5-0.2 1.4-0.7 1.4-0.1 1.5-0.7 1.4-0.9 1.5 0.3 1.4 0 1.4-0.3 1.5-0.2 1.4-0.2 1.4 0 1.5-0.5 1.4 0 1.4-0.6 1.5-0.3 1.4-0.6 1.5-0.1" stroke="#1a3cf2" stroke-width="1.7" fill="none" stroke-linejoin="round"/>
<path d="M212.6,261.8l1.4-0.1 1.5 0 1.4-0.7 1.4 0.2 1.5-0.6 1.4-1 1.5 0.6 1.4-0.6 1.4-0.4 1.5 0 1.4-0.7 1.4 0.3 1.5 0.3 1.4-0.9 1.4-0.4 1.5-0.3 1.4-0.5 1.5 0.5 1.4-0.1 1.4-1.4 1.5 0.3 1.4-0.7 1.4-0.1 1.5 0.8 1.4-0.5 1.4-1.8 1.5 0.3 1.4-0.3 1.5 0.7 1.4-0.5 1.4 0.1 1.5-0.5 1.4-0.6 1.4 0.1 1.5 0.1 1.4-1 1.4-0.5 1.5 0.1 1.4 0 1.5-0.9 1.4-0.1 1.4-0.8 1.5-0.2 1.4 0.2 1.4-0.7 1.5 0.9 1.4-0.3 1.4-0.7 1.5-0.8 1.4-0.4 1.4-0.2 1.5 0.4 1.4-0.4 1.5-1.2 1.4-0.1 1.4-0.3 1.5 0.1 1.4 0.5 1.4-0.4 1.5-1.1 1.4 0.4 1.4-0.9 1.5-0.2 1.4 0.8 1.5-0.7 1.4-0.2 1.4-0.4" stroke="#1a3cf2" stroke-width="1.7" fill="none" stroke-linejoin="round"/>
<path d="M212.6,259.5l1.4 1 1.5 0.3 1.4-0.5 1.4-0.5 1.5-0.3 1.4-0.2 1.5 0.4 1.4-0.3 1.4-1.2 1.5 0.2 1.4-0.2 1.4 0.1 1.5 0 1.4 0.7 1.4-0.7 1.5-1.3 1.4 1.5 1.5-0.7 1.4 0.5 1.4-0.7 1.5-0.2 1.4 0 1.4 0.4 1.5-0.2 1.4-1 1.4 0.3 1.5-0.1 1.4-0.4 1.5 0.3 1.4-0.1 1.4 0.4 1.5-1.5 1.4 0.2 1.4-0.2 1.5 0.4 1.4 0.3 1.4-0.8 1.5 0.2 1.4-0.3 1.5 0.4 1.4-1.5 1.4 0.5 1.5-0.1 1.4-0.4 1.4 0.7 1.5-0.4 1.4 0.4 1.4-0.1 1.5-0.9 1.4-0.6 1.4 0.1 1.5 0.5 1.4-0.2 1.5-0.6 1.4 0.3 1.4-0.1 1.5-0.3 1.4-0.5 1.4 0.4 1.5 0.5 1.4-0.4 1.4-0.3 1.5-0.2 1.4-0.4 1.5-0.6 1.4 0.2 1.4-0.2 1.5 0.4 1.4-0.3 1.4-0.4 1.5 0.5 1.4-0.8 1.4 0.4 1.5-0.2 1.4-0.5 1.5-0.3 1.4 0.1 1.4 0.2 1.5-1.1 1.4 0.4 1.4 0 1.5-0.1 1.4-0.1 1.4 0 1.5 0.1 1.4 0.2 1.5 0 1.4-0.9 1.4-0.9 1.5 0.3 1.4 0.1 1.4 0.1" stroke="#1a3cf2" stroke-width="1.7" fill="none" stroke-linejoin="round"/>
<path d="M212.6,259.7l1.4-1.1 1.5 0.2 1.4-0.2 1.4-0.4 1.5 1.5 1.4-1.2 1.5-0.2 1.4-0.3 1.4-0.2 1.5-0.5 1.4-0.2 1.4-0.7 1.5 0.6 1.4-0.3 1.4-0.5 1.5 0.4 1.4-0.2 1.5-0.5 1.4-0.1 1.4-0.1 1.5-0.3 1.4-1.3 1.4 0.9 1.5 0.4 1.4-0.5 1.4 0.6 1.5-0.5 1.4 0.3 1.5-1.4 1.4-0.4 1.4 0.1 1.5 0.9 1.4-0.3 1.4-0.3 1.5-2 1.4 1.1 1.4-0.3 1.5-0.7 1.4-0.2 1.5 0.2 1.4 0.1 1.4-0.9 1.5 0.2 1.4 0.5 1.4-0.3 1.5-0.3 1.4-1.1 1.4 0.2 1.5 0.6 1.4-0.5 1.4-0.8 1.5 0.4 1.4-0.2 1.5 0.1 1.4-0.7 1.4-0.3 1.5 0 1.4-0.4 1.4-0.4 1.5 0.2 1.4-0.3 1.4-0.5 1.5 0.1 1.4 0.5 1.5-0.9 1.4-0.2 1.4-0.4 1.5-0.2 1.4-0.8 1.4 1 1.5-1.3 1.4 0 1.4-0.2 1.5 0.6 1.4-0.4 1.5-0.1 1.4-0.5 1.4 0.7 1.5-0.6 1.4 0.5 1.4-1.8 1.5 0.5 1.4 0.1 1.4-0.2 1.5-0.7 1.4-0.5 1.5-0.2 1.4 0.9" stroke="#1a3cf2" stroke-width="1.7" fill="none" stroke-linejoin="round"/>
<path d="M212.6,258.2l1.4-0.4 1.5-0.1 1.4-0.4 1.4 0.3 1.5 0 1.4 0.7 1.5-0.7 1.4-0.6 1.4-0.1 1.5 0.3 1.4-0.3 1.4-0.2 1.5 0.3 1.4-0.2 1.4-0.4 1.5-0.5 1.4-0.8 1.5 1 1.4-0.1 1.4-0.6 1.5 0.3 1.4-0.5 1.4 0.9 1.5-1.3 1.4-0.2 1.4 0.2 1.5 0.7 1.4-0.3 1.5 0 1.4-1 1.4 0.4 1.5-0.3 1.4-0.3 1.4 0.2 1.5 0.2 1.4 0.6 1.4-1.2 1.5-0.7 1.4 0.2 1.5 0.5 1.4-0.5 1.4 0 1.5 1.1 1.4-0.8 1.4 0.4 1.5-0.7 1.4 0.1 1.4-0.9 1.5 0.6 1.4-0.6 1.4-0.1 1.5 0.5 1.4-0.6 1.5 0 1.4 0.1 1.4 0.2 1.5-0.7 1.4-0.1 1.4-0.2 1.5-0.3 1.4-0.8 1.4 0.4 1.5-0.1 1.4-0.7 1.5 0.6 1.4-0.7 1.4 0 1.5 1.1 1.4-1.3 1.4 0.2 1.5 0.5 1.4-0.3 1.4-0.4 1.5-0.2 1.4-1 1.5 1.3 1.4-0.6 1.4 0.2 1.5-0.1 1.4-0.1 1.4 0 1.5-1.1 1.4 0.2 1.4 0.1 1.5-0.2 1.4 0.6 1.5-0.4" stroke="#1a3cf2" stroke-width="1.7" fill="none" stroke-linejoin="round"/>
<path d="M212.6,257.7l1.4 0.2 1.5-1.1 1.4 0.1 1.4-0.3 1.5 0.4 1.4-0.2 1.5-0.1 1.4-0.4 1.4-0.1 1.5-0.2 1.4 0.4 1.4-0.5 1.5-0.2 1.4-0.2 1.4 0.2 1.5-0.2 1.4-0.1 1.5-0.2 1.4-0.1 1.4 0.2 1.5 0 1.4-0.4 1.4 0.3 1.5 0.7 1.4-0.9 1.4-0.3 1.5-0.5 1.4-0.4 1.5-0.1 1.4 0.2 1.4-0.2 1.5 0.7 1.4-0.9 1.4 0.3 1.5 0 1.4-0.7 1.4 0.2 1.5 0.1 1.4-0.3 1.5 0.1 1.4-0.8 1.4 0.5 1.5-0.4 1.4-0.7 1.4 0 1.5-1 1.4 0.2 1.4 0.3 1.5 0.7 1.4-0.7 1.4-0.6 1.5-0.1 1.4 0 1.5-0.1 1.4 0.2 1.4-0.2 1.5-0.1 1.4 0 1.4-0.6 1.5 0.6 1.4-0.8 1.4 0.5 1.5 0.3 1.4-0.3 1.5 0 1.4-0.3 1.4-0.6 1.5-0.5 1.4-0.1 1.4 1.4 1.5-1.3 1.4 0.4 1.4-0.5 1.5-0.6 1.4-0.3 1.5-0.4 1.4 0.5 1.4 0.6 1.5 0.1 1.4-1.4 1.4 0.5 1.5-0.1 1.4 0.1 1.4 0.2 1.5-1.1 1.4-0.4 1.5 0.3 1.4-0.2 1.4 0.5 1.5-0.2 1.4 0.1 1.4-0.8" stroke="#1a3cf2" stroke-width="1.7" fill="none" stroke-linejoin="round"/>
<path d="M212.6,255.8l1.4 0.4 1.5 0.6 1.4-1 1.4-1 1.5 0.9 1.4-1.1 1.5 0.2 1.4 0 1.4 0.7 1.5-0.4 1.4 0.3 1.4-1 1.5-1.1 1.4 0.4 1.4 0.4 1.5 0.1 1.4-0.4 1.5-0.3 1.4-0.8 1.4 0.2 1.5 0 1.4 0.4 1.4 0 1.5-0.6 1.4-0.2 1.4-0.1 1.5-0.5 1.4-0.7 1.5 0.7 1.4-0.5 1.4-0.5 1.5 0.5 1.4 0.3 1.4 0.1 1.5-0.8 1.4-0.3 1.4-0.3 1.5-0.4 1.4-0.4 1.5-0.3 1.4-0.4 1.4 0.5 1.5 0 1.4 0.3 1.4 0.2 1.5-0.6 1.4 0.2 1.4-1.1 1.5 0.4 1.4-1 1.4 0.6 1.5-0.1 1.4-0.7 1.5-0.1 1.4-0.6 1.4 0.7 1.5-0.5 1.4 0.2 1.4-0.4 1.5 0.5 1.4-0.1 1.4-0.4 1.5-0.6 1.4 0.4" stroke="#1a3cf2" stroke-width="1.7" fill="none" stroke-linejoin="round"/>
<path d="M212.6,255.1l1.4 0.4 1.5-0.5 1.4-1.2 1.4 0.5 1.5 0.7 1.4 0 1.5-0.2 1.4-0.5 1.4-0.5 1.5-0.6 1.4 0.4 1.4-0.4 1.5 0.1 1.4-0.4 1.4-0.4 1.5-0.1 1.4 1 1.5-0.8 1.4 0.2 1.4 0.8 1.5-1 1.4-0.1 1.4 0.4 1.5 0.3 1.4-1 1.4-0.4 1.5-0.3 1.4 0.1 1.5-0.9 1.4 0.8 1.4-0.1 1.5-0.2 1.4-0.8 1.4-0.2 1.5 0.7 1.4-0.6 1.4 0.6 1.5-0.6 1.4 0.8 1.5 0.4 1.4-1.3 1.4-0.2 1.5 0.2 1.4 0.6 1.4-0.4 1.5-0.1 1.4-0.8 1.4 0 1.5 0.8 1.4-0.3 1.4 0 1.5-0.3 1.4 0.1 1.5-1.1 1.4-0.4 1.4 0.3 1.5 0.3 1.4 0.2 1.4-0.5 1.5-1.2 1.4 0.1 1.4 0.1 1.5-0.3 1.4 0.6 1.5 0.1 1.4-0.4 1.4 0.5 1.5-1 1.4 0.4 1.4 0.4 1.5-0.9 1.4 0.1 1.4 0 1.5-0.8" stroke="#1a3cf2" stroke-width="1.7" fill="none" stroke-linejoin="round"/>
<path d="M212.6,252.4l1.4 0.6 1.5-0.8 1.4 0.8 1.4-1.1 1.5 0.1 1.4 0 1.5-0.8 1.4 0.1 1.4 0.9 1.5-0.7 1.4-0.6 1.4-0.4 1.5-0.5 1.4 0.6 1.4 0.5 1.5 0.2 1.4-0.5 1.5-0.2 1.4-0.6 1.4-1 1.5 0.6 1.4 0.4 1.4-0.5 1.5-0.4 1.4-0.5 1.4-0.6 1.5 0.1 1.4 0 1.5 0.4 1.4-0.5 1.4-0.5 1.5 0.3 1.4-0.9 1.4 0.3 1.5-0.3 1.4 0.8 1.4-1 1.5 0.1 1.4 0 1.5-0.3 1.4-0.3 1.4 0.2 1.5 0.3 1.4-0.8 1.4-0.5 1.5-0.1 1.4 0.1 1.4-0.1 1.5 0.6 1.4-0.5 1.4-0.2 1.5-0.4 1.4 0.7 1.5-0.3 1.4-0.6 1.4 0.3 1.5-0.2 1.4-1.5 1.4 0.2 1.5 0 1.4-0.3 1.4 0.3 1.5-0.6 1.4 0 1.5 0.2 1.4-0.6 1.4-0.6 1.5 0 1.4 0.5 1.4-0.6 1.5 0.1 1.4-0.2 1.4-0.5 1.5-0.4 1.4-0.4 1.5 0.3 1.4-1.3 1.4 0.1 1.5 0.1 1.4-0.6" stroke="#1a3cf2" stroke-width="1.7" fill="none" stroke-linejoin="round"/>
<path d="M212.6,252.5l1.4-0.5 1.5-0.1 1.4 0.6 1.4-0.5 1.5-0.3 1.4-0.1 1.5-0.3 1.4 0.1 1.4 0.6 1.5-0.1 1.4 0.2 1.4 0.1 1.5-1.5 1.4-0.1 1.4-0.3 1.5 1 1.4-0.7 1.5 0.2 1.4-0.5 1.4-0.3 1.5-0.4 1.4 0.7 1.4-0.7 1.5-0.3 1.4 0.2 1.4 0.6 1.5 0.2 1.4 0.2 1.5-0.1 1.4-1.2 1.4 0.6 1.5-0.2 1.4-0.7 1.4 0.1 1.5-0.5 1.4-0.6 1.4 0.5 1.5-0.5 1.4-0.4 1.5 0.3 1.4-0.5 1.4 0.3 1.5-0.1 1.4-0.5 1.4 0.3 1.5 0 1.4-0.4 1.4-0.5 1.5 0.7 1.4-0.8 1.4 0.1 1.5-0.1 1.4-0.6 1.5 0.7 1.4 0.2 1.4 0 1.5-0.6 1.4-0.4 1.4 0.6 1.5-0.7 1.4 0.4 1.4-0.6 1.5-1.1 1.4-0.1" stroke="#1a3cf2" stroke-width="1.7" fill="none" stroke-linejoin="round"/>
<path d="M212.6,251.5l1.4-0.6 1.5-0.3 1.4 1.2 1.4-0.4 1.5-1 1.4-0.4 1.5 0.5 1.4-0.6 1.4-0.4 1.5 0 1.4-0.2 1.4-1 1.5 0 1.4-0.1 1.4 0.9 1.5-0.3 1.4-0.8 1.5-0.2 1.4 0 1.4 0.3 1.5-0.7 1.4-0.1 1.4 0.5 1.5-1.8 1.4 0.4 1.4 0.8 1.5 0 1.4-0.5 1.5-0.4 1.4-0.1 1.4-0.4 1.5-1 1.4 0.6 1.4-0.9 1.5-0.3 1.4 0.7 1.4 0.2 1.5-1 1.4-0.6 1.5-0.2 1.4-0.2 1.4 0.5 1.5-0.6 1.4 0.4 1.4-0.7 1.5-0.5 1.4-0.2 1.4-0.5 1.5 0 1.4-0.3 1.4 0.2 1.5-0.8 1.4 0.4 1.5-0.7 1.4 0.6 1.4 0.3 1.5-0.6 1.4-0.2 1.4 0 1.5 0 1.4-0.9 1.4-0.2 1.5-0.4 1.4 0.3 1.5-0.4 1.4 0.4 1.4-0.2 1.5-0.8 1.4-0.4 1.4 0 1.5-0.6 1.4 0.6 1.4-0.9 1.5 0.2 1.4 0 1.5 0.2 1.4-1.1 1.4 0.6 1.5-1 1.4-0.5 1.4 1.1 1.5-0.5 1.4 0.2 1.4-0.3 1.5-0.5 1.4-0.2" stroke="#1a3cf2" stroke-width="1.7" fill="none" stroke-linejoin="round"/>
<path d="M212.6,250.9l1.4-0.3 1.5 0.6 1.4-0.2 1.4-0.2 1.5-0.3 1.4-1.2 1.5-0.2 1.4-0.5 1.4 0.7 1.5-0.8 1.4 0.4 1.4-1.1 1.5-0.3 1.4-0.8 1.4-0.5 1.5-0.6 1.4 0.1 1.5-0.4 1.4 0.2 1.4-1.6 1.5 0.2 1.4 0.4 1.4-0.5 1.5-0.9 1.4 0.3 1.4-0.9 1.5 0.1 1.4-0.9 1.5 0 1.4 0.3 1.4-0.7 1.5-0.8 1.4 0.9 1.4-0.4 1.5-0.9 1.4 0.1 1.4 0.2 1.5-1 1.4-0.3 1.5-0.4 1.4-0.3 1.4-0.6 1.5 0.1 1.4 0.1 1.4-0.7 1.5-0.5 1.4-0.4 1.4-0.4 1.5-0.1 1.4 0.2 1.4-1 1.5-1.1 1.4-0.1 1.5-0.1 1.4-0.4 1.4 0 1.5 0.3 1.4 0.1 1.4-1 1.5-0.1 1.4-0.3 1.4-0.9 1.5-0.8 1.4-0.7 1.5 1 1.4-0.5 1.4-0.2 1.5-0.6 1.4-0.4 1.4-0.6 1.5 0 1.4 0.1 1.4 0.3 1.5-1.9 1.4 0.3 1.5-0.7 1.4-0.2 1.4-0.6 1.5-0.1 1.4-0.7 1.4 0.5 1.5-0.7 1.4-0.5 1.4 0.3 1.5-0.1 1.4-0.3 1.5-1.3 1.4 0.2 1.4-0.8 1.5 0.1 1.4-0.4 1.4-0.6 1.5-0.2 1.4 0 1.4-0.1 1.5-1.4 1.4-0.5" stroke="#1a3cf2" stroke-width="1.7" fill="none" stroke-linejoin="round"/>
<path d="M212.6,250.3l1.4 0.2 1.5-0.5 1.4-1 1.4 0.7 1.5-0.3 1.4-0.4 1.5 0.1 1.4-0.2 1.4-0.7 1.5 0.1 1.4-0.1 1.4-0.4 1.5 0.4 1.4-0.6 1.4-0.8 1.5-0.5 1.4 1 1.5-0.5 1.4-1.2 1.4 0.7 1.5 0 1.4-0.7 1.4 0.1 1.5-0.1 1.4-0.2 1.4-0.6 1.5-0.4 1.4-0.4 1.5 0.6 1.4 0.2 1.4-1.3 1.5-0.1 1.4-0.3 1.4-0.4 1.5-0.8 1.4-0.2 1.4 0.5 1.5-0.6 1.4-0.2 1.5-0.7 1.4-0.1 1.4-0.8 1.5-0.4 1.4 0.6 1.4 0.6 1.5-0.6 1.4 0.2 1.4-0.4 1.5-0.7 1.4 0.3 1.4 0.6 1.5-0.6 1.4-0.2 1.5 0.1 1.4-1.1 1.4-0.5 1.5-0.2 1.4-0.6 1.4 0.2 1.5-1.1 1.4 0.3 1.4-0.4 1.5 0.5 1.4-0.5 1.5 0 1.4 0.3 1.4-0.7 1.5 0.1 1.4-0.9 1.4 0.7 1.5 0.2 1.4-1.5 1.4-0.4 1.5 0.1 1.4 0.7 1.5-0.5 1.4-0.8 1.4-1.2 1.5 0.7 1.4-1 1.4 1 1.5-1.3 1.4-0.1 1.4 0.4 1.5-0.9 1.4 0.1 1.5 0.2 1.4-0.2" stroke="#1a3cf2" stroke-width="1.7" fill="none" stroke-linejoin="round"/>
<path d="M212.6,249.5l1.4 0.2 1.5 0 1.4-0.5 1.4-0.3 1.5 0.2 1.4-1.3 1.5-0.9 1.4 0.4 1.4-0.3 1.5 0 1.4 0.3 1.4-0.8 1.5 0.2 1.4 0.1 1.4-0.6 1.5-0.8 1.4-0.1 1.5-0.8 1.4-0.4 1.4-0.4 1.5-0.6 1.4 0.5 1.4-0.6 1.5-0.3 1.4-0.2 1.4 0.2 1.5-0.6 1.4-0.3 1.5-0.5 1.4 0 1.4 0.1 1.5 0.2 1.4-0.7 1.4-1.3 1.5 0.1 1.4-0.1 1.4 0.2 1.5-0.7 1.4-0.3 1.5-0.3 1.4-0.1 1.4 0.2 1.5-0.3 1.4-0.3 1.4-0.2 1.5-0.2 1.4-0.8 1.4-0.4 1.5-0.1 1.4-0.3 1.4-0.9 1.5 0.5 1.4-0.8 1.5 0.8 1.4-1.6 1.4-0.2 1.5-1.1 1.4-0.3 1.4 0.4 1.5-0.3 1.4-0.2 1.4 0.9 1.5-1.2 1.4-0.5 1.5-0.4 1.4-0.1 1.4 0.4 1.5-0.2 1.4 1.1 1.4-1.6 1.5-0.3 1.4-0.3 1.4-1.1 1.5-0.1 1.4 1.1 1.5-1.5 1.4 0.4 1.4-0.2 1.5-0.3 1.4-1.3 1.4 0.5 1.5-0.8 1.4-0.5 1.4 0.8 1.5-1.5" stroke="#1a3cf2" stroke-width="1.7" fill="none" stroke-linejoin="round"/>
<path d="M212.6,249.9l1.4-1.3 1.5 0.3 1.4-0.9 1.4-0.8 1.5 1.5 1.4-0.1 1.5-0.6 1.4-1 1.4-0.9 1.5 0.2 1.4-0.3 1.4-0.4 1.5 0.4 1.4-0.2 1.4-0.6 1.5-0.9 1.4 0.4 1.5-0.7 1.4 0.2 1.4 0.1 1.5-0.7 1.4-0.5 1.4-0.3 1.5 0 1.4-0.2 1.4-1 1.5 0.6 1.4-0.4 1.5-0.1 1.4-0.7 1.4-1.1 1.5 0.3 1.4 0 1.4-0.3 1.5-0.6 1.4-0.1 1.4 0 1.5-0.8 1.4-1 1.5 0.1 1.4 0.2 1.4-1 1.5 0 1.4-0.3 1.4-0.1 1.5-0.5 1.4 0.5 1.4-0.6 1.5-0.4 1.4-0.3 1.4-0.4 1.5-1.6 1.4 1 1.5-0.2 1.4 0.2 1.4-0.7 1.5-0.2 1.4-0.9 1.4 0 1.5-0.2 1.4-0.4 1.4-1.2 1.5-0.2 1.4 0.1 1.5-0.5 1.4 0.3 1.4 0.5 1.5-0.1 1.4-1.1 1.4-0.5 1.5 0 1.4 0 1.4-1 1.5 0.1 1.4 0.1 1.5-1 1.4-0.3 1.4 0.4 1.5-1.4 1.4 0.3 1.4-0.1 1.5-0.1 1.4-0.4 1.4-1.2 1.5 0.2 1.4-0.5 1.5 0.2 1.4-1 1.4-0.5" stroke="#1a3cf2" stroke-width="1.7" fill="none" stroke-linejoin="round"/>
<path d="M212.6,248.4l1.4-0.8 1.5 0.3 1.4 1 1.4-0.1 1.5-0.5 1.4-0.9 1.5-0.2 1.4-0.2 1.4-0.2 1.5 0.1 1.4-0.3 1.4 0.1 1.5-0.4 1.4-0.6 1.4-0.8 1.5-0.3 1.4 0.5 1.5 0.2 1.4-0.1 1.4 0.5 1.5-1.2 1.4-0.5 1.4-0.1 1.5 0 1.4-0.5 1.4-0.3 1.5-0.5 1.4 1 1.5-1.5 1.4 0.7 1.4-0.8 1.5 0.7 1.4-0.9 1.4-1.1 1.5 0.2 1.4 0.4 1.4-0.7 1.5 0.4 1.4-0.1 1.5 0.1 1.4-0.2 1.4-0.4 1.5 0.2 1.4-1 1.4 0 1.5 0.5 1.4-0.1 1.4-0.5 1.5-0.2 1.4-1 1.4 0.7 1.5-0.4 1.4-0.2 1.5-0.2 1.4-0.5 1.4-0.3 1.5 0.2 1.4 0 1.4-0.6 1.5-0.1 1.4 0.1 1.4 0.4 1.5-0.9 1.4-0.1 1.5-0.6 1.4 0.2 1.4-0.3 1.5-0.2 1.4 0.5 1.4-0.7 1.5-0.6 1.4-0.1 1.4-0.3 1.5-0.8 1.4 1.2 1.5-0.2 1.4-0.4 1.4-0.1 1.5-0.4 1.4 0.2 1.4-0.6 1.5-0.7 1.4 0.2 1.4-0.7" stroke="#1a3cf2" stroke-width="1.7" fill="none" stroke-linejoin="round"/>
<path d="M212.6,248.1l1.4-0.4 1.5-0.2 1.4 0.8 1.4-0.8 1.5 0.5 1.4-0.4 1.5-1.4 1.4 0.9 1.4-1.5 1.5-0.2 1.4-0.9 1.4-0.8 1.5 0.1 1.4 0.3 1.4-0.9 1.5 0.3 1.4-0.7 1.5-0.4 1.4-0.9 1.4 0.8 1.5-0.9 1.4-1.3 1.4 0.3 1.5-1.1 1.4-0.1 1.4 0.8 1.5-0.8 1.4-0.5 1.5 0.1 1.4-0.4 1.4 0.4 1.5-1.8 1.4-0.2 1.4 0 1.5-0.7 1.4-0.8 1.4 0.3 1.5-0.2 1.4-0.6 1.5-0.1 1.4-1.1 1.4-0.3 1.5 0.1 1.4 0.1 1.4 0.5 1.5-0.4 1.4-1.9 1.4 0.1 1.5-0.8 1.4 1 1.4-0.2 1.5-1.3 1.4-0.8 1.5 0.7 1.4 0.1 1.4-0.4 1.5-0.9 1.4 0.5 1.4-1.8 1.5 0.4 1.4-0.8 1.4-0.7 1.5 0 1.4-0.3 1.5-0.1 1.4-1.4 1.4-0.3 1.5 0.2 1.4 0.1 1.4-0.5 1.5 0.7 1.4-0.8 1.4-0.5 1.5-1.3 1.4-0.2 1.5 0.3 1.4 0.1 1.4-1.1 1.5-0.5 1.4-0.6 1.4-0.1 1.5-0.4 1.4-0.2 1.4-1.1 1.5 0.2 1.4 0.3 1.5-1 1.4-0.5 1.4 0.1 1.5-0.9 1.4-0.2 1.4 0.3 1.5-0.1 1.4-1.4" stroke="#1a3cf2" stroke-width="1.7" fill="none" stroke-linejoin="round"/>
<path d="M212.6,247.5l1.4 0.6 1.5 0.1 1.4-1.6 1.4-1 1.5 0.2 1.4 0.4 1.5 0.2 1.4-0.7 1.4-0.7 1.5 0.1 1.4 0.2 1.4 0.5 1.5-0.1 1.4-0.2 1.4 0.1 1.5-1.2 1.4-0.2 1.5-1.2 1.4-0.2 1.4 0.2 1.5-1 1.4 0 1.4 0.4 1.5-0.2 1.4 0.2 1.4-0.2 1.5-0.4 1.4-0.2 1.5-0.2 1.4-0.3 1.4-0.4 1.5-0.9 1.4 0.3 1.4 0 1.5-0.6 1.4-0.2 1.4 0.4 1.5-0.4 1.4-0.4 1.5 0.1 1.4-0.9 1.4-0.3 1.5 0.2 1.4-0.9 1.4-0.1 1.5 0 1.4-0.3 1.4-0.5 1.5-0.2 1.4 0.4 1.4-0.5 1.5-0.2 1.4-0.1 1.5-0.1 1.4-0.9 1.4 0 1.5-1.3 1.4 0.9 1.4-0.6 1.5-0.4 1.4 0.3 1.4-0.2 1.5-0.7 1.4-0.7 1.5 0.5 1.4 0 1.4-0.4 1.5-0.4 1.4 0.2 1.4-0.7 1.5-0.2 1.4 0 1.4 0.3 1.5-0.9 1.4 1 1.5-0.4 1.4 0 1.4-0.7 1.5-0.5 1.4-0.3 1.4-0.1 1.5-0.8 1.4 0.8 1.4-0.1 1.5-1 1.4-1 1.5-0.1 1.4 0.6 1.4 0.3 1.5-1.1 1.4-0.4 1.4-0.3 1.5 0.5 1.4 0.5 1.4-1.5 1.5-1.1" stroke="#1a3cf2" stroke-width="1.7" fill="none" stroke-linejoin="round"/>
<path d="M212.6,246.9l1.4-0.3 1.5-0.3 1.4 0 1.4-0.2 1.5-0.5 1.4 0.1 1.5-0.8 1.4 0.3 1.4-0.7 1.5-1.3 1.4-0.5 1.4 0.6 1.5-0.8 1.4-0.3 1.4-0.5 1.5-0.2 1.4 0 1.5-0.8 1.4-0.5 1.4 0.7 1.5-0.6 1.4-0.2 1.4 0 1.5-0.8 1.4-0.2 1.4 0.4 1.5-1.9 1.4 0 1.5-0.1 1.4-0.4 1.4 0.1 1.5-0.2 1.4-1.4 1.4 0.2 1.5 0.5 1.4-1 1.4-0.9 1.5 0.3 1.4-0.2 1.5-1.2 1.4-0.4 1.4 0.6 1.5-0.4 1.4-0.4 1.4-0.4 1.5 0.1 1.4-0.6 1.4-0.1 1.5-1.1 1.4-0.3 1.4 0 1.5-0.3 1.4-0.3 1.5-0.9 1.4-0.4 1.4-0.4 1.5 0.9 1.4-1.2 1.4-0.3 1.5-0.1 1.4 0.1 1.4-1.3 1.5-0.9 1.4 0.2 1.5-0.1 1.4 0 1.4-0.9 1.5-0.2 1.4 0.1 1.4-1.1 1.5-0.3 1.4-0.2 1.4-0.1 1.5-0.2 1.4 0 1.5-0.4 1.4-0.3 1.4-1 1.5 0.3 1.4-1.3 1.4-0.5 1.5 0.5" stroke="#1a3cf2" stroke-width="1.7" fill="none" stroke-linejoin="round"/>
<path d="M212.6,246.9l1.4 0.3 1.5-1.2 1.4-0.6 1.4-0.8 1.5 0.2 1.4-0.2 1.5 0.1 1.4 0.2 1.4-0.9 1.5-0.1 1.4-0.3 1.4 0 1.5-0.8 1.4 0.6 1.4-0.2 1.5-1.3 1.4-0.4 1.5 0.3 1.4-0.6 1.4-0.4 1.5-0.7 1.4-0.4 1.4-0.3 1.5 0.4 1.4-1.1 1.4 0.2 1.5-0.4 1.4-0.2 1.5-0.7 1.4-0.3 1.4 1 1.5 0.1 1.4-0.8 1.4-0.1 1.5-1.1 1.4-0.8 1.4-0.3 1.5 0.7 1.4-0.6 1.5-0.6 1.4-0.3 1.4-0.4 1.5-1.1 1.4 0.3 1.4 0.1 1.5-0.2 1.4-0.2 1.4 0.1 1.5-0.3 1.4 0.1 1.4-0.1 1.5-0.7 1.4 0 1.5-0.3 1.4-0.3 1.4-0.1 1.5 0.6 1.4-1.6 1.4-1 1.5 0 1.4 0.2 1.4-1 1.5-0.1 1.4 0.5 1.5-0.5 1.4-0.5 1.4 0.1 1.5-0.8 1.4 0.4 1.4-0.7 1.5-0.7 1.4 0.7 1.4-1 1.5-0.7 1.4 0.4 1.5 0 1.4-0.6 1.4-0.4 1.5-0.3 1.4-0.2 1.4 0.1 1.5 0.2 1.4-0.7 1.4-1.1 1.5-0.5 1.4-0.4" stroke="#1a3cf2" stroke-width="1.7" fill="none" stroke-linejoin="round"/>
<path d="M212.6,245.9l1.4-0.1 1.5-0.2 1.4-0.6 1.4 0.3 1.5-0.8 1.4-0.5 1.5 0.1 1.4-0.8 1.4-0.4 1.5 1 1.4-0.7 1.4-0.5 1.5 0.6 1.4-1.3 1.4-0.7 1.5-0.3 1.4 0 1.5-0.9 1.4 0.2 1.4-0.3 1.5-0.3 1.4-0.6 1.4 0.9 1.5-1.1 1.4-0.2 1.4-0.8 1.5 0.1 1.4 0 1.5 0.1 1.4-0.5 1.4-0.1 1.5-0.7 1.4-0.2 1.4 0.1 1.5-0.8 1.4-0.1 1.4-0.1 1.5-1 1.4-0.1 1.5-0.2 1.4 0.3 1.4-1 1.5-0.2 1.4 0.5 1.4-0.4 1.5-1 1.4-0.4 1.4 0.2 1.5-0.3 1.4-0.3 1.4 0.9 1.5-1.3 1.4-0.9 1.5 0.4 1.4-0.4 1.4-0.6 1.5-0.1 1.4-0.6 1.4 0.1 1.5-0.1 1.4 0.1 1.4-0.5 1.5 0.2 1.4-0.1 1.5-0.8 1.4-0.1 1.4-0.6 1.5-0.3 1.4-0.3 1.4-0.6 1.5 0.1 1.4 0.1 1.4-0.5 1.5-0.4 1.4-1 1.5-0.4 1.4 0.8 1.4 0.3 1.5-0.4 1.4-1.1 1.4 0.6 1.5-1.3 1.4 0 1.4-0.9 1.5-0.1" stroke="#1a3cf2" stroke-width="1.7" fill="none" stroke-linejoin="round"/>
<path d="M212.6,245.8l1.4-0.3 1.5-0.4 1.4-0.7 1.4 0.3 1.5 0.1 1.4-0.4 1.5 0.2 1.4-0.6 1.4-0.3 1.5-0.4 1.4 0.5 1.4-0.8 1.5-1.2 1.4 0.1 1.4 0.6 1.5 0.1 1.4 0.6 1.5-0.8 1.4-1.1 1.4 0.2 1.5 0 1.4 0.1 1.4 0.5 1.5-1.6 1.4 0.6 1.4-0.8 1.5 0.3 1.4 0.1 1.5 0.3 1.4-0.5 1.4-0.3 1.5 0 1.4-0.2 1.4-0.1 1.5 0.1 1.4-0.1 1.4-1.7 1.5 1.1 1.4-0.6 1.5 0.6 1.4-0.1 1.4-1 1.5 0.7 1.4-0.9 1.4-0.8 1.5 0.4 1.4-0.4 1.4-0.3 1.5 1.1 1.4-0.4 1.4-0.3 1.5-0.8 1.4 0.2 1.5 0.4 1.4 0 1.4-0.7 1.5-0.4 1.4-0.4 1.4 0.5 1.5-0.7 1.4 0 1.4 0.2 1.5 0.1 1.4-1.6 1.5 0 1.4 0.4 1.4-0.4 1.5 0.3 1.4-1.1 1.4 0 1.5 1.2 1.4-0.5 1.4-0.4 1.5-0.4 1.4 0.4 1.5-1 1.4-0.1 1.4-0.7 1.5 0.2 1.4-0.6 1.4-0.4 1.5 0.5 1.4-0.1 1.4-0.4 1.5 0 1.4 0.1 1.5-1.2 1.4 0 1.4 0.2 1.5 0.8 1.4 0.1 1.4-0.5 1.5 0.2 1.4 0 1.4-1 1.5-0.5 1.4 0.3 1.5-0.2" stroke="#1a3cf2" stroke-width="1.7" fill="none" stroke-linejoin="round"/>
<path d="M212.6,244.3l1.4-0.4 1.5-0.8 1.4 0.5 1.4 0.1 1.5-0.8 1.4-0.9 1.5 0.4 1.4 0.1 1.4-0.3 1.5-0.9 1.4-0.5 1.4 0.6 1.5-0.9 1.4-0.4 1.4-0.5 1.5 0.4 1.4-0.3 1.5-0.5 1.4-0.4 1.4 0.4 1.5-0.9 1.4-0.4 1.4 0 1.5-0.4 1.4-0.7 1.4 0 1.5-0.2 1.4 0.3 1.5-0.6 1.4 0 1.4-0.1 1.5-1.1 1.4-0.4 1.4-0.3 1.5-0.2 1.4-0.8 1.4 0.9 1.5-1.3 1.4 0.2 1.5 0.1 1.4-0.2 1.4-0.2 1.5-0.6 1.4-0.8 1.4 0.2 1.5-0.8 1.4 0.1 1.4-0.4 1.5-1 1.4 0.3 1.4 0.2 1.5-0.6 1.4-0.6 1.5 0 1.4-0.2 1.4-0.7 1.5 0.2 1.4-0.4 1.4-0.1 1.5-0.8 1.4-0.1 1.4-0.5 1.5-0.2 1.4-0.3 1.5 0.1 1.4-1.1 1.4 0.2 1.5-0.3 1.4 0.2 1.4-0.7 1.5 0 1.4-0.1 1.4-1.2 1.5-0.5 1.4-0.1 1.5-0.2 1.4-0.5 1.4-0.1 1.5-0.3 1.4 0.3 1.4-0.4 1.5-0.5 1.4 0.8" stroke="#1a3cf2" stroke-width="1.7" fill="none" stroke-linejoin="round"/>
<path d="M212.6,245.2l1.4-0.3 1.5-1.6 1.4 0.8 1.4 0.2 1.5-1.3 1.4 0.1 1.5-0.9 1.4-0.3 1.4-1 1.5 0.1 1.4-0.6 1.4 0.1 1.5-0.3 1.4-0.3 1.4-0.3 1.5-1 1.4-0.6 1.5 0.2 1.4 0 1.4-0.4 1.5-0.7 1.4-0.4 1.4 0 1.5 0.5 1.4-1.8 1.4-0.5 1.5 0.1 1.4-0.2 1.5-0.7 1.4-0.6 1.4 0.3 1.5-0.2 1.4-0.1 1.4-1.2 1.5 0.4 1.4-0.1 1.4-0.9 1.5-0.3 1.4-0.1 1.5-0.6 1.4-0.2 1.4-0.1 1.5-0.5 1.4-0.5 1.4-0.2 1.5-0.4 1.4-0.2 1.4-0.5 1.5 0.3 1.4-1.3 1.4-0.4 1.5 0 1.4-0.4 1.5-0.9 1.4 0.1 1.4 0.6 1.5-0.8 1.4 0.6 1.4-0.8 1.5-1.2 1.4 0.4 1.4 0.2 1.5-0.7 1.4-0.8 1.5-1.2 1.4 0.3 1.4-0.1 1.5 0.2 1.4-1.6 1.4 0.2 1.5-0.4 1.4-0.6 1.4 0 1.5 0.2 1.4-0.4 1.5-0.5 1.4-0.8 1.4-0.6 1.5 0.3 1.4-0.2 1.4 0.2 1.5-0.8 1.4-1.5 1.4 0 1.5 0.2 1.4-1 1.5-0.1 1.4-0.6 1.4-0.6 1.5 0.9 1.4-0.6 1.4-0.2 1.5-1 1.4 0.1 1.4-0.4 1.5 0.7 1.4-0.7 1.5-0.4 1.4-0.2 1.4-0.8 1.5-0.3" stroke="#1a3cf2" stroke-width="1.7" fill="none" stroke-linejoin="round"/>
<path d="M212.6,243.9l1.4-0.7 1.5-0.3 1.4-0.1 1.4-0.5 1.5 0.3 1.4-0.5 1.5-0.3 1.4-1.4 1.4 0.6 1.5-0.3 1.4-0.8 1.4-0.1 1.5-0.7 1.4 0.3 1.4-1.1 1.5-0.3 1.4 0.8 1.5-0.3 1.4-0.4 1.4-0.9 1.5-0.5 1.4-0.7 1.4-0.6 1.5-0.4 1.4-0.3 1.4 0.2 1.5 0.1 1.4-0.3 1.5-1 1.4 0 1.4-0.1 1.5-0.5 1.4-0.9 1.4 0.2 1.5-0.7 1.4-0.9 1.4-0.6 1.5 0.8 1.4-0.8 1.5-0.2 1.4-1.7 1.4 0.4 1.5 0.4 1.4-0.4 1.4-0.7 1.5-0.3 1.4-0.8 1.4 0 1.5-0.5 1.4-1.9 1.4 0.4 1.5-0.2 1.4 0 1.5 0.9 1.4-1.8 1.4 0.1 1.5-0.7 1.4 0.5 1.4-0.8 1.5-0.9 1.4 0.4 1.4-1.4 1.5-0.3 1.4-0.1 1.5 0 1.4-0.7 1.4 0.8 1.5-1.4 1.4 0.7 1.4-0.6 1.5-1.3 1.4-0.3 1.4 0.7 1.5-0.1 1.4-0.4 1.5-0.7 1.4-0.4 1.4-1.1 1.5-0.1 1.4-1.2 1.4-0.5 1.5 0.8 1.4-1.1 1.4-0.6 1.5 0.6 1.4-0.3 1.5-0.2 1.4-0.2 1.4-0.7 1.5-0.7 1.4 0.1 1.4 0.1 1.5-1.2 1.4-0.9 1.4-0.5 1.5 0.7 1.4-0.4 1.5-0.4 1.4-0.2 1.4-1.1 1.5 0.2" stroke="#1a3cf2" stroke-width="1.7" fill="none" stroke-linejoin="round"/>
<path d="M212.6,243.7l1.4-0.7 1.5-0.3 1.4-0.4 1.4-0.2 1.5-0.6 1.4-0.3 1.5-0.2 1.4-0.6 1.4-0.3 1.5-0.5 1.4-0.3 1.4-0.3 1.5-0.3 1.4 0.2 1.4-0.3 1.5-0.4 1.4-0.2 1.5-0.4 1.4-0.3 1.4-0.3 1.5-0.8 1.4-1.7 1.4-0.4 1.5 0.6 1.4-0.1 1.4-0.1 1.5-0.3 1.4-0.7 1.5-0.4 1.4-0.3 1.4-0.6 1.5 0.2 1.4-0.7 1.4-0.3 1.5 0.3 1.4-1.2 1.4 0.3 1.5-0.8 1.4 0.1 1.5-0.2 1.4-1.1 1.4-0.3 1.5-0.1 1.4 0.1 1.4 0.2 1.5-0.7 1.4-0.6 1.4-1 1.5-0.1 1.4-0.7 1.4 0.2 1.5-0.8 1.4-0.5 1.5 0.1 1.4-0.7 1.4-0.8 1.5 0.8 1.4 0 1.4-0.5 1.5-0.4 1.4-0.2 1.4-0.8 1.5 0.2 1.4-1.6 1.5 0 1.4-0.3 1.4-0.2 1.5-0.1 1.4-0.6 1.4-0.3 1.5-0.5 1.4-0.6 1.4 0.2 1.5 0.3 1.4-0.6 1.5-0.8 1.4 0.4 1.4-1.1 1.5-0.5 1.4 0.3 1.4-0.9 1.5-0.8" stroke="#1a3cf2" stroke-width="1.7" fill="none" stroke-linejoin="round"/>
<path d="M212.6,242.9l1.4-0.5 1.5-0.3 1.4-0.5 1.4-0.3 1.5 0.6 1.4-0.2 1.5-0.3 1.4 0.3 1.4-0.6 1.5-0.4 1.4-0.3 1.4 0.8 1.5-0.5 1.4 0.6 1.4-1.1 1.5-0.5 1.4-0.6 1.5-0.4 1.4 0.5 1.4-0.3 1.5-0.4 1.4-0.5 1.4-0.5 1.5 0.3 1.4 0.6 1.4-1 1.5 0 1.4 0.6 1.5-0.9 1.4 0.1 1.4-0.5 1.5-0.9 1.4 0.2 1.4 0.2 1.5-0.6 1.4 0 1.4-0.3 1.5-0.6 1.4-0.1 1.5-0.2 1.4 0 1.4-0.2 1.5 0.3 1.4-0.1 1.4-1 1.5-0.6 1.4 0.7 1.4-0.7 1.5-0.4 1.4 0.4 1.4-0.6 1.5-0.3 1.4-0.5 1.5-0.6 1.4 0.5 1.4-0.2 1.5 0.4 1.4-0.5 1.4-0.2 1.5-0.1 1.4-0.3 1.4-0.6 1.5-0.4 1.4-0.1 1.5-0.7 1.4 1.1 1.4-0.4 1.5-0.2 1.4-0.1 1.4-0.2 1.5 0.3 1.4-0.5 1.4-1.1 1.5 0.3 1.4-0.2 1.5-0.4 1.4-0.1 1.4 0.2 1.5-0.2 1.4-1 1.4 0.4 1.5 0.2 1.4-1.4 1.4 0.1 1.5 0.5 1.4 0.3 1.5-0.4" stroke="#1a3cf2" stroke-width="1.7" fill="none" stroke-linejoin="round"/>
<path d="M212.6,242.8l1.4-0.5 1.5-0.8 1.4-0.3 1.4 0.3 1.5-0.4 1.4 0.2 1.5 0.9 1.4-1.3 1.4 0.2 1.5 0 1.4-1 1.4 0 1.5-0.5 1.4-0.3 1.4-0.2 1.5 0.3 1.4-1.1 1.5 1 1.4-0.7 1.4-0.8 1.5 0.6 1.4 0.3 1.4-0.7 1.5-0.5 1.4 0 1.4 0.4 1.5-0.3 1.4 0.5 1.5-1.1 1.4-0.5 1.4 0.3 1.5-0.3 1.4 0.1 1.4-0.2 1.5-0.2 1.4 0 1.4-1.5 1.5 0.8 1.4-0.5 1.5 0.6 1.4-0.4 1.4-0.1 1.5 0.2 1.4-0.8 1.4-0.3 1.5-0.5 1.4 0.1 1.4 0.6 1.5-0.7 1.4-0.2 1.4-0.8 1.5 1.4 1.4-0.5 1.5-0.5 1.4-0.6 1.4 0.6 1.5-0.9 1.4-0.1 1.4 1 1.5-1.8 1.4 1.3 1.4-0.2 1.5-0.2 1.4-0.8 1.5 0 1.4-0.2 1.4 0.1 1.5-0.7 1.4-0.5 1.4-0.6 1.5 1 1.4 0 1.4-0.2 1.5-0.2 1.4-0.4 1.5-0.5 1.4 0.2 1.4 0 1.5-1 1.4-0.5 1.4-0.5 1.5-0.3 1.4 1 1.4-0.7 1.5-0.1 1.4 0.2 1.5-0.3 1.4 0.3 1.4 0.2 1.5-0.4 1.4 0.3 1.4-0.5 1.5-0.5 1.4 0.2 1.4-0.1 1.5 0.3 1.4-0.3 1.5-0.7 1.4-0.1 1.4-0.5 1.5 0.1 1.4-0.2 1.4 0.4 1.5-1.5" stroke="#1a3cf2" stroke-width="1.7" fill="none" stroke-linejoin="round"/>
<path d="M212.6,241.9l1.4-0.8 1.5 0.3 1.4 0.1 1.4-0.9 1.5-0.1 1.4-0.4 1.5-0.7 1.4-0.4 1.4-0.4 1.5-0.1 1.4 0.7 1.4-1 1.5-1 1.4-0.1 1.4-0.5 1.5-0.1 1.4-0.3 1.5-0.3 1.4 0.6 1.4 0.3 1.5-1.1 1.4-0.8 1.4-0.4 1.5 0 1.4-0.1 1.4 0 1.5-0.8 1.4-0.5 1.5-0.5 1.4-0.1 1.4-0.8 1.5 0.4 1.4-0.8 1.4 0.3 1.5-1.1 1.4-0.4 1.4 0.6 1.5-0.7 1.4 0.3 1.5-1.4 1.4-0.4 1.4 0.1 1.5-0.2 1.4-0.1 1.4-0.1 1.5 0.1 1.4-0.6 1.4-1 1.5-0.2 1.4-0.6 1.4-0.4 1.5-0.1 1.4 0.4 1.5 0 1.4-0.5 1.4 0.5 1.5-0.3 1.4-1.1 1.4-1.1 1.5-1 1.4 0.4 1.4-0.5 1.5 0 1.4 0.3 1.5-0.9 1.4-0.1 1.4-0.5 1.5 0.7 1.4-0.6 1.4-1 1.5 0 1.4-0.3 1.4-0.7 1.5-0.7 1.4-0.4 1.5 0.2 1.4 0.2 1.4-0.9 1.5 0.3 1.4 0.1 1.4-0.3 1.5-0.7 1.4-0.1 1.4-0.2 1.5-1.1 1.4 0.4 1.5 0 1.4-0.8 1.4-0.7 1.5 0" stroke="#1a3cf2" stroke-width="1.7" fill="none" stroke-linejoin="round"/>
<path d="M212.6,241.3l1.4-1.7 1.5 0.5 1.4-1.4 1.4 0.9 1.5-0.8 1.4 0.7 1.5-1.3 1.4-0.1 1.4-0.1 1.5 0.2 1.4-1.1 1.4-0.5 1.5 0.3 1.4-0.2 1.4 0.1 1.5-0.7 1.4 0 1.5-0.5 1.4 0.7 1.4-1 1.5-0.8 1.4-0.1 1.4-0.8 1.5 0.6 1.4-0.9 1.4 0 1.5-0.2 1.4-0.4 1.5-0.7 1.4 1 1.4-0.7 1.5-0.4 1.4-0.7 1.4 0 1.5 0 1.4-0.5 1.4-0.7 1.5 0.3 1.4-0.4 1.5-0.2 1.4-0.1 1.4-0.5 1.5-1.2 1.4 0.5 1.4-0.5 1.5-0.3 1.4-0.6 1.4 0.3 1.5 0.3 1.4-0.9 1.4 0.7 1.5-1 1.4-0.8 1.5-0.3 1.4-0.1 1.4 0 1.5-0.1 1.4-0.8 1.4 0.6 1.5-0.1 1.4-0.6 1.4-0.5 1.5-0.7 1.4 0 1.5-0.4 1.4 0 1.4-0.9 1.5-0.4 1.4 0.8 1.4-1.1 1.5-0.3 1.4-0.2 1.4-0.5 1.5-0.2 1.4-0.2 1.5-0.3 1.4 0.7 1.4-0.9 1.5-0.4 1.4 0.2 1.4-0.3 1.5-0.8 1.4 0 1.4 0 1.5-0.5 1.4-0.2 1.5-0.6 1.4-0.8 1.4-0.9 1.5 0.5 1.4-0.3 1.4 0.4 1.5-0.8" stroke="#1a3cf2" stroke-width="1.7" fill="none" stroke-linejoin="round"/>
<path d="M212.6,240.1l1.4 0.2 1.5-0.8 1.4 0.2 1.4-0.5 1.5-0.4 1.4-0.2 1.5-0.4 1.4-0.3 1.4 0.1 1.5-0.5 1.4-0.6 1.4-0.5 1.5 0.5 1.4-0.2 1.4-0.3 1.5 0.2 1.4-1 1.5-1.1 1.4 0.5 1.4-0.1 1.5-0.2 1.4-0.4 1.4 0 1.5-1.4 1.4 0.7 1.4-0.7 1.5-0.6 1.4 0 1.5-0.8 1.4 1 1.4 0.7 1.5-1.5 1.4-0.7 1.4-0.1 1.5-0.4 1.4 0.1 1.4 0 1.5-0.3 1.4-0.7 1.5-0.6 1.4-1 1.4 0.4 1.5 0.6 1.4-1.1 1.4 0 1.5 0.1 1.4-0.9 1.4 0.6 1.5-0.2 1.4-1.6 1.4 0.3 1.5-0.5 1.4-0.8 1.5 0.7 1.4-0.5 1.4-0.9 1.5-0.3 1.4-0.5 1.4-0.9 1.5-0.3 1.4 0.3 1.4 0.6 1.5-0.7 1.4 0.3 1.5 0.4 1.4-0.2 1.4-0.9 1.5-0.5 1.4-0.1 1.4-0.9 1.5 0 1.4 0.1 1.4-0.5 1.5-0.3 1.4-0.6 1.5-0.1 1.4-0.7 1.4 0.2 1.5-0.2 1.4-0.6 1.4 0.2 1.5-0.5 1.4-0.4 1.4-0.6 1.5 1.1 1.4-1.5 1.5 0.1 1.4-0.4 1.4-0.9 1.5-0.1 1.4 0.7 1.4-0.5" stroke="#1a3cf2" stroke-width="1.7" fill="none" stroke-linejoin="round"/>
<path d="M212.6,239.8l1.4 0.1 1.5-0.5 1.4-0.5 1.4-0.9 1.5 0.7 1.4 0.5 1.5-0.4 1.4-0.4 1.4-1 1.5-0.2 1.4-0.7 1.4 0.1 1.5 0.5 1.4-0.8 1.4 0.1 1.5-0.6 1.4 0.4 1.5-1 1.4 0.2 1.4-0.4 1.5-0.8 1.4 0 1.4 0.1 1.5-1.2 1.4 0.2 1.4-0.7 1.5 0.1 1.4 0.6 1.5-0.7 1.4-0.6 1.4-0.2 1.5-1.1 1.4 1 1.4-0.3 1.5-0.8 1.4-0.8 1.4-0.2 1.5 0.5 1.4-0.6 1.5-0.4 1.4-0.9 1.4-0.7 1.5 0.3 1.4-0.1 1.4-0.3 1.5 0.2 1.4-0.4 1.4-0.3 1.5-0.2 1.4-0.4 1.4-0.1 1.5 0.1 1.4-0.9 1.5-0.4 1.4 0.4 1.4-0.6 1.5 0.2 1.4-0.6 1.4 0.1 1.5-0.2 1.4-0.7 1.4 0.2 1.5-0.9 1.4-0.9 1.5 0.4 1.4 0.2 1.4-0.7 1.5-0.1 1.4 0.4 1.4-1.7 1.5 0.4 1.4-1.1 1.4-0.1 1.5-0.1 1.4-0.1 1.5 0.1 1.4-0.6 1.4 0.2 1.5-0.5 1.4 0.2 1.4-0.6 1.5 1 1.4-0.9 1.4-0.9 1.5-0.4 1.4-0.4 1.5-0.4 1.4-0.8 1.4 0.5 1.5 1.4 1.4-1.5 1.4-0.6 1.5-0.3 1.4-0.6 1.4-0.8 1.5 0.2" stroke="#1a3cf2" stroke-width="1.7" fill="none" stroke-linejoin="round"/>
<path d="M212.6,239.8l1.4-0.8 1.5 0.2 1.4 0.2 1.4-0.2 1.5-0.8 1.4 0.2 1.5-0.5 1.4-0.7 1.4 0.8 1.5-1.5 1.4-1 1.4 0.5 1.5 0 1.4-0.2 1.4 1.1 1.5-1.2 1.4 0.1 1.5-0.7 1.4 0 1.4-0.2 1.5-0.3 1.4-0.2 1.4 0.4 1.5-1.6 1.4 0.3 1.4-0.9 1.5-0.5 1.4 0.2 1.5-0.3 1.4-0.2 1.4-0.5 1.5-0.2 1.4 0 1.4-0.2 1.5-0.8 1.4 0.4 1.4 0.4 1.5 0.2 1.4-0.9 1.5-1.1 1.4-1 1.4 0.7 1.5-0.3 1.4 0.2 1.4-0.5 1.5-0.2 1.4-0.7 1.4-0.4 1.5-0.1 1.4-0.1 1.4-0.5 1.5 0.1 1.4-0.8 1.5-0.5 1.4 0 1.4-0.6 1.5 0.7 1.4-0.4 1.4-0.2 1.5 0.2 1.4-0.6 1.4-0.1 1.5-0.5 1.4-0.2 1.5-0.5 1.4 0.1 1.4-0.2 1.5-0.7 1.4-0.5 1.4 0.1 1.5 0.8 1.4-1.1 1.4-0.4 1.5 0.4 1.4 0.4 1.5-0.2 1.4-0.2 1.4-1.7 1.5 0.2 1.4-0.2 1.4-0.7 1.5-0.7 1.4 0.2 1.4 0 1.5-0.6 1.4-0.6 1.5 0.2 1.4 0.2 1.4 0.2 1.5-1 1.4 0.3 1.4-0.2 1.5 0.5" stroke="#1a3cf2" stroke-width="1.7" fill="none" stroke-linejoin="round"/>
<path d="M212.6,239.3l1.4-0.9 1.5 0.1 1.4-0.6 1.4 0 1.5 0.1 1.4-0.8 1.5 0 1.4 0 1.4-0.9 1.5 0.7 1.4 0.2 1.4-0.6 1.5-0.3 1.4 0.6 1.4-0.7 1.5-0.3 1.4 0 1.5-0.6 1.4 0.7 1.4-1 1.5-0.8 1.4-0.9 1.4 1.1 1.5-0.7 1.4 0.4 1.4 0.4 1.5-0.7 1.4-0.1 1.5-0.2 1.4-0.1 1.4-0.7 1.5-0.1 1.4-0.4 1.4-0.2 1.5-0.3 1.4-0.1 1.4 0.4 1.5-0.8 1.4 0.1 1.5-0.3 1.4-0.3 1.4-0.2 1.5 0.2 1.4-0.2 1.4 0 1.5-0.4 1.4-0.7 1.4 0.3 1.5-0.5 1.4-1 1.4 1 1.5-0.5 1.4-0.4 1.5 0 1.4 0 1.4-0.7 1.5 0 1.4-0.2 1.4 0.3 1.5-1 1.4-0.8 1.4 0.6 1.5-0.3 1.4 0.2 1.5-0.8 1.4-0.1 1.4 0 1.5 0 1.4 0.3 1.4-0.6 1.5-0.4 1.4 0.7 1.4-0.7 1.5 0.5 1.4-1.5 1.5 0 1.4-0.3 1.4 0.3 1.5-1.1 1.4 0.1 1.4 0 1.5 0 1.4 0.2 1.4-0.3 1.5-0.2 1.4 0.2 1.5-1.1 1.4 0.6 1.4-0.7 1.5-0.8" stroke="#1a3cf2" stroke-width="1.7" fill="none" stroke-linejoin="round"/>
<path d="M212.6,238.1l1.4-0.1 1.5 0.3 1.4 0.3 1.4-1.2 1.5 1 1.4-0.5 1.5 0.5 1.4-0.6 1.4-0.3 1.5-0.3 1.4 0.3 1.4 0.1 1.5 0.2 1.4-0.2 1.4 0 1.5-0.4 1.4 0.2 1.5 0.1 1.4-1.1 1.4 1.1 1.5-0.2 1.4-1.1 1.4 1.2 1.5-0.8 1.4 0.2 1.4-0.3 1.5 0 1.4 1 1.5-0.8 1.4 0.3 1.4 0.6 1.5-0.8 1.4 0.4 1.4-0.2 1.5-0.4 1.4 0.7 1.4-0.8 1.5-0.3 1.4 0.1 1.5-0.3 1.4 0.3 1.4-0.6 1.5 0.6 1.4-0.1 1.4-0.3 1.5 0 1.4 0.8 1.4-0.2 1.5-0.8 1.4 0.4 1.4 0.6 1.5-0.7 1.4 0.3 1.5-0.9 1.4 0.6 1.4 0.9 1.5-0.2 1.4-0.2 1.4-0.3 1.5-0.5 1.4-0.2 1.4-0.4 1.5 0.6 1.4 0 1.5-0.4 1.4-0.2 1.4-0.3 1.5 1 1.4-0.5 1.4-0.3 1.5-0.2 1.4 0.3 1.4-0.2 1.5 0.8 1.4-0.1 1.5-1 1.4 0.5 1.4-0.3 1.5-1 1.4 1.3 1.4 0.2 1.5-0.5 1.4-0.3 1.4 0 1.5-0.1 1.4 0.6 1.5-0.3" stroke="#1a3cf2" stroke-width="1.7" fill="none" stroke-linejoin="round"/>
<path d="M212.6,237.1l1.4 0.6 1.5-0.2 1.4-0.3 1.4-0.5 1.5 0.4 1.4-0.8 1.5 0.1 1.4 0 1.4 0.1 1.5 0.2 1.4 0.2 1.4-0.8 1.5-0.1 1.4-0.4 1.4-0.2 1.5 0.6 1.4-0.3 1.5 0.1 1.4 0.5 1.4-1.1 1.5-0.1 1.4-0.1 1.4-0.6 1.5 0.8 1.4-0.9 1.4 0.4 1.5-0.3 1.4-0.1 1.5 0.4 1.4 0.3 1.4-1.1 1.5 0.2 1.4-0.4 1.4 0.2 1.5-0.3 1.4 0 1.4-0.1 1.5-0.5 1.4-0.6 1.5 0.8 1.4 0.1 1.4-0.5 1.5 0.1 1.4-0.2 1.4-0.5 1.5 0.1 1.4 0.5 1.4-0.8 1.5 0 1.4-0.3 1.4 0 1.5 0.9 1.4-1.2 1.5 0.4 1.4-0.8 1.4 0.7 1.5-0.4 1.4-0.3 1.4 0.2 1.5-0.4 1.4-0.3 1.4 0.3 1.5-0.5 1.4 0 1.5-0.3 1.4 0.5 1.4 0 1.5-0.1 1.4-0.1 1.4-0.2 1.5-0.5 1.4-0.2 1.4 0.3 1.5-0.2 1.4-0.4 1.5 0.3 1.4-0.1 1.4-0.1 1.5 0.1 1.4 0.1" stroke="#1a3cf2" stroke-width="1.7" fill="none" stroke-linejoin="round"/>
<path d="M212.6,237.7l1.4-0.7 1.5 0.2 1.4-0.4 1.4 0.2 1.5 0.4 1.4-0.4 1.5-0.8 1.4 0 1.4 0.1 1.5-0.3 1.4-0.1 1.4 0.1 1.5 0 1.4-0.5 1.4 0.1 1.5 0.4 1.4-0.8 1.5 0.4 1.4 0.2 1.4-0.1 1.5 0.2 1.4-1.5 1.4 0 1.5-0.6 1.4 0 1.4 0.2 1.5 0.5 1.4-0.8 1.5-0.1 1.4-0.1 1.4 0.4 1.5-1.1 1.4 0.5 1.4-0.5 1.5-0.1 1.4-0.8 1.4-0.4 1.5 0.3 1.4 0.3 1.5-0.5 1.4-0.2 1.4 0.9 1.5-0.5 1.4 0.1 1.4-0.9 1.5-0.6 1.4 0.8 1.4 0 1.5 0.1 1.4-0.6 1.4-0.5 1.5 0.8 1.4 0.3 1.5-1 1.4-0.3 1.4 0.3 1.5-0.5 1.4-0.6 1.4-0.5 1.5 0.2 1.4 0.5 1.4-0.6 1.5-0.1 1.4 0.3 1.5-0.8 1.4-0.4 1.4-0.6 1.5 0.7 1.4 0.3 1.4 0 1.5-0.2 1.4 0.2 1.4 0.3 1.5-1.4 1.4-0.1 1.5 0 1.4-0.4 1.4 0.5 1.5 0 1.4-0.2 1.4-0.8 1.5 0.3 1.4-0.2 1.4 0.2" stroke="#1a3cf2" stroke-width="1.7" fill="none" stroke-linejoin="round"/>
<path d="M212.6,236.5l1.4-0.3 1.5 0.2 1.4 0.1 1.4-1 1.5 0.8 1.4 0.2 1.5-0.7 1.4 0.5 1.4 0.1 1.5-0.7 1.4-0.5 1.4-0.8 1.5-0.2 1.4 0.5 1.4-0.6 1.5 1.2 1.4-0.1 1.5 0.5 1.4-1.2 1.4 0.4 1.5-0.3 1.4 0.1 1.4-0.3 1.5 0.1 1.4-0.5 1.4-0.4 1.5 0.4 1.4 0 1.5 0 1.4 0.2 1.4-1.1 1.5 1.2 1.4 0.2 1.4 0 1.5-1.4 1.4-0.2 1.4-0.4 1.5 0.8 1.4-0.2 1.5-1.1 1.4 1 1.4 0.6 1.5-0.1 1.4-0.6 1.4-0.8 1.5-0.3 1.4 0.3 1.4-0.2 1.5 0 1.4 0.1 1.4-0.8 1.5 0.2 1.4 0.2 1.5-0.1 1.4-0.2 1.4-0.3 1.5-0.4 1.4 0.3 1.4-0.2 1.5 0.2 1.4 0.2 1.4-1.2 1.5 0.6 1.4-0.8 1.5 1.1 1.4-1.1 1.4 0.8 1.5-0.3 1.4-0.2 1.4-0.1 1.5-0.1 1.4 0.3 1.4-0.7 1.5 0.2 1.4 0.3 1.5-0.8 1.4-0.1 1.4 0.4" stroke="#1a3cf2" stroke-width="1.7" fill="none" stroke-linejoin="round"/>
<path d="M212.6,236.8l1.4-0.8 1.5 0.1 1.4 0.1 1.4 0.3 1.5 0.3 1.4-1 1.5 0.1 1.4 0.5 1.4-0.4 1.5 0 1.4 0 1.4 0.9 1.5-0.8 1.4-0.3 1.4 0.7 1.5-0.5 1.4 0.2 1.5-0.2 1.4 0.5 1.4-0.6 1.5 0.1 1.4 0.1 1.4-0.2 1.5 0.6 1.4-0.5 1.4-0.8 1.5 0.3 1.4 0.3 1.5 0.5 1.4-0.3 1.4 0 1.5 0.1 1.4 0.1 1.4-0.1 1.5-0.4 1.4 0.1 1.4-0.1 1.5 0 1.4 1.3 1.5-1.8 1.4 0.1 1.4 0.5 1.5 0 1.4-0.4 1.4 0.1 1.5-0.4 1.4 1.1 1.4-0.3 1.5 0.3 1.4-0.4 1.4-0.1 1.5-0.1 1.4 0.6 1.5-0.6 1.4-0.3 1.4 0.2 1.5 0.1 1.4-0.5 1.4 0 1.5 0.6 1.4-0.5 1.4 0.1 1.5 0.7 1.4 0.1 1.5 0.6" stroke="#1a3cf2" stroke-width="1.7" fill="none" stroke-linejoin="round"/>
<path d="M212.6,235.9l1.4-0.4 1.5-0.6 1.4 0.2 1.4 0.1 1.5 0 1.4 0 1.5-0.1 1.4-1.1 1.4 0.3 1.5 0.5 1.4-0.3 1.4 0.1 1.5 0.1 1.4-0.1 1.4-1.3 1.5 0.7 1.4 0.1 1.5-0.3 1.4-0.7 1.4-0.9 1.5 0.4 1.4 0.1 1.4 0.3 1.5 0 1.4-0.8 1.4 0.6 1.5-0.5 1.4 0.5 1.5-0.3 1.4-0.1 1.4-0.6 1.5 1 1.4 0.1 1.4-0.7 1.5-0.4 1.4-0.5 1.4 0.7 1.5-0.8 1.4-0.2 1.5 0.2 1.4-0.7 1.4 0.5 1.5-0.6 1.4-0.4 1.4 0.4 1.5 0 1.4 0.2 1.4-0.3 1.5-0.3 1.4 0.2 1.4-0.1 1.5-0.3 1.4 0.5 1.5-0.5 1.4-0.2 1.4-0.8 1.5 0.1 1.4 0.3 1.4 0 1.5-0.4 1.4 0.5 1.4-0.6 1.5 0.3 1.4-0.7 1.5-0.4 1.4 0.6 1.4-0.5 1.5-0.3 1.4 0.7 1.4-0.2 1.5-0.2 1.4-0.7 1.4 0.5 1.5-0.7 1.4-0.3 1.5 0.3 1.4 0.1 1.4-0.2 1.5-0.3 1.4-0.2 1.4 0.8 1.5-0.2 1.4 0.2" stroke="#1a3cf2" stroke-width="1.7" fill="none" stroke-linejoin="round"/>
<path d="M212.6,234.6l1.4-0.1 1.5 0.4 1.4-0.2 1.4 0.6 1.5-0.2 1.4-0.3 1.5 0.8 1.4-0.5 1.4 0.3 1.5-0.8 1.4 0.2 1.4 0.1 1.5 0.4 1.4-0.9 1.4 0.1 1.5 0.3 1.4 0.1 1.5 0.2 1.4-0.9 1.4 0.4 1.5-0.8 1.4 0.6 1.4 0.4 1.5-0.1 1.4-0.2 1.4-0.4 1.5-0.9 1.4-0.1 1.5 0.5 1.4 1 1.4-0.9 1.5-0.5 1.4 1.3 1.4-0.2 1.5-0.3 1.4-0.9 1.4 0.2 1.5 0.4 1.4 1.2 1.5-1.1 1.4 0.6 1.4-0.1 1.5 0.4 1.4-0.8 1.4-0.9 1.5 0.4 1.4-0.2 1.4 0.6 1.5 0.5 1.4-0.6 1.4 0.7 1.5-0.1 1.4-0.5 1.5 0.3 1.4-0.6 1.4-1 1.5 0.2 1.4-0.1 1.4 0.9 1.5 0 1.4-0.1 1.4-0.3 1.5 0.7 1.4 0 1.5-0.8 1.4-0.2 1.4-0.5 1.5-0.2 1.4 0.5 1.4 0.6 1.5 0.2" stroke="#1a3cf2" stroke-width="1.7" fill="none" stroke-linejoin="round"/>
<path d="M212.6,235.0l1.4-0.7 1.5-0.3 1.4-0.4 1.4 0.8 1.5-0.6 1.4 0.6 1.5-0.1 1.4 0.2 1.4-0.4 1.5 0 1.4 0 1.4 0.9 1.5-0.8 1.4-0.6 1.4-0.2 1.5 0.9 1.4 0.6 1.5-1.3 1.4 0.1 1.4 0.2 1.5 0.3 1.4 0 1.4 0.1 1.5-0.2 1.4-0.6 1.4 0.8 1.5-1.4 1.4-0.2 1.5 1.2 1.4-0.5 1.4-0.2 1.5-0.4 1.4 1.6 1.4-1.4 1.5-0.6 1.4 0.7 1.4 0.1 1.5-0.6 1.4 0 1.5-0.6 1.4 1.1 1.4 0.3 1.5-0.3 1.4-0.3 1.4 0.1 1.5-0.5 1.4 0.4 1.4-0.4 1.5 0.5 1.4-1 1.4-0.1 1.5 0.3 1.4 0.5 1.5-0.1 1.4 0.2 1.4 0.3 1.5-0.1 1.4-1.1 1.4 0.3 1.5-0.5 1.4 0.1 1.4 0.3 1.5 0.4 1.4-0.2 1.5-0.3 1.4 0.2 1.4 0 1.5 0.2 1.4-1.1 1.4 0.9 1.5-0.6 1.4 0.5 1.4-0.2" stroke="#1a3cf2" stroke-width="1.7" fill="none" stroke-linejoin="round"/>
<path d="M212.6,233.0l1.4 0.8 1.5-0.2 1.4 0.6 1.4-1.1 1.5-0.2 1.4-0.2 1.5 1 1.4 0.7 1.4 0.1 1.5 0.1 1.4-1.2 1.4 0 1.5 0.2 1.4 0.3 1.4-0.4 1.5 0.1 1.4 0.2 1.5-0.3 1.4 0.4 1.4 0.4 1.5-1.1 1.4-0.7 1.4 1.5 1.5-0.7 1.4 0.7 1.4-0.1 1.5-0.2 1.4-0.7 1.5 1 1.4-1.2 1.4 0.3 1.5-0.7 1.4 0.9 1.4 0.9 1.5-1 1.4 0.5 1.4-1.5 1.5 0.4 1.4-0.1 1.5 0.8 1.4-0.1 1.4-0.2 1.5 0.9 1.4 0 1.4-0.6 1.5-0.5 1.4 0.3 1.4-1 1.5-0.1 1.4 1.5 1.4-0.1 1.5 0.2 1.4 0 1.5-0.3 1.4 0.6 1.4-0.9 1.5-0.7 1.4-0.3 1.4 1.3 1.5-0.5 1.4-0.3 1.4 0.3 1.5-0.9 1.4 0.2" stroke="#1a3cf2" stroke-width="1.7" fill="none" stroke-linejoin="round"/>
<path d="M212.6,232.8l1.4 0.3 1.5-0.2 1.4-0.2 1.4 0.8 1.5 0.5 1.4-0.6 1.5 0.2 1.4-0.8 1.4 0.6 1.5-0.6 1.4 0.6 1.4-1.3 1.5 0.3 1.4 0.7 1.4-0.3 1.5-0.2 1.4 1.1 1.5-0.3 1.4-0.8 1.4 0.3 1.5-0.2 1.4-0.9 1.4-0.3 1.5 0.4 1.4 0 1.4-0.6 1.5 0.3 1.4 1 1.5-0.5 1.4 0.5 1.4-0.1 1.5-0.5 1.4-0.1 1.4-0.1 1.5-0.4 1.4 0.3 1.4-0.2 1.5-0.3 1.4 0.4 1.5 0 1.4 0 1.4 0.4 1.5-0.1 1.4-0.6 1.4-0.1 1.5 0.7 1.4-0.9 1.4-0.3 1.5-0.2 1.4-0.3 1.4 0.4 1.5-0.1 1.4 0.3 1.5 0.5 1.4-0.3 1.4-0.4 1.5-0.1 1.4 0.4 1.4 0.1 1.5-0.1 1.4-0.1 1.4-0.1 1.5-0.5 1.4 0.1" stroke="#1a3cf2" stroke-width="1.7" fill="none" stroke-linejoin="round"/>
<path d="M212.6,233.7l1.4-1 1.5 0.2 1.4-1.1 1.4-0.3 1.5 0.3 1.4 0.6 1.5 0.1 1.4 0.7 1.4-1.1 1.5 0.4 1.4-0.5 1.4 0.1 1.5-0.7 1.4 0.6 1.4 0.2 1.5 0.3 1.4 0.6 1.5-0.7 1.4 0.2 1.4-0.7 1.5-0.3 1.4 0.2 1.4-0.8 1.5 0.6 1.4-0.1 1.4 0.7 1.5-0.4 1.4 0.2 1.5-0.7 1.4 0.5 1.4 1.1 1.5-1 1.4-0.5 1.4 0.8 1.5-0.2 1.4-0.3 1.4-0.3 1.5 0.7 1.4 0.1 1.5-0.1 1.4 0 1.4 0 1.5-0.4 1.4 0.6 1.4-0.6 1.5 0.4 1.4-0.1 1.4 0 1.5-0.7 1.4 0.1 1.4 0.3 1.5-0.3 1.4 0.5 1.5-0.4 1.4-0.2 1.4 0 1.5 0.6 1.4-0.5 1.4-0.3 1.5-0.1 1.4 0.4 1.4-0.6 1.5-0.6 1.4 0.1 1.5 0.4 1.4-0.5 1.4 0.9 1.5 0.8 1.4-0.2 1.4-0.1 1.5-0.1 1.4-0.3 1.4-0.3 1.5 0.1 1.4 0.4 1.5-0.2 1.4-0.4 1.4 0.4 1.5 0.4 1.4-0.3 1.4-0.2 1.5-1.7 1.4 0.7 1.4 0.6 1.5 0.1 1.4 0.2" stroke="#1a3cf2" stroke-width="1.7" fill="none" stroke-linejoin="round"/>
<path d="M212.6,231.7l1.4-0.8 1.5 0.5 1.4 0.7 1.4-0.2 1.5-1.1 1.4 1.2 1.5 0.3 1.4 0 1.4 0 1.5 0.9 1.4-0.3 1.4-0.5 1.5-0.6 1.4 0.6 1.4 0.2 1.5-0.2 1.4 0.3 1.5 0.4 1.4-0.7 1.4-0.4 1.5 0.2 1.4-0.3 1.4-0.2 1.5-0.2 1.4 0.4 1.4-0.2 1.5 0.5 1.4-0.2 1.5-0.4 1.4-0.5 1.4 0.4 1.5 0.5 1.4 0.2 1.4 0.4 1.5-0.8 1.4-0.4 1.4 0.7 1.5 0.1 1.4-0.1 1.5 0.6 1.4 0.1 1.4-0.8 1.5 0.3 1.4-0.5 1.4 0 1.5-0.5 1.4 0.7 1.4-0.7 1.5 0.6 1.4 0.1 1.4-0.6 1.5 0.6 1.4 0.5 1.5-0.7 1.4 0.3 1.4 0.6 1.5-1.1 1.4 0.6 1.4-0.5 1.5 0.2 1.4 0.4 1.4-0.3" stroke="#1a3cf2" stroke-width="1.7" fill="none" stroke-linejoin="round"/>
<path d="M212.6,261.4 L214.0,260.3 L215.5,261.2 L216.9,260.8 L218.3,259.7 L219.8,260.9 L221.2,260.8 L222.7,261.4 L224.1,260.1 L225.5,260.7 L227.0,260.7 L228.4,261.5 L229.8,261.0 L231.3,260.9 L232.7,261.0 L234.1,261.1 L235.6,261.8 L237.0,261.3 L238.5,259.8 L239.9,260.6 L241.3,260.4 L242.8,261.4 L244.2,260.2 L245.6,261.0 L247.1,260.9 L248.5,260.7 L249.9,260.8 L251.4,260.5 L252.8,261.3 L254.3,260.7 L255.7,261.3 L257.1,259.7 L258.6,261.5 L260.0,260.2 L261.4,260.2 L262.9,260.9 L264.3,260.9 L265.7,260.9 L267.2,260.6 L268.6,260.5 L270.1,260.6 L271.5,260.4 L272.9,260.6 L274.4,261.2 L275.8,260.5 L277.2,261.1 L278.7,261.3 L280.1,260.6 L281.5,260.9 L283.0,262.0 L284.4,260.4 L285.8,260.8 L287.3,260.6 L288.7,261.4 L290.2,260.9 L291.6,261.1 L293.0,260.9 L294.5,260.4 L295.9,261.5 L297.3,261.3 L298.8,261.5 L300.2,261.3 L301.6,262.4 L303.1,261.6 L304.5,262.4 L306.0,261.7 L307.4,262.1 L308.8,263.1 L310.3,263.5 L311.7,263.8 L313.1,264.3 L314.6,263.9 L316.0,263.9 L317.4,265.8 L318.9,266.1 L320.3,266.1 L321.8,266.6 L323.2,267.0 L324.6,268.3 L326.1,268.0 L327.5,269.1 L328.9,269.3 L330.4,270.3 L331.8,271.5 L333.2,271.2 L334.7,272.4 L336.1,273.3 L337.6,274.4 L339.0,274.8 L340.4,274.8 L341.9,275.7 L343.3,276.8 L344.7,278.2 L346.2,278.8" stroke="#1a3cf2" stroke-width="1.7" fill="none" stroke-linejoin="round"/>
<line x1="420.00" y1="173.00" x2="420.00" y2="323.50" stroke="#222" stroke-width="1.3"/>
<line x1="419.40" y1="322.90" x2="480.30" y2="322.90" stroke="#222" stroke-width="1.3"/>
<line x1="416.40" y1="173.50" x2="420.00" y2="173.50" stroke="#222" stroke-width="1.2"/>
<text x="397.73" y="178.30" font-size="13.20" fill="#222" stroke="#222" stroke-width="0.3">10</text>
<line x1="416.40" y1="204.60" x2="420.00" y2="204.60" stroke="#222" stroke-width="1.2"/>
<text x="394.10" y="209.40" font-size="13.20" fill="#222" stroke="#222" stroke-width="0.3">7.5</text>
<line x1="416.40" y1="235.70" x2="420.00" y2="235.70" stroke="#222" stroke-width="1.2"/>
<text x="405.11" y="240.50" font-size="13.20" fill="#222" stroke="#222" stroke-width="0.3">5</text>
<line x1="416.40" y1="266.80" x2="420.00" y2="266.80" stroke="#222" stroke-width="1.2"/>
<text x="394.10" y="271.60" font-size="13.20" fill="#222" stroke="#222" stroke-width="0.3">2.5</text>
<line x1="416.40" y1="297.90" x2="420.00" y2="297.90" stroke="#222" stroke-width="1.2"/>
<text x="405.07" y="302.70" font-size="13.20" fill="#222" stroke="#222" stroke-width="0.3">0</text>
<line x1="421.50" y1="298.00" x2="479.00" y2="298.00" stroke="#333" stroke-width="1.0" stroke-dasharray="2.3,2.2"/>
<rect x="455.50" y="237.60" width="15.60" height="60.40" fill="#7893f4"/>
<line x1="429.10" y1="168.40" x2="454.20" y2="168.40" stroke="#222" stroke-width="1.2"/>
<text x="428.53" y="171.50" font-size="16.60" fill="#222" textLength="25.6" lengthAdjust="spacingAndGlyphs" stroke="#222" stroke-width="0.3">****</text>
<text transform="translate(431.9,230.3) rotate(-90)" font-size="12.6" fill="#222" textLength="57" lengthAdjust="spacingAndGlyphs" stroke="#222" stroke-width="0.3">monomer</text>
<text transform="translate(456.7,207.2) rotate(-90)" font-size="12.6" fill="#222" textLength="34" lengthAdjust="spacingAndGlyphs" stroke="#222" stroke-width="0.3">trimer</text>
<text transform="translate(387.90,266.20) rotate(-90)" font-size="12.4" fill="#222" stroke="#222" stroke-width="0.3">Slope</text>
<text transform="translate(389.60,226.10) rotate(-90)" font-size="11.5" fill="#222" stroke="#222" stroke-width="0.3">(</text>
<text transform="translate(388.00,220.40) rotate(-90)" font-size="11.5" fill="#222" stroke="#222" stroke-width="0.3">·</text>
<text transform="translate(390.50,213.80) rotate(-90)" font-size="10.4" fill="#222" stroke="#222" stroke-width="0.3">10</text>
<text transform="translate(384.70,201.00) rotate(-90)" font-size="6.2" fill="#222" stroke="#222" stroke-width="0.3">-2</text>
<text transform="translate(389.60,194.50) rotate(-90)" font-size="11.5" fill="#222" stroke="#222" stroke-width="0.3">)</text>
<rect x="459.35" y="202.15" width="2.50" height="2.50" fill="#1a3cf2"/>
<rect x="463.75" y="204.75" width="2.50" height="2.50" fill="#1a3cf2"/>
<rect x="459.35" y="204.95" width="2.50" height="2.50" fill="#1a3cf2"/>
<rect x="455.35" y="211.35" width="2.50" height="2.50" fill="#1a3cf2"/>
<rect x="459.35" y="211.35" width="2.50" height="2.50" fill="#1a3cf2"/>
<rect x="464.15" y="211.35" width="2.50" height="2.50" fill="#1a3cf2"/>
<rect x="468.75" y="213.75" width="2.50" height="2.50" fill="#1a3cf2"/>
<rect x="455.35" y="213.95" width="2.50" height="2.50" fill="#1a3cf2"/>
<rect x="459.35" y="219.75" width="2.50" height="2.50" fill="#1a3cf2"/>
<rect x="463.75" y="221.75" width="2.50" height="2.50" fill="#1a3cf2"/>
<rect x="461.75" y="226.75" width="2.50" height="2.50" fill="#1a3cf2"/>
<rect x="459.35" y="233.75" width="2.50" height="2.50" fill="#1a3cf2"/>
<rect x="463.75" y="234.75" width="2.50" height="2.50" fill="#1a3cf2"/>
<rect x="468.75" y="231.75" width="2.50" height="2.50" fill="#1a3cf2"/>
<rect x="455.75" y="238.75" width="2.50" height="2.50" fill="#1a3cf2"/>
<rect x="459.75" y="238.75" width="2.50" height="2.50" fill="#1a3cf2"/>
<rect x="455.75" y="243.75" width="2.50" height="2.50" fill="#1a3cf2"/>
<rect x="459.75" y="244.75" width="2.50" height="2.50" fill="#1a3cf2"/>
<rect x="463.75" y="242.75" width="2.50" height="2.50" fill="#1a3cf2"/>
<rect x="468.75" y="242.75" width="2.50" height="2.50" fill="#1a3cf2"/>
<rect x="455.35" y="247.75" width="2.50" height="2.50" fill="#1a3cf2"/>
<rect x="459.35" y="247.75" width="2.50" height="2.50" fill="#1a3cf2"/>
<rect x="463.75" y="247.75" width="2.50" height="2.50" fill="#1a3cf2"/>
<rect x="468.75" y="247.75" width="2.50" height="2.50" fill="#1a3cf2"/>
<rect x="455.35" y="257.75" width="2.50" height="2.50" fill="#1a3cf2"/>
<rect x="459.35" y="259.75" width="2.50" height="2.50" fill="#1a3cf2"/>
<rect x="463.75" y="257.75" width="2.50" height="2.50" fill="#1a3cf2"/>
<rect x="459.45" y="286.05" width="2.50" height="2.50" fill="#1a3cf2"/>
<rect x="464.05" y="283.05" width="2.50" height="2.50" fill="#1a3cf2"/>
<circle cx="437.7" cy="260.6" r="1.65" fill="#0a0a0a"/>
<circle cx="437.7" cy="267.7" r="1.65" fill="#0a0a0a"/>
<circle cx="437.7" cy="274.6" r="1.65" fill="#0a0a0a"/>
<circle cx="438.0" cy="278.3" r="1.65" fill="#0a0a0a"/>
<circle cx="436.2" cy="307.2" r="1.65" fill="#0a0a0a"/>
<circle cx="438.0" cy="309.5" r="1.65" fill="#0a0a0a"/>
<circle cx="436.2" cy="316.6" r="1.65" fill="#0a0a0a"/>
<circle cx="437.7" cy="321.2" r="1.65" fill="#0a0a0a"/>
<circle cx="439.5" cy="312.0" r="1.65" fill="#0a0a0a"/>
<circle cx="440.3" cy="287.4" r="1.65" fill="#0a0a0a"/>
<circle cx="441.7" cy="287.6" r="1.65" fill="#0a0a0a"/>
<circle cx="430.6" cy="293.6" r="1.65" fill="#0a0a0a"/>
<circle cx="437.6" cy="281.0" r="1.65" fill="#0a0a0a"/>
<circle cx="440.1" cy="302.6" r="1.65" fill="#0a0a0a"/>
<circle cx="432.3" cy="291.5" r="1.65" fill="#0a0a0a"/>
<circle cx="438.2" cy="290.1" r="1.65" fill="#0a0a0a"/>
<circle cx="438.8" cy="295.4" r="1.65" fill="#0a0a0a"/>
<circle cx="435.2" cy="298.7" r="1.65" fill="#0a0a0a"/>
<circle cx="443.9" cy="294.8" r="1.65" fill="#0a0a0a"/>
<circle cx="442.1" cy="294.8" r="1.65" fill="#0a0a0a"/>
<circle cx="432.9" cy="291.0" r="1.65" fill="#0a0a0a"/>
<circle cx="430.5" cy="292.2" r="1.65" fill="#0a0a0a"/>
<circle cx="443.1" cy="292.4" r="1.65" fill="#0a0a0a"/>
<circle cx="444.7" cy="295.6" r="1.65" fill="#0a0a0a"/>
<circle cx="442.0" cy="298.5" r="1.65" fill="#0a0a0a"/>
<circle cx="438.2" cy="290.8" r="1.65" fill="#0a0a0a"/>
<circle cx="438.2" cy="306.0" r="1.65" fill="#0a0a0a"/>
<circle cx="439.9" cy="298.5" r="1.65" fill="#0a0a0a"/>
<circle cx="438.9" cy="306.0" r="1.65" fill="#0a0a0a"/>
<circle cx="436.1" cy="298.5" r="1.65" fill="#0a0a0a"/>
<circle cx="433.1" cy="291.4" r="1.65" fill="#0a0a0a"/>
<circle cx="434.8" cy="295.8" r="1.65" fill="#0a0a0a"/>
<circle cx="439.2" cy="296.2" r="1.65" fill="#0a0a0a"/>
<circle cx="436.9" cy="303.5" r="1.65" fill="#0a0a0a"/>
<circle cx="434.9" cy="294.7" r="1.65" fill="#0a0a0a"/>
<circle cx="435.3" cy="297.4" r="1.65" fill="#0a0a0a"/>
<circle cx="437.5" cy="288.3" r="1.65" fill="#0a0a0a"/>
<circle cx="444.8" cy="293.9" r="1.65" fill="#0a0a0a"/>
<circle cx="430.7" cy="292.5" r="1.65" fill="#0a0a0a"/>
<circle cx="430.5" cy="294.5" r="1.65" fill="#0a0a0a"/>
<circle cx="438.6" cy="282.9" r="1.65" fill="#0a0a0a"/>
<circle cx="432.1" cy="289.2" r="1.65" fill="#0a0a0a"/>
<circle cx="433.6" cy="300.4" r="1.65" fill="#0a0a0a"/>
<circle cx="435.1" cy="300.8" r="1.65" fill="#0a0a0a"/>
<circle cx="438.3" cy="306.0" r="1.65" fill="#0a0a0a"/>
<circle cx="437.3" cy="306.0" r="1.65" fill="#0a0a0a"/>
<circle cx="436.2" cy="288.4" r="1.65" fill="#0a0a0a"/>
<circle cx="435.9" cy="284.3" r="1.65" fill="#0a0a0a"/>
<circle cx="441.4" cy="292.9" r="1.65" fill="#0a0a0a"/>
<circle cx="432.0" cy="298.0" r="1.65" fill="#0a0a0a"/>
<circle cx="439.3" cy="283.1" r="1.65" fill="#0a0a0a"/>
<circle cx="438.9" cy="299.1" r="1.65" fill="#0a0a0a"/>
<circle cx="443.1" cy="297.5" r="1.65" fill="#0a0a0a"/>
<circle cx="438.1" cy="287.2" r="1.65" fill="#0a0a0a"/>
<circle cx="437.2" cy="306.0" r="1.65" fill="#0a0a0a"/>
<circle cx="431.5" cy="293.0" r="1.65" fill="#0a0a0a"/>
<circle cx="433.3" cy="297.9" r="1.65" fill="#0a0a0a"/>
<circle cx="435.0" cy="286.9" r="1.65" fill="#0a0a0a"/>
<circle cx="436.9" cy="281.0" r="1.65" fill="#0a0a0a"/>
<line x1="463.00" y1="215.20" x2="463.00" y2="259.60" stroke="#e8202a" stroke-width="1.3"/>
<line x1="458.40" y1="215.20" x2="467.60" y2="215.20" stroke="#e8202a" stroke-width="1.3"/>
<line x1="458.40" y1="259.60" x2="467.60" y2="259.60" stroke="#e8202a" stroke-width="1.3"/>
<line x1="437.70" y1="280.90" x2="437.70" y2="305.50" stroke="#e8202a" stroke-width="1.3"/>
<line x1="433.30" y1="280.90" x2="442.10" y2="280.90" stroke="#e8202a" stroke-width="1.3"/>
<line x1="433.30" y1="305.50" x2="442.10" y2="305.50" stroke="#e8202a" stroke-width="1.3"/>
<line x1="529.00" y1="170.20" x2="529.00" y2="323.60" stroke="#222" stroke-width="1.3"/>
<line x1="528.40" y1="323.00" x2="681.80" y2="323.00" stroke="#222" stroke-width="1.3"/>
<line x1="525.80" y1="170.70" x2="529.00" y2="170.70" stroke="#222" stroke-width="1.2"/>
<text x="508.08" y="175.50" font-size="13.20" fill="#222" stroke="#222" stroke-width="0.3">12</text>
<line x1="525.80" y1="204.50" x2="529.00" y2="204.50" stroke="#222" stroke-width="1.2"/>
<text x="515.38" y="209.30" font-size="13.20" fill="#222" stroke="#222" stroke-width="0.3">9</text>
<line x1="525.80" y1="238.30" x2="529.00" y2="238.30" stroke="#222" stroke-width="1.2"/>
<text x="515.34" y="243.10" font-size="13.20" fill="#222" stroke="#222" stroke-width="0.3">6</text>
<line x1="525.80" y1="272.10" x2="529.00" y2="272.10" stroke="#222" stroke-width="1.2"/>
<text x="515.34" y="276.90" font-size="13.20" fill="#222" stroke="#222" stroke-width="0.3">3</text>
<line x1="525.80" y1="305.90" x2="529.00" y2="305.90" stroke="#222" stroke-width="1.2"/>
<text x="515.27" y="310.70" font-size="13.20" fill="#222" stroke="#222" stroke-width="0.3">0</text>
<line x1="529.50" y1="323.00" x2="529.50" y2="326.00" stroke="#222" stroke-width="1.2"/>
<text x="529.50" y="340.30" font-size="12.60" fill="#222" text-anchor="middle" stroke="#222" stroke-width="0.3">0.4</text>
<line x1="559.92" y1="323.00" x2="559.92" y2="326.00" stroke="#222" stroke-width="1.2"/>
<text x="559.92" y="340.30" font-size="12.60" fill="#222" text-anchor="middle" stroke="#222" stroke-width="0.3">0.6</text>
<line x1="590.34" y1="323.00" x2="590.34" y2="326.00" stroke="#222" stroke-width="1.2"/>
<text x="590.34" y="340.30" font-size="12.60" fill="#222" text-anchor="middle" stroke="#222" stroke-width="0.3">0.8</text>
<line x1="620.76" y1="323.00" x2="620.76" y2="326.00" stroke="#222" stroke-width="1.2"/>
<text x="620.76" y="340.30" font-size="12.60" fill="#222" text-anchor="middle" stroke="#222" stroke-width="0.3">1.0</text>
<line x1="651.18" y1="323.00" x2="651.18" y2="326.00" stroke="#222" stroke-width="1.2"/>
<text x="651.18" y="340.30" font-size="12.60" fill="#222" text-anchor="middle" stroke="#222" stroke-width="0.3">1.2</text>
<line x1="681.60" y1="323.00" x2="681.60" y2="326.00" stroke="#222" stroke-width="1.2"/>
<text x="681.60" y="340.30" font-size="12.60" fill="#222" text-anchor="middle" stroke="#222" stroke-width="0.3">1.4</text>
<text x="570.30" y="354.70" font-size="13.38" fill="#222" stroke="#222" stroke-width="0.3">Measured NA</text>
<text transform="translate(504.50,266.60) rotate(-90)" font-size="12.4" fill="#222" stroke="#222" stroke-width="0.3">Slope</text>
<text transform="translate(506.20,226.50) rotate(-90)" font-size="11.5" fill="#222" stroke="#222" stroke-width="0.3">(</text>
<text transform="translate(504.60,220.80) rotate(-90)" font-size="11.5" fill="#222" stroke="#222" stroke-width="0.3">·</text>
<text transform="translate(507.10,214.20) rotate(-90)" font-size="10.4" fill="#222" stroke="#222" stroke-width="0.3">10</text>
<text transform="translate(501.30,201.40) rotate(-90)" font-size="6.2" fill="#222" stroke="#222" stroke-width="0.3">-2</text>
<text transform="translate(506.20,194.90) rotate(-90)" font-size="11.5" fill="#222" stroke="#222" stroke-width="0.3">)</text>
<line x1="531.00" y1="306.00" x2="681.00" y2="306.00" stroke="#8a8a8a" stroke-width="1.0" stroke-dasharray="3,2.6"/>
<circle cx="546.5" cy="176.6" r="2.9" fill="#111"/>
<text x="554.72" y="180.70" font-size="13.19" fill="#222" stroke="#222" stroke-width="0.3">monomer</text>
<rect x="629.80" y="174.30" width="5.60" height="5.40" fill="#1a3cf2"/>
<text x="643.81" y="180.70" font-size="12.52" fill="#222" stroke="#222" stroke-width="0.3">trimer</text>
<line x1="544.10" y1="208.40" x2="544.10" y2="233.70" stroke="#1a3cf2" stroke-width="1.3"/>
<line x1="540.50" y1="208.40" x2="547.70" y2="208.40" stroke="#1a3cf2" stroke-width="1.3"/>
<line x1="540.50" y1="233.70" x2="547.70" y2="233.70" stroke="#1a3cf2" stroke-width="1.3"/>
<rect x="541.50" y="218.50" width="5.20" height="5.20" fill="#1a3cf2"/>
<line x1="552.90" y1="226.90" x2="552.90" y2="268.60" stroke="#1a3cf2" stroke-width="1.3"/>
<line x1="549.30" y1="226.90" x2="556.50" y2="226.90" stroke="#1a3cf2" stroke-width="1.3"/>
<line x1="549.30" y1="268.60" x2="556.50" y2="268.60" stroke="#1a3cf2" stroke-width="1.3"/>
<rect x="550.30" y="245.40" width="5.20" height="5.20" fill="#1a3cf2"/>
<line x1="560.20" y1="187.30" x2="560.20" y2="276.20" stroke="#1a3cf2" stroke-width="1.3"/>
<line x1="556.60" y1="187.30" x2="563.80" y2="187.30" stroke="#1a3cf2" stroke-width="1.3"/>
<line x1="556.60" y1="276.20" x2="563.80" y2="276.20" stroke="#1a3cf2" stroke-width="1.3"/>
<rect x="557.60" y="229.30" width="5.20" height="5.20" fill="#1a3cf2"/>
<line x1="568.40" y1="219.60" x2="568.40" y2="270.30" stroke="#1a3cf2" stroke-width="1.3"/>
<line x1="564.80" y1="219.60" x2="572.00" y2="219.60" stroke="#1a3cf2" stroke-width="1.3"/>
<line x1="564.80" y1="270.30" x2="572.00" y2="270.30" stroke="#1a3cf2" stroke-width="1.3"/>
<rect x="565.80" y="241.90" width="5.20" height="5.20" fill="#1a3cf2"/>
<line x1="577.20" y1="229.90" x2="577.20" y2="275.30" stroke="#1a3cf2" stroke-width="1.3"/>
<line x1="573.60" y1="229.90" x2="580.80" y2="229.90" stroke="#1a3cf2" stroke-width="1.3"/>
<line x1="573.60" y1="275.30" x2="580.80" y2="275.30" stroke="#1a3cf2" stroke-width="1.3"/>
<rect x="574.60" y="250.10" width="5.20" height="5.20" fill="#1a3cf2"/>
<line x1="593.00" y1="212.30" x2="593.00" y2="246.90" stroke="#1a3cf2" stroke-width="1.3"/>
<line x1="589.40" y1="212.30" x2="596.60" y2="212.30" stroke="#1a3cf2" stroke-width="1.3"/>
<line x1="589.40" y1="246.90" x2="596.60" y2="246.90" stroke="#1a3cf2" stroke-width="1.3"/>
<rect x="590.40" y="227.30" width="5.20" height="5.20" fill="#1a3cf2"/>
<line x1="604.80" y1="199.90" x2="604.80" y2="295.20" stroke="#1a3cf2" stroke-width="1.3"/>
<line x1="601.20" y1="199.90" x2="608.40" y2="199.90" stroke="#1a3cf2" stroke-width="1.3"/>
<line x1="601.20" y1="295.20" x2="608.40" y2="295.20" stroke="#1a3cf2" stroke-width="1.3"/>
<rect x="602.20" y="244.80" width="5.20" height="5.20" fill="#1a3cf2"/>
<line x1="618.20" y1="242.50" x2="618.20" y2="264.50" stroke="#1a3cf2" stroke-width="1.3"/>
<line x1="614.60" y1="242.50" x2="621.80" y2="242.50" stroke="#1a3cf2" stroke-width="1.3"/>
<line x1="614.60" y1="264.50" x2="621.80" y2="264.50" stroke="#1a3cf2" stroke-width="1.3"/>
<rect x="615.60" y="250.70" width="5.20" height="5.20" fill="#1a3cf2"/>
<line x1="635.20" y1="199.10" x2="635.20" y2="249.80" stroke="#1a3cf2" stroke-width="1.3"/>
<line x1="631.60" y1="199.10" x2="638.80" y2="199.10" stroke="#1a3cf2" stroke-width="1.3"/>
<line x1="631.60" y1="249.80" x2="638.80" y2="249.80" stroke="#1a3cf2" stroke-width="1.3"/>
<rect x="632.60" y="222.00" width="5.20" height="5.20" fill="#1a3cf2"/>
<line x1="644.90" y1="215.20" x2="644.90" y2="259.80" stroke="#1a3cf2" stroke-width="1.3"/>
<line x1="641.30" y1="215.20" x2="648.50" y2="215.20" stroke="#1a3cf2" stroke-width="1.3"/>
<line x1="641.30" y1="259.80" x2="648.50" y2="259.80" stroke="#1a3cf2" stroke-width="1.3"/>
<rect x="642.30" y="235.20" width="5.20" height="5.20" fill="#1a3cf2"/>
<line x1="657.20" y1="208.40" x2="657.20" y2="270.90" stroke="#1a3cf2" stroke-width="1.3"/>
<line x1="653.60" y1="208.40" x2="660.80" y2="208.40" stroke="#1a3cf2" stroke-width="1.3"/>
<line x1="653.60" y1="270.90" x2="660.80" y2="270.90" stroke="#1a3cf2" stroke-width="1.3"/>
<rect x="654.60" y="236.90" width="5.20" height="5.20" fill="#1a3cf2"/>
<line x1="666.90" y1="248.00" x2="666.90" y2="274.70" stroke="#1a3cf2" stroke-width="1.3"/>
<line x1="663.30" y1="248.00" x2="670.50" y2="248.00" stroke="#1a3cf2" stroke-width="1.3"/>
<line x1="663.30" y1="274.70" x2="670.50" y2="274.70" stroke="#1a3cf2" stroke-width="1.3"/>
<rect x="664.30" y="258.90" width="5.20" height="5.20" fill="#1a3cf2"/>
<line x1="544.40" y1="293.60" x2="544.40" y2="313.20" stroke="#1a1a1a" stroke-width="1.3"/>
<line x1="540.90" y1="293.60" x2="547.90" y2="293.60" stroke="#1a1a1a" stroke-width="1.3"/>
<line x1="540.90" y1="313.20" x2="547.90" y2="313.20" stroke="#1a1a1a" stroke-width="1.3"/>
<circle cx="544.4" cy="303.4" r="2.9" fill="#1a1a1a"/>
<line x1="565.10" y1="300.00" x2="565.10" y2="315.20" stroke="#1a1a1a" stroke-width="1.3"/>
<line x1="561.60" y1="300.00" x2="568.60" y2="300.00" stroke="#1a1a1a" stroke-width="1.3"/>
<line x1="561.60" y1="315.20" x2="568.60" y2="315.20" stroke="#1a1a1a" stroke-width="1.3"/>
<circle cx="565.1" cy="307.4" r="2.9" fill="#1a1a1a"/>
<line x1="584.30" y1="292.80" x2="584.30" y2="319.00" stroke="#1a1a1a" stroke-width="1.3"/>
<line x1="580.80" y1="292.80" x2="587.80" y2="292.80" stroke="#1a1a1a" stroke-width="1.3"/>
<line x1="580.80" y1="319.00" x2="587.80" y2="319.00" stroke="#1a1a1a" stroke-width="1.3"/>
<circle cx="584.3" cy="306.0" r="2.9" fill="#1a1a1a"/>
<line x1="597.70" y1="305.10" x2="597.70" y2="320.10" stroke="#1a1a1a" stroke-width="1.3"/>
<line x1="594.20" y1="305.10" x2="601.20" y2="305.10" stroke="#1a1a1a" stroke-width="1.3"/>
<line x1="594.20" y1="320.10" x2="601.20" y2="320.10" stroke="#1a1a1a" stroke-width="1.3"/>
<circle cx="597.7" cy="312.6" r="2.9" fill="#1a1a1a"/>
<line x1="610.40" y1="299.50" x2="610.40" y2="315.80" stroke="#1a1a1a" stroke-width="1.3"/>
<line x1="606.90" y1="299.50" x2="613.90" y2="299.50" stroke="#1a1a1a" stroke-width="1.3"/>
<line x1="606.90" y1="315.80" x2="613.90" y2="315.80" stroke="#1a1a1a" stroke-width="1.3"/>
<circle cx="610.4" cy="308.1" r="2.9" fill="#1a1a1a"/>
<line x1="618.80" y1="303.80" x2="618.80" y2="315.40" stroke="#1a1a1a" stroke-width="1.3"/>
<line x1="615.30" y1="303.80" x2="622.30" y2="303.80" stroke="#1a1a1a" stroke-width="1.3"/>
<line x1="615.30" y1="315.40" x2="622.30" y2="315.40" stroke="#1a1a1a" stroke-width="1.3"/>
<circle cx="618.8" cy="309.4" r="2.9" fill="#1a1a1a"/>
<line x1="636.00" y1="301.60" x2="636.00" y2="318.70" stroke="#1a1a1a" stroke-width="1.3"/>
<line x1="632.50" y1="301.60" x2="639.50" y2="301.60" stroke="#1a1a1a" stroke-width="1.3"/>
<line x1="632.50" y1="318.70" x2="639.50" y2="318.70" stroke="#1a1a1a" stroke-width="1.3"/>
<circle cx="636.0" cy="309.9" r="2.9" fill="#1a1a1a"/>
<line x1="658.30" y1="301.80" x2="658.30" y2="315.40" stroke="#1a1a1a" stroke-width="1.3"/>
<line x1="654.80" y1="301.80" x2="661.80" y2="301.80" stroke="#1a1a1a" stroke-width="1.3"/>
<line x1="654.80" y1="315.40" x2="661.80" y2="315.40" stroke="#1a1a1a" stroke-width="1.3"/>
<circle cx="658.3" cy="308.6" r="2.9" fill="#1a1a1a"/>
<line x1="666.70" y1="300.80" x2="666.70" y2="316.10" stroke="#1a1a1a" stroke-width="1.3"/>
<line x1="663.20" y1="300.80" x2="670.20" y2="300.80" stroke="#1a1a1a" stroke-width="1.3"/>
<line x1="663.20" y1="316.10" x2="670.20" y2="316.10" stroke="#1a1a1a" stroke-width="1.3"/>
<circle cx="666.7" cy="308.3" r="2.9" fill="#1a1a1a"/>
</svg>
</body></html>
